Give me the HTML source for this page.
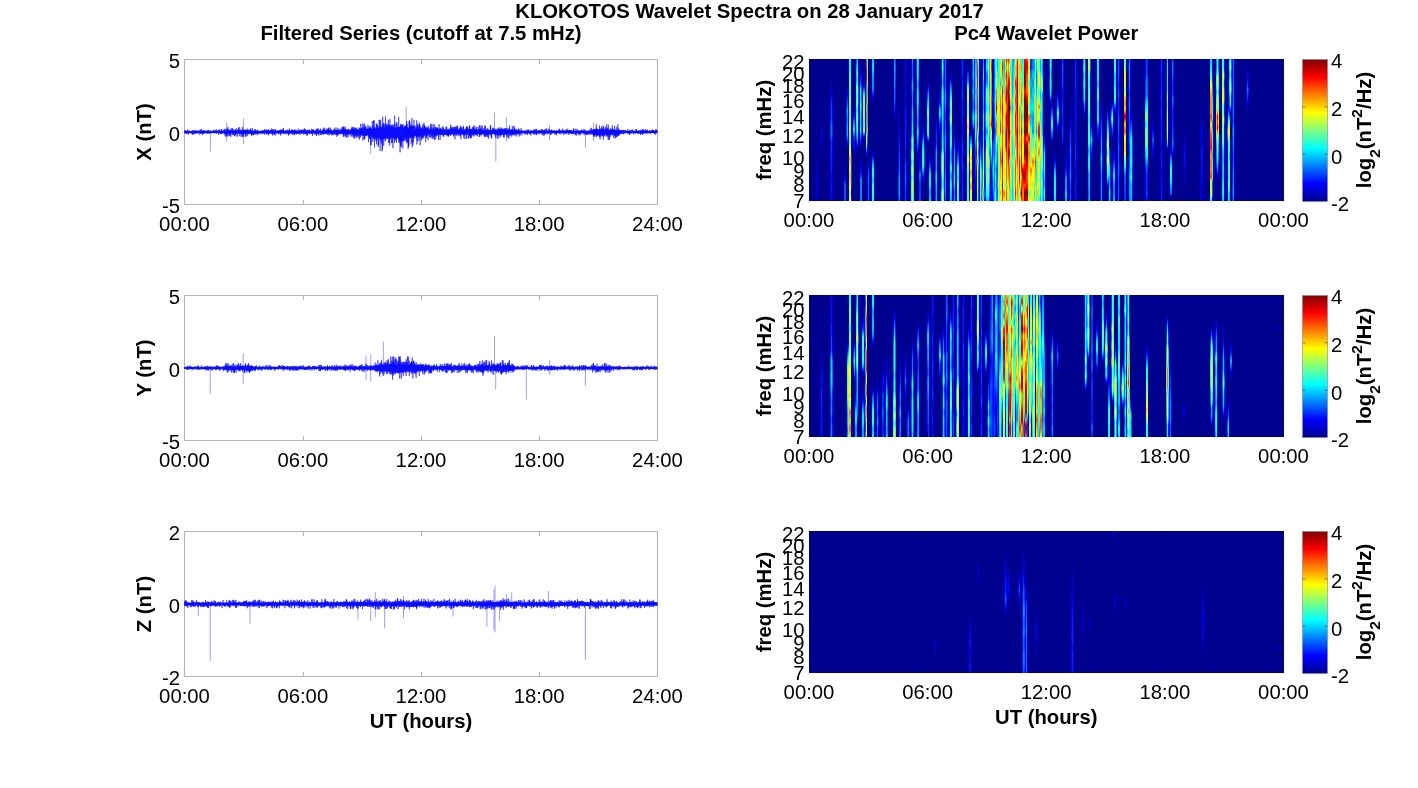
<!DOCTYPE html><html><head><meta charset="utf-8"><style>html,body{margin:0;padding:0;background:#fff;width:1418px;height:788px;overflow:hidden}svg{display:block}text{font-family:"Liberation Sans", Arial, Helvetica, sans-serif;font-size:20.3px;fill:#000;opacity:0.999}.b{font-weight:bold}.l{mix-blend-mode:lighten}</style></head><body>
<svg width="1418" height="788" viewBox="0 0 1418 788">
<defs><filter id="jet" x="0" y="0" width="1" height="1" color-interpolation-filters="sRGB"><feComponentTransfer><feFuncR type="table" tableValues="0 0 0 0 0.5 1 1 1 0.5"/><feFuncG type="table" tableValues="0 0 0.5 1 1 1 0.5 0 0"/><feFuncB type="table" tableValues="0.5625 1 1 1 0.5 0 0 0 0"/><feFuncA type="linear" slope="0" intercept="1"/></feComponentTransfer></filter><linearGradient id="cbg" x1="0" y1="1" x2="0" y2="0"><stop offset="0" stop-color="#000090"/><stop offset="0.125" stop-color="#0000ff"/><stop offset="0.375" stop-color="#00ffff"/><stop offset="0.625" stop-color="#ffff00"/><stop offset="0.875" stop-color="#ff0000"/><stop offset="1" stop-color="#800000"/></linearGradient></defs>
<text class="b" x="515.3" y="18.2" textLength="468.5" lengthAdjust="spacingAndGlyphs">KLOKOTOS Wavelet Spectra on 28 January 2017</text>
<text class="b" x="421.0" y="39.6" text-anchor="middle">Filtered Series (cutoff at 7.5 mHz)</text>
<text class="b" x="1046.25" y="39.5" text-anchor="middle">Pc4 Wavelet Power</text>
<rect x="184.5" y="59.5" width="473.0" height="145.0" fill="none" stroke="#b4b4b4" stroke-width="1"/>
<path d="M303.5 59.5v4.5M303.5 204.5v-4.5" stroke="#b4b4b4" stroke-width="1"/>
<path d="M421.5 59.5v4.5M421.5 204.5v-4.5" stroke="#b4b4b4" stroke-width="1"/>
<path d="M539.5 59.5v4.5M539.5 204.5v-4.5" stroke="#b4b4b4" stroke-width="1"/>
<text x="184.5" y="230.6" text-anchor="middle">00:00</text>
<text x="302.8" y="230.6" text-anchor="middle">06:00</text>
<text x="421.0" y="230.6" text-anchor="middle">12:00</text>
<text x="539.2" y="230.6" text-anchor="middle">18:00</text>
<text x="657.5" y="230.6" text-anchor="middle">24:00</text>
<text x="180.0" y="213.1" text-anchor="end">-5</text>
<path d="M184.5 132.5h4.5M657.5 132.5h-4.5" stroke="#b4b4b4" stroke-width="1"/>
<text x="180.0" y="140.6" text-anchor="end">0</text>
<text x="180.0" y="68.1" text-anchor="end">5</text>
<text class="b" transform="translate(150.7 132.0) rotate(-90)" text-anchor="middle">X (nT)</text>
<rect x="184.5" y="295.5" width="473.0" height="145.0" fill="none" stroke="#b4b4b4" stroke-width="1"/>
<path d="M303.5 295.5v4.5M303.5 440.5v-4.5" stroke="#b4b4b4" stroke-width="1"/>
<path d="M421.5 295.5v4.5M421.5 440.5v-4.5" stroke="#b4b4b4" stroke-width="1"/>
<path d="M539.5 295.5v4.5M539.5 440.5v-4.5" stroke="#b4b4b4" stroke-width="1"/>
<text x="184.5" y="466.6" text-anchor="middle">00:00</text>
<text x="302.8" y="466.6" text-anchor="middle">06:00</text>
<text x="421.0" y="466.6" text-anchor="middle">12:00</text>
<text x="539.2" y="466.6" text-anchor="middle">18:00</text>
<text x="657.5" y="466.6" text-anchor="middle">24:00</text>
<text x="180.0" y="449.1" text-anchor="end">-5</text>
<path d="M184.5 368.5h4.5M657.5 368.5h-4.5" stroke="#b4b4b4" stroke-width="1"/>
<text x="180.0" y="376.6" text-anchor="end">0</text>
<text x="180.0" y="304.1" text-anchor="end">5</text>
<text class="b" transform="translate(150.7 368.0) rotate(-90)" text-anchor="middle">Y (nT)</text>
<rect x="184.5" y="531.5" width="473.0" height="145.0" fill="none" stroke="#b4b4b4" stroke-width="1"/>
<path d="M303.5 531.5v4.5M303.5 676.5v-4.5" stroke="#b4b4b4" stroke-width="1"/>
<path d="M421.5 531.5v4.5M421.5 676.5v-4.5" stroke="#b4b4b4" stroke-width="1"/>
<path d="M539.5 531.5v4.5M539.5 676.5v-4.5" stroke="#b4b4b4" stroke-width="1"/>
<text x="184.5" y="702.6" text-anchor="middle">00:00</text>
<text x="302.8" y="702.6" text-anchor="middle">06:00</text>
<text x="421.0" y="702.6" text-anchor="middle">12:00</text>
<text x="539.2" y="702.6" text-anchor="middle">18:00</text>
<text x="657.5" y="702.6" text-anchor="middle">24:00</text>
<text x="180.0" y="685.1" text-anchor="end">-2</text>
<path d="M184.5 604.5h4.5M657.5 604.5h-4.5" stroke="#b4b4b4" stroke-width="1"/>
<text x="180.0" y="612.6" text-anchor="end">0</text>
<text x="180.0" y="540.1" text-anchor="end">2</text>
<text class="b" transform="translate(150.7 604.0) rotate(-90)" text-anchor="middle">Z (nT)</text>
<text class="b" x="421.0" y="727.8" text-anchor="middle">UT (hours)</text>
<text class="b" x="1046.25" y="723.6" text-anchor="middle">UT (hours)</text>
<g filter="url(#jet)"><rect x="809.0" y="59.0" width="474.5" height="142.0" fill="#000"/>
<g style="isolation:isolate"><defs><linearGradient id="g1" x2="0" y2="1"><stop offset="0.000" stop-color="#000000"/><stop offset="0.163" stop-color="#060606"/><stop offset="0.327" stop-color="#101010"/><stop offset="0.490" stop-color="#151515"/><stop offset="0.660" stop-color="#171717"/><stop offset="0.830" stop-color="#131313"/><stop offset="1.000" stop-color="#151515"/></linearGradient><linearGradient id="g2" x2="0" y2="1"><stop offset="0.000" stop-color="#000000"/><stop offset="0.148" stop-color="#090909"/><stop offset="0.296" stop-color="#111111"/><stop offset="0.444" stop-color="#1a1a1a"/><stop offset="0.630" stop-color="#131313"/><stop offset="0.815" stop-color="#0a0a0a"/><stop offset="1.000" stop-color="#000000"/></linearGradient><linearGradient id="g3" x2="0" y2="1"><stop offset="0.000" stop-color="#000000"/><stop offset="0.066" stop-color="#0c0c0c"/><stop offset="0.132" stop-color="#161616"/><stop offset="0.198" stop-color="#2a2a2a"/><stop offset="0.268" stop-color="#363636"/><stop offset="0.337" stop-color="#333333"/><stop offset="0.407" stop-color="#404040"/><stop offset="0.476" stop-color="#3f3f3f"/><stop offset="0.542" stop-color="#2c2c2c"/><stop offset="0.608" stop-color="#303030"/><stop offset="0.675" stop-color="#2a2a2a"/><stop offset="0.740" stop-color="#2b2b2b"/><stop offset="0.805" stop-color="#202020"/><stop offset="0.870" stop-color="#282828"/><stop offset="0.935" stop-color="#242424"/><stop offset="1.000" stop-color="#1b1b1b"/></linearGradient><linearGradient id="g4" x2="0" y2="1"><stop offset="0.000" stop-color="#000000"/><stop offset="0.203" stop-color="#0e0e0e"/><stop offset="0.407" stop-color="#1c1c1c"/><stop offset="0.610" stop-color="#353535"/><stop offset="0.805" stop-color="#353535"/><stop offset="1.000" stop-color="#353535"/></linearGradient><linearGradient id="g5" x2="0" y2="1"><stop offset="0.000" stop-color="#000000"/><stop offset="0.124" stop-color="#1f1f1f"/><stop offset="0.249" stop-color="#323232"/><stop offset="0.373" stop-color="#4f4f4f"/><stop offset="0.498" stop-color="#454545"/><stop offset="0.622" stop-color="#4c4c4c"/><stop offset="0.746" stop-color="#4f4f4f"/><stop offset="0.873" stop-color="#1f1f1f"/><stop offset="1.000" stop-color="#000000"/></linearGradient><linearGradient id="g6" x2="0" y2="1"><stop offset="0.000" stop-color="#6e6e6e"/><stop offset="0.058" stop-color="#646464"/><stop offset="0.115" stop-color="#737373"/><stop offset="0.173" stop-color="#7b7b7b"/><stop offset="0.231" stop-color="#707070"/><stop offset="0.289" stop-color="#838383"/><stop offset="0.347" stop-color="#777777"/><stop offset="0.406" stop-color="#797979"/><stop offset="0.465" stop-color="#8b8b8b"/><stop offset="0.523" stop-color="#848484"/><stop offset="0.582" stop-color="#757575"/><stop offset="0.641" stop-color="#989898"/><stop offset="0.702" stop-color="#b3b3b3"/><stop offset="0.764" stop-color="#a3a3a3"/><stop offset="0.826" stop-color="#acacac"/><stop offset="0.887" stop-color="#a5a5a5"/><stop offset="0.944" stop-color="#8b8b8b"/><stop offset="1.000" stop-color="#9e9e9e"/></linearGradient><linearGradient id="g7" x2="0" y2="1"><stop offset="0.000" stop-color="#000000"/><stop offset="0.147" stop-color="#252525"/><stop offset="0.293" stop-color="#474747"/><stop offset="0.440" stop-color="#5c5c5c"/><stop offset="0.580" stop-color="#393939"/><stop offset="0.720" stop-color="#2b2b2b"/><stop offset="0.860" stop-color="#191919"/><stop offset="1.000" stop-color="#000000"/></linearGradient><linearGradient id="g8" x2="0" y2="1"><stop offset="0.000" stop-color="#4f4f4f"/><stop offset="0.075" stop-color="#626262"/><stop offset="0.150" stop-color="#777777"/><stop offset="0.225" stop-color="#6b6b6b"/><stop offset="0.300" stop-color="#8a8a8a"/><stop offset="0.375" stop-color="#838383"/><stop offset="0.453" stop-color="#8c8c8c"/><stop offset="0.531" stop-color="#767676"/><stop offset="0.609" stop-color="#848484"/><stop offset="0.688" stop-color="#7e7e7e"/><stop offset="0.766" stop-color="#6e6e6e"/><stop offset="0.844" stop-color="#494949"/><stop offset="0.922" stop-color="#202020"/><stop offset="1.000" stop-color="#000000"/></linearGradient><linearGradient id="g9" x2="0" y2="1"><stop offset="0.000" stop-color="#000000"/><stop offset="0.089" stop-color="#242424"/><stop offset="0.179" stop-color="#383838"/><stop offset="0.268" stop-color="#696969"/><stop offset="0.366" stop-color="#5c5c5c"/><stop offset="0.463" stop-color="#747474"/><stop offset="0.561" stop-color="#626262"/><stop offset="0.659" stop-color="#565656"/><stop offset="0.756" stop-color="#646464"/><stop offset="0.837" stop-color="#444444"/><stop offset="0.919" stop-color="#242424"/><stop offset="1.000" stop-color="#000000"/></linearGradient><linearGradient id="g10" x2="0" y2="1"><stop offset="0.000" stop-color="#000000"/><stop offset="0.181" stop-color="#181818"/><stop offset="0.362" stop-color="#292929"/><stop offset="0.543" stop-color="#424242"/><stop offset="0.696" stop-color="#404040"/><stop offset="0.848" stop-color="#424242"/><stop offset="1.000" stop-color="#424242"/></linearGradient><linearGradient id="g11" x2="0" y2="1"><stop offset="0.000" stop-color="#000000"/><stop offset="0.108" stop-color="#313131"/><stop offset="0.215" stop-color="#585858"/><stop offset="0.323" stop-color="#838383"/><stop offset="0.444" stop-color="#7d7d7d"/><stop offset="0.565" stop-color="#838383"/><stop offset="0.685" stop-color="#686868"/><stop offset="0.806" stop-color="#838383"/><stop offset="0.903" stop-color="#343434"/><stop offset="1.000" stop-color="#000000"/></linearGradient><linearGradient id="g12" x2="0" y2="1"><stop offset="0.000" stop-color="#c8c8c8"/><stop offset="0.083" stop-color="#dcdcdc"/><stop offset="0.166" stop-color="#f7f7f7"/><stop offset="0.248" stop-color="#d6d6d6"/><stop offset="0.331" stop-color="#c6c6c6"/><stop offset="0.414" stop-color="#d2d2d2"/><stop offset="0.488" stop-color="#aeaeae"/><stop offset="0.562" stop-color="#c4c4c4"/><stop offset="0.636" stop-color="#bdbdbd"/><stop offset="0.717" stop-color="#cfcfcf"/><stop offset="0.798" stop-color="#989898"/><stop offset="0.859" stop-color="#818181"/><stop offset="0.919" stop-color="#4f4f4f"/><stop offset="1.000" stop-color="#000000"/></linearGradient><linearGradient id="g13" x2="0" y2="1"><stop offset="0.000" stop-color="#000000"/><stop offset="0.181" stop-color="#161616"/><stop offset="0.362" stop-color="#333333"/><stop offset="0.543" stop-color="#424242"/><stop offset="0.696" stop-color="#383838"/><stop offset="0.848" stop-color="#3d3d3d"/><stop offset="1.000" stop-color="#3a3a3a"/></linearGradient><linearGradient id="g14" x2="0" y2="1"><stop offset="0.000" stop-color="#4f4f4f"/><stop offset="0.168" stop-color="#5b5b5b"/><stop offset="0.337" stop-color="#4b4b4b"/><stop offset="0.505" stop-color="#444444"/><stop offset="0.674" stop-color="#424242"/><stop offset="0.837" stop-color="#1d1d1d"/><stop offset="1.000" stop-color="#000000"/></linearGradient><linearGradient id="g15" x2="0" y2="1"><stop offset="0.000" stop-color="#000000"/><stop offset="0.164" stop-color="#242424"/><stop offset="0.327" stop-color="#545454"/><stop offset="0.491" stop-color="#696969"/><stop offset="0.618" stop-color="#505050"/><stop offset="0.745" stop-color="#6f6f6f"/><stop offset="0.873" stop-color="#6d6d6d"/><stop offset="1.000" stop-color="#5c5c5c"/></linearGradient><linearGradient id="g16" x2="0" y2="1"><stop offset="0.000" stop-color="#424242"/><stop offset="0.124" stop-color="#4b4b4b"/><stop offset="0.248" stop-color="#454545"/><stop offset="0.373" stop-color="#454545"/><stop offset="0.497" stop-color="#3c3c3c"/><stop offset="0.621" stop-color="#3a3a3a"/><stop offset="0.747" stop-color="#282828"/><stop offset="0.874" stop-color="#131313"/><stop offset="1.000" stop-color="#000000"/></linearGradient><linearGradient id="g17" x2="0" y2="1"><stop offset="0.000" stop-color="#000000"/><stop offset="0.083" stop-color="#060606"/><stop offset="0.165" stop-color="#121212"/><stop offset="0.248" stop-color="#181818"/><stop offset="0.330" stop-color="#1b1b1b"/><stop offset="0.413" stop-color="#272727"/><stop offset="0.495" stop-color="#2f2f2f"/><stop offset="0.569" stop-color="#353535"/><stop offset="0.644" stop-color="#393939"/><stop offset="0.718" stop-color="#3e3e3e"/><stop offset="0.792" stop-color="#4a4a4a"/><stop offset="0.861" stop-color="#484848"/><stop offset="0.931" stop-color="#484848"/><stop offset="1.000" stop-color="#424242"/></linearGradient><linearGradient id="g18" x2="0" y2="1"><stop offset="0.000" stop-color="#202020"/><stop offset="0.058" stop-color="#222222"/><stop offset="0.117" stop-color="#202020"/><stop offset="0.175" stop-color="#1a1a1a"/><stop offset="0.233" stop-color="#1e1e1e"/><stop offset="0.291" stop-color="#1d1d1d"/><stop offset="0.350" stop-color="#242424"/><stop offset="0.408" stop-color="#292929"/><stop offset="0.466" stop-color="#292929"/><stop offset="0.524" stop-color="#292929"/><stop offset="0.583" stop-color="#2a2a2a"/><stop offset="0.641" stop-color="#262626"/><stop offset="0.702" stop-color="#262626"/><stop offset="0.764" stop-color="#383838"/><stop offset="0.826" stop-color="#3a3a3a"/><stop offset="0.887" stop-color="#3b3b3b"/><stop offset="0.944" stop-color="#2d2d2d"/><stop offset="1.000" stop-color="#353535"/></linearGradient><linearGradient id="g19" x2="0" y2="1"><stop offset="0.000" stop-color="#4a4a4a"/><stop offset="0.061" stop-color="#3b3b3b"/><stop offset="0.123" stop-color="#3c3c3c"/><stop offset="0.184" stop-color="#575757"/><stop offset="0.245" stop-color="#474747"/><stop offset="0.307" stop-color="#434343"/><stop offset="0.368" stop-color="#575757"/><stop offset="0.430" stop-color="#545454"/><stop offset="0.477" stop-color="#5f5f5f"/><stop offset="0.523" stop-color="#616161"/><stop offset="0.570" stop-color="#898989"/><stop offset="0.623" stop-color="#797979"/><stop offset="0.676" stop-color="#959595"/><stop offset="0.729" stop-color="#828282"/><stop offset="0.782" stop-color="#9e9e9e"/><stop offset="0.836" stop-color="#8b8b8b"/><stop offset="0.891" stop-color="#a5a5a5"/><stop offset="0.945" stop-color="#919191"/><stop offset="1.000" stop-color="#909090"/></linearGradient><linearGradient id="g20" x2="0" y2="1"><stop offset="0.000" stop-color="#696969"/><stop offset="0.080" stop-color="#606060"/><stop offset="0.159" stop-color="#666666"/><stop offset="0.239" stop-color="#515151"/><stop offset="0.318" stop-color="#606060"/><stop offset="0.398" stop-color="#646464"/><stop offset="0.476" stop-color="#5c5c5c"/><stop offset="0.553" stop-color="#4f4f4f"/><stop offset="0.631" stop-color="#484848"/><stop offset="0.709" stop-color="#626262"/><stop offset="0.786" stop-color="#4f4f4f"/><stop offset="0.858" stop-color="#353535"/><stop offset="0.929" stop-color="#171717"/><stop offset="1.000" stop-color="#000000"/></linearGradient><linearGradient id="g21" x2="0" y2="1"><stop offset="0.000" stop-color="#000000"/><stop offset="0.134" stop-color="#111111"/><stop offset="0.268" stop-color="#252525"/><stop offset="0.402" stop-color="#272727"/><stop offset="0.536" stop-color="#424242"/><stop offset="0.690" stop-color="#323232"/><stop offset="0.845" stop-color="#333333"/><stop offset="1.000" stop-color="#3a3a3a"/></linearGradient><linearGradient id="g22" x2="0" y2="1"><stop offset="0.000" stop-color="#000000"/><stop offset="0.115" stop-color="#1b1b1b"/><stop offset="0.231" stop-color="#2a2a2a"/><stop offset="0.346" stop-color="#525252"/><stop offset="0.462" stop-color="#646464"/><stop offset="0.577" stop-color="#717171"/><stop offset="0.692" stop-color="#6e6e6e"/><stop offset="0.795" stop-color="#4b4b4b"/><stop offset="0.897" stop-color="#202020"/><stop offset="1.000" stop-color="#000000"/></linearGradient><linearGradient id="g23" x2="0" y2="1"><stop offset="0.000" stop-color="#000000"/><stop offset="0.131" stop-color="#282828"/><stop offset="0.261" stop-color="#4a4a4a"/><stop offset="0.392" stop-color="#636363"/><stop offset="0.522" stop-color="#838383"/><stop offset="0.632" stop-color="#6d6d6d"/><stop offset="0.741" stop-color="#7d7d7d"/><stop offset="0.851" stop-color="#6e6e6e"/><stop offset="0.925" stop-color="#353535"/><stop offset="1.000" stop-color="#000000"/></linearGradient><linearGradient id="g24" x2="0" y2="1"><stop offset="0.000" stop-color="#000000"/><stop offset="0.163" stop-color="#202020"/><stop offset="0.327" stop-color="#383838"/><stop offset="0.490" stop-color="#5c5c5c"/><stop offset="0.660" stop-color="#5e5e5e"/><stop offset="0.830" stop-color="#464646"/><stop offset="1.000" stop-color="#545454"/></linearGradient><linearGradient id="g25" x2="0" y2="1"><stop offset="0.000" stop-color="#000000"/><stop offset="0.092" stop-color="#0c0c0c"/><stop offset="0.183" stop-color="#202020"/><stop offset="0.275" stop-color="#2e2e2e"/><stop offset="0.366" stop-color="#303030"/><stop offset="0.458" stop-color="#4c4c4c"/><stop offset="0.549" stop-color="#4f4f4f"/><stop offset="0.640" stop-color="#484848"/><stop offset="0.730" stop-color="#5e5e5e"/><stop offset="0.820" stop-color="#575757"/><stop offset="0.910" stop-color="#4c4c4c"/><stop offset="1.000" stop-color="#4f4f4f"/></linearGradient><linearGradient id="g26" x2="0" y2="1"><stop offset="0.000" stop-color="#000000"/><stop offset="0.130" stop-color="#141414"/><stop offset="0.260" stop-color="#242424"/><stop offset="0.389" stop-color="#505050"/><stop offset="0.519" stop-color="#5c5c5c"/><stop offset="0.679" stop-color="#313131"/><stop offset="0.840" stop-color="#232323"/><stop offset="1.000" stop-color="#000000"/></linearGradient><linearGradient id="g27" x2="0" y2="1"><stop offset="0.000" stop-color="#5c5c5c"/><stop offset="0.057" stop-color="#707070"/><stop offset="0.114" stop-color="#606060"/><stop offset="0.171" stop-color="#515151"/><stop offset="0.228" stop-color="#6e6e6e"/><stop offset="0.285" stop-color="#747474"/><stop offset="0.342" stop-color="#696969"/><stop offset="0.399" stop-color="#626262"/><stop offset="0.456" stop-color="#5d5d5d"/><stop offset="0.513" stop-color="#5c5c5c"/><stop offset="0.570" stop-color="#646464"/><stop offset="0.629" stop-color="#646464"/><stop offset="0.688" stop-color="#8c8c8c"/><stop offset="0.746" stop-color="#909090"/><stop offset="0.797" stop-color="#8c8c8c"/><stop offset="0.848" stop-color="#7d7d7d"/><stop offset="0.899" stop-color="#777777"/><stop offset="0.949" stop-color="#9b9b9b"/><stop offset="1.000" stop-color="#909090"/></linearGradient><linearGradient id="g28" x2="0" y2="1"><stop offset="0.000" stop-color="#3f3f3f"/><stop offset="0.062" stop-color="#393939"/><stop offset="0.125" stop-color="#3f3f3f"/><stop offset="0.188" stop-color="#393939"/><stop offset="0.250" stop-color="#484848"/><stop offset="0.312" stop-color="#494949"/><stop offset="0.375" stop-color="#303030"/><stop offset="0.438" stop-color="#353535"/><stop offset="0.500" stop-color="#383838"/><stop offset="0.562" stop-color="#4a4a4a"/><stop offset="0.625" stop-color="#444444"/><stop offset="0.688" stop-color="#383838"/><stop offset="0.750" stop-color="#343434"/><stop offset="0.812" stop-color="#404040"/><stop offset="0.875" stop-color="#444444"/><stop offset="0.938" stop-color="#464646"/><stop offset="1.000" stop-color="#3b3b3b"/></linearGradient><linearGradient id="g29" x2="0" y2="1"><stop offset="0.000" stop-color="#000000"/><stop offset="0.065" stop-color="#1d1d1d"/><stop offset="0.130" stop-color="#484848"/><stop offset="0.195" stop-color="#646464"/><stop offset="0.260" stop-color="#7b7b7b"/><stop offset="0.319" stop-color="#767676"/><stop offset="0.378" stop-color="#8b8b8b"/><stop offset="0.437" stop-color="#616161"/><stop offset="0.496" stop-color="#696969"/><stop offset="0.559" stop-color="#717171"/><stop offset="0.622" stop-color="#525252"/><stop offset="0.685" stop-color="#545454"/><stop offset="0.748" stop-color="#717171"/><stop offset="0.811" stop-color="#525252"/><stop offset="0.874" stop-color="#666666"/><stop offset="0.937" stop-color="#5d5d5d"/><stop offset="1.000" stop-color="#575757"/></linearGradient><linearGradient id="g30" x2="0" y2="1"><stop offset="0.000" stop-color="#000000"/><stop offset="0.087" stop-color="#0f0f0f"/><stop offset="0.174" stop-color="#191919"/><stop offset="0.262" stop-color="#252525"/><stop offset="0.349" stop-color="#303030"/><stop offset="0.436" stop-color="#4c4c4c"/><stop offset="0.523" stop-color="#4f4f4f"/><stop offset="0.619" stop-color="#525252"/><stop offset="0.714" stop-color="#5f5f5f"/><stop offset="0.809" stop-color="#5c5c5c"/><stop offset="0.905" stop-color="#424242"/><stop offset="1.000" stop-color="#4f4f4f"/></linearGradient><linearGradient id="g31" x2="0" y2="1"><stop offset="0.000" stop-color="#000000"/><stop offset="0.133" stop-color="#1c1c1c"/><stop offset="0.265" stop-color="#2e2e2e"/><stop offset="0.398" stop-color="#424242"/><stop offset="0.530" stop-color="#6e6e6e"/><stop offset="0.648" stop-color="#575757"/><stop offset="0.765" stop-color="#7a7a7a"/><stop offset="0.883" stop-color="#737373"/><stop offset="1.000" stop-color="#646464"/></linearGradient><linearGradient id="g32" x2="0" y2="1"><stop offset="0.000" stop-color="#2a2a2a"/><stop offset="0.062" stop-color="#303030"/><stop offset="0.125" stop-color="#272727"/><stop offset="0.188" stop-color="#2c2c2c"/><stop offset="0.250" stop-color="#2f2f2f"/><stop offset="0.312" stop-color="#282828"/><stop offset="0.375" stop-color="#2b2b2b"/><stop offset="0.438" stop-color="#252525"/><stop offset="0.500" stop-color="#222222"/><stop offset="0.562" stop-color="#262626"/><stop offset="0.625" stop-color="#313131"/><stop offset="0.688" stop-color="#2b2b2b"/><stop offset="0.750" stop-color="#323232"/><stop offset="0.812" stop-color="#292929"/><stop offset="0.875" stop-color="#262626"/><stop offset="0.938" stop-color="#2f2f2f"/><stop offset="1.000" stop-color="#2a2a2a"/></linearGradient><linearGradient id="g33" x2="0" y2="1"><stop offset="0.000" stop-color="#000000"/><stop offset="0.061" stop-color="#323232"/><stop offset="0.123" stop-color="#454545"/><stop offset="0.184" stop-color="#838383"/><stop offset="0.239" stop-color="#949494"/><stop offset="0.294" stop-color="#777777"/><stop offset="0.349" stop-color="#7d7d7d"/><stop offset="0.404" stop-color="#9e9e9e"/><stop offset="0.460" stop-color="#acacac"/><stop offset="0.515" stop-color="#898989"/><stop offset="0.575" stop-color="#6b6b6b"/><stop offset="0.636" stop-color="#757575"/><stop offset="0.697" stop-color="#9e9e9e"/><stop offset="0.757" stop-color="#7b7b7b"/><stop offset="0.818" stop-color="#686868"/><stop offset="0.879" stop-color="#696969"/><stop offset="0.939" stop-color="#6b6b6b"/><stop offset="1.000" stop-color="#767676"/></linearGradient><linearGradient id="g34" x2="0" y2="1"><stop offset="0.000" stop-color="#000000"/><stop offset="0.094" stop-color="#353535"/><stop offset="0.188" stop-color="#4f4f4f"/><stop offset="0.282" stop-color="#909090"/><stop offset="0.387" stop-color="#aeaeae"/><stop offset="0.493" stop-color="#8f8f8f"/><stop offset="0.599" stop-color="#bababa"/><stop offset="0.704" stop-color="#9e9e9e"/><stop offset="0.803" stop-color="#bababa"/><stop offset="0.901" stop-color="#8f8f8f"/><stop offset="1.000" stop-color="#9e9e9e"/></linearGradient><linearGradient id="g35" x2="0" y2="1"><stop offset="0.000" stop-color="#5c5c5c"/><stop offset="0.109" stop-color="#505050"/><stop offset="0.217" stop-color="#585858"/><stop offset="0.326" stop-color="#484848"/><stop offset="0.434" stop-color="#5b5b5b"/><stop offset="0.543" stop-color="#434343"/><stop offset="0.651" stop-color="#404040"/><stop offset="0.760" stop-color="#626262"/><stop offset="0.868" stop-color="#4f4f4f"/><stop offset="0.934" stop-color="#242424"/><stop offset="1.000" stop-color="#000000"/></linearGradient><linearGradient id="g36" x2="0" y2="1"><stop offset="0.000" stop-color="#494949"/><stop offset="0.056" stop-color="#535353"/><stop offset="0.113" stop-color="#555555"/><stop offset="0.171" stop-color="#565656"/><stop offset="0.230" stop-color="#545454"/><stop offset="0.289" stop-color="#5e5e5e"/><stop offset="0.347" stop-color="#4e4e4e"/><stop offset="0.406" stop-color="#767676"/><stop offset="0.465" stop-color="#666666"/><stop offset="0.512" stop-color="#6c6c6c"/><stop offset="0.559" stop-color="#5d5d5d"/><stop offset="0.606" stop-color="#414141"/><stop offset="0.664" stop-color="#313131"/><stop offset="0.723" stop-color="#2f2f2f"/><stop offset="0.782" stop-color="#303030"/><stop offset="0.836" stop-color="#262626"/><stop offset="0.891" stop-color="#1d1d1d"/><stop offset="0.945" stop-color="#0c0c0c"/><stop offset="1.000" stop-color="#000000"/></linearGradient><linearGradient id="g37" x2="0" y2="1"><stop offset="0.000" stop-color="#b1b1b1"/><stop offset="0.056" stop-color="#d5d5d5"/><stop offset="0.113" stop-color="#d9d9d9"/><stop offset="0.171" stop-color="#e9e9e9"/><stop offset="0.230" stop-color="#c2c2c2"/><stop offset="0.289" stop-color="#dadada"/><stop offset="0.347" stop-color="#e2e2e2"/><stop offset="0.406" stop-color="#d0d0d0"/><stop offset="0.465" stop-color="#e7e7e7"/><stop offset="0.512" stop-color="#b9b9b9"/><stop offset="0.559" stop-color="#989898"/><stop offset="0.606" stop-color="#a4a4a4"/><stop offset="0.664" stop-color="#919191"/><stop offset="0.723" stop-color="#c0c0c0"/><stop offset="0.782" stop-color="#9c9c9c"/><stop offset="0.836" stop-color="#929292"/><stop offset="0.891" stop-color="#989898"/><stop offset="0.945" stop-color="#909090"/><stop offset="1.000" stop-color="#818181"/></linearGradient><linearGradient id="g38" x2="0" y2="1"><stop offset="0.000" stop-color="#0d0d0d"/><stop offset="0.056" stop-color="#121212"/><stop offset="0.113" stop-color="#101010"/><stop offset="0.171" stop-color="#0a0a0a"/><stop offset="0.230" stop-color="#050505"/><stop offset="0.289" stop-color="#000000"/><stop offset="0.347" stop-color="#000000"/><stop offset="0.406" stop-color="#000000"/><stop offset="0.465" stop-color="#000000"/><stop offset="0.512" stop-color="#121212"/><stop offset="0.559" stop-color="#252525"/><stop offset="0.606" stop-color="#303030"/><stop offset="0.664" stop-color="#444444"/><stop offset="0.723" stop-color="#5d5d5d"/><stop offset="0.782" stop-color="#7f7f7f"/><stop offset="0.836" stop-color="#7d7d7d"/><stop offset="0.891" stop-color="#7a7a7a"/><stop offset="0.945" stop-color="#767676"/><stop offset="1.000" stop-color="#6d6d6d"/></linearGradient><linearGradient id="g39" x2="0" y2="1"><stop offset="0.000" stop-color="#434343"/><stop offset="0.056" stop-color="#4d4d4d"/><stop offset="0.113" stop-color="#6b6b6b"/><stop offset="0.171" stop-color="#4e4e4e"/><stop offset="0.230" stop-color="#505050"/><stop offset="0.289" stop-color="#515151"/><stop offset="0.347" stop-color="#484848"/><stop offset="0.406" stop-color="#646464"/><stop offset="0.465" stop-color="#6a6a6a"/><stop offset="0.512" stop-color="#595959"/><stop offset="0.559" stop-color="#5b5b5b"/><stop offset="0.606" stop-color="#747474"/><stop offset="0.664" stop-color="#858585"/><stop offset="0.723" stop-color="#7b7b7b"/><stop offset="0.782" stop-color="#919191"/><stop offset="0.836" stop-color="#ababab"/><stop offset="0.891" stop-color="#9e9e9e"/><stop offset="0.945" stop-color="#c0c0c0"/><stop offset="1.000" stop-color="#adadad"/></linearGradient><linearGradient id="g40" x2="0" y2="1"><stop offset="0.000" stop-color="#181818"/><stop offset="0.056" stop-color="#151515"/><stop offset="0.113" stop-color="#1b1b1b"/><stop offset="0.171" stop-color="#272727"/><stop offset="0.230" stop-color="#393939"/><stop offset="0.289" stop-color="#3e3e3e"/><stop offset="0.347" stop-color="#313131"/><stop offset="0.406" stop-color="#474747"/><stop offset="0.465" stop-color="#3a3a3a"/><stop offset="0.512" stop-color="#2a2a2a"/><stop offset="0.559" stop-color="#2e2e2e"/><stop offset="0.606" stop-color="#212121"/><stop offset="0.664" stop-color="#343434"/><stop offset="0.723" stop-color="#3b3b3b"/><stop offset="0.782" stop-color="#3d3d3d"/><stop offset="0.836" stop-color="#333333"/><stop offset="0.891" stop-color="#2a2a2a"/><stop offset="0.945" stop-color="#2d2d2d"/><stop offset="1.000" stop-color="#272727"/></linearGradient><linearGradient id="g41" x2="0" y2="1"><stop offset="0.000" stop-color="#6e6e6e"/><stop offset="0.056" stop-color="#787878"/><stop offset="0.113" stop-color="#5d5d5d"/><stop offset="0.171" stop-color="#636363"/><stop offset="0.230" stop-color="#939393"/><stop offset="0.289" stop-color="#8d8d8d"/><stop offset="0.347" stop-color="#737373"/><stop offset="0.406" stop-color="#9d9d9d"/><stop offset="0.465" stop-color="#808080"/><stop offset="0.512" stop-color="#6b6b6b"/><stop offset="0.559" stop-color="#838383"/><stop offset="0.606" stop-color="#959595"/><stop offset="0.664" stop-color="#b1b1b1"/><stop offset="0.723" stop-color="#ababab"/><stop offset="0.782" stop-color="#989898"/><stop offset="0.836" stop-color="#a6a6a6"/><stop offset="0.891" stop-color="#959595"/><stop offset="0.945" stop-color="#848484"/><stop offset="1.000" stop-color="#6c6c6c"/></linearGradient><linearGradient id="g42" x2="0" y2="1"><stop offset="0.000" stop-color="#838383"/><stop offset="0.056" stop-color="#8f8f8f"/><stop offset="0.113" stop-color="#848484"/><stop offset="0.171" stop-color="#757575"/><stop offset="0.230" stop-color="#888888"/><stop offset="0.289" stop-color="#909090"/><stop offset="0.347" stop-color="#797979"/><stop offset="0.406" stop-color="#9b9b9b"/><stop offset="0.465" stop-color="#8c8c8c"/><stop offset="0.512" stop-color="#959595"/><stop offset="0.559" stop-color="#7b7b7b"/><stop offset="0.606" stop-color="#898989"/><stop offset="0.664" stop-color="#6e6e6e"/><stop offset="0.723" stop-color="#a5a5a5"/><stop offset="0.782" stop-color="#898989"/><stop offset="0.836" stop-color="#8f8f8f"/><stop offset="0.891" stop-color="#757575"/><stop offset="0.945" stop-color="#696969"/><stop offset="1.000" stop-color="#5c5c5c"/></linearGradient><linearGradient id="g43" x2="0" y2="1"><stop offset="0.000" stop-color="#c0c0c0"/><stop offset="0.056" stop-color="#dddddd"/><stop offset="0.113" stop-color="#bebebe"/><stop offset="0.171" stop-color="#bfbfbf"/><stop offset="0.230" stop-color="#bfbfbf"/><stop offset="0.289" stop-color="#cdcdcd"/><stop offset="0.347" stop-color="#c7c7c7"/><stop offset="0.406" stop-color="#c7c7c7"/><stop offset="0.465" stop-color="#e8e8e8"/><stop offset="0.512" stop-color="#9d9d9d"/><stop offset="0.559" stop-color="#b1b1b1"/><stop offset="0.606" stop-color="#858585"/><stop offset="0.664" stop-color="#636363"/><stop offset="0.723" stop-color="#4b4b4b"/><stop offset="0.782" stop-color="#2b2b2b"/><stop offset="0.836" stop-color="#232323"/><stop offset="0.891" stop-color="#2a2a2a"/><stop offset="0.945" stop-color="#262626"/><stop offset="1.000" stop-color="#2e2e2e"/></linearGradient><linearGradient id="g44" x2="0" y2="1"><stop offset="0.000" stop-color="#212121"/><stop offset="0.056" stop-color="#0e0e0e"/><stop offset="0.113" stop-color="#010101"/><stop offset="0.171" stop-color="#101010"/><stop offset="0.230" stop-color="#272727"/><stop offset="0.289" stop-color="#333333"/><stop offset="0.347" stop-color="#212121"/><stop offset="0.406" stop-color="#111111"/><stop offset="0.465" stop-color="#010101"/><stop offset="0.512" stop-color="#1a1a1a"/><stop offset="0.559" stop-color="#2b2b2b"/><stop offset="0.606" stop-color="#484848"/><stop offset="0.664" stop-color="#424242"/><stop offset="0.723" stop-color="#636363"/><stop offset="0.782" stop-color="#6e6e6e"/><stop offset="0.836" stop-color="#616161"/><stop offset="0.891" stop-color="#595959"/><stop offset="0.945" stop-color="#454545"/><stop offset="1.000" stop-color="#393939"/></linearGradient><linearGradient id="g45" x2="0" y2="1"><stop offset="0.000" stop-color="#686868"/><stop offset="0.056" stop-color="#696969"/><stop offset="0.113" stop-color="#5a5a5a"/><stop offset="0.171" stop-color="#6a6a6a"/><stop offset="0.230" stop-color="#5b5b5b"/><stop offset="0.289" stop-color="#6d6d6d"/><stop offset="0.347" stop-color="#636363"/><stop offset="0.406" stop-color="#585858"/><stop offset="0.465" stop-color="#4f4f4f"/><stop offset="0.512" stop-color="#464646"/><stop offset="0.559" stop-color="#4d4d4d"/><stop offset="0.606" stop-color="#515151"/><stop offset="0.664" stop-color="#565656"/><stop offset="0.723" stop-color="#656565"/><stop offset="0.782" stop-color="#585858"/><stop offset="0.836" stop-color="#717171"/><stop offset="0.891" stop-color="#5d5d5d"/><stop offset="0.945" stop-color="#767676"/><stop offset="1.000" stop-color="#767676"/></linearGradient><linearGradient id="g46" x2="0" y2="1"><stop offset="0.000" stop-color="#888888"/><stop offset="0.056" stop-color="#7e7e7e"/><stop offset="0.113" stop-color="#b2b2b2"/><stop offset="0.171" stop-color="#979797"/><stop offset="0.230" stop-color="#c2c2c2"/><stop offset="0.289" stop-color="#c9c9c9"/><stop offset="0.347" stop-color="#ebebeb"/><stop offset="0.406" stop-color="#ababab"/><stop offset="0.465" stop-color="#cacaca"/><stop offset="0.512" stop-color="#c3c3c3"/><stop offset="0.559" stop-color="#adadad"/><stop offset="0.606" stop-color="#797979"/><stop offset="0.664" stop-color="#5f5f5f"/><stop offset="0.723" stop-color="#5f5f5f"/><stop offset="0.782" stop-color="#474747"/><stop offset="0.836" stop-color="#525252"/><stop offset="0.891" stop-color="#444444"/><stop offset="0.945" stop-color="#4e4e4e"/><stop offset="1.000" stop-color="#484848"/></linearGradient><linearGradient id="g47" x2="0" y2="1"><stop offset="0.000" stop-color="#737373"/><stop offset="0.056" stop-color="#707070"/><stop offset="0.113" stop-color="#585858"/><stop offset="0.171" stop-color="#6b6b6b"/><stop offset="0.230" stop-color="#878787"/><stop offset="0.289" stop-color="#838383"/><stop offset="0.347" stop-color="#9b9b9b"/><stop offset="0.406" stop-color="#a0a0a0"/><stop offset="0.465" stop-color="#868686"/><stop offset="0.512" stop-color="#929292"/><stop offset="0.559" stop-color="#808080"/><stop offset="0.606" stop-color="#9d9d9d"/><stop offset="0.664" stop-color="#858585"/><stop offset="0.723" stop-color="#7c7c7c"/><stop offset="0.782" stop-color="#858585"/><stop offset="0.836" stop-color="#929292"/><stop offset="0.891" stop-color="#a6a6a6"/><stop offset="0.945" stop-color="#7e7e7e"/><stop offset="1.000" stop-color="#a5a5a5"/></linearGradient><linearGradient id="g48" x2="0" y2="1"><stop offset="0.000" stop-color="#8b8b8b"/><stop offset="0.056" stop-color="#a5a5a5"/><stop offset="0.113" stop-color="#a6a6a6"/><stop offset="0.171" stop-color="#c0c0c0"/><stop offset="0.230" stop-color="#adadad"/><stop offset="0.289" stop-color="#c3c3c3"/><stop offset="0.347" stop-color="#cacaca"/><stop offset="0.406" stop-color="#afafaf"/><stop offset="0.465" stop-color="#d3d3d3"/><stop offset="0.512" stop-color="#d7d7d7"/><stop offset="0.559" stop-color="#909090"/><stop offset="0.606" stop-color="#a5a5a5"/><stop offset="0.664" stop-color="#cecece"/><stop offset="0.723" stop-color="#c7c7c7"/><stop offset="0.782" stop-color="#b4b4b4"/><stop offset="0.836" stop-color="#b5b5b5"/><stop offset="0.891" stop-color="#919191"/><stop offset="0.945" stop-color="#b5b5b5"/><stop offset="1.000" stop-color="#909090"/></linearGradient><linearGradient id="g49" x2="0" y2="1"><stop offset="0.000" stop-color="#b4b4b4"/><stop offset="0.056" stop-color="#e2e2e2"/><stop offset="0.113" stop-color="#c4c4c4"/><stop offset="0.171" stop-color="#a8a8a8"/><stop offset="0.230" stop-color="#e3e3e3"/><stop offset="0.289" stop-color="#cecece"/><stop offset="0.347" stop-color="#ebebeb"/><stop offset="0.406" stop-color="#d9d9d9"/><stop offset="0.465" stop-color="#c9c9c9"/><stop offset="0.512" stop-color="#dadada"/><stop offset="0.559" stop-color="#c2c2c2"/><stop offset="0.606" stop-color="#c6c6c6"/><stop offset="0.664" stop-color="#f4f4f4"/><stop offset="0.723" stop-color="#ffffff"/><stop offset="0.782" stop-color="#dcdcdc"/><stop offset="0.836" stop-color="#d0d0d0"/><stop offset="0.891" stop-color="#f7f7f7"/><stop offset="0.945" stop-color="#d2d2d2"/><stop offset="1.000" stop-color="#d7d7d7"/></linearGradient><linearGradient id="g50" x2="0" y2="1"><stop offset="0.000" stop-color="#747474"/><stop offset="0.056" stop-color="#656565"/><stop offset="0.113" stop-color="#797979"/><stop offset="0.171" stop-color="#838383"/><stop offset="0.230" stop-color="#888888"/><stop offset="0.289" stop-color="#b7b7b7"/><stop offset="0.347" stop-color="#cfcfcf"/><stop offset="0.406" stop-color="#c9c9c9"/><stop offset="0.465" stop-color="#9f9f9f"/><stop offset="0.512" stop-color="#8a8a8a"/><stop offset="0.559" stop-color="#b4b4b4"/><stop offset="0.606" stop-color="#b3b3b3"/><stop offset="0.664" stop-color="#b1b1b1"/><stop offset="0.723" stop-color="#9f9f9f"/><stop offset="0.782" stop-color="#c4c4c4"/><stop offset="0.836" stop-color="#b2b2b2"/><stop offset="0.891" stop-color="#aeaeae"/><stop offset="0.945" stop-color="#d8d8d8"/><stop offset="1.000" stop-color="#c2c2c2"/></linearGradient><linearGradient id="g51" x2="0" y2="1"><stop offset="0.000" stop-color="#e5e5e5"/><stop offset="0.056" stop-color="#b2b2b2"/><stop offset="0.113" stop-color="#e3e3e3"/><stop offset="0.171" stop-color="#c9c9c9"/><stop offset="0.230" stop-color="#e9e9e9"/><stop offset="0.289" stop-color="#f5f5f5"/><stop offset="0.347" stop-color="#bdbdbd"/><stop offset="0.406" stop-color="#f6f6f6"/><stop offset="0.465" stop-color="#e2e2e2"/><stop offset="0.512" stop-color="#f7f7f7"/><stop offset="0.559" stop-color="#ffffff"/><stop offset="0.606" stop-color="#ffffff"/><stop offset="0.664" stop-color="#cecece"/><stop offset="0.723" stop-color="#c5c5c5"/><stop offset="0.782" stop-color="#c7c7c7"/><stop offset="0.836" stop-color="#cbcbcb"/><stop offset="0.891" stop-color="#b4b4b4"/><stop offset="0.945" stop-color="#d0d0d0"/><stop offset="1.000" stop-color="#c9c9c9"/></linearGradient><linearGradient id="g52" x2="0" y2="1"><stop offset="0.000" stop-color="#dbdbdb"/><stop offset="0.056" stop-color="#bababa"/><stop offset="0.113" stop-color="#c6c6c6"/><stop offset="0.171" stop-color="#e8e8e8"/><stop offset="0.230" stop-color="#ffffff"/><stop offset="0.289" stop-color="#f9f9f9"/><stop offset="0.347" stop-color="#ffffff"/><stop offset="0.406" stop-color="#ffffff"/><stop offset="0.465" stop-color="#ffffff"/><stop offset="0.512" stop-color="#f6f6f6"/><stop offset="0.559" stop-color="#e3e3e3"/><stop offset="0.606" stop-color="#d6d6d6"/><stop offset="0.664" stop-color="#f0f0f0"/><stop offset="0.723" stop-color="#e0e0e0"/><stop offset="0.782" stop-color="#c2c2c2"/><stop offset="0.836" stop-color="#bababa"/><stop offset="0.891" stop-color="#9e9e9e"/><stop offset="0.945" stop-color="#8b8b8b"/><stop offset="1.000" stop-color="#8c8c8c"/></linearGradient><linearGradient id="g53" x2="0" y2="1"><stop offset="0.000" stop-color="#bababa"/><stop offset="0.056" stop-color="#9a9a9a"/><stop offset="0.113" stop-color="#bbbbbb"/><stop offset="0.171" stop-color="#e9e9e9"/><stop offset="0.230" stop-color="#bababa"/><stop offset="0.289" stop-color="#f1f1f1"/><stop offset="0.347" stop-color="#ffffff"/><stop offset="0.406" stop-color="#e3e3e3"/><stop offset="0.465" stop-color="#d4d4d4"/><stop offset="0.512" stop-color="#fafafa"/><stop offset="0.559" stop-color="#e2e2e2"/><stop offset="0.606" stop-color="#c6c6c6"/><stop offset="0.664" stop-color="#f2f2f2"/><stop offset="0.723" stop-color="#aaaaaa"/><stop offset="0.782" stop-color="#cdcdcd"/><stop offset="0.836" stop-color="#c6c6c6"/><stop offset="0.891" stop-color="#c6c6c6"/><stop offset="0.945" stop-color="#aaaaaa"/><stop offset="1.000" stop-color="#b3b3b3"/></linearGradient><linearGradient id="g54" x2="0" y2="1"><stop offset="0.000" stop-color="#7d7d7d"/><stop offset="0.056" stop-color="#747474"/><stop offset="0.113" stop-color="#6a6a6a"/><stop offset="0.171" stop-color="#676767"/><stop offset="0.230" stop-color="#737373"/><stop offset="0.289" stop-color="#767676"/><stop offset="0.347" stop-color="#5f5f5f"/><stop offset="0.406" stop-color="#7b7b7b"/><stop offset="0.465" stop-color="#828282"/><stop offset="0.512" stop-color="#7d7d7d"/><stop offset="0.559" stop-color="#737373"/><stop offset="0.606" stop-color="#7c7c7c"/><stop offset="0.664" stop-color="#757575"/><stop offset="0.723" stop-color="#898989"/><stop offset="0.782" stop-color="#787878"/><stop offset="0.836" stop-color="#808080"/><stop offset="0.891" stop-color="#747474"/><stop offset="0.945" stop-color="#7a7a7a"/><stop offset="1.000" stop-color="#717171"/></linearGradient><linearGradient id="g55" x2="0" y2="1"><stop offset="0.000" stop-color="#474747"/><stop offset="0.056" stop-color="#4c4c4c"/><stop offset="0.113" stop-color="#5a5a5a"/><stop offset="0.171" stop-color="#5a5a5a"/><stop offset="0.230" stop-color="#5c5c5c"/><stop offset="0.289" stop-color="#838383"/><stop offset="0.347" stop-color="#757575"/><stop offset="0.406" stop-color="#878787"/><stop offset="0.465" stop-color="#818181"/><stop offset="0.512" stop-color="#939393"/><stop offset="0.559" stop-color="#8c8c8c"/><stop offset="0.606" stop-color="#767676"/><stop offset="0.664" stop-color="#777777"/><stop offset="0.723" stop-color="#909090"/><stop offset="0.782" stop-color="#767676"/><stop offset="0.836" stop-color="#6f6f6f"/><stop offset="0.891" stop-color="#7c7c7c"/><stop offset="0.945" stop-color="#636363"/><stop offset="1.000" stop-color="#626262"/></linearGradient><linearGradient id="g56" x2="0" y2="1"><stop offset="0.000" stop-color="#929292"/><stop offset="0.056" stop-color="#afafaf"/><stop offset="0.113" stop-color="#a9a9a9"/><stop offset="0.171" stop-color="#dfdfdf"/><stop offset="0.230" stop-color="#b5b5b5"/><stop offset="0.289" stop-color="#d4d4d4"/><stop offset="0.347" stop-color="#b6b6b6"/><stop offset="0.406" stop-color="#e2e2e2"/><stop offset="0.465" stop-color="#d8d8d8"/><stop offset="0.512" stop-color="#d2d2d2"/><stop offset="0.559" stop-color="#bababa"/><stop offset="0.606" stop-color="#bebebe"/><stop offset="0.664" stop-color="#9a9a9a"/><stop offset="0.723" stop-color="#c3c3c3"/><stop offset="0.782" stop-color="#d4d4d4"/><stop offset="0.836" stop-color="#c8c8c8"/><stop offset="0.891" stop-color="#c1c1c1"/><stop offset="0.945" stop-color="#e4e4e4"/><stop offset="1.000" stop-color="#c0c0c0"/></linearGradient><linearGradient id="g57" x2="0" y2="1"><stop offset="0.000" stop-color="#d3d3d3"/><stop offset="0.056" stop-color="#e3e3e3"/><stop offset="0.113" stop-color="#e2e2e2"/><stop offset="0.171" stop-color="#ffffff"/><stop offset="0.230" stop-color="#ffffff"/><stop offset="0.289" stop-color="#fafafa"/><stop offset="0.347" stop-color="#ffffff"/><stop offset="0.406" stop-color="#ebebeb"/><stop offset="0.465" stop-color="#e5e5e5"/><stop offset="0.512" stop-color="#fdfdfd"/><stop offset="0.559" stop-color="#f2f2f2"/><stop offset="0.606" stop-color="#e3e3e3"/><stop offset="0.664" stop-color="#e3e3e3"/><stop offset="0.723" stop-color="#d3d3d3"/><stop offset="0.782" stop-color="#b9b9b9"/><stop offset="0.836" stop-color="#b0b0b0"/><stop offset="0.891" stop-color="#bfbfbf"/><stop offset="0.945" stop-color="#bdbdbd"/><stop offset="1.000" stop-color="#b1b1b1"/></linearGradient><linearGradient id="g58" x2="0" y2="1"><stop offset="0.000" stop-color="#999999"/><stop offset="0.056" stop-color="#bababa"/><stop offset="0.113" stop-color="#a0a0a0"/><stop offset="0.171" stop-color="#b1b1b1"/><stop offset="0.230" stop-color="#b2b2b2"/><stop offset="0.289" stop-color="#989898"/><stop offset="0.347" stop-color="#b7b7b7"/><stop offset="0.406" stop-color="#c7c7c7"/><stop offset="0.465" stop-color="#bababa"/><stop offset="0.512" stop-color="#c6c6c6"/><stop offset="0.559" stop-color="#b3b3b3"/><stop offset="0.606" stop-color="#c2c2c2"/><stop offset="0.664" stop-color="#b4b4b4"/><stop offset="0.723" stop-color="#e3e3e3"/><stop offset="0.782" stop-color="#d6d6d6"/><stop offset="0.836" stop-color="#ebebeb"/><stop offset="0.891" stop-color="#c1c1c1"/><stop offset="0.945" stop-color="#959595"/><stop offset="1.000" stop-color="#a3a3a3"/></linearGradient><linearGradient id="g59" x2="0" y2="1"><stop offset="0.000" stop-color="#aaaaaa"/><stop offset="0.056" stop-color="#c2c2c2"/><stop offset="0.113" stop-color="#a8a8a8"/><stop offset="0.171" stop-color="#b4b4b4"/><stop offset="0.230" stop-color="#bfbfbf"/><stop offset="0.289" stop-color="#cecece"/><stop offset="0.347" stop-color="#a2a2a2"/><stop offset="0.406" stop-color="#c8c8c8"/><stop offset="0.465" stop-color="#c3c3c3"/><stop offset="0.512" stop-color="#e2e2e2"/><stop offset="0.559" stop-color="#cecece"/><stop offset="0.606" stop-color="#dfdfdf"/><stop offset="0.664" stop-color="#d1d1d1"/><stop offset="0.723" stop-color="#eeeeee"/><stop offset="0.782" stop-color="#dfdfdf"/><stop offset="0.836" stop-color="#adadad"/><stop offset="0.891" stop-color="#d9d9d9"/><stop offset="0.945" stop-color="#ffffff"/><stop offset="1.000" stop-color="#d1d1d1"/></linearGradient><linearGradient id="g60" x2="0" y2="1"><stop offset="0.000" stop-color="#737373"/><stop offset="0.056" stop-color="#8a8a8a"/><stop offset="0.113" stop-color="#8c8c8c"/><stop offset="0.171" stop-color="#8c8c8c"/><stop offset="0.230" stop-color="#a4a4a4"/><stop offset="0.289" stop-color="#9d9d9d"/><stop offset="0.347" stop-color="#a6a6a6"/><stop offset="0.406" stop-color="#8c8c8c"/><stop offset="0.465" stop-color="#a2a2a2"/><stop offset="0.512" stop-color="#949494"/><stop offset="0.559" stop-color="#d0d0d0"/><stop offset="0.606" stop-color="#bababa"/><stop offset="0.664" stop-color="#bcbcbc"/><stop offset="0.723" stop-color="#bdbdbd"/><stop offset="0.782" stop-color="#ffffff"/><stop offset="0.836" stop-color="#ffffff"/><stop offset="0.891" stop-color="#fafafa"/><stop offset="0.945" stop-color="#e5e5e5"/><stop offset="1.000" stop-color="#efefef"/></linearGradient><linearGradient id="g61" x2="0" y2="1"><stop offset="0.000" stop-color="#dadada"/><stop offset="0.056" stop-color="#ebebeb"/><stop offset="0.113" stop-color="#fafafa"/><stop offset="0.171" stop-color="#ffffff"/><stop offset="0.230" stop-color="#d8d8d8"/><stop offset="0.289" stop-color="#ffffff"/><stop offset="0.347" stop-color="#ffffff"/><stop offset="0.406" stop-color="#ffffff"/><stop offset="0.465" stop-color="#f5f5f5"/><stop offset="0.512" stop-color="#ffffff"/><stop offset="0.559" stop-color="#dedede"/><stop offset="0.606" stop-color="#f8f8f8"/><stop offset="0.664" stop-color="#ffffff"/><stop offset="0.723" stop-color="#d1d1d1"/><stop offset="0.782" stop-color="#e8e8e8"/><stop offset="0.836" stop-color="#f1f1f1"/><stop offset="0.891" stop-color="#cbcbcb"/><stop offset="0.945" stop-color="#ffffff"/><stop offset="1.000" stop-color="#f2f2f2"/></linearGradient><linearGradient id="g62" x2="0" y2="1"><stop offset="0.000" stop-color="#d5d5d5"/><stop offset="0.056" stop-color="#f2f2f2"/><stop offset="0.113" stop-color="#cccccc"/><stop offset="0.171" stop-color="#c6c6c6"/><stop offset="0.230" stop-color="#c4c4c4"/><stop offset="0.289" stop-color="#e9e9e9"/><stop offset="0.347" stop-color="#ffffff"/><stop offset="0.406" stop-color="#ffffff"/><stop offset="0.465" stop-color="#ebebeb"/><stop offset="0.512" stop-color="#ffffff"/><stop offset="0.559" stop-color="#bebebe"/><stop offset="0.606" stop-color="#f2f2f2"/><stop offset="0.664" stop-color="#ffffff"/><stop offset="0.723" stop-color="#efefef"/><stop offset="0.782" stop-color="#dbdbdb"/><stop offset="0.836" stop-color="#cbcbcb"/><stop offset="0.891" stop-color="#d9d9d9"/><stop offset="0.945" stop-color="#fbfbfb"/><stop offset="1.000" stop-color="#e3e3e3"/></linearGradient><linearGradient id="g63" x2="0" y2="1"><stop offset="0.000" stop-color="#9c9c9c"/><stop offset="0.056" stop-color="#b9b9b9"/><stop offset="0.113" stop-color="#adadad"/><stop offset="0.171" stop-color="#969696"/><stop offset="0.230" stop-color="#b8b8b8"/><stop offset="0.289" stop-color="#aeaeae"/><stop offset="0.347" stop-color="#989898"/><stop offset="0.406" stop-color="#dbdbdb"/><stop offset="0.465" stop-color="#b9b9b9"/><stop offset="0.512" stop-color="#b7b7b7"/><stop offset="0.559" stop-color="#e1e1e1"/><stop offset="0.606" stop-color="#c1c1c1"/><stop offset="0.664" stop-color="#d2d2d2"/><stop offset="0.723" stop-color="#c5c5c5"/><stop offset="0.782" stop-color="#bababa"/><stop offset="0.836" stop-color="#a3a3a3"/><stop offset="0.891" stop-color="#b5b5b5"/><stop offset="0.945" stop-color="#949494"/><stop offset="1.000" stop-color="#acacac"/></linearGradient><linearGradient id="g64" x2="0" y2="1"><stop offset="0.000" stop-color="#4c4c4c"/><stop offset="0.056" stop-color="#464646"/><stop offset="0.113" stop-color="#5b5b5b"/><stop offset="0.171" stop-color="#6c6c6c"/><stop offset="0.230" stop-color="#646464"/><stop offset="0.289" stop-color="#737373"/><stop offset="0.347" stop-color="#848484"/><stop offset="0.406" stop-color="#6c6c6c"/><stop offset="0.465" stop-color="#7e7e7e"/><stop offset="0.512" stop-color="#939393"/><stop offset="0.559" stop-color="#9b9b9b"/><stop offset="0.606" stop-color="#959595"/><stop offset="0.664" stop-color="#9e9e9e"/><stop offset="0.723" stop-color="#a2a2a2"/><stop offset="0.782" stop-color="#dcdcdc"/><stop offset="0.836" stop-color="#cccccc"/><stop offset="0.891" stop-color="#cfcfcf"/><stop offset="0.945" stop-color="#a6a6a6"/><stop offset="1.000" stop-color="#c4c4c4"/></linearGradient><linearGradient id="g65" x2="0" y2="1"><stop offset="0.000" stop-color="#585858"/><stop offset="0.056" stop-color="#595959"/><stop offset="0.113" stop-color="#777777"/><stop offset="0.171" stop-color="#5f5f5f"/><stop offset="0.230" stop-color="#7b7b7b"/><stop offset="0.289" stop-color="#757575"/><stop offset="0.347" stop-color="#858585"/><stop offset="0.406" stop-color="#616161"/><stop offset="0.465" stop-color="#6c6c6c"/><stop offset="0.512" stop-color="#616161"/><stop offset="0.559" stop-color="#939393"/><stop offset="0.606" stop-color="#959595"/><stop offset="0.664" stop-color="#bbbbbb"/><stop offset="0.723" stop-color="#d9d9d9"/><stop offset="0.782" stop-color="#c3c3c3"/><stop offset="0.836" stop-color="#c6c6c6"/><stop offset="0.891" stop-color="#a9a9a9"/><stop offset="0.945" stop-color="#c9c9c9"/><stop offset="1.000" stop-color="#a8a8a8"/></linearGradient><linearGradient id="g66" x2="0" y2="1"><stop offset="0.000" stop-color="#888888"/><stop offset="0.056" stop-color="#737373"/><stop offset="0.113" stop-color="#8c8c8c"/><stop offset="0.171" stop-color="#a5a5a5"/><stop offset="0.230" stop-color="#878787"/><stop offset="0.289" stop-color="#b1b1b1"/><stop offset="0.347" stop-color="#a8a8a8"/><stop offset="0.406" stop-color="#adadad"/><stop offset="0.465" stop-color="#acacac"/><stop offset="0.512" stop-color="#a8a8a8"/><stop offset="0.559" stop-color="#9c9c9c"/><stop offset="0.606" stop-color="#bbbbbb"/><stop offset="0.664" stop-color="#a5a5a5"/><stop offset="0.723" stop-color="#d7d7d7"/><stop offset="0.782" stop-color="#bdbdbd"/><stop offset="0.836" stop-color="#b0b0b0"/><stop offset="0.891" stop-color="#b0b0b0"/><stop offset="0.945" stop-color="#8d8d8d"/><stop offset="1.000" stop-color="#989898"/></linearGradient><linearGradient id="g67" x2="0" y2="1"><stop offset="0.000" stop-color="#909090"/><stop offset="0.056" stop-color="#898989"/><stop offset="0.113" stop-color="#6b6b6b"/><stop offset="0.171" stop-color="#6d6d6d"/><stop offset="0.230" stop-color="#868686"/><stop offset="0.289" stop-color="#8b8b8b"/><stop offset="0.347" stop-color="#a2a2a2"/><stop offset="0.406" stop-color="#a4a4a4"/><stop offset="0.465" stop-color="#858585"/><stop offset="0.512" stop-color="#6e6e6e"/><stop offset="0.559" stop-color="#a0a0a0"/><stop offset="0.606" stop-color="#929292"/><stop offset="0.664" stop-color="#a6a6a6"/><stop offset="0.723" stop-color="#818181"/><stop offset="0.782" stop-color="#898989"/><stop offset="0.836" stop-color="#878787"/><stop offset="0.891" stop-color="#9a9a9a"/><stop offset="0.945" stop-color="#b6b6b6"/><stop offset="1.000" stop-color="#9f9f9f"/></linearGradient><linearGradient id="g68" x2="0" y2="1"><stop offset="0.000" stop-color="#838383"/><stop offset="0.058" stop-color="#808080"/><stop offset="0.115" stop-color="#9f9f9f"/><stop offset="0.173" stop-color="#9b9b9b"/><stop offset="0.231" stop-color="#787878"/><stop offset="0.289" stop-color="#909090"/><stop offset="0.336" stop-color="#c0c0c0"/><stop offset="0.384" stop-color="#8e8e8e"/><stop offset="0.431" stop-color="#a7a7a7"/><stop offset="0.479" stop-color="#d7d7d7"/><stop offset="0.538" stop-color="#dedede"/><stop offset="0.596" stop-color="#9f9f9f"/><stop offset="0.655" stop-color="#bdbdbd"/><stop offset="0.697" stop-color="#a9a9a9"/><stop offset="0.739" stop-color="#8d8d8d"/><stop offset="0.782" stop-color="#9e9e9e"/><stop offset="0.836" stop-color="#8e8e8e"/><stop offset="0.891" stop-color="#979797"/><stop offset="0.945" stop-color="#8b8b8b"/><stop offset="1.000" stop-color="#696969"/></linearGradient><linearGradient id="g69" x2="0" y2="1"><stop offset="0.000" stop-color="#767676"/><stop offset="0.049" stop-color="#626262"/><stop offset="0.099" stop-color="#666666"/><stop offset="0.148" stop-color="#838383"/><stop offset="0.201" stop-color="#919191"/><stop offset="0.254" stop-color="#616161"/><stop offset="0.306" stop-color="#686868"/><stop offset="0.359" stop-color="#6e6e6e"/><stop offset="0.414" stop-color="#616161"/><stop offset="0.469" stop-color="#666666"/><stop offset="0.524" stop-color="#686868"/><stop offset="0.579" stop-color="#929292"/><stop offset="0.634" stop-color="#909090"/><stop offset="0.695" stop-color="#969696"/><stop offset="0.756" stop-color="#898989"/><stop offset="0.817" stop-color="#767676"/><stop offset="0.878" stop-color="#888888"/><stop offset="0.939" stop-color="#7f7f7f"/><stop offset="1.000" stop-color="#767676"/></linearGradient><linearGradient id="g70" x2="0" y2="1"><stop offset="0.000" stop-color="#000000"/><stop offset="0.106" stop-color="#181818"/><stop offset="0.211" stop-color="#353535"/><stop offset="0.317" stop-color="#5a5a5a"/><stop offset="0.423" stop-color="#646464"/><stop offset="0.538" stop-color="#696969"/><stop offset="0.654" stop-color="#575757"/><stop offset="0.769" stop-color="#4e4e4e"/><stop offset="0.885" stop-color="#727272"/><stop offset="1.000" stop-color="#5f5f5f"/></linearGradient><linearGradient id="g71" x2="0" y2="1"><stop offset="0.000" stop-color="#696969"/><stop offset="0.157" stop-color="#6b6b6b"/><stop offset="0.313" stop-color="#5d5d5d"/><stop offset="0.470" stop-color="#666666"/><stop offset="0.626" stop-color="#616161"/><stop offset="0.783" stop-color="#5c5c5c"/><stop offset="0.891" stop-color="#2e2e2e"/><stop offset="1.000" stop-color="#000000"/></linearGradient><linearGradient id="g72" x2="0" y2="1"><stop offset="0.000" stop-color="#000000"/><stop offset="0.144" stop-color="#171717"/><stop offset="0.287" stop-color="#353535"/><stop offset="0.431" stop-color="#515151"/><stop offset="0.574" stop-color="#717171"/><stop offset="0.716" stop-color="#414141"/><stop offset="0.858" stop-color="#2c2c2c"/><stop offset="1.000" stop-color="#000000"/></linearGradient><linearGradient id="g73" x2="0" y2="1"><stop offset="0.000" stop-color="#000000"/><stop offset="0.137" stop-color="#161616"/><stop offset="0.275" stop-color="#313131"/><stop offset="0.412" stop-color="#4b4b4b"/><stop offset="0.549" stop-color="#5c5c5c"/><stop offset="0.699" stop-color="#646464"/><stop offset="0.850" stop-color="#616161"/><stop offset="1.000" stop-color="#575757"/></linearGradient><linearGradient id="g74" x2="0" y2="1"><stop offset="0.000" stop-color="#000000"/><stop offset="0.177" stop-color="#272727"/><stop offset="0.355" stop-color="#3e3e3e"/><stop offset="0.532" stop-color="#696969"/><stop offset="0.688" stop-color="#555555"/><stop offset="0.844" stop-color="#1e1e1e"/><stop offset="1.000" stop-color="#000000"/></linearGradient><linearGradient id="g75" x2="0" y2="1"><stop offset="0.000" stop-color="#2f2f2f"/><stop offset="0.089" stop-color="#373737"/><stop offset="0.178" stop-color="#353535"/><stop offset="0.267" stop-color="#353535"/><stop offset="0.356" stop-color="#242424"/><stop offset="0.445" stop-color="#252525"/><stop offset="0.534" stop-color="#323232"/><stop offset="0.623" stop-color="#2b2b2b"/><stop offset="0.712" stop-color="#292929"/><stop offset="0.801" stop-color="#343434"/><stop offset="0.890" stop-color="#2a2a2a"/><stop offset="0.945" stop-color="#111111"/><stop offset="1.000" stop-color="#000000"/></linearGradient><linearGradient id="g76" x2="0" y2="1"><stop offset="0.000" stop-color="#000000"/><stop offset="0.156" stop-color="#141414"/><stop offset="0.312" stop-color="#262626"/><stop offset="0.469" stop-color="#313131"/><stop offset="0.625" stop-color="#4f4f4f"/><stop offset="0.750" stop-color="#4b4b4b"/><stop offset="0.875" stop-color="#565656"/><stop offset="1.000" stop-color="#4f4f4f"/></linearGradient><linearGradient id="g77" x2="0" y2="1"><stop offset="0.000" stop-color="#000000"/><stop offset="0.074" stop-color="#0b0b0b"/><stop offset="0.148" stop-color="#0f0f0f"/><stop offset="0.222" stop-color="#1c1c1c"/><stop offset="0.296" stop-color="#1f1f1f"/><stop offset="0.371" stop-color="#353535"/><stop offset="0.445" stop-color="#2e2e2e"/><stop offset="0.519" stop-color="#424242"/><stop offset="0.599" stop-color="#333333"/><stop offset="0.679" stop-color="#3c3c3c"/><stop offset="0.759" stop-color="#444444"/><stop offset="0.840" stop-color="#373737"/><stop offset="0.920" stop-color="#313131"/><stop offset="1.000" stop-color="#3a3a3a"/></linearGradient><linearGradient id="g78" x2="0" y2="1"><stop offset="0.000" stop-color="#262626"/><stop offset="0.062" stop-color="#2b2b2b"/><stop offset="0.125" stop-color="#2b2b2b"/><stop offset="0.188" stop-color="#2c2c2c"/><stop offset="0.250" stop-color="#232323"/><stop offset="0.312" stop-color="#252525"/><stop offset="0.375" stop-color="#222222"/><stop offset="0.438" stop-color="#272727"/><stop offset="0.500" stop-color="#232323"/><stop offset="0.562" stop-color="#232323"/><stop offset="0.625" stop-color="#2b2b2b"/><stop offset="0.688" stop-color="#2d2d2d"/><stop offset="0.750" stop-color="#272727"/><stop offset="0.812" stop-color="#1f1f1f"/><stop offset="0.875" stop-color="#282828"/><stop offset="0.938" stop-color="#252525"/><stop offset="1.000" stop-color="#262626"/></linearGradient><linearGradient id="g79" x2="0" y2="1"><stop offset="0.000" stop-color="#646464"/><stop offset="0.139" stop-color="#787878"/><stop offset="0.278" stop-color="#6b6b6b"/><stop offset="0.417" stop-color="#6f6f6f"/><stop offset="0.556" stop-color="#686868"/><stop offset="0.695" stop-color="#5f5f5f"/><stop offset="0.797" stop-color="#404040"/><stop offset="0.898" stop-color="#252525"/><stop offset="1.000" stop-color="#000000"/></linearGradient><linearGradient id="g80" x2="0" y2="1"><stop offset="0.000" stop-color="#838383"/><stop offset="0.058" stop-color="#959595"/><stop offset="0.115" stop-color="#757575"/><stop offset="0.173" stop-color="#6d6d6d"/><stop offset="0.231" stop-color="#787878"/><stop offset="0.289" stop-color="#7e7e7e"/><stop offset="0.349" stop-color="#7d7d7d"/><stop offset="0.408" stop-color="#646464"/><stop offset="0.468" stop-color="#707070"/><stop offset="0.528" stop-color="#767676"/><stop offset="0.585" stop-color="#747474"/><stop offset="0.641" stop-color="#555555"/><stop offset="0.697" stop-color="#646464"/><stop offset="0.757" stop-color="#666666"/><stop offset="0.817" stop-color="#4f4f4f"/><stop offset="0.878" stop-color="#545454"/><stop offset="0.939" stop-color="#484848"/><stop offset="1.000" stop-color="#4f4f4f"/></linearGradient><linearGradient id="g81" x2="0" y2="1"><stop offset="0.000" stop-color="#000000"/><stop offset="0.156" stop-color="#1c1c1c"/><stop offset="0.312" stop-color="#393939"/><stop offset="0.468" stop-color="#5c5c5c"/><stop offset="0.645" stop-color="#393939"/><stop offset="0.823" stop-color="#222222"/><stop offset="1.000" stop-color="#000000"/></linearGradient><linearGradient id="g82" x2="0" y2="1"><stop offset="0.000" stop-color="#5c5c5c"/><stop offset="0.101" stop-color="#5c5c5c"/><stop offset="0.203" stop-color="#5d5d5d"/><stop offset="0.304" stop-color="#4e4e4e"/><stop offset="0.405" stop-color="#6d6d6d"/><stop offset="0.507" stop-color="#555555"/><stop offset="0.608" stop-color="#555555"/><stop offset="0.709" stop-color="#5c5c5c"/><stop offset="0.806" stop-color="#323232"/><stop offset="0.903" stop-color="#252525"/><stop offset="1.000" stop-color="#000000"/></linearGradient><linearGradient id="g83" x2="0" y2="1"><stop offset="0.000" stop-color="#000000"/><stop offset="0.074" stop-color="#0b0b0b"/><stop offset="0.148" stop-color="#1b1b1b"/><stop offset="0.222" stop-color="#282828"/><stop offset="0.296" stop-color="#363636"/><stop offset="0.371" stop-color="#404040"/><stop offset="0.445" stop-color="#505050"/><stop offset="0.519" stop-color="#4f4f4f"/><stop offset="0.599" stop-color="#5c5c5c"/><stop offset="0.679" stop-color="#575757"/><stop offset="0.759" stop-color="#404040"/><stop offset="0.840" stop-color="#4c4c4c"/><stop offset="0.920" stop-color="#4d4d4d"/><stop offset="1.000" stop-color="#4a4a4a"/></linearGradient><linearGradient id="g84" x2="0" y2="1"><stop offset="0.000" stop-color="#000000"/><stop offset="0.096" stop-color="#242424"/><stop offset="0.193" stop-color="#424242"/><stop offset="0.289" stop-color="#606060"/><stop offset="0.386" stop-color="#828282"/><stop offset="0.482" stop-color="#939393"/><stop offset="0.565" stop-color="#838383"/><stop offset="0.647" stop-color="#9e9e9e"/><stop offset="0.729" stop-color="#858585"/><stop offset="0.812" stop-color="#767676"/><stop offset="0.906" stop-color="#393939"/><stop offset="1.000" stop-color="#000000"/></linearGradient><linearGradient id="g85" x2="0" y2="1"><stop offset="0.000" stop-color="#000000"/><stop offset="0.133" stop-color="#171717"/><stop offset="0.265" stop-color="#383838"/><stop offset="0.398" stop-color="#464646"/><stop offset="0.530" stop-color="#5c5c5c"/><stop offset="0.648" stop-color="#4e4e4e"/><stop offset="0.765" stop-color="#4e4e4e"/><stop offset="0.883" stop-color="#646464"/><stop offset="1.000" stop-color="#5c5c5c"/></linearGradient><linearGradient id="g86" x2="0" y2="1"><stop offset="0.000" stop-color="#000000"/><stop offset="0.167" stop-color="#282828"/><stop offset="0.333" stop-color="#5d5d5d"/><stop offset="0.500" stop-color="#767676"/><stop offset="0.667" stop-color="#444444"/><stop offset="0.833" stop-color="#262626"/><stop offset="1.000" stop-color="#000000"/></linearGradient><linearGradient id="g87" x2="0" y2="1"><stop offset="0.000" stop-color="#696969"/><stop offset="0.139" stop-color="#747474"/><stop offset="0.278" stop-color="#545454"/><stop offset="0.417" stop-color="#575757"/><stop offset="0.556" stop-color="#6b6b6b"/><stop offset="0.695" stop-color="#696969"/><stop offset="0.797" stop-color="#3f3f3f"/><stop offset="0.898" stop-color="#1d1d1d"/><stop offset="1.000" stop-color="#000000"/></linearGradient><linearGradient id="g88" x2="0" y2="1"><stop offset="0.000" stop-color="#000000"/><stop offset="0.134" stop-color="#151515"/><stop offset="0.268" stop-color="#313131"/><stop offset="0.402" stop-color="#464646"/><stop offset="0.536" stop-color="#5c5c5c"/><stop offset="0.690" stop-color="#494949"/><stop offset="0.845" stop-color="#464646"/><stop offset="1.000" stop-color="#545454"/></linearGradient><linearGradient id="g89" x2="0" y2="1"><stop offset="0.000" stop-color="#353535"/><stop offset="0.062" stop-color="#3d3d3d"/><stop offset="0.125" stop-color="#383838"/><stop offset="0.188" stop-color="#2d2d2d"/><stop offset="0.250" stop-color="#3d3d3d"/><stop offset="0.312" stop-color="#292929"/><stop offset="0.375" stop-color="#313131"/><stop offset="0.438" stop-color="#3d3d3d"/><stop offset="0.500" stop-color="#393939"/><stop offset="0.562" stop-color="#303030"/><stop offset="0.625" stop-color="#3e3e3e"/><stop offset="0.688" stop-color="#373737"/><stop offset="0.750" stop-color="#3d3d3d"/><stop offset="0.812" stop-color="#3e3e3e"/><stop offset="0.875" stop-color="#333333"/><stop offset="0.938" stop-color="#393939"/><stop offset="1.000" stop-color="#353535"/></linearGradient><linearGradient id="g90" x2="0" y2="1"><stop offset="0.000" stop-color="#909090"/><stop offset="0.055" stop-color="#989898"/><stop offset="0.109" stop-color="#b8b8b8"/><stop offset="0.164" stop-color="#b3b3b3"/><stop offset="0.218" stop-color="#a3a3a3"/><stop offset="0.265" stop-color="#bdbdbd"/><stop offset="0.312" stop-color="#cdcdcd"/><stop offset="0.359" stop-color="#bdbdbd"/><stop offset="0.408" stop-color="#f4f4f4"/><stop offset="0.458" stop-color="#bdbdbd"/><stop offset="0.507" stop-color="#dfdfdf"/><stop offset="0.546" stop-color="#b1b1b1"/><stop offset="0.585" stop-color="#b8b8b8"/><stop offset="0.627" stop-color="#bdbdbd"/><stop offset="0.669" stop-color="#b0b0b0"/><stop offset="0.711" stop-color="#909090"/><stop offset="0.764" stop-color="#707070"/><stop offset="0.817" stop-color="#4f4f4f"/><stop offset="0.878" stop-color="#4a4a4a"/><stop offset="0.939" stop-color="#434343"/><stop offset="1.000" stop-color="#424242"/></linearGradient><linearGradient id="g91" x2="0" y2="1"><stop offset="0.000" stop-color="#3f3f3f"/><stop offset="0.062" stop-color="#494949"/><stop offset="0.125" stop-color="#474747"/><stop offset="0.188" stop-color="#414141"/><stop offset="0.250" stop-color="#313131"/><stop offset="0.312" stop-color="#474747"/><stop offset="0.375" stop-color="#3c3c3c"/><stop offset="0.438" stop-color="#353535"/><stop offset="0.500" stop-color="#383838"/><stop offset="0.562" stop-color="#424242"/><stop offset="0.625" stop-color="#2f2f2f"/><stop offset="0.688" stop-color="#323232"/><stop offset="0.750" stop-color="#373737"/><stop offset="0.812" stop-color="#464646"/><stop offset="0.875" stop-color="#424242"/><stop offset="0.938" stop-color="#474747"/><stop offset="1.000" stop-color="#3b3b3b"/></linearGradient><linearGradient id="g92" x2="0" y2="1"><stop offset="0.000" stop-color="#000000"/><stop offset="0.082" stop-color="#191919"/><stop offset="0.165" stop-color="#333333"/><stop offset="0.247" stop-color="#4d4d4d"/><stop offset="0.330" stop-color="#646464"/><stop offset="0.412" stop-color="#636363"/><stop offset="0.495" stop-color="#626262"/><stop offset="0.577" stop-color="#6b6b6b"/><stop offset="0.659" stop-color="#5c5c5c"/><stop offset="0.745" stop-color="#6a6a6a"/><stop offset="0.830" stop-color="#525252"/><stop offset="0.915" stop-color="#575757"/><stop offset="1.000" stop-color="#4f4f4f"/></linearGradient><linearGradient id="g93" x2="0" y2="1"><stop offset="0.000" stop-color="#353535"/><stop offset="0.051" stop-color="#323232"/><stop offset="0.101" stop-color="#353535"/><stop offset="0.152" stop-color="#3d3d3d"/><stop offset="0.203" stop-color="#414141"/><stop offset="0.254" stop-color="#424242"/><stop offset="0.306" stop-color="#575757"/><stop offset="0.359" stop-color="#696969"/><stop offset="0.408" stop-color="#878787"/><stop offset="0.458" stop-color="#646464"/><stop offset="0.507" stop-color="#7b7b7b"/><stop offset="0.552" stop-color="#7b7b7b"/><stop offset="0.596" stop-color="#838383"/><stop offset="0.641" stop-color="#646464"/><stop offset="0.688" stop-color="#5d5d5d"/><stop offset="0.735" stop-color="#464646"/><stop offset="0.782" stop-color="#353535"/><stop offset="0.836" stop-color="#2e2e2e"/><stop offset="0.891" stop-color="#2c2c2c"/><stop offset="0.945" stop-color="#333333"/><stop offset="1.000" stop-color="#272727"/></linearGradient><linearGradient id="g94" x2="0" y2="1"><stop offset="0.000" stop-color="#000000"/><stop offset="0.167" stop-color="#151515"/><stop offset="0.333" stop-color="#262626"/><stop offset="0.500" stop-color="#353535"/><stop offset="0.667" stop-color="#292929"/><stop offset="0.833" stop-color="#151515"/><stop offset="1.000" stop-color="#000000"/></linearGradient><linearGradient id="g95" x2="0" y2="1"><stop offset="0.000" stop-color="#2a2a2a"/><stop offset="0.062" stop-color="#303030"/><stop offset="0.125" stop-color="#282828"/><stop offset="0.188" stop-color="#292929"/><stop offset="0.250" stop-color="#2f2f2f"/><stop offset="0.312" stop-color="#282828"/><stop offset="0.375" stop-color="#2f2f2f"/><stop offset="0.438" stop-color="#2a2a2a"/><stop offset="0.500" stop-color="#272727"/><stop offset="0.562" stop-color="#292929"/><stop offset="0.625" stop-color="#232323"/><stop offset="0.688" stop-color="#272727"/><stop offset="0.750" stop-color="#282828"/><stop offset="0.812" stop-color="#212121"/><stop offset="0.875" stop-color="#242424"/><stop offset="0.938" stop-color="#262626"/><stop offset="1.000" stop-color="#2a2a2a"/></linearGradient><linearGradient id="g96" x2="0" y2="1"><stop offset="0.000" stop-color="#4f4f4f"/><stop offset="0.086" stop-color="#646464"/><stop offset="0.172" stop-color="#626262"/><stop offset="0.258" stop-color="#5d5d5d"/><stop offset="0.344" stop-color="#6e6e6e"/><stop offset="0.417" stop-color="#959595"/><stop offset="0.489" stop-color="#787878"/><stop offset="0.562" stop-color="#939393"/><stop offset="0.634" stop-color="#9e9e9e"/><stop offset="0.713" stop-color="#a5a5a5"/><stop offset="0.792" stop-color="#989898"/><stop offset="0.871" stop-color="#838383"/><stop offset="0.935" stop-color="#404040"/><stop offset="1.000" stop-color="#000000"/></linearGradient><linearGradient id="g97" x2="0" y2="1"><stop offset="0.000" stop-color="#000000"/><stop offset="0.167" stop-color="#292929"/><stop offset="0.333" stop-color="#494949"/><stop offset="0.500" stop-color="#6e6e6e"/><stop offset="0.667" stop-color="#646464"/><stop offset="0.833" stop-color="#484848"/><stop offset="1.000" stop-color="#353535"/></linearGradient><linearGradient id="g98" x2="0" y2="1"><stop offset="0.000" stop-color="#353535"/><stop offset="0.086" stop-color="#3f3f3f"/><stop offset="0.172" stop-color="#3a3a3a"/><stop offset="0.259" stop-color="#2b2b2b"/><stop offset="0.345" stop-color="#2c2c2c"/><stop offset="0.431" stop-color="#3f3f3f"/><stop offset="0.517" stop-color="#2e2e2e"/><stop offset="0.603" stop-color="#2a2a2a"/><stop offset="0.689" stop-color="#2f2f2f"/><stop offset="0.776" stop-color="#343434"/><stop offset="0.862" stop-color="#3f3f3f"/><stop offset="0.948" stop-color="#353535"/><stop offset="1.000" stop-color="#000000"/></linearGradient><linearGradient id="g99" x2="0" y2="1"><stop offset="0.000" stop-color="#000000"/><stop offset="0.135" stop-color="#090909"/><stop offset="0.269" stop-color="#161616"/><stop offset="0.404" stop-color="#222222"/><stop offset="0.538" stop-color="#272727"/><stop offset="0.654" stop-color="#181818"/><stop offset="0.769" stop-color="#151515"/><stop offset="0.885" stop-color="#0c0c0c"/><stop offset="1.000" stop-color="#000000"/></linearGradient><linearGradient id="g100" x2="0" y2="1"><stop offset="0.000" stop-color="#000000"/><stop offset="0.074" stop-color="#060606"/><stop offset="0.148" stop-color="#0b0b0b"/><stop offset="0.222" stop-color="#101010"/><stop offset="0.296" stop-color="#1b1b1b"/><stop offset="0.371" stop-color="#222222"/><stop offset="0.445" stop-color="#1c1c1c"/><stop offset="0.519" stop-color="#272727"/><stop offset="0.599" stop-color="#272727"/><stop offset="0.679" stop-color="#232323"/><stop offset="0.759" stop-color="#262626"/><stop offset="0.840" stop-color="#1c1c1c"/><stop offset="0.920" stop-color="#1d1d1d"/><stop offset="1.000" stop-color="#202020"/></linearGradient><linearGradient id="g101" x2="0" y2="1"><stop offset="0.000" stop-color="#5c5c5c"/><stop offset="0.060" stop-color="#616161"/><stop offset="0.120" stop-color="#797979"/><stop offset="0.180" stop-color="#9c9c9c"/><stop offset="0.239" stop-color="#b1b1b1"/><stop offset="0.299" stop-color="#bebebe"/><stop offset="0.359" stop-color="#b8b8b8"/><stop offset="0.412" stop-color="#cdcdcd"/><stop offset="0.465" stop-color="#a1a1a1"/><stop offset="0.518" stop-color="#c2c2c2"/><stop offset="0.570" stop-color="#d2d2d2"/><stop offset="0.623" stop-color="#dcdcdc"/><stop offset="0.676" stop-color="#b6b6b6"/><stop offset="0.729" stop-color="#c3c3c3"/><stop offset="0.782" stop-color="#bdbdbd"/><stop offset="0.829" stop-color="#d0d0d0"/><stop offset="0.876" stop-color="#898989"/><stop offset="0.923" stop-color="#989898"/><stop offset="0.961" stop-color="#8d8d8d"/><stop offset="1.000" stop-color="#5c5c5c"/></linearGradient><linearGradient id="g102" x2="0" y2="1"><stop offset="0.000" stop-color="#767676"/><stop offset="0.055" stop-color="#676767"/><stop offset="0.110" stop-color="#7d7d7d"/><stop offset="0.165" stop-color="#a2a2a2"/><stop offset="0.220" stop-color="#909090"/><stop offset="0.268" stop-color="#818181"/><stop offset="0.317" stop-color="#9b9b9b"/><stop offset="0.366" stop-color="#9e9e9e"/><stop offset="0.415" stop-color="#a9a9a9"/><stop offset="0.463" stop-color="#e1e1e1"/><stop offset="0.512" stop-color="#d2d2d2"/><stop offset="0.565" stop-color="#e3e3e3"/><stop offset="0.618" stop-color="#a3a3a3"/><stop offset="0.686" stop-color="#818181"/><stop offset="0.753" stop-color="#787878"/><stop offset="0.821" stop-color="#646464"/><stop offset="0.881" stop-color="#4e4e4e"/><stop offset="0.940" stop-color="#222222"/><stop offset="1.000" stop-color="#000000"/></linearGradient><linearGradient id="g103" x2="0" y2="1"><stop offset="0.000" stop-color="#767676"/><stop offset="0.058" stop-color="#6e6e6e"/><stop offset="0.115" stop-color="#959595"/><stop offset="0.173" stop-color="#848484"/><stop offset="0.231" stop-color="#959595"/><stop offset="0.289" stop-color="#9e9e9e"/><stop offset="0.335" stop-color="#717171"/><stop offset="0.380" stop-color="#838383"/><stop offset="0.432" stop-color="#969696"/><stop offset="0.485" stop-color="#7c7c7c"/><stop offset="0.537" stop-color="#808080"/><stop offset="0.589" stop-color="#787878"/><stop offset="0.641" stop-color="#5c5c5c"/><stop offset="0.701" stop-color="#525252"/><stop offset="0.761" stop-color="#5c5c5c"/><stop offset="0.820" stop-color="#575757"/><stop offset="0.880" stop-color="#636363"/><stop offset="0.940" stop-color="#656565"/><stop offset="1.000" stop-color="#575757"/></linearGradient><linearGradient id="g104" x2="0" y2="1"><stop offset="0.000" stop-color="#000000"/><stop offset="0.077" stop-color="#242424"/><stop offset="0.153" stop-color="#494949"/><stop offset="0.230" stop-color="#858585"/><stop offset="0.307" stop-color="#a3a3a3"/><stop offset="0.370" stop-color="#8e8e8e"/><stop offset="0.432" stop-color="#6f6f6f"/><stop offset="0.495" stop-color="#767676"/><stop offset="0.564" stop-color="#656565"/><stop offset="0.634" stop-color="#757575"/><stop offset="0.703" stop-color="#757575"/><stop offset="0.772" stop-color="#6e6e6e"/><stop offset="0.848" stop-color="#7d7d7d"/><stop offset="0.924" stop-color="#636363"/><stop offset="1.000" stop-color="#5c5c5c"/></linearGradient><linearGradient id="g105" x2="0" y2="1"><stop offset="0.000" stop-color="#838383"/><stop offset="0.138" stop-color="#8d8d8d"/><stop offset="0.277" stop-color="#757575"/><stop offset="0.415" stop-color="#888888"/><stop offset="0.554" stop-color="#909090"/><stop offset="0.679" stop-color="#717171"/><stop offset="0.804" stop-color="#696969"/><stop offset="0.902" stop-color="#393939"/><stop offset="1.000" stop-color="#000000"/></linearGradient><linearGradient id="g106" x2="0" y2="1"><stop offset="0.000" stop-color="#3f3f3f"/><stop offset="0.062" stop-color="#393939"/><stop offset="0.125" stop-color="#373737"/><stop offset="0.188" stop-color="#3b3b3b"/><stop offset="0.250" stop-color="#3e3e3e"/><stop offset="0.312" stop-color="#3b3b3b"/><stop offset="0.375" stop-color="#424242"/><stop offset="0.438" stop-color="#363636"/><stop offset="0.500" stop-color="#4a4a4a"/><stop offset="0.562" stop-color="#444444"/><stop offset="0.625" stop-color="#404040"/><stop offset="0.688" stop-color="#333333"/><stop offset="0.750" stop-color="#3a3a3a"/><stop offset="0.812" stop-color="#444444"/><stop offset="0.875" stop-color="#434343"/><stop offset="0.938" stop-color="#484848"/><stop offset="1.000" stop-color="#3f3f3f"/></linearGradient><linearGradient id="g107" x2="0" y2="1"><stop offset="0.000" stop-color="#000000"/><stop offset="0.167" stop-color="#1a1a1a"/><stop offset="0.333" stop-color="#282828"/><stop offset="0.500" stop-color="#424242"/><stop offset="0.667" stop-color="#2c2c2c"/><stop offset="0.833" stop-color="#141414"/><stop offset="1.000" stop-color="#000000"/></linearGradient></defs><polygon class="l" points="816.6,150.0 816.3,158.3 816.1,166.7 816.1,175.0 816.0,183.7 816.1,192.3 816.1,201.0 817.9,201.0 817.9,192.3 818.0,183.7 817.9,175.0 817.9,166.7 817.7,158.3 817.4,150.0" fill="url(#g1)"/><polygon class="l" points="821.2,115.0 820.9,121.7 820.8,128.3 820.6,135.0 820.7,143.3 820.9,151.7 821.2,160.0 822.0,160.0 822.3,151.7 822.5,143.3 822.6,135.0 822.4,128.3 822.3,121.7 822.0,115.0" fill="url(#g2)"/><polygon class="l" points="831.0,75.0 830.7,83.3 830.6,91.7 830.4,100.0 830.4,108.8 830.4,117.5 830.3,126.2 830.3,135.0 830.4,143.3 830.4,151.7 830.4,160.0 830.4,168.2 830.5,176.4 830.5,184.6 830.5,192.8 830.6,201.0 832.4,201.0 832.5,192.8 832.5,184.6 832.5,176.4 832.6,168.2 832.6,160.0 832.6,151.7 832.6,143.3 832.7,135.0 832.7,126.2 832.6,117.5 832.6,108.8 832.6,100.0 832.4,91.7 832.3,83.3 832.0,75.0" fill="url(#g3)"/><polygon class="l" points="844.6,160.0 844.3,168.3 844.2,176.7 844.0,185.0 844.0,193.0 844.0,201.0 846.0,201.0 846.0,193.0 846.0,185.0 845.8,176.7 845.7,168.3 845.4,160.0" fill="url(#g4)"/><polygon class="l" points="847.0,85.0 846.7,93.3 846.6,101.7 846.4,110.0 846.5,118.3 846.4,126.7 846.4,135.0 846.7,143.5 847.0,152.0 847.8,152.0 848.1,143.5 848.4,135.0 848.4,126.7 848.3,118.3 848.4,110.0 848.2,101.7 848.1,93.3 847.8,85.0" fill="url(#g5)"/><polygon class="l" points="849.1,59.0 849.1,67.2 849.0,75.4 849.0,83.6 849.0,91.8 849.0,100.0 849.0,108.3 849.0,116.7 849.0,125.0 849.0,133.3 849.0,141.7 849.0,150.0 848.9,158.8 848.9,167.5 848.9,176.2 848.9,185.0 849.0,193.0 848.9,201.0 851.3,201.0 851.2,193.0 851.3,185.0 851.3,176.2 851.3,167.5 851.3,158.8 851.2,150.0 851.2,141.7 851.2,133.3 851.2,125.0 851.2,116.7 851.2,108.3 851.2,100.0 851.2,91.8 851.2,83.6 851.2,75.4 851.1,67.2 851.1,59.0" fill="url(#g6)"/><polygon class="l" points="853.6,108.0 853.2,115.3 853.1,122.7 853.0,130.0 853.2,137.0 853.2,144.0 853.3,151.0 853.6,158.0 854.4,158.0 854.7,151.0 854.8,144.0 854.8,137.0 855.0,130.0 854.9,122.7 854.8,115.3 854.4,108.0" fill="url(#g7)"/><polygon class="l" points="856.4,59.0 856.3,66.2 856.3,73.4 856.3,80.6 856.2,87.8 856.2,95.0 856.2,102.5 856.3,110.0 856.2,117.5 856.3,125.0 856.3,132.5 856.4,140.0 856.6,147.5 856.9,155.0 857.7,155.0 858.0,147.5 858.2,140.0 858.3,132.5 858.3,125.0 858.4,117.5 858.3,110.0 858.4,102.5 858.4,95.0 858.4,87.8 858.3,80.6 858.3,73.4 858.3,66.2 858.2,59.0" fill="url(#g8)"/><polygon class="l" points="860.3,68.0 860.0,75.3 859.9,82.7 859.8,90.0 859.8,98.0 859.7,106.0 859.8,114.0 859.8,122.0 859.8,130.0 859.9,136.7 860.0,143.3 860.3,150.0 861.1,150.0 861.4,143.3 861.5,136.7 861.6,130.0 861.6,122.0 861.6,114.0 861.7,106.0 861.6,98.0 861.6,90.0 861.5,82.7 861.4,75.3 861.1,68.0" fill="url(#g9)"/><polygon class="l" points="860.6,155.0 860.3,163.3 860.2,171.7 860.0,180.0 860.0,187.0 860.0,194.0 860.0,201.0 862.0,201.0 862.0,194.0 862.0,187.0 862.0,180.0 861.8,171.7 861.7,163.3 861.4,155.0" fill="url(#g10)"/><polygon class="l" points="863.6,80.0 863.2,86.7 863.0,93.3 862.9,100.0 862.9,107.5 862.9,115.0 863.0,122.5 862.9,130.0 863.2,136.0 863.6,142.0 864.4,142.0 864.8,136.0 865.1,130.0 865.0,122.5 865.1,115.0 865.1,107.5 865.1,100.0 865.0,93.3 864.8,86.7 864.4,80.0" fill="url(#g11)"/><polygon class="l" points="865.9,59.0 865.9,67.2 865.9,75.4 865.9,83.6 866.0,91.8 865.9,100.0 866.0,107.3 866.0,114.7 866.0,122.0 865.9,130.0 866.0,138.0 866.0,144.0 866.1,150.0 866.4,158.0 867.0,158.0 867.3,150.0 867.4,144.0 867.4,138.0 867.5,130.0 867.4,122.0 867.4,114.7 867.4,107.3 867.5,100.0 867.4,91.8 867.5,83.6 867.5,75.4 867.5,67.2 867.5,59.0" fill="url(#g12)"/><polygon class="l" points="868.1,155.0 867.8,163.3 867.6,171.7 867.5,180.0 867.6,187.0 867.6,194.0 867.6,201.0 869.4,201.0 869.4,194.0 869.4,187.0 869.5,180.0 869.4,171.7 869.2,163.3 868.9,155.0" fill="url(#g13)"/><polygon class="l" points="872.0,59.0 871.9,66.8 872.0,74.5 872.0,82.2 872.0,90.0 872.2,97.5 872.6,105.0 873.4,105.0 873.8,97.5 874.0,90.0 874.0,82.2 874.0,74.5 874.1,66.8 874.0,59.0" fill="url(#g14)"/><polygon class="l" points="872.5,148.0 872.1,156.7 871.9,165.3 871.8,174.0 871.9,180.8 871.8,187.5 871.8,194.2 871.9,201.0 874.1,201.0 874.2,194.2 874.2,187.5 874.1,180.8 874.2,174.0 874.1,165.3 873.9,156.7 873.5,148.0" fill="url(#g15)"/><polygon class="l" points="893.9,59.0 893.8,67.2 893.9,75.4 893.9,83.6 893.9,91.8 893.9,100.0 894.0,108.3 894.1,116.7 894.4,125.0 895.2,125.0 895.5,116.7 895.6,108.3 895.7,100.0 895.7,91.8 895.7,83.6 895.7,75.4 895.8,67.2 895.7,59.0" fill="url(#g16)"/><polygon class="l" points="898.9,100.0 898.7,108.3 898.6,116.7 898.6,125.0 898.6,133.3 898.5,141.7 898.5,150.0 898.4,157.5 898.4,165.0 898.4,172.5 898.3,180.0 898.3,187.0 898.3,194.0 898.4,201.0 900.2,201.0 900.3,194.0 900.3,187.0 900.3,180.0 900.2,172.5 900.2,165.0 900.2,157.5 900.1,150.0 900.1,141.7 900.0,133.3 900.0,125.0 900.0,116.7 899.9,108.3 899.7,100.0" fill="url(#g17)"/><polygon class="l" points="904.8,59.0 904.8,67.3 904.8,75.5 904.8,83.8 904.8,92.1 904.8,100.4 904.8,108.6 904.7,116.9 904.7,125.2 904.7,133.5 904.7,141.7 904.8,150.0 904.8,158.8 904.7,167.5 904.6,176.2 904.6,185.0 904.7,193.0 904.7,201.0 906.5,201.0 906.5,193.0 906.6,185.0 906.6,176.2 906.5,167.5 906.4,158.8 906.4,150.0 906.5,141.7 906.5,133.5 906.5,125.2 906.5,116.9 906.4,108.6 906.4,100.4 906.4,92.1 906.4,83.8 906.4,75.5 906.4,67.3 906.4,59.0" fill="url(#g18)"/><polygon class="l" points="911.5,59.0 911.6,67.7 911.6,76.4 911.5,85.1 911.5,93.9 911.6,102.6 911.5,111.3 911.5,120.0 911.5,126.7 911.5,133.3 911.4,140.0 911.4,147.5 911.3,155.0 911.4,162.5 911.3,170.0 911.4,177.8 911.3,185.5 911.3,193.2 911.3,201.0 913.7,201.0 913.7,193.2 913.7,185.5 913.6,177.8 913.7,170.0 913.6,162.5 913.7,155.0 913.6,147.5 913.6,140.0 913.5,133.3 913.5,126.7 913.5,120.0 913.5,111.3 913.4,102.6 913.5,93.9 913.5,85.1 913.4,76.4 913.4,67.7 913.5,59.0" fill="url(#g19)"/><polygon class="l" points="916.6,59.0 916.6,67.2 916.6,75.4 916.7,83.6 916.6,91.8 916.6,100.0 916.7,108.0 916.7,116.0 916.7,124.0 916.6,132.0 916.7,140.0 916.8,147.3 917.0,154.7 917.3,162.0 918.1,162.0 918.4,154.7 918.6,147.3 918.7,140.0 918.8,132.0 918.7,124.0 918.7,116.0 918.7,108.0 918.8,100.0 918.8,91.8 918.7,83.6 918.8,75.4 918.8,67.2 918.8,59.0" fill="url(#g20)"/><polygon class="l" points="919.6,145.0 919.3,152.5 919.2,160.0 919.2,167.5 919.0,175.0 919.1,183.7 919.1,192.3 919.1,201.0 920.9,201.0 920.9,192.3 920.9,183.7 921.0,175.0 920.8,167.5 920.8,160.0 920.7,152.5 920.4,145.0" fill="url(#g21)"/><polygon class="l" points="922.8,120.0 922.5,127.5 922.4,135.0 922.2,142.5 922.1,150.0 922.1,157.5 922.1,165.0 922.2,171.7 922.4,178.3 922.8,185.0 923.8,185.0 924.2,178.3 924.4,171.7 924.5,165.0 924.5,157.5 924.5,150.0 924.4,142.5 924.2,135.0 924.1,127.5 923.8,120.0" fill="url(#g22)"/><polygon class="l" points="927.8,78.0 927.4,86.8 927.3,95.5 927.2,104.2 927.1,113.0 927.2,120.3 927.1,127.7 927.2,135.0 927.4,140.0 927.8,145.0 928.6,145.0 929.0,140.0 929.2,135.0 929.3,127.7 929.2,120.3 929.3,113.0 929.2,104.2 929.1,95.5 929.0,86.8 928.6,78.0" fill="url(#g23)"/><polygon class="l" points="929.6,150.0 929.2,158.3 929.1,166.7 928.9,175.0 928.9,183.7 929.0,192.3 929.0,201.0 931.0,201.0 931.0,192.3 931.1,183.7 931.1,175.0 930.9,166.7 930.8,158.3 930.4,150.0" fill="url(#g24)"/><polygon class="l" points="935.9,110.0 935.7,118.3 935.6,126.7 935.5,135.0 935.5,143.3 935.4,151.7 935.4,160.0 935.4,168.2 935.3,176.4 935.4,184.6 935.4,192.8 935.4,201.0 937.2,201.0 937.2,192.8 937.2,184.6 937.3,176.4 937.2,168.2 937.2,160.0 937.2,151.7 937.1,143.3 937.1,135.0 937.0,126.7 936.9,118.3 936.7,110.0" fill="url(#g25)"/><polygon class="l" points="939.5,88.0 939.2,94.8 939.2,101.5 939.0,108.2 938.9,115.0 939.1,123.3 939.2,131.7 939.5,140.0 940.3,140.0 940.6,131.7 940.7,123.3 940.9,115.0 940.8,108.2 940.6,101.5 940.6,94.8 940.3,88.0" fill="url(#g26)"/><polygon class="l" points="941.6,59.0 941.5,67.1 941.6,75.2 941.6,83.3 941.5,91.4 941.5,99.5 941.5,107.6 941.5,115.7 941.6,123.8 941.6,131.9 941.5,140.0 941.5,148.3 941.4,156.7 941.4,165.0 941.4,172.2 941.5,179.4 941.5,186.6 941.4,193.8 941.4,201.0 943.8,201.0 943.8,193.8 943.7,186.6 943.7,179.4 943.8,172.2 943.8,165.0 943.8,156.7 943.7,148.3 943.7,140.0 943.6,131.9 943.6,123.8 943.7,115.7 943.7,107.6 943.7,99.5 943.7,91.4 943.6,83.3 943.6,75.2 943.7,67.1 943.6,59.0" fill="url(#g27)"/><polygon class="l" points="944.5,59.0 944.5,67.9 944.5,76.8 944.5,85.6 944.4,94.5 944.4,103.4 944.5,112.2 944.5,121.1 944.5,130.0 944.4,138.9 944.5,147.8 944.5,156.6 944.5,165.5 944.5,174.4 944.5,183.2 944.5,192.1 944.5,201.0 946.3,201.0 946.3,192.1 946.3,183.2 946.3,174.4 946.3,165.5 946.3,156.6 946.3,147.8 946.4,138.9 946.3,130.0 946.3,121.1 946.3,112.2 946.4,103.4 946.4,94.5 946.3,85.6 946.3,76.8 946.3,67.9 946.3,59.0" fill="url(#g28)"/><polygon class="l" points="950.3,70.0 950.0,78.5 949.8,87.0 949.7,95.5 949.6,104.0 949.7,111.8 949.6,119.5 949.7,127.2 949.7,135.0 949.7,143.2 949.8,151.5 949.8,159.8 949.7,168.0 949.8,176.2 949.7,184.5 949.7,192.8 949.8,201.0 951.8,201.0 951.9,192.8 951.9,184.5 951.8,176.2 951.9,168.0 951.8,159.8 951.8,151.5 951.9,143.2 951.9,135.0 951.9,127.2 952.0,119.5 951.9,111.8 952.0,104.0 951.9,95.5 951.8,87.0 951.6,78.5 951.3,70.0" fill="url(#g29)"/><polygon class="l" points="954.0,115.0 953.8,122.5 953.7,130.0 953.7,137.5 953.6,145.0 953.5,152.5 953.5,160.0 953.5,168.2 953.4,176.4 953.4,184.6 953.5,192.8 953.5,201.0 955.3,201.0 955.3,192.8 955.4,184.6 955.4,176.4 955.3,168.2 955.3,160.0 955.3,152.5 955.2,145.0 955.1,137.5 955.1,130.0 955.0,122.5 954.8,115.0" fill="url(#g30)"/><polygon class="l" points="957.5,135.0 957.2,143.8 957.1,152.5 957.0,161.2 956.8,170.0 956.9,177.8 956.8,185.5 956.8,193.2 956.9,201.0 959.1,201.0 959.2,193.2 959.2,185.5 959.1,177.8 959.2,170.0 959.0,161.2 958.9,152.5 958.8,143.8 958.5,135.0" fill="url(#g31)"/><polygon class="l" points="961.6,59.0 961.6,67.9 961.6,76.8 961.6,85.6 961.6,94.5 961.6,103.4 961.6,112.2 961.6,121.1 961.6,130.0 961.6,138.9 961.5,147.8 961.6,156.6 961.5,165.5 961.6,174.4 961.6,183.2 961.6,192.1 961.6,201.0 963.4,201.0 963.4,192.1 963.4,183.2 963.4,174.4 963.5,165.5 963.4,156.6 963.5,147.8 963.4,138.9 963.4,130.0 963.4,121.1 963.4,112.2 963.4,103.4 963.4,94.5 963.4,85.6 963.4,76.8 963.4,67.9 963.4,59.0" fill="url(#g32)"/><polygon class="l" points="967.5,65.0 967.1,73.3 967.1,81.7 966.9,90.0 966.9,97.5 966.9,105.0 966.9,112.5 966.8,120.0 966.8,127.5 966.9,135.0 967.0,143.2 966.9,151.5 966.8,159.8 966.9,168.0 967.0,176.2 967.0,184.5 967.0,192.8 966.9,201.0 969.1,201.0 969.0,192.8 969.0,184.5 969.0,176.2 969.1,168.0 969.2,159.8 969.1,151.5 969.0,143.2 969.1,135.0 969.2,127.5 969.2,120.0 969.1,112.5 969.1,105.0 969.1,97.5 969.1,90.0 968.9,81.7 968.9,73.3 968.5,65.0" fill="url(#g33)"/><polygon class="l" points="970.5,130.0 970.1,136.7 970.0,143.3 969.9,150.0 969.8,157.5 969.9,165.0 969.8,172.5 969.9,180.0 969.8,187.0 969.9,194.0 969.9,201.0 972.1,201.0 972.1,194.0 972.2,187.0 972.1,180.0 972.2,172.5 972.1,165.0 972.2,157.5 972.1,150.0 972.0,143.3 971.9,136.7 971.5,130.0" fill="url(#g34)"/><polygon class="l" points="972.4,59.0 972.4,67.2 972.4,75.5 972.4,83.8 972.4,92.0 972.4,100.2 972.4,108.5 972.3,116.8 972.4,125.0 972.6,130.0 972.9,135.0 973.7,135.0 974.0,130.0 974.2,125.0 974.3,116.8 974.2,108.5 974.2,100.2 974.2,92.0 974.2,83.8 974.2,75.5 974.2,67.2 974.2,59.0" fill="url(#g35)"/><polygon class="l" points="974.8,59.0 974.7,67.0 974.7,75.0 974.7,83.3 974.7,91.7 974.7,100.0 974.7,108.3 974.6,116.7 974.7,125.0 974.7,131.7 974.7,138.3 974.8,145.0 974.8,153.3 974.8,161.7 974.8,170.0 974.9,177.8 974.9,185.5 975.0,193.2 975.2,201.0 975.8,201.0 976.0,193.2 976.1,185.5 976.1,177.8 976.2,170.0 976.2,161.7 976.2,153.3 976.2,145.0 976.3,138.3 976.3,131.7 976.3,125.0 976.4,116.7 976.3,108.3 976.3,100.0 976.3,91.7 976.3,83.3 976.3,75.0 976.3,67.0 976.2,59.0" fill="url(#g36)"/><polygon class="l" points="976.7,59.0 976.7,67.0 976.7,75.0 976.6,83.3 976.7,91.7 976.7,100.0 976.7,108.3 976.7,116.7 976.7,125.0 976.7,131.7 976.8,138.3 976.7,145.0 976.8,153.3 976.7,161.7 976.8,170.0 976.8,177.8 976.8,185.5 976.8,193.2 976.8,201.0 978.4,201.0 978.4,193.2 978.4,185.5 978.4,177.8 978.4,170.0 978.5,161.7 978.4,153.3 978.5,145.0 978.4,138.3 978.5,131.7 978.5,125.0 978.5,116.7 978.5,108.3 978.5,100.0 978.5,91.7 978.6,83.3 978.5,75.0 978.5,67.0 978.5,59.0" fill="url(#g37)"/><polygon class="l" points="980.3,59.0 980.3,67.0 980.3,75.0 980.3,83.3 980.4,91.7 980.5,100.0 980.5,108.3 980.5,116.7 980.5,125.0 980.3,131.7 980.2,138.3 980.1,145.0 980.1,153.3 980.0,161.7 979.9,170.0 979.9,177.8 980.0,185.5 980.0,193.2 980.0,201.0 981.6,201.0 981.6,193.2 981.6,185.5 981.7,177.8 981.7,170.0 981.6,161.7 981.5,153.3 981.5,145.0 981.4,138.3 981.3,131.7 981.1,125.0 981.1,116.7 981.1,108.3 981.1,100.0 981.2,91.7 981.3,83.3 981.3,75.0 981.3,67.0 981.3,59.0" fill="url(#g38)"/><polygon class="l" points="982.8,59.0 982.7,67.0 982.7,75.0 982.7,83.3 982.7,91.7 982.7,100.0 982.7,108.3 982.7,116.7 982.7,125.0 982.7,131.7 982.7,138.3 982.7,145.0 982.6,153.3 982.6,161.7 982.6,170.0 982.6,177.8 982.6,185.5 982.5,193.2 982.6,201.0 984.2,201.0 984.3,193.2 984.2,185.5 984.2,177.8 984.2,170.0 984.2,161.7 984.2,153.3 984.1,145.0 984.1,138.3 984.1,131.7 984.1,125.0 984.1,116.7 984.1,108.3 984.1,100.0 984.1,91.7 984.1,83.3 984.1,75.0 984.1,67.0 984.0,59.0" fill="url(#g39)"/><polygon class="l" points="984.9,59.0 984.9,67.0 984.9,75.0 984.9,83.3 984.8,91.7 984.8,100.0 984.8,108.3 984.7,116.7 984.8,125.0 984.8,131.7 984.8,138.3 984.9,145.0 984.8,153.3 984.8,161.7 984.8,170.0 984.8,177.8 984.8,185.5 984.8,193.2 984.9,201.0 986.1,201.0 986.2,193.2 986.2,185.5 986.2,177.8 986.2,170.0 986.2,161.7 986.2,153.3 986.1,145.0 986.2,138.3 986.2,131.7 986.2,125.0 986.3,116.7 986.2,108.3 986.2,100.0 986.2,91.7 986.1,83.3 986.1,75.0 986.1,67.0 986.1,59.0" fill="url(#g40)"/><polygon class="l" points="986.3,59.0 986.2,67.0 986.3,75.0 986.3,83.3 986.2,91.7 986.2,100.0 986.2,108.3 986.2,116.7 986.2,125.0 986.3,131.7 986.2,138.3 986.2,145.0 986.1,153.3 986.2,161.7 986.2,170.0 986.2,177.8 986.2,185.5 986.2,193.2 986.3,201.0 987.7,201.0 987.8,193.2 987.8,185.5 987.8,177.8 987.8,170.0 987.8,161.7 987.9,153.3 987.8,145.0 987.8,138.3 987.7,131.7 987.8,125.0 987.8,116.7 987.8,108.3 987.8,100.0 987.8,91.7 987.7,83.3 987.7,75.0 987.8,67.0 987.7,59.0" fill="url(#g41)"/><polygon class="l" points="988.0,59.0 988.0,67.0 988.0,75.0 988.0,83.3 988.0,91.7 988.0,100.0 988.0,108.3 988.0,116.7 988.0,125.0 988.0,131.7 988.0,138.3 988.0,145.0 988.0,153.3 987.9,161.7 988.0,170.0 988.0,177.8 988.0,185.5 988.0,193.2 988.1,201.0 989.5,201.0 989.6,193.2 989.6,185.5 989.6,177.8 989.6,170.0 989.7,161.7 989.6,153.3 989.6,145.0 989.6,138.3 989.6,131.7 989.6,125.0 989.6,116.7 989.6,108.3 989.6,100.0 989.6,91.7 989.6,83.3 989.6,75.0 989.6,67.0 989.6,59.0" fill="url(#g42)"/><polygon class="l" points="990.3,59.0 990.3,67.0 990.3,75.0 990.3,83.3 990.3,91.7 990.3,100.0 990.3,108.3 990.3,116.7 990.2,125.0 990.4,131.7 990.3,138.3 990.4,145.0 990.4,153.3 990.5,161.7 990.6,170.0 990.6,177.8 990.6,185.5 990.6,193.2 990.6,201.0 991.8,201.0 991.8,193.2 991.8,185.5 991.8,177.8 991.8,170.0 991.9,161.7 992.0,153.3 992.0,145.0 992.1,138.3 992.0,131.7 992.2,125.0 992.1,116.7 992.1,108.3 992.1,100.0 992.1,91.7 992.1,83.3 992.1,75.0 992.1,67.0 992.1,59.0" fill="url(#g43)"/><polygon class="l" points="992.6,59.0 992.7,67.0 992.9,75.0 992.7,83.3 992.6,91.7 992.6,100.0 992.6,108.3 992.7,116.7 992.8,125.0 992.7,131.7 992.6,138.3 992.5,145.0 992.5,153.3 992.5,161.7 992.4,170.0 992.5,177.8 992.5,185.5 992.5,193.2 992.6,201.0 993.8,201.0 993.9,193.2 993.9,185.5 993.9,177.8 994.0,170.0 993.9,161.7 993.9,153.3 993.9,145.0 993.8,138.3 993.7,131.7 993.6,125.0 993.7,116.7 993.8,108.3 993.8,100.0 993.8,91.7 993.7,83.3 993.5,75.0 993.7,67.0 993.8,59.0" fill="url(#g44)"/><polygon class="l" points="994.4,59.0 994.4,67.0 994.4,75.0 994.4,83.3 994.4,91.7 994.4,100.0 994.4,108.3 994.4,116.7 994.4,125.0 994.5,131.7 994.4,138.3 994.4,145.0 994.4,153.3 994.4,161.7 994.4,170.0 994.4,177.8 994.4,185.5 994.3,193.2 994.3,201.0 996.1,201.0 996.1,193.2 996.0,185.5 996.0,177.8 996.0,170.0 996.0,161.7 996.0,153.3 996.0,145.0 996.0,138.3 995.9,131.7 996.0,125.0 996.0,116.7 996.0,108.3 996.0,100.0 996.0,91.7 996.0,83.3 996.0,75.0 996.0,67.0 996.0,59.0" fill="url(#g45)"/><polygon class="l" points="996.1,59.0 996.1,67.0 996.0,75.0 996.0,83.3 996.0,91.7 996.0,100.0 995.9,108.3 996.0,116.7 996.0,125.0 996.0,131.7 996.0,138.3 996.1,145.0 996.1,153.3 996.1,161.7 996.2,170.0 996.2,177.8 996.2,185.5 996.2,193.2 996.2,201.0 997.4,201.0 997.4,193.2 997.4,185.5 997.4,177.8 997.4,170.0 997.5,161.7 997.5,153.3 997.5,145.0 997.6,138.3 997.6,131.7 997.6,125.0 997.6,116.7 997.7,108.3 997.6,100.0 997.6,91.7 997.6,83.3 997.6,75.0 997.5,67.0 997.5,59.0" fill="url(#g46)"/><polygon class="l" points="997.8,59.0 997.8,67.0 997.9,75.0 997.8,83.3 997.8,91.7 997.8,100.0 997.8,108.3 997.8,116.7 997.8,125.0 997.8,131.7 997.8,138.3 997.8,145.0 997.8,153.3 997.8,161.7 997.8,170.0 997.8,177.8 997.7,185.5 997.8,193.2 997.7,201.0 999.5,201.0 999.4,193.2 999.5,185.5 999.4,177.8 999.4,170.0 999.4,161.7 999.4,153.3 999.4,145.0 999.4,138.3 999.4,131.7 999.4,125.0 999.4,116.7 999.4,108.3 999.4,100.0 999.4,91.7 999.4,83.3 999.3,75.0 999.4,67.0 999.4,59.0" fill="url(#g47)"/><polygon class="l" points="999.4,59.0 999.4,67.0 999.4,75.0 999.4,83.3 999.4,91.7 999.4,100.0 999.4,108.3 999.4,116.7 999.4,125.0 999.3,131.7 999.4,138.3 999.4,145.0 999.4,153.3 999.4,161.7 999.4,170.0 999.4,177.8 999.4,185.5 999.4,193.2 999.4,201.0 1001.0,201.0 1001.0,193.2 1001.0,185.5 1001.0,177.8 1001.0,170.0 1001.0,161.7 1001.0,153.3 1001.0,145.0 1001.0,138.3 1001.1,131.7 1001.0,125.0 1001.0,116.7 1001.0,108.3 1001.0,100.0 1001.0,91.7 1001.0,83.3 1001.0,75.0 1001.0,67.0 1001.0,59.0" fill="url(#g48)"/><polygon class="l" points="1001.3,59.0 1001.3,67.0 1001.3,75.0 1001.4,83.3 1001.3,91.7 1001.3,100.0 1001.3,108.3 1001.3,116.7 1001.3,125.0 1001.3,131.7 1001.3,138.3 1001.3,145.0 1001.3,153.3 1001.2,161.7 1001.3,170.0 1001.3,177.8 1001.3,185.5 1001.3,193.2 1001.3,201.0 1003.1,201.0 1003.1,193.2 1003.1,185.5 1003.1,177.8 1003.1,170.0 1003.2,161.7 1003.1,153.3 1003.1,145.0 1003.1,138.3 1003.1,131.7 1003.1,125.0 1003.1,116.7 1003.1,108.3 1003.1,100.0 1003.1,91.7 1003.0,83.3 1003.1,75.0 1003.1,67.0 1003.1,59.0" fill="url(#g49)"/><polygon class="l" points="1003.3,59.0 1003.3,67.0 1003.3,75.0 1003.3,83.3 1003.3,91.7 1003.2,100.0 1003.2,108.3 1003.2,116.7 1003.2,125.0 1003.2,131.7 1003.2,138.3 1003.2,145.0 1003.2,153.3 1003.2,161.7 1003.2,170.0 1003.2,177.8 1003.2,185.5 1003.1,193.2 1003.2,201.0 1004.8,201.0 1004.9,193.2 1004.8,185.5 1004.8,177.8 1004.8,170.0 1004.8,161.7 1004.8,153.3 1004.8,145.0 1004.8,138.3 1004.8,131.7 1004.8,125.0 1004.8,116.7 1004.8,108.3 1004.8,100.0 1004.7,91.7 1004.7,83.3 1004.7,75.0 1004.7,67.0 1004.7,59.0" fill="url(#g50)"/><polygon class="l" points="1005.2,59.0 1005.3,67.0 1005.2,75.0 1005.2,83.3 1005.2,91.7 1005.2,100.0 1005.3,108.3 1005.2,116.7 1005.2,125.0 1005.2,131.7 1005.2,138.3 1005.2,145.0 1005.2,153.3 1005.2,161.7 1005.2,170.0 1005.2,177.8 1005.3,185.5 1005.2,193.2 1005.2,201.0 1007.4,201.0 1007.4,193.2 1007.3,185.5 1007.4,177.8 1007.4,170.0 1007.4,161.7 1007.4,153.3 1007.4,145.0 1007.4,138.3 1007.4,131.7 1007.4,125.0 1007.4,116.7 1007.3,108.3 1007.4,100.0 1007.4,91.7 1007.4,83.3 1007.4,75.0 1007.3,67.0 1007.4,59.0" fill="url(#g51)"/><polygon class="l" points="1007.3,59.0 1007.3,67.0 1007.3,75.0 1007.3,83.3 1007.2,91.7 1007.3,100.0 1007.2,108.3 1007.2,116.7 1007.2,125.0 1007.3,131.7 1007.3,138.3 1007.3,145.0 1007.3,153.3 1007.3,161.7 1007.3,170.0 1007.3,177.8 1007.4,185.5 1007.4,193.2 1007.4,201.0 1009.0,201.0 1009.0,193.2 1009.0,185.5 1009.1,177.8 1009.1,170.0 1009.1,161.7 1009.1,153.3 1009.1,145.0 1009.1,138.3 1009.1,131.7 1009.2,125.0 1009.2,116.7 1009.2,108.3 1009.1,100.0 1009.2,91.7 1009.1,83.3 1009.1,75.0 1009.1,67.0 1009.1,59.0" fill="url(#g52)"/><polygon class="l" points="1008.9,59.0 1009.0,67.0 1008.9,75.0 1008.9,83.3 1008.9,91.7 1008.9,100.0 1008.8,108.3 1008.9,116.7 1008.9,125.0 1008.9,131.7 1008.9,138.3 1008.9,145.0 1008.9,153.3 1009.0,161.7 1008.9,170.0 1008.9,177.8 1008.9,185.5 1009.0,193.2 1008.9,201.0 1010.7,201.0 1010.6,193.2 1010.7,185.5 1010.7,177.8 1010.7,170.0 1010.6,161.7 1010.7,153.3 1010.7,145.0 1010.7,138.3 1010.7,131.7 1010.7,125.0 1010.7,116.7 1010.8,108.3 1010.7,100.0 1010.7,91.7 1010.7,83.3 1010.7,75.0 1010.6,67.0 1010.7,59.0" fill="url(#g53)"/><polygon class="l" points="1011.0,59.0 1011.0,67.0 1011.0,75.0 1011.0,83.3 1011.0,91.7 1011.0,100.0 1011.0,108.3 1011.0,116.7 1011.0,125.0 1011.0,131.7 1011.0,138.3 1011.0,145.0 1011.0,153.3 1010.9,161.7 1011.0,170.0 1011.0,177.8 1011.0,185.5 1011.0,193.2 1011.0,201.0 1012.6,201.0 1012.6,193.2 1012.6,185.5 1012.6,177.8 1012.6,170.0 1012.7,161.7 1012.6,153.3 1012.6,145.0 1012.6,138.3 1012.6,131.7 1012.6,125.0 1012.6,116.7 1012.6,108.3 1012.6,100.0 1012.6,91.7 1012.6,83.3 1012.6,75.0 1012.6,67.0 1012.6,59.0" fill="url(#g54)"/><polygon class="l" points="1012.8,59.0 1012.8,67.0 1012.8,75.0 1012.8,83.3 1012.8,91.7 1012.7,100.0 1012.7,108.3 1012.7,116.7 1012.7,125.0 1012.6,131.7 1012.7,138.3 1012.7,145.0 1012.7,153.3 1012.7,161.7 1012.7,170.0 1012.7,177.8 1012.7,185.5 1012.7,193.2 1012.7,201.0 1014.3,201.0 1014.3,193.2 1014.3,185.5 1014.3,177.8 1014.3,170.0 1014.3,161.7 1014.3,153.3 1014.3,145.0 1014.3,138.3 1014.4,131.7 1014.3,125.0 1014.3,116.7 1014.3,108.3 1014.3,100.0 1014.2,91.7 1014.2,83.3 1014.2,75.0 1014.2,67.0 1014.2,59.0" fill="url(#g55)"/><polygon class="l" points="1014.5,59.0 1014.4,67.0 1014.4,75.0 1014.4,83.3 1014.4,91.7 1014.4,100.0 1014.4,108.3 1014.4,116.7 1014.4,125.0 1014.4,131.7 1014.4,138.3 1014.4,145.0 1014.5,153.3 1014.4,161.7 1014.4,170.0 1014.4,177.8 1014.4,185.5 1014.3,193.2 1014.4,201.0 1016.2,201.0 1016.2,193.2 1016.2,185.5 1016.2,177.8 1016.2,170.0 1016.2,161.7 1016.1,153.3 1016.2,145.0 1016.2,138.3 1016.2,131.7 1016.2,125.0 1016.2,116.7 1016.2,108.3 1016.2,100.0 1016.2,91.7 1016.2,83.3 1016.2,75.0 1016.2,67.0 1016.1,59.0" fill="url(#g56)"/><polygon class="l" points="1016.2,59.0 1016.2,67.0 1016.2,75.0 1016.2,83.3 1016.2,91.7 1016.2,100.0 1016.2,108.3 1016.2,116.7 1016.2,125.0 1016.2,131.7 1016.2,138.3 1016.2,145.0 1016.2,153.3 1016.2,161.7 1016.2,170.0 1016.3,177.8 1016.2,185.5 1016.2,193.2 1016.3,201.0 1018.1,201.0 1018.2,193.2 1018.2,185.5 1018.1,177.8 1018.2,170.0 1018.2,161.7 1018.2,153.3 1018.2,145.0 1018.2,138.3 1018.2,131.7 1018.2,125.0 1018.2,116.7 1018.2,108.3 1018.2,100.0 1018.2,91.7 1018.2,83.3 1018.2,75.0 1018.2,67.0 1018.2,59.0" fill="url(#g57)"/><polygon class="l" points="1018.4,59.0 1018.4,67.0 1018.4,75.0 1018.4,83.3 1018.4,91.7 1018.4,100.0 1018.4,108.3 1018.4,116.7 1018.4,125.0 1018.4,131.7 1018.4,138.3 1018.4,145.0 1018.4,153.3 1018.4,161.7 1018.4,170.0 1018.3,177.8 1018.4,185.5 1018.4,193.2 1018.4,201.0 1020.0,201.0 1020.0,193.2 1020.0,185.5 1020.1,177.8 1020.0,170.0 1020.0,161.7 1020.0,153.3 1020.0,145.0 1020.0,138.3 1020.0,131.7 1020.0,125.0 1020.0,116.7 1020.0,108.3 1020.0,100.0 1020.0,91.7 1020.0,83.3 1020.0,75.0 1020.0,67.0 1020.0,59.0" fill="url(#g58)"/><polygon class="l" points="1020.4,59.0 1020.3,67.0 1020.4,75.0 1020.3,83.3 1020.3,91.7 1020.3,100.0 1020.4,108.3 1020.3,116.7 1020.3,125.0 1020.3,131.7 1020.3,138.3 1020.3,145.0 1020.3,153.3 1020.3,161.7 1020.3,170.0 1020.3,177.8 1020.3,185.5 1020.2,193.2 1020.3,201.0 1022.1,201.0 1022.2,193.2 1022.1,185.5 1022.1,177.8 1022.1,170.0 1022.1,161.7 1022.1,153.3 1022.1,145.0 1022.1,138.3 1022.1,131.7 1022.1,125.0 1022.1,116.7 1022.0,108.3 1022.1,100.0 1022.1,91.7 1022.1,83.3 1022.0,75.0 1022.1,67.0 1022.0,59.0" fill="url(#g59)"/><polygon class="l" points="1022.3,59.0 1022.3,67.0 1022.3,75.0 1022.3,83.3 1022.2,91.7 1022.3,100.0 1022.2,108.3 1022.3,116.7 1022.2,125.0 1022.3,131.7 1022.2,138.3 1022.2,145.0 1022.2,153.3 1022.2,161.7 1022.1,170.0 1022.1,177.8 1022.2,185.5 1022.2,193.2 1022.2,201.0 1023.8,201.0 1023.8,193.2 1023.8,185.5 1023.9,177.8 1023.9,170.0 1023.8,161.7 1023.8,153.3 1023.8,145.0 1023.8,138.3 1023.7,131.7 1023.8,125.0 1023.7,116.7 1023.8,108.3 1023.7,100.0 1023.8,91.7 1023.7,83.3 1023.7,75.0 1023.7,67.0 1023.7,59.0" fill="url(#g60)"/><polygon class="l" points="1023.9,59.0 1023.9,67.0 1023.9,75.0 1023.9,83.3 1023.9,91.7 1023.9,100.0 1023.9,108.3 1023.9,116.7 1023.9,125.0 1023.9,131.7 1023.9,138.3 1023.9,145.0 1023.9,153.3 1023.9,161.7 1023.9,170.0 1023.9,177.8 1023.9,185.5 1023.9,193.2 1023.9,201.0 1026.1,201.0 1026.1,193.2 1026.1,185.5 1026.1,177.8 1026.1,170.0 1026.1,161.7 1026.1,153.3 1026.1,145.0 1026.1,138.3 1026.1,131.7 1026.1,125.0 1026.1,116.7 1026.1,108.3 1026.1,100.0 1026.1,91.7 1026.1,83.3 1026.1,75.0 1026.1,67.0 1026.1,59.0" fill="url(#g61)"/><polygon class="l" points="1026.0,59.0 1026.0,67.0 1026.0,75.0 1026.0,83.3 1026.0,91.7 1026.0,100.0 1026.0,108.3 1026.0,116.7 1026.0,125.0 1026.0,131.7 1026.0,138.3 1026.0,145.0 1026.0,153.3 1026.0,161.7 1026.0,170.0 1026.0,177.8 1026.0,185.5 1026.0,193.2 1026.0,201.0 1028.0,201.0 1028.0,193.2 1028.0,185.5 1028.0,177.8 1028.0,170.0 1028.0,161.7 1028.0,153.3 1028.0,145.0 1028.0,138.3 1028.0,131.7 1028.0,125.0 1028.0,116.7 1028.0,108.3 1028.0,100.0 1028.0,91.7 1028.0,83.3 1028.0,75.0 1028.0,67.0 1028.0,59.0" fill="url(#g62)"/><polygon class="l" points="1028.1,59.0 1028.1,67.0 1028.1,75.0 1028.2,83.3 1028.1,91.7 1028.1,100.0 1028.2,108.3 1028.1,116.7 1028.1,125.0 1028.1,131.7 1028.0,138.3 1028.1,145.0 1028.1,153.3 1028.1,161.7 1028.1,170.0 1028.1,177.8 1028.1,185.5 1028.2,193.2 1028.1,201.0 1029.9,201.0 1029.8,193.2 1029.9,185.5 1029.9,177.8 1029.9,170.0 1029.9,161.7 1029.9,153.3 1029.9,145.0 1030.0,138.3 1029.9,131.7 1029.9,125.0 1029.9,116.7 1029.8,108.3 1029.9,100.0 1029.9,91.7 1029.8,83.3 1029.9,75.0 1029.9,67.0 1029.9,59.0" fill="url(#g63)"/><polygon class="l" points="1030.4,59.0 1030.4,67.0 1030.3,75.0 1030.3,83.3 1030.3,91.7 1030.3,100.0 1030.3,108.3 1030.3,116.7 1030.3,125.0 1030.2,131.7 1030.2,138.3 1030.2,145.0 1030.2,153.3 1030.2,161.7 1030.1,170.0 1030.2,177.8 1030.2,185.5 1030.2,193.2 1030.2,201.0 1031.8,201.0 1031.8,193.2 1031.8,185.5 1031.8,177.8 1031.9,170.0 1031.8,161.7 1031.8,153.3 1031.8,145.0 1031.8,138.3 1031.8,131.7 1031.7,125.0 1031.7,116.7 1031.7,108.3 1031.7,100.0 1031.7,91.7 1031.7,83.3 1031.7,75.0 1031.6,67.0 1031.6,59.0" fill="url(#g64)"/><polygon class="l" points="1032.3,59.0 1032.3,67.0 1032.3,75.0 1032.3,83.3 1032.3,91.7 1032.3,100.0 1032.3,108.3 1032.3,116.7 1032.3,125.0 1032.3,131.7 1032.2,138.3 1032.2,145.0 1032.2,153.3 1032.1,161.7 1032.2,170.0 1032.2,177.8 1032.2,185.5 1032.2,193.2 1032.2,201.0 1033.8,201.0 1033.8,193.2 1033.8,185.5 1033.8,177.8 1033.8,170.0 1033.9,161.7 1033.8,153.3 1033.8,145.0 1033.8,138.3 1033.7,131.7 1033.7,125.0 1033.7,116.7 1033.7,108.3 1033.7,100.0 1033.7,91.7 1033.7,83.3 1033.7,75.0 1033.7,67.0 1033.7,59.0" fill="url(#g65)"/><polygon class="l" points="1034.4,59.0 1034.4,67.0 1034.4,75.0 1034.3,83.3 1034.4,91.7 1034.3,100.0 1034.3,108.3 1034.3,116.7 1034.3,125.0 1034.3,131.7 1034.3,138.3 1034.3,145.0 1034.3,153.3 1034.2,161.7 1034.3,170.0 1034.3,177.8 1034.3,185.5 1034.4,193.2 1034.3,201.0 1036.1,201.0 1036.0,193.2 1036.1,185.5 1036.1,177.8 1036.1,170.0 1036.2,161.7 1036.1,153.3 1036.1,145.0 1036.1,138.3 1036.1,131.7 1036.1,125.0 1036.1,116.7 1036.1,108.3 1036.1,100.0 1036.0,91.7 1036.1,83.3 1036.0,75.0 1036.0,67.0 1036.0,59.0" fill="url(#g66)"/><polygon class="l" points="1036.4,59.0 1036.4,67.0 1036.5,75.0 1036.5,83.3 1036.4,91.7 1036.4,100.0 1036.4,108.3 1036.4,116.7 1036.4,125.0 1036.5,131.7 1036.4,138.3 1036.4,145.0 1036.4,153.3 1036.4,161.7 1036.4,170.0 1036.4,177.8 1036.4,185.5 1036.3,193.2 1036.4,201.0 1038.0,201.0 1038.1,193.2 1038.0,185.5 1038.0,177.8 1038.0,170.0 1038.0,161.7 1038.0,153.3 1038.0,145.0 1038.0,138.3 1037.9,131.7 1038.0,125.0 1038.0,116.7 1038.0,108.3 1038.0,100.0 1038.0,91.7 1037.9,83.3 1037.9,75.0 1038.0,67.0 1038.0,59.0" fill="url(#g67)"/><polygon class="l" points="1038.1,59.0 1038.1,67.2 1038.0,75.4 1038.0,83.6 1038.1,91.8 1038.0,100.0 1037.9,106.8 1038.0,113.5 1038.0,120.2 1037.9,127.0 1037.9,135.3 1038.0,143.7 1037.9,152.0 1038.0,158.0 1038.0,164.0 1038.0,170.0 1038.0,177.8 1038.0,185.5 1038.0,193.2 1038.1,201.0 1040.3,201.0 1040.4,193.2 1040.4,185.5 1040.4,177.8 1040.4,170.0 1040.4,164.0 1040.4,158.0 1040.5,152.0 1040.4,143.7 1040.5,135.3 1040.5,127.0 1040.4,120.2 1040.4,113.5 1040.5,106.8 1040.4,100.0 1040.3,91.8 1040.4,83.6 1040.4,75.4 1040.3,67.2 1040.3,59.0" fill="url(#g68)"/><polygon class="l" points="1040.5,59.0 1040.5,66.0 1040.5,73.0 1040.4,80.0 1040.4,87.5 1040.5,95.0 1040.5,102.5 1040.5,110.0 1040.5,117.8 1040.5,125.6 1040.5,133.4 1040.4,141.2 1040.4,149.0 1040.4,157.7 1040.4,166.3 1040.5,175.0 1040.4,183.7 1040.5,192.3 1040.5,201.0 1042.7,201.0 1042.7,192.3 1042.8,183.7 1042.7,175.0 1042.8,166.3 1042.8,157.7 1042.8,149.0 1042.8,141.2 1042.7,133.4 1042.7,125.6 1042.7,117.8 1042.7,110.0 1042.7,102.5 1042.7,95.0 1042.8,87.5 1042.8,80.0 1042.7,73.0 1042.7,66.0 1042.7,59.0" fill="url(#g69)"/><polygon class="l" points="1043.9,130.0 1043.7,137.5 1043.5,145.0 1043.4,152.5 1043.4,160.0 1043.4,168.2 1043.4,176.4 1043.4,184.6 1043.3,192.8 1043.4,201.0 1045.2,201.0 1045.3,192.8 1045.2,184.6 1045.2,176.4 1045.2,168.2 1045.2,160.0 1045.2,152.5 1045.1,145.0 1044.9,137.5 1044.7,130.0" fill="url(#g70)"/><polygon class="l" points="1049.5,59.0 1049.5,66.2 1049.6,73.4 1049.5,80.6 1049.5,87.8 1049.6,95.0 1049.7,100.0 1050.2,105.0 1051.0,105.0 1051.5,100.0 1051.6,95.0 1051.7,87.8 1051.7,80.6 1051.6,73.4 1051.7,66.2 1051.7,59.0" fill="url(#g71)"/><polygon class="l" points="1051.5,98.0 1051.1,104.8 1050.9,111.5 1050.8,118.2 1050.7,125.0 1050.9,131.7 1051.0,138.3 1051.5,145.0 1052.5,145.0 1053.0,138.3 1053.1,131.7 1053.3,125.0 1053.2,118.2 1053.1,111.5 1052.9,104.8 1052.5,98.0" fill="url(#g72)"/><polygon class="l" points="1054.6,150.0 1054.3,157.0 1054.1,164.0 1054.0,171.0 1053.9,178.0 1053.9,185.7 1053.9,193.3 1054.0,201.0 1056.0,201.0 1056.1,193.3 1056.1,185.7 1056.1,178.0 1056.0,171.0 1055.9,164.0 1055.7,157.0 1055.4,150.0" fill="url(#g73)"/><polygon class="l" points="1057.3,88.0 1056.9,96.3 1056.8,104.7 1056.6,113.0 1056.7,120.3 1056.9,127.7 1057.3,135.0 1058.3,135.0 1058.7,127.7 1058.9,120.3 1059.0,113.0 1058.8,104.7 1058.7,96.3 1058.3,88.0" fill="url(#g74)"/><polygon class="l" points="1061.8,59.0 1061.7,67.1 1061.8,75.2 1061.8,83.3 1061.8,91.4 1061.8,99.5 1061.8,107.6 1061.8,115.7 1061.8,123.8 1061.8,131.9 1061.8,140.0 1062.0,145.0 1062.3,150.0 1063.1,150.0 1063.4,145.0 1063.6,140.0 1063.6,131.9 1063.6,123.8 1063.6,115.7 1063.6,107.6 1063.6,99.5 1063.6,91.4 1063.6,83.3 1063.6,75.2 1063.7,67.1 1063.6,59.0" fill="url(#g75)"/><polygon class="l" points="1065.6,145.0 1065.3,153.8 1065.2,162.5 1065.2,171.2 1065.1,180.0 1065.1,187.0 1065.0,194.0 1065.1,201.0 1066.9,201.0 1067.0,194.0 1066.9,187.0 1066.9,180.0 1066.8,171.2 1066.8,162.5 1066.7,153.8 1066.4,145.0" fill="url(#g76)"/><polygon class="l" points="1070.0,95.0 1069.8,102.9 1069.7,110.7 1069.6,118.6 1069.6,126.4 1069.5,134.3 1069.5,142.1 1069.5,150.0 1069.5,158.5 1069.5,167.0 1069.4,175.5 1069.5,184.0 1069.5,192.5 1069.5,201.0 1071.3,201.0 1071.3,192.5 1071.3,184.0 1071.4,175.5 1071.3,167.0 1071.3,158.5 1071.3,150.0 1071.3,142.1 1071.3,134.3 1071.2,126.4 1071.2,118.6 1071.1,110.7 1071.0,102.9 1070.8,95.0" fill="url(#g77)"/><polygon class="l" points="1074.9,59.0 1074.9,67.9 1074.9,76.8 1074.9,85.6 1074.9,94.5 1074.9,103.4 1074.9,112.2 1074.9,121.1 1074.9,130.0 1074.9,138.9 1074.9,147.8 1074.8,156.6 1074.9,165.5 1074.9,174.4 1074.9,183.2 1074.9,192.1 1074.9,201.0 1076.7,201.0 1076.7,192.1 1076.7,183.2 1076.7,174.4 1076.7,165.5 1076.8,156.6 1076.7,147.8 1076.7,138.9 1076.7,130.0 1076.7,121.1 1076.7,112.2 1076.7,103.4 1076.7,94.5 1076.7,85.6 1076.7,76.8 1076.7,67.9 1076.7,59.0" fill="url(#g78)"/><polygon class="l" points="1083.4,59.0 1083.3,67.2 1083.4,75.4 1083.3,83.6 1083.4,91.8 1083.4,100.0 1083.5,106.0 1083.6,112.0 1084.0,118.0 1084.8,118.0 1085.2,112.0 1085.3,106.0 1085.4,100.0 1085.4,91.8 1085.5,83.6 1085.4,75.4 1085.5,67.2 1085.4,59.0" fill="url(#g79)"/><polygon class="l" points="1088.0,59.0 1088.0,67.2 1088.1,75.4 1088.1,83.6 1088.1,91.8 1088.1,100.0 1088.1,108.5 1088.1,117.0 1088.1,125.5 1088.1,134.0 1088.1,142.0 1088.2,150.0 1088.1,158.0 1088.1,166.5 1088.2,175.0 1088.2,183.7 1088.2,192.3 1088.2,201.0 1090.2,201.0 1090.2,192.3 1090.2,183.7 1090.2,175.0 1090.3,166.5 1090.3,158.0 1090.2,150.0 1090.3,142.0 1090.3,134.0 1090.3,125.5 1090.3,117.0 1090.3,108.5 1090.3,100.0 1090.3,91.8 1090.3,83.6 1090.3,75.4 1090.4,67.2 1090.4,59.0" fill="url(#g80)"/><polygon class="l" points="1091.2,118.0 1090.9,125.3 1090.8,132.7 1090.6,140.0 1090.8,148.3 1090.9,156.7 1091.2,165.0 1092.0,165.0 1092.3,156.7 1092.4,148.3 1092.6,140.0 1092.4,132.7 1092.3,125.3 1092.0,118.0" fill="url(#g81)"/><polygon class="l" points="1097.0,59.0 1097.0,67.7 1097.0,76.4 1097.0,85.1 1096.9,93.9 1097.0,102.6 1097.0,111.3 1097.0,120.0 1097.1,128.3 1097.2,136.7 1097.6,145.0 1098.4,145.0 1098.8,136.7 1098.9,128.3 1099.0,120.0 1099.0,111.3 1099.0,102.6 1099.1,93.9 1099.0,85.1 1099.0,76.4 1099.0,67.7 1099.0,59.0" fill="url(#g82)"/><polygon class="l" points="1101.1,95.0 1100.9,102.9 1100.8,110.7 1100.7,118.6 1100.7,126.4 1100.6,134.3 1100.6,142.1 1100.6,150.0 1100.5,158.5 1100.6,167.0 1100.6,175.5 1100.6,184.0 1100.6,192.5 1100.6,201.0 1102.4,201.0 1102.4,192.5 1102.4,184.0 1102.4,175.5 1102.4,167.0 1102.5,158.5 1102.4,150.0 1102.4,142.1 1102.4,134.3 1102.3,126.4 1102.3,118.6 1102.2,110.7 1102.1,102.9 1101.9,95.0" fill="url(#g83)"/><polygon class="l" points="1107.3,105.0 1107.0,113.2 1106.9,121.4 1106.8,129.6 1106.7,137.8 1106.6,146.0 1106.7,153.0 1106.6,160.0 1106.7,167.0 1106.7,174.0 1106.9,182.0 1107.3,190.0 1108.3,190.0 1108.7,182.0 1108.9,174.0 1108.9,167.0 1109.0,160.0 1108.9,153.0 1109.0,146.0 1108.9,137.8 1108.8,129.6 1108.7,121.4 1108.6,113.2 1108.3,105.0" fill="url(#g84)"/><polygon class="l" points="1109.2,135.0 1108.9,143.8 1108.8,152.5 1108.7,161.2 1108.7,170.0 1108.7,177.8 1108.7,185.5 1108.6,193.2 1108.7,201.0 1110.5,201.0 1110.6,193.2 1110.5,185.5 1110.5,177.8 1110.5,170.0 1110.5,161.2 1110.4,152.5 1110.3,143.8 1110.0,135.0" fill="url(#g85)"/><polygon class="l" points="1111.9,98.0 1111.5,105.3 1111.3,112.7 1111.2,120.0 1111.4,127.3 1111.5,134.7 1111.9,142.0 1112.7,142.0 1113.1,134.7 1113.2,127.3 1113.4,120.0 1113.3,112.7 1113.1,105.3 1112.7,98.0" fill="url(#g86)"/><polygon class="l" points="1114.0,59.0 1113.9,67.2 1114.0,75.4 1114.0,83.6 1113.9,91.8 1114.0,100.0 1114.1,106.0 1114.2,112.0 1114.6,118.0 1115.4,118.0 1115.8,112.0 1115.9,106.0 1116.0,100.0 1116.1,91.8 1116.0,83.6 1116.0,75.4 1116.1,67.2 1116.0,59.0" fill="url(#g87)"/><polygon class="l" points="1113.6,145.0 1113.3,152.5 1113.2,160.0 1113.1,167.5 1113.0,175.0 1113.1,183.7 1113.1,192.3 1113.1,201.0 1114.9,201.0 1114.9,192.3 1114.9,183.7 1115.0,175.0 1114.9,167.5 1114.8,160.0 1114.7,152.5 1114.4,145.0" fill="url(#g88)"/><polygon class="l" points="1117.7,59.0 1117.6,67.9 1117.7,76.8 1117.7,85.6 1117.6,94.5 1117.7,103.4 1117.7,112.2 1117.6,121.1 1117.7,130.0 1117.7,138.9 1117.6,147.8 1117.7,156.6 1117.6,165.5 1117.6,174.4 1117.7,183.2 1117.7,192.1 1117.7,201.0 1119.5,201.0 1119.5,192.1 1119.5,183.2 1119.6,174.4 1119.6,165.5 1119.5,156.6 1119.6,147.8 1119.5,138.9 1119.5,130.0 1119.6,121.1 1119.5,112.2 1119.5,103.4 1119.6,94.5 1119.5,85.6 1119.5,76.8 1119.6,67.9 1119.5,59.0" fill="url(#g89)"/><polygon class="l" points="1124.2,59.0 1124.2,66.8 1124.1,74.5 1124.1,82.2 1124.2,90.0 1124.1,96.7 1124.1,103.3 1124.1,110.0 1124.0,117.0 1124.1,124.0 1124.1,131.0 1124.1,136.5 1124.1,142.0 1124.1,148.0 1124.1,154.0 1124.2,160.0 1124.2,167.5 1124.3,175.0 1124.3,183.7 1124.3,192.3 1124.3,201.0 1125.7,201.0 1125.7,192.3 1125.7,183.7 1125.7,175.0 1125.8,167.5 1125.8,160.0 1125.9,154.0 1125.9,148.0 1125.9,142.0 1125.9,136.5 1125.9,131.0 1125.9,124.0 1126.0,117.0 1125.9,110.0 1125.9,103.3 1125.9,96.7 1125.8,90.0 1125.9,82.2 1125.9,74.5 1125.8,66.8 1125.8,59.0" fill="url(#g90)"/><polygon class="l" points="1128.6,59.0 1128.5,67.9 1128.6,76.8 1128.6,85.6 1128.6,94.5 1128.5,103.4 1128.6,112.2 1128.6,121.1 1128.6,130.0 1128.6,138.9 1128.7,147.8 1128.6,156.6 1128.6,165.5 1128.6,174.4 1128.6,183.2 1128.5,192.1 1128.6,201.0 1130.4,201.0 1130.5,192.1 1130.4,183.2 1130.4,174.4 1130.4,165.5 1130.4,156.6 1130.3,147.8 1130.4,138.9 1130.4,130.0 1130.4,121.1 1130.4,112.2 1130.5,103.4 1130.4,94.5 1130.4,85.6 1130.4,76.8 1130.5,67.9 1130.4,59.0" fill="url(#g91)"/><polygon class="l" points="1130.8,110.0 1130.5,117.5 1130.3,125.0 1130.2,132.5 1130.1,140.0 1130.1,147.5 1130.1,155.0 1130.1,162.5 1130.2,170.0 1130.1,177.8 1130.2,185.5 1130.2,193.2 1130.2,201.0 1132.4,201.0 1132.4,193.2 1132.4,185.5 1132.5,177.8 1132.4,170.0 1132.5,162.5 1132.5,155.0 1132.5,147.5 1132.5,140.0 1132.4,132.5 1132.3,125.0 1132.1,117.5 1131.8,110.0" fill="url(#g92)"/><polygon class="l" points="1145.4,59.0 1145.4,66.2 1145.4,73.4 1145.3,80.6 1145.3,87.8 1145.3,95.0 1145.2,102.5 1145.1,110.0 1145.0,117.0 1145.2,124.0 1145.1,131.0 1145.1,137.3 1145.1,143.7 1145.2,150.0 1145.2,156.7 1145.3,163.3 1145.4,170.0 1145.4,177.8 1145.4,185.5 1145.4,193.2 1145.5,201.0 1147.7,201.0 1147.8,193.2 1147.8,185.5 1147.8,177.8 1147.8,170.0 1147.9,163.3 1148.0,156.7 1148.0,150.0 1148.1,143.7 1148.1,137.3 1148.1,131.0 1148.0,124.0 1148.2,117.0 1148.1,110.0 1148.0,102.5 1147.9,95.0 1147.9,87.8 1147.9,80.6 1147.8,73.4 1147.8,66.2 1147.8,59.0" fill="url(#g93)"/><polygon class="l" points="1152.6,115.0 1152.3,123.3 1152.1,131.7 1152.0,140.0 1152.1,148.3 1152.3,156.7 1152.6,165.0 1153.4,165.0 1153.7,156.7 1153.9,148.3 1154.0,140.0 1153.9,131.7 1153.7,123.3 1153.4,115.0" fill="url(#g94)"/><polygon class="l" points="1160.6,59.0 1160.5,67.9 1160.6,76.8 1160.6,85.6 1160.5,94.5 1160.6,103.4 1160.6,112.2 1160.6,121.1 1160.6,130.0 1160.6,138.9 1160.6,147.8 1160.6,156.6 1160.6,165.5 1160.6,174.4 1160.6,183.2 1160.6,192.1 1160.6,201.0 1162.4,201.0 1162.4,192.1 1162.4,183.2 1162.4,174.4 1162.4,165.5 1162.4,156.6 1162.4,147.8 1162.4,138.9 1162.4,130.0 1162.4,121.1 1162.4,112.2 1162.4,103.4 1162.5,94.5 1162.4,85.6 1162.4,76.8 1162.5,67.9 1162.4,59.0" fill="url(#g95)"/><polygon class="l" points="1166.8,59.0 1166.7,67.0 1166.8,75.0 1166.8,83.0 1166.7,91.0 1166.7,97.8 1166.7,104.5 1166.7,111.2 1166.7,118.0 1166.7,125.3 1166.7,132.7 1166.7,140.0 1166.8,146.0 1167.1,152.0 1167.7,152.0 1168.0,146.0 1168.1,140.0 1168.1,132.7 1168.2,125.3 1168.1,118.0 1168.1,111.2 1168.1,104.5 1168.1,97.8 1168.1,91.0 1168.0,83.0 1168.0,75.0 1168.1,67.0 1168.0,59.0" fill="url(#g96)"/><polygon class="l" points="1170.5,145.0 1170.1,153.3 1169.9,161.7 1169.8,170.0 1169.8,178.3 1169.9,186.7 1170.0,195.0 1172.0,195.0 1172.1,186.7 1172.2,178.3 1172.2,170.0 1172.1,161.7 1171.9,153.3 1171.5,145.0" fill="url(#g97)"/><polygon class="l" points="1171.9,59.0 1171.8,67.3 1171.9,75.5 1171.9,83.8 1171.9,92.1 1171.8,100.4 1171.9,108.6 1171.9,116.9 1171.9,125.2 1171.9,133.5 1171.8,141.7 1171.9,150.0 1172.4,155.0 1173.2,155.0 1173.7,150.0 1173.8,141.7 1173.7,133.5 1173.7,125.2 1173.7,116.9 1173.7,108.6 1173.8,100.4 1173.7,92.1 1173.7,83.8 1173.7,75.5 1173.8,67.3 1173.7,59.0" fill="url(#g98)"/><polygon class="l" points="1184.1,125.0 1183.8,133.8 1183.7,142.5 1183.6,151.2 1183.5,160.0 1183.7,167.5 1183.7,175.0 1183.8,182.5 1184.1,190.0 1184.9,190.0 1185.2,182.5 1185.3,175.0 1185.3,167.5 1185.5,160.0 1185.4,151.2 1185.3,142.5 1185.2,133.8 1184.9,125.0" fill="url(#g99)"/><polygon class="l" points="1201.3,95.0 1201.1,102.9 1201.0,110.7 1201.0,118.6 1200.8,126.4 1200.8,134.3 1200.8,142.1 1200.7,150.0 1200.7,158.5 1200.8,167.0 1200.7,175.5 1200.8,184.0 1200.8,192.5 1200.8,201.0 1202.6,201.0 1202.6,192.5 1202.6,184.0 1202.7,175.5 1202.6,167.0 1202.7,158.5 1202.7,150.0 1202.6,142.1 1202.6,134.3 1202.6,126.4 1202.4,118.6 1202.4,110.7 1202.3,102.9 1202.1,95.0" fill="url(#g100)"/><polygon class="l" points="1210.2,59.0 1210.1,67.5 1210.1,76.0 1210.0,84.5 1210.0,93.0 1209.9,101.5 1209.9,110.0 1209.9,117.5 1210.0,125.0 1209.9,132.5 1209.9,140.0 1209.9,147.5 1210.0,155.0 1209.9,162.5 1209.9,170.0 1209.9,176.7 1210.0,183.3 1210.0,190.0 1210.0,195.5 1210.2,201.0 1212.2,201.0 1212.4,195.5 1212.4,190.0 1212.4,183.3 1212.5,176.7 1212.5,170.0 1212.5,162.5 1212.4,155.0 1212.5,147.5 1212.5,140.0 1212.5,132.5 1212.4,125.0 1212.5,117.5 1212.5,110.0 1212.5,101.5 1212.4,93.0 1212.4,84.5 1212.3,76.0 1212.3,67.5 1212.2,59.0" fill="url(#g101)"/><polygon class="l" points="1216.4,59.0 1216.4,65.8 1216.4,72.5 1216.3,79.2 1216.3,86.0 1216.4,92.0 1216.3,98.0 1216.3,104.0 1216.3,110.0 1216.2,116.0 1216.2,122.0 1216.2,128.5 1216.3,135.0 1216.4,143.3 1216.4,151.7 1216.4,160.0 1216.5,167.3 1216.7,174.7 1217.0,182.0 1218.0,182.0 1218.3,174.7 1218.5,167.3 1218.6,160.0 1218.6,151.7 1218.6,143.3 1218.7,135.0 1218.8,128.5 1218.8,122.0 1218.8,116.0 1218.7,110.0 1218.7,104.0 1218.7,98.0 1218.6,92.0 1218.7,86.0 1218.7,79.2 1218.6,72.5 1218.6,65.8 1218.6,59.0" fill="url(#g102)"/><polygon class="l" points="1222.1,59.0 1222.1,67.2 1222.0,75.4 1222.1,83.6 1222.0,91.8 1222.0,100.0 1222.1,106.5 1222.1,113.0 1222.0,120.4 1222.1,127.8 1222.1,135.2 1222.1,142.6 1222.2,150.0 1222.2,158.5 1222.2,167.0 1222.2,175.5 1222.2,184.0 1222.1,192.5 1222.2,201.0 1224.2,201.0 1224.3,192.5 1224.2,184.0 1224.2,175.5 1224.2,167.0 1224.2,158.5 1224.2,150.0 1224.3,142.6 1224.3,135.2 1224.3,127.8 1224.4,120.4 1224.3,113.0 1224.3,106.5 1224.4,100.0 1224.4,91.8 1224.3,83.6 1224.4,75.4 1224.3,67.2 1224.3,59.0" fill="url(#g103)"/><polygon class="l" points="1228.3,100.0 1228.0,107.8 1227.8,115.5 1227.7,123.2 1227.6,131.0 1227.6,137.3 1227.7,143.7 1227.7,150.0 1227.8,157.0 1227.7,164.0 1227.7,171.0 1227.7,178.0 1227.7,185.7 1227.8,193.3 1227.8,201.0 1229.8,201.0 1229.8,193.3 1229.9,185.7 1229.9,178.0 1229.9,171.0 1229.9,164.0 1229.8,157.0 1229.9,150.0 1229.9,143.7 1230.0,137.3 1230.0,131.0 1229.9,123.2 1229.8,115.5 1229.6,107.8 1229.3,100.0" fill="url(#g104)"/><polygon class="l" points="1229.4,59.0 1229.3,66.8 1229.4,74.5 1229.3,82.2 1229.3,90.0 1229.4,97.0 1229.4,104.0 1229.6,109.5 1230.0,115.0 1230.8,115.0 1231.2,109.5 1231.4,104.0 1231.4,97.0 1231.5,90.0 1231.5,82.2 1231.4,74.5 1231.5,66.8 1231.4,59.0" fill="url(#g105)"/><polygon class="l" points="1232.4,59.0 1232.4,67.9 1232.4,76.8 1232.4,85.6 1232.4,94.5 1232.4,103.4 1232.4,112.2 1232.4,121.1 1232.3,130.0 1232.4,138.9 1232.4,147.8 1232.4,156.6 1232.4,165.5 1232.4,174.4 1232.4,183.2 1232.3,192.1 1232.4,201.0 1234.2,201.0 1234.3,192.1 1234.2,183.2 1234.2,174.4 1234.2,165.5 1234.2,156.6 1234.2,147.8 1234.2,138.9 1234.3,130.0 1234.2,121.1 1234.2,112.2 1234.2,103.4 1234.2,94.5 1234.2,85.6 1234.2,76.8 1234.2,67.9 1234.2,59.0" fill="url(#g106)"/><polygon class="l" points="1247.3,65.0 1247.0,73.3 1246.9,81.7 1246.7,90.0 1246.8,98.3 1247.0,106.7 1247.3,115.0 1248.1,115.0 1248.4,106.7 1248.6,98.3 1248.7,90.0 1248.5,81.7 1248.4,73.3 1248.1,65.0" fill="url(#g107)"/></g>
</g>
<path d="M809.0 199.5h4.5M1283.5 199.5h-4.5M809.0 183.3h4.5M1283.5 183.3h-4.5M809.0 169.0h4.5M1283.5 169.0h-4.5M809.0 156.2h4.5M1283.5 156.2h-4.5M809.0 134.0h4.5M1283.5 134.0h-4.5M809.0 115.3h4.5M1283.5 115.3h-4.5M809.0 99.0h4.5M1283.5 99.0h-4.5M809.0 84.7h4.5M1283.5 84.7h-4.5M809.0 71.9h4.5M1283.5 71.9h-4.5M809.0 60.3h4.5M1283.5 60.3h-4.5M927.6 59.0v4.5M927.6 201.0v-4.5M1046.2 59.0v4.5M1046.2 201.0v-4.5M1164.9 59.0v4.5M1164.9 201.0v-4.5" stroke="#000" stroke-opacity="0.55" stroke-width="1"/>
<text x="804.5" y="208.2" text-anchor="end">7</text>
<text x="804.5" y="192.0" text-anchor="end">8</text>
<text x="804.5" y="177.7" text-anchor="end">9</text>
<text x="804.5" y="164.9" text-anchor="end">10</text>
<text x="804.5" y="142.7" text-anchor="end">12</text>
<text x="804.5" y="124.0" text-anchor="end">14</text>
<text x="804.5" y="107.7" text-anchor="end">16</text>
<text x="804.5" y="93.4" text-anchor="end">18</text>
<text x="804.5" y="80.6" text-anchor="end">20</text>
<text x="804.5" y="69.0" text-anchor="end">22</text>
<text x="809.0" y="226.8" text-anchor="middle">00:00</text>
<text x="927.6" y="226.8" text-anchor="middle">06:00</text>
<text x="1046.2" y="226.8" text-anchor="middle">12:00</text>
<text x="1164.9" y="226.8" text-anchor="middle">18:00</text>
<text x="1283.5" y="226.8" text-anchor="middle">00:00</text>
<text class="b" transform="translate(770.9 130.0) rotate(-90)" text-anchor="middle">freq (mHz)</text>
<rect x="1302.5" y="59.5" width="25.0" height="142.0" fill="url(#cbg)" stroke="#888" stroke-width="0.6"/>
<text x="1331.0" y="211.1">-2</text>
<path d="M1302.5 154.2h3M1327.5 154.2h-3" stroke="#000" stroke-opacity="0.4"/>
<text x="1331.0" y="163.8">0</text>
<path d="M1302.5 106.8h3M1327.5 106.8h-3" stroke="#000" stroke-opacity="0.4"/>
<text x="1331.0" y="116.4">2</text>
<text x="1331.0" y="68.0">4</text>
<text class="b" transform="translate(1371 130.0) rotate(-90)" text-anchor="middle">log<tspan dy="8.5" font-size="15.5">2</tspan><tspan dy="-8.5">(nT</tspan><tspan dy="-9" font-size="15.5">2</tspan><tspan dy="9">/Hz)</tspan></text>
<g filter="url(#jet)"><rect x="809.0" y="295.0" width="474.5" height="142.0" fill="#000"/>
<g style="isolation:isolate"><defs><linearGradient id="g108" x2="0" y2="1"><stop offset="0.000" stop-color="#000000"/><stop offset="0.082" stop-color="#0c0c0c"/><stop offset="0.165" stop-color="#181818"/><stop offset="0.247" stop-color="#181818"/><stop offset="0.330" stop-color="#272727"/><stop offset="0.425" stop-color="#202020"/><stop offset="0.521" stop-color="#2d2d2d"/><stop offset="0.617" stop-color="#2b2b2b"/><stop offset="0.713" stop-color="#2a2a2a"/><stop offset="0.808" stop-color="#242424"/><stop offset="0.904" stop-color="#292929"/><stop offset="1.000" stop-color="#272727"/></linearGradient><linearGradient id="g109" x2="0" y2="1"><stop offset="0.000" stop-color="#202020"/><stop offset="0.054" stop-color="#242424"/><stop offset="0.109" stop-color="#272727"/><stop offset="0.163" stop-color="#222222"/><stop offset="0.217" stop-color="#2a2a2a"/><stop offset="0.272" stop-color="#2c2c2c"/><stop offset="0.326" stop-color="#363636"/><stop offset="0.380" stop-color="#353535"/><stop offset="0.428" stop-color="#4c4c4c"/><stop offset="0.475" stop-color="#575757"/><stop offset="0.523" stop-color="#545454"/><stop offset="0.570" stop-color="#5c5c5c"/><stop offset="0.632" stop-color="#555555"/><stop offset="0.694" stop-color="#4a4a4a"/><stop offset="0.755" stop-color="#3e3e3e"/><stop offset="0.817" stop-color="#4a4a4a"/><stop offset="0.878" stop-color="#383838"/><stop offset="0.939" stop-color="#434343"/><stop offset="1.000" stop-color="#424242"/></linearGradient><linearGradient id="g110" x2="0" y2="1"><stop offset="0.000" stop-color="#000000"/><stop offset="0.083" stop-color="#242424"/><stop offset="0.165" stop-color="#4b4b4b"/><stop offset="0.248" stop-color="#767676"/><stop offset="0.330" stop-color="#959595"/><stop offset="0.413" stop-color="#898989"/><stop offset="0.495" stop-color="#909090"/><stop offset="0.569" stop-color="#8e8e8e"/><stop offset="0.644" stop-color="#838383"/><stop offset="0.715" stop-color="#6f6f6f"/><stop offset="0.786" stop-color="#606060"/><stop offset="0.857" stop-color="#6b6b6b"/><stop offset="0.929" stop-color="#5d5d5d"/><stop offset="1.000" stop-color="#696969"/></linearGradient><linearGradient id="g111" x2="0" y2="1"><stop offset="0.000" stop-color="#696969"/><stop offset="0.060" stop-color="#6c6c6c"/><stop offset="0.120" stop-color="#858585"/><stop offset="0.180" stop-color="#787878"/><stop offset="0.239" stop-color="#626262"/><stop offset="0.299" stop-color="#888888"/><stop offset="0.359" stop-color="#767676"/><stop offset="0.415" stop-color="#8c8c8c"/><stop offset="0.472" stop-color="#8e8e8e"/><stop offset="0.528" stop-color="#9e9e9e"/><stop offset="0.585" stop-color="#9b9b9b"/><stop offset="0.641" stop-color="#909090"/><stop offset="0.702" stop-color="#aaaaaa"/><stop offset="0.764" stop-color="#939393"/><stop offset="0.826" stop-color="#c7c7c7"/><stop offset="0.887" stop-color="#ababab"/><stop offset="0.944" stop-color="#c9c9c9"/><stop offset="1.000" stop-color="#a3a3a3"/></linearGradient><linearGradient id="g112" x2="0" y2="1"><stop offset="0.000" stop-color="#000000"/><stop offset="0.167" stop-color="#1e1e1e"/><stop offset="0.333" stop-color="#4e4e4e"/><stop offset="0.500" stop-color="#696969"/><stop offset="0.667" stop-color="#4d4d4d"/><stop offset="0.833" stop-color="#222222"/><stop offset="1.000" stop-color="#000000"/></linearGradient><linearGradient id="g113" x2="0" y2="1"><stop offset="0.000" stop-color="#5c5c5c"/><stop offset="0.055" stop-color="#686868"/><stop offset="0.110" stop-color="#707070"/><stop offset="0.165" stop-color="#939393"/><stop offset="0.220" stop-color="#868686"/><stop offset="0.275" stop-color="#909090"/><stop offset="0.333" stop-color="#a6a6a6"/><stop offset="0.392" stop-color="#878787"/><stop offset="0.450" stop-color="#909090"/><stop offset="0.499" stop-color="#949494"/><stop offset="0.547" stop-color="#818181"/><stop offset="0.595" stop-color="#5c5c5c"/><stop offset="0.661" stop-color="#535353"/><stop offset="0.727" stop-color="#4e4e4e"/><stop offset="0.792" stop-color="#515151"/><stop offset="0.858" stop-color="#424242"/><stop offset="0.924" stop-color="#353535"/><stop offset="0.962" stop-color="#1a1a1a"/><stop offset="1.000" stop-color="#000000"/></linearGradient><linearGradient id="g114" x2="0" y2="1"><stop offset="0.000" stop-color="#000000"/><stop offset="0.163" stop-color="#1b1b1b"/><stop offset="0.327" stop-color="#393939"/><stop offset="0.490" stop-color="#5c5c5c"/><stop offset="0.660" stop-color="#616161"/><stop offset="0.830" stop-color="#4a4a4a"/><stop offset="1.000" stop-color="#545454"/></linearGradient><linearGradient id="g115" x2="0" y2="1"><stop offset="0.000" stop-color="#000000"/><stop offset="0.125" stop-color="#232323"/><stop offset="0.250" stop-color="#353535"/><stop offset="0.375" stop-color="#696969"/><stop offset="0.500" stop-color="#767676"/><stop offset="0.613" stop-color="#606060"/><stop offset="0.726" stop-color="#6e6e6e"/><stop offset="0.839" stop-color="#4f4f4f"/><stop offset="0.919" stop-color="#2b2b2b"/><stop offset="1.000" stop-color="#000000"/></linearGradient><linearGradient id="g116" x2="0" y2="1"><stop offset="0.000" stop-color="#000000"/><stop offset="0.147" stop-color="#171717"/><stop offset="0.294" stop-color="#2e2e2e"/><stop offset="0.441" stop-color="#4a4a4a"/><stop offset="0.588" stop-color="#5c5c5c"/><stop offset="0.725" stop-color="#5d5d5d"/><stop offset="0.863" stop-color="#4f4f4f"/><stop offset="1.000" stop-color="#545454"/></linearGradient><linearGradient id="g117" x2="0" y2="1"><stop offset="0.000" stop-color="#adadad"/><stop offset="0.058" stop-color="#999999"/><stop offset="0.115" stop-color="#b2b2b2"/><stop offset="0.173" stop-color="#d6d6d6"/><stop offset="0.231" stop-color="#c0c0c0"/><stop offset="0.289" stop-color="#b8b8b8"/><stop offset="0.347" stop-color="#969696"/><stop offset="0.406" stop-color="#d4d4d4"/><stop offset="0.465" stop-color="#cdcdcd"/><stop offset="0.523" stop-color="#dddddd"/><stop offset="0.582" stop-color="#a3a3a3"/><stop offset="0.641" stop-color="#bdbdbd"/><stop offset="0.694" stop-color="#d0d0d0"/><stop offset="0.746" stop-color="#969696"/><stop offset="0.799" stop-color="#c6c6c6"/><stop offset="0.852" stop-color="#b8b8b8"/><stop offset="0.901" stop-color="#a4a4a4"/><stop offset="0.951" stop-color="#9f9f9f"/><stop offset="1.000" stop-color="#b3b3b3"/></linearGradient><linearGradient id="g118" x2="0" y2="1"><stop offset="0.000" stop-color="#5c5c5c"/><stop offset="0.146" stop-color="#656565"/><stop offset="0.293" stop-color="#434343"/><stop offset="0.439" stop-color="#4d4d4d"/><stop offset="0.586" stop-color="#525252"/><stop offset="0.732" stop-color="#424242"/><stop offset="0.866" stop-color="#1d1d1d"/><stop offset="1.000" stop-color="#000000"/></linearGradient><linearGradient id="g119" x2="0" y2="1"><stop offset="0.000" stop-color="#000000"/><stop offset="0.138" stop-color="#171717"/><stop offset="0.277" stop-color="#3d3d3d"/><stop offset="0.415" stop-color="#4c4c4c"/><stop offset="0.554" stop-color="#696969"/><stop offset="0.702" stop-color="#6e6e6e"/><stop offset="0.851" stop-color="#4c4c4c"/><stop offset="1.000" stop-color="#5c5c5c"/></linearGradient><linearGradient id="g120" x2="0" y2="1"><stop offset="0.000" stop-color="#000000"/><stop offset="0.133" stop-color="#0f0f0f"/><stop offset="0.265" stop-color="#1c1c1c"/><stop offset="0.398" stop-color="#353535"/><stop offset="0.530" stop-color="#424242"/><stop offset="0.648" stop-color="#363636"/><stop offset="0.765" stop-color="#4f4f4f"/><stop offset="0.883" stop-color="#343434"/><stop offset="1.000" stop-color="#424242"/></linearGradient><linearGradient id="g121" x2="0" y2="1"><stop offset="0.000" stop-color="#000000"/><stop offset="0.087" stop-color="#0a0a0a"/><stop offset="0.174" stop-color="#0e0e0e"/><stop offset="0.262" stop-color="#171717"/><stop offset="0.349" stop-color="#282828"/><stop offset="0.436" stop-color="#252525"/><stop offset="0.523" stop-color="#353535"/><stop offset="0.619" stop-color="#2d2d2d"/><stop offset="0.714" stop-color="#393939"/><stop offset="0.809" stop-color="#323232"/><stop offset="0.905" stop-color="#2a2a2a"/><stop offset="1.000" stop-color="#353535"/></linearGradient><linearGradient id="g122" x2="0" y2="1"><stop offset="0.000" stop-color="#000000"/><stop offset="0.091" stop-color="#111111"/><stop offset="0.183" stop-color="#181818"/><stop offset="0.274" stop-color="#222222"/><stop offset="0.365" stop-color="#353535"/><stop offset="0.457" stop-color="#4b4b4b"/><stop offset="0.548" stop-color="#5f5f5f"/><stop offset="0.640" stop-color="#646464"/><stop offset="0.730" stop-color="#515151"/><stop offset="0.820" stop-color="#595959"/><stop offset="0.910" stop-color="#4b4b4b"/><stop offset="1.000" stop-color="#5c5c5c"/></linearGradient><linearGradient id="g123" x2="0" y2="1"><stop offset="0.000" stop-color="#000000"/><stop offset="0.057" stop-color="#161616"/><stop offset="0.115" stop-color="#333333"/><stop offset="0.172" stop-color="#4c4c4c"/><stop offset="0.229" stop-color="#5c5c5c"/><stop offset="0.290" stop-color="#6e6e6e"/><stop offset="0.351" stop-color="#6a6a6a"/><stop offset="0.412" stop-color="#707070"/><stop offset="0.473" stop-color="#6b6b6b"/><stop offset="0.534" stop-color="#646464"/><stop offset="0.585" stop-color="#6d6d6d"/><stop offset="0.636" stop-color="#6a6a6a"/><stop offset="0.687" stop-color="#838383"/><stop offset="0.738" stop-color="#989898"/><stop offset="0.789" stop-color="#8c8c8c"/><stop offset="0.840" stop-color="#a3a3a3"/><stop offset="0.893" stop-color="#868686"/><stop offset="0.947" stop-color="#9f9f9f"/><stop offset="1.000" stop-color="#a3a3a3"/></linearGradient><linearGradient id="g124" x2="0" y2="1"><stop offset="0.000" stop-color="#000000"/><stop offset="0.092" stop-color="#0d0d0d"/><stop offset="0.183" stop-color="#121212"/><stop offset="0.275" stop-color="#222222"/><stop offset="0.366" stop-color="#2a2a2a"/><stop offset="0.458" stop-color="#373737"/><stop offset="0.549" stop-color="#424242"/><stop offset="0.640" stop-color="#373737"/><stop offset="0.730" stop-color="#4f4f4f"/><stop offset="0.820" stop-color="#3b3b3b"/><stop offset="0.910" stop-color="#454545"/><stop offset="1.000" stop-color="#424242"/></linearGradient><linearGradient id="g125" x2="0" y2="1"><stop offset="0.000" stop-color="#000000"/><stop offset="0.103" stop-color="#0d0d0d"/><stop offset="0.206" stop-color="#151515"/><stop offset="0.308" stop-color="#282828"/><stop offset="0.411" stop-color="#2c2c2c"/><stop offset="0.514" stop-color="#424242"/><stop offset="0.635" stop-color="#282828"/><stop offset="0.757" stop-color="#1a1a1a"/><stop offset="0.878" stop-color="#0e0e0e"/><stop offset="1.000" stop-color="#000000"/></linearGradient><linearGradient id="g126" x2="0" y2="1"><stop offset="0.000" stop-color="#000000"/><stop offset="0.185" stop-color="#121212"/><stop offset="0.370" stop-color="#2e2e2e"/><stop offset="0.556" stop-color="#424242"/><stop offset="0.778" stop-color="#424242"/><stop offset="1.000" stop-color="#424242"/></linearGradient><linearGradient id="g127" x2="0" y2="1"><stop offset="0.000" stop-color="#000000"/><stop offset="0.083" stop-color="#151515"/><stop offset="0.165" stop-color="#2a2a2a"/><stop offset="0.248" stop-color="#404040"/><stop offset="0.330" stop-color="#3e3e3e"/><stop offset="0.413" stop-color="#555555"/><stop offset="0.495" stop-color="#696969"/><stop offset="0.579" stop-color="#5a5a5a"/><stop offset="0.663" stop-color="#666666"/><stop offset="0.748" stop-color="#646464"/><stop offset="0.832" stop-color="#676767"/><stop offset="0.916" stop-color="#606060"/><stop offset="1.000" stop-color="#545454"/></linearGradient><linearGradient id="g128" x2="0" y2="1"><stop offset="0.000" stop-color="#000000"/><stop offset="0.062" stop-color="#131313"/><stop offset="0.124" stop-color="#292929"/><stop offset="0.186" stop-color="#404040"/><stop offset="0.248" stop-color="#545454"/><stop offset="0.317" stop-color="#3a3a3a"/><stop offset="0.386" stop-color="#323232"/><stop offset="0.455" stop-color="#353535"/><stop offset="0.527" stop-color="#3c3c3c"/><stop offset="0.599" stop-color="#3c3c3c"/><stop offset="0.671" stop-color="#5a5a5a"/><stop offset="0.744" stop-color="#5c5c5c"/><stop offset="0.808" stop-color="#4f4f4f"/><stop offset="0.872" stop-color="#464646"/><stop offset="0.936" stop-color="#474747"/><stop offset="1.000" stop-color="#4f4f4f"/></linearGradient><linearGradient id="g129" x2="0" y2="1"><stop offset="0.000" stop-color="#000000"/><stop offset="0.057" stop-color="#141414"/><stop offset="0.115" stop-color="#282828"/><stop offset="0.172" stop-color="#464646"/><stop offset="0.229" stop-color="#5c5c5c"/><stop offset="0.282" stop-color="#545454"/><stop offset="0.336" stop-color="#484848"/><stop offset="0.389" stop-color="#4d4d4d"/><stop offset="0.443" stop-color="#424242"/><stop offset="0.505" stop-color="#383838"/><stop offset="0.567" stop-color="#4a4a4a"/><stop offset="0.628" stop-color="#4a4a4a"/><stop offset="0.690" stop-color="#424242"/><stop offset="0.752" stop-color="#393939"/><stop offset="0.814" stop-color="#393939"/><stop offset="0.876" stop-color="#393939"/><stop offset="0.938" stop-color="#2b2b2b"/><stop offset="1.000" stop-color="#353535"/></linearGradient><linearGradient id="g130" x2="0" y2="1"><stop offset="0.000" stop-color="#262626"/><stop offset="0.062" stop-color="#242424"/><stop offset="0.125" stop-color="#262626"/><stop offset="0.188" stop-color="#212121"/><stop offset="0.250" stop-color="#1f1f1f"/><stop offset="0.312" stop-color="#2b2b2b"/><stop offset="0.375" stop-color="#242424"/><stop offset="0.438" stop-color="#262626"/><stop offset="0.500" stop-color="#2d2d2d"/><stop offset="0.562" stop-color="#282828"/><stop offset="0.625" stop-color="#222222"/><stop offset="0.688" stop-color="#2e2e2e"/><stop offset="0.750" stop-color="#242424"/><stop offset="0.812" stop-color="#1e1e1e"/><stop offset="0.875" stop-color="#292929"/><stop offset="0.938" stop-color="#1f1f1f"/><stop offset="1.000" stop-color="#262626"/></linearGradient><linearGradient id="g131" x2="0" y2="1"><stop offset="0.000" stop-color="#000000"/><stop offset="0.121" stop-color="#151515"/><stop offset="0.241" stop-color="#353535"/><stop offset="0.362" stop-color="#4a4a4a"/><stop offset="0.483" stop-color="#5c5c5c"/><stop offset="0.612" stop-color="#363636"/><stop offset="0.741" stop-color="#2d2d2d"/><stop offset="0.871" stop-color="#161616"/><stop offset="1.000" stop-color="#000000"/></linearGradient><linearGradient id="g132" x2="0" y2="1"><stop offset="0.000" stop-color="#000000"/><stop offset="0.064" stop-color="#151515"/><stop offset="0.128" stop-color="#252525"/><stop offset="0.191" stop-color="#414141"/><stop offset="0.255" stop-color="#444444"/><stop offset="0.319" stop-color="#696969"/><stop offset="0.384" stop-color="#5d5d5d"/><stop offset="0.450" stop-color="#5e5e5e"/><stop offset="0.516" stop-color="#747474"/><stop offset="0.581" stop-color="#4d4d4d"/><stop offset="0.647" stop-color="#5c5c5c"/><stop offset="0.717" stop-color="#666666"/><stop offset="0.788" stop-color="#4f4f4f"/><stop offset="0.859" stop-color="#5f5f5f"/><stop offset="0.929" stop-color="#585858"/><stop offset="1.000" stop-color="#5c5c5c"/></linearGradient><linearGradient id="g133" x2="0" y2="1"><stop offset="0.000" stop-color="#3b3b3b"/><stop offset="0.062" stop-color="#393939"/><stop offset="0.125" stop-color="#414141"/><stop offset="0.188" stop-color="#373737"/><stop offset="0.250" stop-color="#303030"/><stop offset="0.312" stop-color="#2f2f2f"/><stop offset="0.375" stop-color="#2e2e2e"/><stop offset="0.438" stop-color="#414141"/><stop offset="0.500" stop-color="#3b3b3b"/><stop offset="0.562" stop-color="#424242"/><stop offset="0.625" stop-color="#3c3c3c"/><stop offset="0.688" stop-color="#2b2b2b"/><stop offset="0.750" stop-color="#3a3a3a"/><stop offset="0.812" stop-color="#3c3c3c"/><stop offset="0.875" stop-color="#3b3b3b"/><stop offset="0.938" stop-color="#353535"/><stop offset="1.000" stop-color="#353535"/></linearGradient><linearGradient id="g134" x2="0" y2="1"><stop offset="0.000" stop-color="#000000"/><stop offset="0.057" stop-color="#191919"/><stop offset="0.115" stop-color="#343434"/><stop offset="0.172" stop-color="#595959"/><stop offset="0.229" stop-color="#696969"/><stop offset="0.288" stop-color="#585858"/><stop offset="0.347" stop-color="#5d5d5d"/><stop offset="0.406" stop-color="#555555"/><stop offset="0.466" stop-color="#4f4f4f"/><stop offset="0.521" stop-color="#6a6a6a"/><stop offset="0.576" stop-color="#707070"/><stop offset="0.632" stop-color="#818181"/><stop offset="0.687" stop-color="#767676"/><stop offset="0.750" stop-color="#868686"/><stop offset="0.812" stop-color="#696969"/><stop offset="0.875" stop-color="#646464"/><stop offset="0.937" stop-color="#6f6f6f"/><stop offset="1.000" stop-color="#6e6e6e"/></linearGradient><linearGradient id="g135" x2="0" y2="1"><stop offset="0.000" stop-color="#2a2a2a"/><stop offset="0.062" stop-color="#262626"/><stop offset="0.125" stop-color="#292929"/><stop offset="0.188" stop-color="#2d2d2d"/><stop offset="0.250" stop-color="#323232"/><stop offset="0.312" stop-color="#2c2c2c"/><stop offset="0.375" stop-color="#303030"/><stop offset="0.438" stop-color="#232323"/><stop offset="0.500" stop-color="#272727"/><stop offset="0.562" stop-color="#333333"/><stop offset="0.625" stop-color="#232323"/><stop offset="0.688" stop-color="#282828"/><stop offset="0.750" stop-color="#222222"/><stop offset="0.812" stop-color="#222222"/><stop offset="0.875" stop-color="#313131"/><stop offset="0.938" stop-color="#333333"/><stop offset="1.000" stop-color="#2a2a2a"/></linearGradient><linearGradient id="g136" x2="0" y2="1"><stop offset="0.000" stop-color="#4a4a4a"/><stop offset="0.056" stop-color="#515151"/><stop offset="0.113" stop-color="#414141"/><stop offset="0.169" stop-color="#494949"/><stop offset="0.225" stop-color="#484848"/><stop offset="0.282" stop-color="#5a5a5a"/><stop offset="0.338" stop-color="#5d5d5d"/><stop offset="0.394" stop-color="#555555"/><stop offset="0.451" stop-color="#5b5b5b"/><stop offset="0.507" stop-color="#5c5c5c"/><stop offset="0.562" stop-color="#575757"/><stop offset="0.617" stop-color="#787878"/><stop offset="0.672" stop-color="#9d9d9d"/><stop offset="0.727" stop-color="#a1a1a1"/><stop offset="0.782" stop-color="#9e9e9e"/><stop offset="0.836" stop-color="#7f7f7f"/><stop offset="0.891" stop-color="#989898"/><stop offset="0.945" stop-color="#a2a2a2"/><stop offset="1.000" stop-color="#909090"/></linearGradient><linearGradient id="g137" x2="0" y2="1"><stop offset="0.000" stop-color="#262626"/><stop offset="0.062" stop-color="#222222"/><stop offset="0.125" stop-color="#2c2c2c"/><stop offset="0.188" stop-color="#252525"/><stop offset="0.250" stop-color="#292929"/><stop offset="0.312" stop-color="#242424"/><stop offset="0.375" stop-color="#2e2e2e"/><stop offset="0.438" stop-color="#2b2b2b"/><stop offset="0.500" stop-color="#272727"/><stop offset="0.562" stop-color="#202020"/><stop offset="0.625" stop-color="#252525"/><stop offset="0.688" stop-color="#1e1e1e"/><stop offset="0.750" stop-color="#272727"/><stop offset="0.812" stop-color="#2c2c2c"/><stop offset="0.875" stop-color="#212121"/><stop offset="0.938" stop-color="#262626"/><stop offset="1.000" stop-color="#262626"/></linearGradient><linearGradient id="g138" x2="0" y2="1"><stop offset="0.000" stop-color="#000000"/><stop offset="0.066" stop-color="#121212"/><stop offset="0.132" stop-color="#232323"/><stop offset="0.198" stop-color="#3c3c3c"/><stop offset="0.264" stop-color="#585858"/><stop offset="0.331" stop-color="#5c5c5c"/><stop offset="0.390" stop-color="#646464"/><stop offset="0.450" stop-color="#5b5b5b"/><stop offset="0.510" stop-color="#6f6f6f"/><stop offset="0.570" stop-color="#5c5c5c"/><stop offset="0.642" stop-color="#595959"/><stop offset="0.713" stop-color="#707070"/><stop offset="0.785" stop-color="#696969"/><stop offset="0.857" stop-color="#707070"/><stop offset="0.928" stop-color="#757575"/><stop offset="1.000" stop-color="#696969"/></linearGradient><linearGradient id="g139" x2="0" y2="1"><stop offset="0.000" stop-color="#2a2a2a"/><stop offset="0.062" stop-color="#313131"/><stop offset="0.125" stop-color="#252525"/><stop offset="0.188" stop-color="#2c2c2c"/><stop offset="0.250" stop-color="#282828"/><stop offset="0.312" stop-color="#2d2d2d"/><stop offset="0.375" stop-color="#333333"/><stop offset="0.438" stop-color="#2d2d2d"/><stop offset="0.500" stop-color="#212121"/><stop offset="0.562" stop-color="#292929"/><stop offset="0.625" stop-color="#2e2e2e"/><stop offset="0.688" stop-color="#313131"/><stop offset="0.750" stop-color="#2d2d2d"/><stop offset="0.812" stop-color="#303030"/><stop offset="0.875" stop-color="#212121"/><stop offset="0.938" stop-color="#323232"/><stop offset="1.000" stop-color="#2a2a2a"/></linearGradient><linearGradient id="g140" x2="0" y2="1"><stop offset="0.000" stop-color="#767676"/><stop offset="0.086" stop-color="#878787"/><stop offset="0.173" stop-color="#858585"/><stop offset="0.259" stop-color="#838383"/><stop offset="0.358" stop-color="#9b9b9b"/><stop offset="0.457" stop-color="#9a9a9a"/><stop offset="0.556" stop-color="#838383"/><stop offset="0.639" stop-color="#616161"/><stop offset="0.722" stop-color="#787878"/><stop offset="0.806" stop-color="#676767"/><stop offset="0.889" stop-color="#4f4f4f"/><stop offset="0.944" stop-color="#222222"/><stop offset="1.000" stop-color="#000000"/></linearGradient><linearGradient id="g141" x2="0" y2="1"><stop offset="0.000" stop-color="#2e2e2e"/><stop offset="0.062" stop-color="#333333"/><stop offset="0.125" stop-color="#303030"/><stop offset="0.188" stop-color="#282828"/><stop offset="0.250" stop-color="#343434"/><stop offset="0.312" stop-color="#272727"/><stop offset="0.375" stop-color="#313131"/><stop offset="0.438" stop-color="#2d2d2d"/><stop offset="0.500" stop-color="#292929"/><stop offset="0.562" stop-color="#303030"/><stop offset="0.625" stop-color="#2e2e2e"/><stop offset="0.688" stop-color="#282828"/><stop offset="0.750" stop-color="#383838"/><stop offset="0.812" stop-color="#262626"/><stop offset="0.875" stop-color="#242424"/><stop offset="0.938" stop-color="#2e2e2e"/><stop offset="1.000" stop-color="#2e2e2e"/></linearGradient><linearGradient id="g142" x2="0" y2="1"><stop offset="0.000" stop-color="#000000"/><stop offset="0.127" stop-color="#1e1e1e"/><stop offset="0.255" stop-color="#383838"/><stop offset="0.382" stop-color="#585858"/><stop offset="0.509" stop-color="#696969"/><stop offset="0.632" stop-color="#4e4e4e"/><stop offset="0.755" stop-color="#393939"/><stop offset="0.877" stop-color="#181818"/><stop offset="1.000" stop-color="#000000"/></linearGradient><linearGradient id="g143" x2="0" y2="1"><stop offset="0.000" stop-color="#000000"/><stop offset="0.133" stop-color="#161616"/><stop offset="0.265" stop-color="#323232"/><stop offset="0.398" stop-color="#3b3b3b"/><stop offset="0.530" stop-color="#646464"/><stop offset="0.648" stop-color="#515151"/><stop offset="0.765" stop-color="#6f6f6f"/><stop offset="0.883" stop-color="#555555"/><stop offset="1.000" stop-color="#646464"/></linearGradient><linearGradient id="g144" x2="0" y2="1"><stop offset="0.000" stop-color="#434343"/><stop offset="0.054" stop-color="#4a4a4a"/><stop offset="0.109" stop-color="#4a4a4a"/><stop offset="0.163" stop-color="#3f3f3f"/><stop offset="0.217" stop-color="#464646"/><stop offset="0.272" stop-color="#484848"/><stop offset="0.326" stop-color="#4a4a4a"/><stop offset="0.380" stop-color="#3f3f3f"/><stop offset="0.428" stop-color="#303030"/><stop offset="0.475" stop-color="#2b2b2b"/><stop offset="0.523" stop-color="#2a2a2a"/><stop offset="0.570" stop-color="#262626"/><stop offset="0.632" stop-color="#242424"/><stop offset="0.693" stop-color="#212121"/><stop offset="0.755" stop-color="#1c1c1c"/><stop offset="0.816" stop-color="#232323"/><stop offset="0.877" stop-color="#282828"/><stop offset="0.939" stop-color="#1f1f1f"/><stop offset="1.000" stop-color="#202020"/></linearGradient><linearGradient id="g145" x2="0" y2="1"><stop offset="0.000" stop-color="#2a2a2a"/><stop offset="0.062" stop-color="#2b2b2b"/><stop offset="0.125" stop-color="#282828"/><stop offset="0.188" stop-color="#292929"/><stop offset="0.250" stop-color="#313131"/><stop offset="0.312" stop-color="#262626"/><stop offset="0.375" stop-color="#2d2d2d"/><stop offset="0.438" stop-color="#2a2a2a"/><stop offset="0.500" stop-color="#2b2b2b"/><stop offset="0.562" stop-color="#323232"/><stop offset="0.625" stop-color="#222222"/><stop offset="0.688" stop-color="#303030"/><stop offset="0.750" stop-color="#262626"/><stop offset="0.812" stop-color="#2d2d2d"/><stop offset="0.875" stop-color="#2f2f2f"/><stop offset="0.938" stop-color="#2d2d2d"/><stop offset="1.000" stop-color="#2a2a2a"/></linearGradient><linearGradient id="g146" x2="0" y2="1"><stop offset="0.000" stop-color="#3b3b3b"/><stop offset="0.062" stop-color="#383838"/><stop offset="0.125" stop-color="#444444"/><stop offset="0.188" stop-color="#303030"/><stop offset="0.250" stop-color="#3e3e3e"/><stop offset="0.312" stop-color="#383838"/><stop offset="0.375" stop-color="#3c3c3c"/><stop offset="0.438" stop-color="#444444"/><stop offset="0.500" stop-color="#434343"/><stop offset="0.562" stop-color="#3e3e3e"/><stop offset="0.625" stop-color="#363636"/><stop offset="0.688" stop-color="#343434"/><stop offset="0.750" stop-color="#3a3a3a"/><stop offset="0.812" stop-color="#343434"/><stop offset="0.875" stop-color="#353535"/><stop offset="0.938" stop-color="#474747"/><stop offset="1.000" stop-color="#3b3b3b"/></linearGradient><linearGradient id="g147" x2="0" y2="1"><stop offset="0.000" stop-color="#000000"/><stop offset="0.068" stop-color="#131313"/><stop offset="0.135" stop-color="#343434"/><stop offset="0.203" stop-color="#414141"/><stop offset="0.270" stop-color="#5c5c5c"/><stop offset="0.348" stop-color="#4e4e4e"/><stop offset="0.426" stop-color="#444444"/><stop offset="0.505" stop-color="#424242"/><stop offset="0.575" stop-color="#353535"/><stop offset="0.646" stop-color="#3e3e3e"/><stop offset="0.717" stop-color="#353535"/><stop offset="0.788" stop-color="#3c3c3c"/><stop offset="0.858" stop-color="#373737"/><stop offset="0.929" stop-color="#454545"/><stop offset="1.000" stop-color="#3a3a3a"/></linearGradient><linearGradient id="g148" x2="0" y2="1"><stop offset="0.000" stop-color="#000000"/><stop offset="0.175" stop-color="#1a1a1a"/><stop offset="0.351" stop-color="#2b2b2b"/><stop offset="0.526" stop-color="#424242"/><stop offset="0.684" stop-color="#2e2e2e"/><stop offset="0.842" stop-color="#1a1a1a"/><stop offset="1.000" stop-color="#000000"/></linearGradient><linearGradient id="g149" x2="0" y2="1"><stop offset="0.000" stop-color="#646464"/><stop offset="0.082" stop-color="#5e5e5e"/><stop offset="0.164" stop-color="#555555"/><stop offset="0.245" stop-color="#5d5d5d"/><stop offset="0.327" stop-color="#5d5d5d"/><stop offset="0.409" stop-color="#767676"/><stop offset="0.491" stop-color="#696969"/><stop offset="0.573" stop-color="#6a6a6a"/><stop offset="0.655" stop-color="#818181"/><stop offset="0.736" stop-color="#676767"/><stop offset="0.818" stop-color="#767676"/><stop offset="0.879" stop-color="#595959"/><stop offset="0.939" stop-color="#2a2a2a"/><stop offset="1.000" stop-color="#000000"/></linearGradient><linearGradient id="g150" x2="0" y2="1"><stop offset="0.000" stop-color="#909090"/><stop offset="0.106" stop-color="#8a8a8a"/><stop offset="0.212" stop-color="#a5a5a5"/><stop offset="0.318" stop-color="#909090"/><stop offset="0.443" stop-color="#808080"/><stop offset="0.568" stop-color="#999999"/><stop offset="0.693" stop-color="#949494"/><stop offset="0.818" stop-color="#767676"/><stop offset="0.909" stop-color="#3b3b3b"/><stop offset="1.000" stop-color="#000000"/></linearGradient><linearGradient id="g151" x2="0" y2="1"><stop offset="0.000" stop-color="#2e2e2e"/><stop offset="0.062" stop-color="#323232"/><stop offset="0.125" stop-color="#373737"/><stop offset="0.188" stop-color="#333333"/><stop offset="0.250" stop-color="#333333"/><stop offset="0.312" stop-color="#363636"/><stop offset="0.375" stop-color="#373737"/><stop offset="0.438" stop-color="#333333"/><stop offset="0.500" stop-color="#383838"/><stop offset="0.562" stop-color="#2a2a2a"/><stop offset="0.625" stop-color="#313131"/><stop offset="0.688" stop-color="#323232"/><stop offset="0.750" stop-color="#2c2c2c"/><stop offset="0.812" stop-color="#2c2c2c"/><stop offset="0.875" stop-color="#282828"/><stop offset="0.938" stop-color="#383838"/><stop offset="1.000" stop-color="#2e2e2e"/></linearGradient><linearGradient id="g152" x2="0" y2="1"><stop offset="0.000" stop-color="#000000"/><stop offset="0.133" stop-color="#171717"/><stop offset="0.266" stop-color="#313131"/><stop offset="0.399" stop-color="#585858"/><stop offset="0.532" stop-color="#646464"/><stop offset="0.649" stop-color="#414141"/><stop offset="0.766" stop-color="#3c3c3c"/><stop offset="0.883" stop-color="#151515"/><stop offset="1.000" stop-color="#000000"/></linearGradient><linearGradient id="g153" x2="0" y2="1"><stop offset="0.000" stop-color="#646464"/><stop offset="0.109" stop-color="#505050"/><stop offset="0.217" stop-color="#606060"/><stop offset="0.326" stop-color="#626262"/><stop offset="0.435" stop-color="#7d7d7d"/><stop offset="0.543" stop-color="#7d7d7d"/><stop offset="0.652" stop-color="#797979"/><stop offset="0.761" stop-color="#6e6e6e"/><stop offset="0.880" stop-color="#363636"/><stop offset="1.000" stop-color="#000000"/></linearGradient><linearGradient id="g154" x2="0" y2="1"><stop offset="0.000" stop-color="#000000"/><stop offset="0.108" stop-color="#1f1f1f"/><stop offset="0.215" stop-color="#363636"/><stop offset="0.323" stop-color="#696969"/><stop offset="0.430" stop-color="#747474"/><stop offset="0.537" stop-color="#989898"/><stop offset="0.622" stop-color="#7f7f7f"/><stop offset="0.706" stop-color="#898989"/><stop offset="0.791" stop-color="#636363"/><stop offset="0.875" stop-color="#696969"/><stop offset="0.938" stop-color="#303030"/><stop offset="1.000" stop-color="#000000"/></linearGradient><linearGradient id="g155" x2="0" y2="1"><stop offset="0.000" stop-color="#000000"/><stop offset="0.112" stop-color="#161616"/><stop offset="0.224" stop-color="#1e1e1e"/><stop offset="0.336" stop-color="#2e2e2e"/><stop offset="0.447" stop-color="#404040"/><stop offset="0.559" stop-color="#525252"/><stop offset="0.671" stop-color="#6e6e6e"/><stop offset="0.781" stop-color="#676767"/><stop offset="0.890" stop-color="#5c5c5c"/><stop offset="1.000" stop-color="#646464"/></linearGradient><linearGradient id="g156" x2="0" y2="1"><stop offset="0.000" stop-color="#767676"/><stop offset="0.077" stop-color="#747474"/><stop offset="0.153" stop-color="#757575"/><stop offset="0.230" stop-color="#7a7a7a"/><stop offset="0.306" stop-color="#979797"/><stop offset="0.383" stop-color="#8c8c8c"/><stop offset="0.459" stop-color="#9e9e9e"/><stop offset="0.532" stop-color="#929292"/><stop offset="0.604" stop-color="#aaaaaa"/><stop offset="0.676" stop-color="#797979"/><stop offset="0.748" stop-color="#7c7c7c"/><stop offset="0.820" stop-color="#909090"/><stop offset="0.880" stop-color="#6f6f6f"/><stop offset="0.940" stop-color="#2f2f2f"/><stop offset="1.000" stop-color="#000000"/></linearGradient><linearGradient id="g157" x2="0" y2="1"><stop offset="0.000" stop-color="#000000"/><stop offset="0.076" stop-color="#1d1d1d"/><stop offset="0.152" stop-color="#2b2b2b"/><stop offset="0.228" stop-color="#4d4d4d"/><stop offset="0.304" stop-color="#757575"/><stop offset="0.380" stop-color="#767676"/><stop offset="0.456" stop-color="#989898"/><stop offset="0.534" stop-color="#a5a5a5"/><stop offset="0.612" stop-color="#969696"/><stop offset="0.689" stop-color="#838383"/><stop offset="0.767" stop-color="#a2a2a2"/><stop offset="0.845" stop-color="#7a7a7a"/><stop offset="0.922" stop-color="#7a7a7a"/><stop offset="1.000" stop-color="#767676"/></linearGradient><linearGradient id="g158" x2="0" y2="1"><stop offset="0.000" stop-color="#646464"/><stop offset="0.062" stop-color="#696969"/><stop offset="0.125" stop-color="#5b5b5b"/><stop offset="0.188" stop-color="#717171"/><stop offset="0.250" stop-color="#666666"/><stop offset="0.312" stop-color="#656565"/><stop offset="0.375" stop-color="#626262"/><stop offset="0.438" stop-color="#757575"/><stop offset="0.500" stop-color="#747474"/><stop offset="0.562" stop-color="#6e6e6e"/><stop offset="0.625" stop-color="#5d5d5d"/><stop offset="0.688" stop-color="#5b5b5b"/><stop offset="0.750" stop-color="#5f5f5f"/><stop offset="0.812" stop-color="#4b4b4b"/><stop offset="0.875" stop-color="#4d4d4d"/><stop offset="0.938" stop-color="#717171"/><stop offset="1.000" stop-color="#5c5c5c"/></linearGradient><linearGradient id="g159" x2="0" y2="1"><stop offset="0.000" stop-color="#000000"/><stop offset="0.143" stop-color="#202020"/><stop offset="0.286" stop-color="#5b5b5b"/><stop offset="0.429" stop-color="#7b7b7b"/><stop offset="0.571" stop-color="#989898"/><stop offset="0.714" stop-color="#787878"/><stop offset="0.857" stop-color="#292929"/><stop offset="1.000" stop-color="#000000"/></linearGradient><linearGradient id="g160" x2="0" y2="1"><stop offset="0.000" stop-color="#767676"/><stop offset="0.055" stop-color="#6b6b6b"/><stop offset="0.111" stop-color="#828282"/><stop offset="0.166" stop-color="#595959"/><stop offset="0.222" stop-color="#5c5c5c"/><stop offset="0.277" stop-color="#676767"/><stop offset="0.333" stop-color="#5d5d5d"/><stop offset="0.388" stop-color="#5a5a5a"/><stop offset="0.444" stop-color="#696969"/><stop offset="0.493" stop-color="#6d6d6d"/><stop offset="0.542" stop-color="#515151"/><stop offset="0.592" stop-color="#737373"/><stop offset="0.641" stop-color="#5c5c5c"/><stop offset="0.701" stop-color="#626262"/><stop offset="0.761" stop-color="#4a4a4a"/><stop offset="0.820" stop-color="#6c6c6c"/><stop offset="0.880" stop-color="#515151"/><stop offset="0.940" stop-color="#5b5b5b"/><stop offset="1.000" stop-color="#5c5c5c"/></linearGradient><linearGradient id="g161" x2="0" y2="1"><stop offset="0.000" stop-color="#767676"/><stop offset="0.054" stop-color="#7d7d7d"/><stop offset="0.109" stop-color="#6a6a6a"/><stop offset="0.163" stop-color="#828282"/><stop offset="0.217" stop-color="#6b6b6b"/><stop offset="0.272" stop-color="#777777"/><stop offset="0.326" stop-color="#a7a7a7"/><stop offset="0.380" stop-color="#909090"/><stop offset="0.428" stop-color="#b2b2b2"/><stop offset="0.475" stop-color="#a8a8a8"/><stop offset="0.523" stop-color="#c0c0c0"/><stop offset="0.570" stop-color="#bdbdbd"/><stop offset="0.621" stop-color="#dbdbdb"/><stop offset="0.672" stop-color="#9d9d9d"/><stop offset="0.723" stop-color="#b9b9b9"/><stop offset="0.773" stop-color="#9b9b9b"/><stop offset="0.824" stop-color="#b8b8b8"/><stop offset="0.873" stop-color="#8e8e8e"/><stop offset="0.923" stop-color="#9e9e9e"/><stop offset="0.961" stop-color="#7d7d7d"/><stop offset="1.000" stop-color="#909090"/></linearGradient><linearGradient id="g162" x2="0" y2="1"><stop offset="0.000" stop-color="#000000"/><stop offset="0.181" stop-color="#202020"/><stop offset="0.362" stop-color="#3b3b3b"/><stop offset="0.543" stop-color="#6e6e6e"/><stop offset="0.696" stop-color="#5f5f5f"/><stop offset="0.848" stop-color="#656565"/><stop offset="1.000" stop-color="#696969"/></linearGradient><linearGradient id="g163" x2="0" y2="1"><stop offset="0.000" stop-color="#000000"/><stop offset="0.091" stop-color="#1c1c1c"/><stop offset="0.182" stop-color="#3d3d3d"/><stop offset="0.273" stop-color="#5d5d5d"/><stop offset="0.365" stop-color="#696969"/><stop offset="0.451" stop-color="#828282"/><stop offset="0.538" stop-color="#848484"/><stop offset="0.625" stop-color="#909090"/><stop offset="0.714" stop-color="#ababab"/><stop offset="0.802" stop-color="#909090"/><stop offset="0.868" stop-color="#707070"/><stop offset="0.934" stop-color="#626262"/><stop offset="1.000" stop-color="#696969"/></linearGradient><linearGradient id="g164" x2="0" y2="1"><stop offset="0.000" stop-color="#000000"/><stop offset="0.069" stop-color="#393939"/><stop offset="0.138" stop-color="#646464"/><stop offset="0.187" stop-color="#7e7e7e"/><stop offset="0.236" stop-color="#797979"/><stop offset="0.285" stop-color="#9e9e9e"/><stop offset="0.344" stop-color="#a2a2a2"/><stop offset="0.404" stop-color="#a7a7a7"/><stop offset="0.463" stop-color="#c5c5c5"/><stop offset="0.520" stop-color="#bfbfbf"/><stop offset="0.577" stop-color="#c5c5c5"/><stop offset="0.634" stop-color="#b2b2b2"/><stop offset="0.691" stop-color="#a3a3a3"/><stop offset="0.748" stop-color="#9e9e9e"/><stop offset="0.802" stop-color="#9e9e9e"/><stop offset="0.856" stop-color="#8b8b8b"/><stop offset="0.911" stop-color="#696969"/><stop offset="0.955" stop-color="#696969"/><stop offset="1.000" stop-color="#646464"/></linearGradient><linearGradient id="g165" x2="0" y2="1"><stop offset="0.000" stop-color="#000000"/><stop offset="0.087" stop-color="#0b0b0b"/><stop offset="0.174" stop-color="#141414"/><stop offset="0.262" stop-color="#252525"/><stop offset="0.349" stop-color="#353535"/><stop offset="0.436" stop-color="#303030"/><stop offset="0.523" stop-color="#424242"/><stop offset="0.619" stop-color="#484848"/><stop offset="0.714" stop-color="#474747"/><stop offset="0.809" stop-color="#464646"/><stop offset="0.905" stop-color="#343434"/><stop offset="1.000" stop-color="#424242"/></linearGradient><linearGradient id="g166" x2="0" y2="1"><stop offset="0.000" stop-color="#000000"/><stop offset="0.238" stop-color="#101010"/><stop offset="0.476" stop-color="#202020"/><stop offset="0.738" stop-color="#0e0e0e"/><stop offset="1.000" stop-color="#000000"/></linearGradient><linearGradient id="g167" x2="0" y2="1"><stop offset="0.000" stop-color="#000000"/><stop offset="0.071" stop-color="#222222"/><stop offset="0.141" stop-color="#525252"/><stop offset="0.212" stop-color="#767676"/><stop offset="0.284" stop-color="#878787"/><stop offset="0.356" stop-color="#8f8f8f"/><stop offset="0.428" stop-color="#9f9f9f"/><stop offset="0.500" stop-color="#989898"/><stop offset="0.580" stop-color="#9a9a9a"/><stop offset="0.660" stop-color="#808080"/><stop offset="0.740" stop-color="#767676"/><stop offset="0.812" stop-color="#4f4f4f"/><stop offset="0.885" stop-color="#4f4f4f"/><stop offset="0.942" stop-color="#2c2c2c"/><stop offset="1.000" stop-color="#000000"/></linearGradient><linearGradient id="g168" x2="0" y2="1"><stop offset="0.000" stop-color="#000000"/><stop offset="0.069" stop-color="#1b1b1b"/><stop offset="0.139" stop-color="#363636"/><stop offset="0.208" stop-color="#4a4a4a"/><stop offset="0.278" stop-color="#4b4b4b"/><stop offset="0.347" stop-color="#767676"/><stop offset="0.410" stop-color="#626262"/><stop offset="0.473" stop-color="#595959"/><stop offset="0.536" stop-color="#6d6d6d"/><stop offset="0.598" stop-color="#636363"/><stop offset="0.661" stop-color="#5c5c5c"/><stop offset="0.729" stop-color="#4f4f4f"/><stop offset="0.797" stop-color="#6e6e6e"/><stop offset="0.864" stop-color="#6f6f6f"/><stop offset="0.932" stop-color="#6c6c6c"/><stop offset="1.000" stop-color="#5c5c5c"/></linearGradient><linearGradient id="g169" x2="0" y2="1"><stop offset="0.000" stop-color="#000000"/><stop offset="0.078" stop-color="#0f0f0f"/><stop offset="0.156" stop-color="#1b1b1b"/><stop offset="0.233" stop-color="#272727"/><stop offset="0.311" stop-color="#454545"/><stop offset="0.389" stop-color="#525252"/><stop offset="0.467" stop-color="#515151"/><stop offset="0.545" stop-color="#696969"/><stop offset="0.619" stop-color="#757575"/><stop offset="0.693" stop-color="#616161"/><stop offset="0.767" stop-color="#565656"/><stop offset="0.842" stop-color="#545454"/><stop offset="0.921" stop-color="#282828"/><stop offset="1.000" stop-color="#000000"/></linearGradient><linearGradient id="g170" x2="0" y2="1"><stop offset="0.000" stop-color="#000000"/><stop offset="0.178" stop-color="#1d1d1d"/><stop offset="0.357" stop-color="#333333"/><stop offset="0.535" stop-color="#4f4f4f"/><stop offset="0.690" stop-color="#383838"/><stop offset="0.845" stop-color="#161616"/><stop offset="1.000" stop-color="#000000"/></linearGradient><linearGradient id="g171" x2="0" y2="1"><stop offset="0.000" stop-color="#000000"/><stop offset="0.203" stop-color="#1d1d1d"/><stop offset="0.407" stop-color="#2f2f2f"/><stop offset="0.610" stop-color="#4f4f4f"/><stop offset="0.805" stop-color="#5d5d5d"/><stop offset="1.000" stop-color="#4f4f4f"/></linearGradient><linearGradient id="g172" x2="0" y2="1"><stop offset="0.000" stop-color="#252525"/><stop offset="0.053" stop-color="#212121"/><stop offset="0.107" stop-color="#232323"/><stop offset="0.160" stop-color="#272727"/><stop offset="0.211" stop-color="#2d2d2d"/><stop offset="0.262" stop-color="#303030"/><stop offset="0.313" stop-color="#383838"/><stop offset="0.364" stop-color="#323232"/><stop offset="0.415" stop-color="#323232"/><stop offset="0.466" stop-color="#242424"/><stop offset="0.523" stop-color="#212121"/><stop offset="0.580" stop-color="#2b2b2b"/><stop offset="0.637" stop-color="#2c2c2c"/><stop offset="0.695" stop-color="#2a2a2a"/><stop offset="0.758" stop-color="#252525"/><stop offset="0.822" stop-color="#181818"/><stop offset="0.885" stop-color="#101010"/><stop offset="0.943" stop-color="#080808"/><stop offset="1.000" stop-color="#000000"/></linearGradient><linearGradient id="g173" x2="0" y2="1"><stop offset="0.000" stop-color="#444444"/><stop offset="0.053" stop-color="#4a4a4a"/><stop offset="0.107" stop-color="#5a5a5a"/><stop offset="0.160" stop-color="#676767"/><stop offset="0.211" stop-color="#565656"/><stop offset="0.262" stop-color="#4d4d4d"/><stop offset="0.313" stop-color="#535353"/><stop offset="0.364" stop-color="#585858"/><stop offset="0.415" stop-color="#515151"/><stop offset="0.466" stop-color="#646464"/><stop offset="0.523" stop-color="#595959"/><stop offset="0.580" stop-color="#545454"/><stop offset="0.637" stop-color="#434343"/><stop offset="0.695" stop-color="#404040"/><stop offset="0.758" stop-color="#2b2b2b"/><stop offset="0.822" stop-color="#272727"/><stop offset="0.885" stop-color="#181818"/><stop offset="0.943" stop-color="#0e0e0e"/><stop offset="1.000" stop-color="#000000"/></linearGradient><linearGradient id="g174" x2="0" y2="1"><stop offset="0.000" stop-color="#282828"/><stop offset="0.053" stop-color="#2a2a2a"/><stop offset="0.107" stop-color="#393939"/><stop offset="0.160" stop-color="#3d3d3d"/><stop offset="0.211" stop-color="#393939"/><stop offset="0.262" stop-color="#353535"/><stop offset="0.313" stop-color="#262626"/><stop offset="0.364" stop-color="#2a2a2a"/><stop offset="0.415" stop-color="#252525"/><stop offset="0.466" stop-color="#292929"/><stop offset="0.523" stop-color="#252525"/><stop offset="0.580" stop-color="#313131"/><stop offset="0.637" stop-color="#282828"/><stop offset="0.695" stop-color="#2d2d2d"/><stop offset="0.758" stop-color="#212121"/><stop offset="0.822" stop-color="#2d2d2d"/><stop offset="0.885" stop-color="#232323"/><stop offset="0.943" stop-color="#0f0f0f"/><stop offset="1.000" stop-color="#000000"/></linearGradient><linearGradient id="g175" x2="0" y2="1"><stop offset="0.000" stop-color="#656565"/><stop offset="0.053" stop-color="#606060"/><stop offset="0.107" stop-color="#636363"/><stop offset="0.160" stop-color="#6f6f6f"/><stop offset="0.211" stop-color="#6b6b6b"/><stop offset="0.262" stop-color="#8c8c8c"/><stop offset="0.313" stop-color="#888888"/><stop offset="0.364" stop-color="#727272"/><stop offset="0.415" stop-color="#6b6b6b"/><stop offset="0.466" stop-color="#616161"/><stop offset="0.523" stop-color="#606060"/><stop offset="0.580" stop-color="#757575"/><stop offset="0.637" stop-color="#535353"/><stop offset="0.695" stop-color="#6c6c6c"/><stop offset="0.758" stop-color="#575757"/><stop offset="0.822" stop-color="#333333"/><stop offset="0.885" stop-color="#252525"/><stop offset="0.943" stop-color="#101010"/><stop offset="1.000" stop-color="#000000"/></linearGradient><linearGradient id="g176" x2="0" y2="1"><stop offset="0.000" stop-color="#adadad"/><stop offset="0.053" stop-color="#c0c0c0"/><stop offset="0.107" stop-color="#b7b7b7"/><stop offset="0.160" stop-color="#cdcdcd"/><stop offset="0.211" stop-color="#a8a8a8"/><stop offset="0.262" stop-color="#dadada"/><stop offset="0.313" stop-color="#d5d5d5"/><stop offset="0.364" stop-color="#ffffff"/><stop offset="0.415" stop-color="#f1f1f1"/><stop offset="0.466" stop-color="#eaeaea"/><stop offset="0.523" stop-color="#d8d8d8"/><stop offset="0.580" stop-color="#e1e1e1"/><stop offset="0.637" stop-color="#d6d6d6"/><stop offset="0.695" stop-color="#a3a3a3"/><stop offset="0.758" stop-color="#767676"/><stop offset="0.822" stop-color="#696969"/><stop offset="0.885" stop-color="#5c5c5c"/><stop offset="0.943" stop-color="#373737"/><stop offset="1.000" stop-color="#000000"/></linearGradient><linearGradient id="g177" x2="0" y2="1"><stop offset="0.000" stop-color="#ababab"/><stop offset="0.053" stop-color="#d2d2d2"/><stop offset="0.107" stop-color="#9f9f9f"/><stop offset="0.160" stop-color="#bdbdbd"/><stop offset="0.211" stop-color="#d1d1d1"/><stop offset="0.262" stop-color="#e2e2e2"/><stop offset="0.313" stop-color="#c4c4c4"/><stop offset="0.364" stop-color="#c5c5c5"/><stop offset="0.415" stop-color="#c7c7c7"/><stop offset="0.466" stop-color="#b0b0b0"/><stop offset="0.523" stop-color="#a8a8a8"/><stop offset="0.580" stop-color="#8a8a8a"/><stop offset="0.637" stop-color="#808080"/><stop offset="0.695" stop-color="#898989"/><stop offset="0.758" stop-color="#5b5b5b"/><stop offset="0.822" stop-color="#606060"/><stop offset="0.885" stop-color="#414141"/><stop offset="0.943" stop-color="#1b1b1b"/><stop offset="1.000" stop-color="#000000"/></linearGradient><linearGradient id="g178" x2="0" y2="1"><stop offset="0.000" stop-color="#757575"/><stop offset="0.053" stop-color="#7e7e7e"/><stop offset="0.107" stop-color="#757575"/><stop offset="0.160" stop-color="#7e7e7e"/><stop offset="0.211" stop-color="#797979"/><stop offset="0.262" stop-color="#949494"/><stop offset="0.313" stop-color="#797979"/><stop offset="0.364" stop-color="#777777"/><stop offset="0.415" stop-color="#7f7f7f"/><stop offset="0.466" stop-color="#848484"/><stop offset="0.523" stop-color="#767676"/><stop offset="0.580" stop-color="#666666"/><stop offset="0.637" stop-color="#606060"/><stop offset="0.695" stop-color="#656565"/><stop offset="0.758" stop-color="#535353"/><stop offset="0.822" stop-color="#474747"/><stop offset="0.885" stop-color="#2b2b2b"/><stop offset="0.943" stop-color="#121212"/><stop offset="1.000" stop-color="#000000"/></linearGradient><linearGradient id="g179" x2="0" y2="1"><stop offset="0.000" stop-color="#b6b6b6"/><stop offset="0.053" stop-color="#e4e4e4"/><stop offset="0.107" stop-color="#d7d7d7"/><stop offset="0.160" stop-color="#d0d0d0"/><stop offset="0.211" stop-color="#a2a2a2"/><stop offset="0.262" stop-color="#d5d5d5"/><stop offset="0.313" stop-color="#bdbdbd"/><stop offset="0.364" stop-color="#b9b9b9"/><stop offset="0.415" stop-color="#c7c7c7"/><stop offset="0.466" stop-color="#cbcbcb"/><stop offset="0.523" stop-color="#9e9e9e"/><stop offset="0.580" stop-color="#b7b7b7"/><stop offset="0.637" stop-color="#adadad"/><stop offset="0.695" stop-color="#a1a1a1"/><stop offset="0.758" stop-color="#9c9c9c"/><stop offset="0.822" stop-color="#797979"/><stop offset="0.885" stop-color="#606060"/><stop offset="0.943" stop-color="#343434"/><stop offset="1.000" stop-color="#000000"/></linearGradient><linearGradient id="g180" x2="0" y2="1"><stop offset="0.000" stop-color="#6c6c6c"/><stop offset="0.053" stop-color="#777777"/><stop offset="0.107" stop-color="#5e5e5e"/><stop offset="0.160" stop-color="#6b6b6b"/><stop offset="0.211" stop-color="#5c5c5c"/><stop offset="0.262" stop-color="#7d7d7d"/><stop offset="0.313" stop-color="#888888"/><stop offset="0.364" stop-color="#676767"/><stop offset="0.415" stop-color="#5e5e5e"/><stop offset="0.466" stop-color="#646464"/><stop offset="0.523" stop-color="#595959"/><stop offset="0.580" stop-color="#606060"/><stop offset="0.637" stop-color="#606060"/><stop offset="0.695" stop-color="#595959"/><stop offset="0.758" stop-color="#535353"/><stop offset="0.822" stop-color="#515151"/><stop offset="0.885" stop-color="#393939"/><stop offset="0.943" stop-color="#181818"/><stop offset="1.000" stop-color="#000000"/></linearGradient><linearGradient id="g181" x2="0" y2="1"><stop offset="0.000" stop-color="#858585"/><stop offset="0.053" stop-color="#969696"/><stop offset="0.107" stop-color="#828282"/><stop offset="0.160" stop-color="#adadad"/><stop offset="0.211" stop-color="#b3b3b3"/><stop offset="0.262" stop-color="#9c9c9c"/><stop offset="0.313" stop-color="#9a9a9a"/><stop offset="0.364" stop-color="#898989"/><stop offset="0.415" stop-color="#9d9d9d"/><stop offset="0.466" stop-color="#b4b4b4"/><stop offset="0.523" stop-color="#b9b9b9"/><stop offset="0.580" stop-color="#a3a3a3"/><stop offset="0.637" stop-color="#bcbcbc"/><stop offset="0.695" stop-color="#969696"/><stop offset="0.758" stop-color="#747474"/><stop offset="0.822" stop-color="#5b5b5b"/><stop offset="0.885" stop-color="#484848"/><stop offset="0.943" stop-color="#2b2b2b"/><stop offset="1.000" stop-color="#000000"/></linearGradient><linearGradient id="g182" x2="0" y2="1"><stop offset="0.000" stop-color="#676767"/><stop offset="0.053" stop-color="#696969"/><stop offset="0.107" stop-color="#515151"/><stop offset="0.160" stop-color="#5f5f5f"/><stop offset="0.211" stop-color="#707070"/><stop offset="0.262" stop-color="#636363"/><stop offset="0.313" stop-color="#6f6f6f"/><stop offset="0.364" stop-color="#838383"/><stop offset="0.415" stop-color="#727272"/><stop offset="0.466" stop-color="#6a6a6a"/><stop offset="0.523" stop-color="#737373"/><stop offset="0.580" stop-color="#717171"/><stop offset="0.637" stop-color="#5b5b5b"/><stop offset="0.695" stop-color="#555555"/><stop offset="0.758" stop-color="#545454"/><stop offset="0.822" stop-color="#2b2b2b"/><stop offset="0.885" stop-color="#272727"/><stop offset="0.943" stop-color="#121212"/><stop offset="1.000" stop-color="#000000"/></linearGradient><linearGradient id="g183" x2="0" y2="1"><stop offset="0.000" stop-color="#b8b8b8"/><stop offset="0.053" stop-color="#e0e0e0"/><stop offset="0.107" stop-color="#a2a2a2"/><stop offset="0.160" stop-color="#dadada"/><stop offset="0.211" stop-color="#e4e4e4"/><stop offset="0.262" stop-color="#fafafa"/><stop offset="0.313" stop-color="#c7c7c7"/><stop offset="0.364" stop-color="#dcdcdc"/><stop offset="0.415" stop-color="#ececec"/><stop offset="0.466" stop-color="#cfcfcf"/><stop offset="0.523" stop-color="#9b9b9b"/><stop offset="0.580" stop-color="#b1b1b1"/><stop offset="0.637" stop-color="#a5a5a5"/><stop offset="0.695" stop-color="#8d8d8d"/><stop offset="0.758" stop-color="#787878"/><stop offset="0.822" stop-color="#666666"/><stop offset="0.885" stop-color="#585858"/><stop offset="0.943" stop-color="#323232"/><stop offset="1.000" stop-color="#000000"/></linearGradient><linearGradient id="g184" x2="0" y2="1"><stop offset="0.000" stop-color="#9a9a9a"/><stop offset="0.053" stop-color="#8e8e8e"/><stop offset="0.107" stop-color="#909090"/><stop offset="0.160" stop-color="#c2c2c2"/><stop offset="0.211" stop-color="#c8c8c8"/><stop offset="0.262" stop-color="#e4e4e4"/><stop offset="0.313" stop-color="#bbbbbb"/><stop offset="0.364" stop-color="#cdcdcd"/><stop offset="0.415" stop-color="#b9b9b9"/><stop offset="0.466" stop-color="#a4a4a4"/><stop offset="0.523" stop-color="#8f8f8f"/><stop offset="0.580" stop-color="#b0b0b0"/><stop offset="0.637" stop-color="#717171"/><stop offset="0.695" stop-color="#868686"/><stop offset="0.758" stop-color="#666666"/><stop offset="0.822" stop-color="#6c6c6c"/><stop offset="0.885" stop-color="#4c4c4c"/><stop offset="0.943" stop-color="#2d2d2d"/><stop offset="1.000" stop-color="#000000"/></linearGradient><linearGradient id="g185" x2="0" y2="1"><stop offset="0.000" stop-color="#a7a7a7"/><stop offset="0.053" stop-color="#b1b1b1"/><stop offset="0.107" stop-color="#eeeeee"/><stop offset="0.160" stop-color="#dbdbdb"/><stop offset="0.211" stop-color="#b2b2b2"/><stop offset="0.262" stop-color="#dcdcdc"/><stop offset="0.313" stop-color="#cfcfcf"/><stop offset="0.364" stop-color="#a7a7a7"/><stop offset="0.415" stop-color="#b5b5b5"/><stop offset="0.466" stop-color="#cdcdcd"/><stop offset="0.523" stop-color="#a7a7a7"/><stop offset="0.580" stop-color="#8e8e8e"/><stop offset="0.637" stop-color="#a3a3a3"/><stop offset="0.695" stop-color="#9e9e9e"/><stop offset="0.758" stop-color="#8a8a8a"/><stop offset="0.822" stop-color="#6c6c6c"/><stop offset="0.885" stop-color="#646464"/><stop offset="0.943" stop-color="#353535"/><stop offset="1.000" stop-color="#000000"/></linearGradient><linearGradient id="g186" x2="0" y2="1"><stop offset="0.000" stop-color="#747474"/><stop offset="0.053" stop-color="#656565"/><stop offset="0.107" stop-color="#888888"/><stop offset="0.160" stop-color="#909090"/><stop offset="0.211" stop-color="#949494"/><stop offset="0.262" stop-color="#8e8e8e"/><stop offset="0.313" stop-color="#969696"/><stop offset="0.364" stop-color="#bababa"/><stop offset="0.415" stop-color="#898989"/><stop offset="0.466" stop-color="#ababab"/><stop offset="0.523" stop-color="#969696"/><stop offset="0.580" stop-color="#888888"/><stop offset="0.637" stop-color="#747474"/><stop offset="0.695" stop-color="#6a6a6a"/><stop offset="0.758" stop-color="#6e6e6e"/><stop offset="0.822" stop-color="#4e4e4e"/><stop offset="0.885" stop-color="#3c3c3c"/><stop offset="0.943" stop-color="#1e1e1e"/><stop offset="1.000" stop-color="#000000"/></linearGradient><linearGradient id="g187" x2="0" y2="1"><stop offset="0.000" stop-color="#646464"/><stop offset="0.053" stop-color="#6c6c6c"/><stop offset="0.107" stop-color="#767676"/><stop offset="0.160" stop-color="#848484"/><stop offset="0.211" stop-color="#9d9d9d"/><stop offset="0.262" stop-color="#939393"/><stop offset="0.313" stop-color="#818181"/><stop offset="0.364" stop-color="#8a8a8a"/><stop offset="0.415" stop-color="#6f6f6f"/><stop offset="0.466" stop-color="#838383"/><stop offset="0.523" stop-color="#7c7c7c"/><stop offset="0.580" stop-color="#595959"/><stop offset="0.637" stop-color="#595959"/><stop offset="0.695" stop-color="#535353"/><stop offset="0.758" stop-color="#373737"/><stop offset="0.822" stop-color="#3d3d3d"/><stop offset="0.885" stop-color="#2b2b2b"/><stop offset="0.943" stop-color="#1a1a1a"/><stop offset="1.000" stop-color="#000000"/></linearGradient><linearGradient id="g188" x2="0" y2="1"><stop offset="0.000" stop-color="#7e7e7e"/><stop offset="0.053" stop-color="#959595"/><stop offset="0.107" stop-color="#a1a1a1"/><stop offset="0.160" stop-color="#ababab"/><stop offset="0.211" stop-color="#999999"/><stop offset="0.262" stop-color="#a9a9a9"/><stop offset="0.313" stop-color="#aeaeae"/><stop offset="0.364" stop-color="#a0a0a0"/><stop offset="0.415" stop-color="#929292"/><stop offset="0.466" stop-color="#8c8c8c"/><stop offset="0.523" stop-color="#777777"/><stop offset="0.580" stop-color="#6e6e6e"/><stop offset="0.637" stop-color="#838383"/><stop offset="0.695" stop-color="#6e6e6e"/><stop offset="0.758" stop-color="#6c6c6c"/><stop offset="0.822" stop-color="#515151"/><stop offset="0.885" stop-color="#333333"/><stop offset="0.943" stop-color="#1b1b1b"/><stop offset="1.000" stop-color="#000000"/></linearGradient><linearGradient id="g189" x2="0" y2="1"><stop offset="0.000" stop-color="#575757"/><stop offset="0.053" stop-color="#4c4c4c"/><stop offset="0.107" stop-color="#606060"/><stop offset="0.160" stop-color="#737373"/><stop offset="0.211" stop-color="#868686"/><stop offset="0.262" stop-color="#8e8e8e"/><stop offset="0.313" stop-color="#777777"/><stop offset="0.364" stop-color="#757575"/><stop offset="0.415" stop-color="#727272"/><stop offset="0.466" stop-color="#6a6a6a"/><stop offset="0.523" stop-color="#696969"/><stop offset="0.580" stop-color="#4f4f4f"/><stop offset="0.637" stop-color="#585858"/><stop offset="0.695" stop-color="#484848"/><stop offset="0.758" stop-color="#3a3a3a"/><stop offset="0.822" stop-color="#3c3c3c"/><stop offset="0.885" stop-color="#2b2b2b"/><stop offset="0.943" stop-color="#151515"/><stop offset="1.000" stop-color="#000000"/></linearGradient><linearGradient id="g190" x2="0" y2="1"><stop offset="0.000" stop-color="#3b3b3b"/><stop offset="0.053" stop-color="#474747"/><stop offset="0.107" stop-color="#4a4a4a"/><stop offset="0.160" stop-color="#4f4f4f"/><stop offset="0.211" stop-color="#565656"/><stop offset="0.262" stop-color="#585858"/><stop offset="0.313" stop-color="#5f5f5f"/><stop offset="0.364" stop-color="#6e6e6e"/><stop offset="0.415" stop-color="#626262"/><stop offset="0.466" stop-color="#545454"/><stop offset="0.523" stop-color="#4c4c4c"/><stop offset="0.580" stop-color="#494949"/><stop offset="0.637" stop-color="#4f4f4f"/><stop offset="0.695" stop-color="#3e3e3e"/><stop offset="0.758" stop-color="#3b3b3b"/><stop offset="0.822" stop-color="#2f2f2f"/><stop offset="0.885" stop-color="#232323"/><stop offset="0.943" stop-color="#151515"/><stop offset="1.000" stop-color="#000000"/></linearGradient><linearGradient id="g191" x2="0" y2="1"><stop offset="0.000" stop-color="#000000"/><stop offset="0.062" stop-color="#050505"/><stop offset="0.124" stop-color="#0e0e0e"/><stop offset="0.186" stop-color="#141414"/><stop offset="0.248" stop-color="#1a1a1a"/><stop offset="0.317" stop-color="#171717"/><stop offset="0.386" stop-color="#1a1a1a"/><stop offset="0.455" stop-color="#131313"/><stop offset="0.517" stop-color="#2c2c2c"/><stop offset="0.579" stop-color="#353535"/><stop offset="0.647" stop-color="#323232"/><stop offset="0.716" stop-color="#353535"/><stop offset="0.785" stop-color="#313131"/><stop offset="0.857" stop-color="#373737"/><stop offset="0.928" stop-color="#353535"/><stop offset="1.000" stop-color="#313131"/></linearGradient><linearGradient id="g192" x2="0" y2="1"><stop offset="0.000" stop-color="#000000"/><stop offset="0.062" stop-color="#080808"/><stop offset="0.124" stop-color="#141414"/><stop offset="0.186" stop-color="#191919"/><stop offset="0.248" stop-color="#232323"/><stop offset="0.317" stop-color="#1f1f1f"/><stop offset="0.386" stop-color="#292929"/><stop offset="0.455" stop-color="#272727"/><stop offset="0.517" stop-color="#2e2e2e"/><stop offset="0.579" stop-color="#2f2f2f"/><stop offset="0.647" stop-color="#2a2a2a"/><stop offset="0.716" stop-color="#282828"/><stop offset="0.785" stop-color="#252525"/><stop offset="0.857" stop-color="#323232"/><stop offset="0.928" stop-color="#343434"/><stop offset="1.000" stop-color="#323232"/></linearGradient><linearGradient id="g193" x2="0" y2="1"><stop offset="0.000" stop-color="#000000"/><stop offset="0.062" stop-color="#0b0b0b"/><stop offset="0.124" stop-color="#1b1b1b"/><stop offset="0.186" stop-color="#242424"/><stop offset="0.248" stop-color="#2e2e2e"/><stop offset="0.317" stop-color="#3a3a3a"/><stop offset="0.386" stop-color="#515151"/><stop offset="0.455" stop-color="#5b5b5b"/><stop offset="0.517" stop-color="#757575"/><stop offset="0.579" stop-color="#747474"/><stop offset="0.647" stop-color="#888888"/><stop offset="0.716" stop-color="#7c7c7c"/><stop offset="0.785" stop-color="#737373"/><stop offset="0.857" stop-color="#797979"/><stop offset="0.928" stop-color="#6a6a6a"/><stop offset="1.000" stop-color="#6d6d6d"/></linearGradient><linearGradient id="g194" x2="0" y2="1"><stop offset="0.000" stop-color="#000000"/><stop offset="0.062" stop-color="#0c0c0c"/><stop offset="0.124" stop-color="#1f1f1f"/><stop offset="0.186" stop-color="#272727"/><stop offset="0.248" stop-color="#3f3f3f"/><stop offset="0.317" stop-color="#616161"/><stop offset="0.386" stop-color="#5d5d5d"/><stop offset="0.455" stop-color="#757575"/><stop offset="0.517" stop-color="#8b8b8b"/><stop offset="0.579" stop-color="#949494"/><stop offset="0.647" stop-color="#a3a3a3"/><stop offset="0.716" stop-color="#7e7e7e"/><stop offset="0.785" stop-color="#929292"/><stop offset="0.857" stop-color="#a6a6a6"/><stop offset="0.928" stop-color="#848484"/><stop offset="1.000" stop-color="#8d8d8d"/></linearGradient><linearGradient id="g195" x2="0" y2="1"><stop offset="0.000" stop-color="#000000"/><stop offset="0.062" stop-color="#090909"/><stop offset="0.124" stop-color="#171717"/><stop offset="0.186" stop-color="#202020"/><stop offset="0.248" stop-color="#2c2c2c"/><stop offset="0.317" stop-color="#545454"/><stop offset="0.386" stop-color="#606060"/><stop offset="0.455" stop-color="#7d7d7d"/><stop offset="0.517" stop-color="#6a6a6a"/><stop offset="0.579" stop-color="#858585"/><stop offset="0.647" stop-color="#646464"/><stop offset="0.716" stop-color="#606060"/><stop offset="0.785" stop-color="#727272"/><stop offset="0.857" stop-color="#6f6f6f"/><stop offset="0.928" stop-color="#767676"/><stop offset="1.000" stop-color="#696969"/></linearGradient><linearGradient id="g196" x2="0" y2="1"><stop offset="0.000" stop-color="#000000"/><stop offset="0.062" stop-color="#151515"/><stop offset="0.124" stop-color="#303030"/><stop offset="0.186" stop-color="#4d4d4d"/><stop offset="0.248" stop-color="#686868"/><stop offset="0.317" stop-color="#999999"/><stop offset="0.386" stop-color="#bcbcbc"/><stop offset="0.455" stop-color="#b6b6b6"/><stop offset="0.517" stop-color="#e1e1e1"/><stop offset="0.579" stop-color="#cdcdcd"/><stop offset="0.647" stop-color="#e4e4e4"/><stop offset="0.716" stop-color="#e9e9e9"/><stop offset="0.785" stop-color="#ebebeb"/><stop offset="0.857" stop-color="#cacaca"/><stop offset="0.928" stop-color="#ececec"/><stop offset="1.000" stop-color="#dbdbdb"/></linearGradient><linearGradient id="g197" x2="0" y2="1"><stop offset="0.000" stop-color="#000000"/><stop offset="0.062" stop-color="#0f0f0f"/><stop offset="0.124" stop-color="#202020"/><stop offset="0.186" stop-color="#3c3c3c"/><stop offset="0.248" stop-color="#454545"/><stop offset="0.317" stop-color="#595959"/><stop offset="0.386" stop-color="#717171"/><stop offset="0.455" stop-color="#787878"/><stop offset="0.517" stop-color="#787878"/><stop offset="0.579" stop-color="#7c7c7c"/><stop offset="0.647" stop-color="#717171"/><stop offset="0.716" stop-color="#7d7d7d"/><stop offset="0.785" stop-color="#7d7d7d"/><stop offset="0.857" stop-color="#808080"/><stop offset="0.928" stop-color="#6c6c6c"/><stop offset="1.000" stop-color="#797979"/></linearGradient><linearGradient id="g198" x2="0" y2="1"><stop offset="0.000" stop-color="#000000"/><stop offset="0.062" stop-color="#0a0a0a"/><stop offset="0.124" stop-color="#151515"/><stop offset="0.186" stop-color="#161616"/><stop offset="0.248" stop-color="#232323"/><stop offset="0.317" stop-color="#2f2f2f"/><stop offset="0.386" stop-color="#515151"/><stop offset="0.455" stop-color="#5a5a5a"/><stop offset="0.517" stop-color="#5a5a5a"/><stop offset="0.579" stop-color="#4b4b4b"/><stop offset="0.647" stop-color="#404040"/><stop offset="0.716" stop-color="#4a4a4a"/><stop offset="0.785" stop-color="#454545"/><stop offset="0.857" stop-color="#464646"/><stop offset="0.928" stop-color="#686868"/><stop offset="1.000" stop-color="#636363"/></linearGradient><linearGradient id="g199" x2="0" y2="1"><stop offset="0.000" stop-color="#000000"/><stop offset="0.062" stop-color="#1a1a1a"/><stop offset="0.124" stop-color="#333333"/><stop offset="0.186" stop-color="#404040"/><stop offset="0.248" stop-color="#656565"/><stop offset="0.317" stop-color="#727272"/><stop offset="0.386" stop-color="#878787"/><stop offset="0.455" stop-color="#9b9b9b"/><stop offset="0.517" stop-color="#a7a7a7"/><stop offset="0.579" stop-color="#c9c9c9"/><stop offset="0.647" stop-color="#a7a7a7"/><stop offset="0.716" stop-color="#a2a2a2"/><stop offset="0.785" stop-color="#b4b4b4"/><stop offset="0.857" stop-color="#c4c4c4"/><stop offset="0.928" stop-color="#d6d6d6"/><stop offset="1.000" stop-color="#b5b5b5"/></linearGradient><linearGradient id="g200" x2="0" y2="1"><stop offset="0.000" stop-color="#000000"/><stop offset="0.062" stop-color="#272727"/><stop offset="0.124" stop-color="#484848"/><stop offset="0.186" stop-color="#747474"/><stop offset="0.248" stop-color="#898989"/><stop offset="0.317" stop-color="#888888"/><stop offset="0.386" stop-color="#a4a4a4"/><stop offset="0.455" stop-color="#d6d6d6"/><stop offset="0.517" stop-color="#f8f8f8"/><stop offset="0.579" stop-color="#f2f2f2"/><stop offset="0.647" stop-color="#b8b8b8"/><stop offset="0.716" stop-color="#bcbcbc"/><stop offset="0.785" stop-color="#e0e0e0"/><stop offset="0.857" stop-color="#f4f4f4"/><stop offset="0.928" stop-color="#b7b7b7"/><stop offset="1.000" stop-color="#cdcdcd"/></linearGradient><linearGradient id="g201" x2="0" y2="1"><stop offset="0.000" stop-color="#000000"/><stop offset="0.062" stop-color="#151515"/><stop offset="0.124" stop-color="#2f2f2f"/><stop offset="0.186" stop-color="#555555"/><stop offset="0.248" stop-color="#636363"/><stop offset="0.317" stop-color="#696969"/><stop offset="0.386" stop-color="#c5c5c5"/><stop offset="0.455" stop-color="#cbcbcb"/><stop offset="0.517" stop-color="#c5c5c5"/><stop offset="0.579" stop-color="#e3e3e3"/><stop offset="0.647" stop-color="#eeeeee"/><stop offset="0.716" stop-color="#e7e7e7"/><stop offset="0.785" stop-color="#eeeeee"/><stop offset="0.857" stop-color="#bbbbbb"/><stop offset="0.928" stop-color="#fcfcfc"/><stop offset="1.000" stop-color="#c4c4c4"/></linearGradient><linearGradient id="g202" x2="0" y2="1"><stop offset="0.000" stop-color="#000000"/><stop offset="0.062" stop-color="#0b0b0b"/><stop offset="0.124" stop-color="#1e1e1e"/><stop offset="0.186" stop-color="#2e2e2e"/><stop offset="0.248" stop-color="#353535"/><stop offset="0.317" stop-color="#4a4a4a"/><stop offset="0.386" stop-color="#777777"/><stop offset="0.455" stop-color="#7a7a7a"/><stop offset="0.517" stop-color="#6e6e6e"/><stop offset="0.579" stop-color="#959595"/><stop offset="0.647" stop-color="#7c7c7c"/><stop offset="0.716" stop-color="#909090"/><stop offset="0.785" stop-color="#909090"/><stop offset="0.857" stop-color="#717171"/><stop offset="0.928" stop-color="#989898"/><stop offset="1.000" stop-color="#818181"/></linearGradient><linearGradient id="g203" x2="0" y2="1"><stop offset="0.000" stop-color="#000000"/><stop offset="0.062" stop-color="#171717"/><stop offset="0.124" stop-color="#333333"/><stop offset="0.186" stop-color="#3e3e3e"/><stop offset="0.248" stop-color="#5b5b5b"/><stop offset="0.317" stop-color="#555555"/><stop offset="0.386" stop-color="#929292"/><stop offset="0.455" stop-color="#8e8e8e"/><stop offset="0.517" stop-color="#7c7c7c"/><stop offset="0.579" stop-color="#8f8f8f"/><stop offset="0.647" stop-color="#8e8e8e"/><stop offset="0.716" stop-color="#7f7f7f"/><stop offset="0.785" stop-color="#9c9c9c"/><stop offset="0.857" stop-color="#9a9a9a"/><stop offset="0.928" stop-color="#8b8b8b"/><stop offset="1.000" stop-color="#858585"/></linearGradient><linearGradient id="g204" x2="0" y2="1"><stop offset="0.000" stop-color="#000000"/><stop offset="0.062" stop-color="#101010"/><stop offset="0.124" stop-color="#1e1e1e"/><stop offset="0.186" stop-color="#343434"/><stop offset="0.248" stop-color="#4b4b4b"/><stop offset="0.317" stop-color="#6d6d6d"/><stop offset="0.386" stop-color="#656565"/><stop offset="0.455" stop-color="#8d8d8d"/><stop offset="0.517" stop-color="#8d8d8d"/><stop offset="0.579" stop-color="#b4b4b4"/><stop offset="0.647" stop-color="#bdbdbd"/><stop offset="0.716" stop-color="#bebebe"/><stop offset="0.785" stop-color="#b3b3b3"/><stop offset="0.857" stop-color="#cbcbcb"/><stop offset="0.928" stop-color="#bebebe"/><stop offset="1.000" stop-color="#b2b2b2"/></linearGradient><linearGradient id="g205" x2="0" y2="1"><stop offset="0.000" stop-color="#000000"/><stop offset="0.062" stop-color="#1c1c1c"/><stop offset="0.124" stop-color="#292929"/><stop offset="0.186" stop-color="#565656"/><stop offset="0.248" stop-color="#616161"/><stop offset="0.317" stop-color="#555555"/><stop offset="0.386" stop-color="#636363"/><stop offset="0.455" stop-color="#828282"/><stop offset="0.517" stop-color="#7d7d7d"/><stop offset="0.579" stop-color="#adadad"/><stop offset="0.647" stop-color="#c3c3c3"/><stop offset="0.716" stop-color="#afafaf"/><stop offset="0.785" stop-color="#afafaf"/><stop offset="0.857" stop-color="#c9c9c9"/><stop offset="0.928" stop-color="#c7c7c7"/><stop offset="1.000" stop-color="#9f9f9f"/></linearGradient><linearGradient id="g206" x2="0" y2="1"><stop offset="0.000" stop-color="#000000"/><stop offset="0.062" stop-color="#0e0e0e"/><stop offset="0.124" stop-color="#181818"/><stop offset="0.186" stop-color="#202020"/><stop offset="0.248" stop-color="#2e2e2e"/><stop offset="0.317" stop-color="#434343"/><stop offset="0.386" stop-color="#484848"/><stop offset="0.455" stop-color="#4b4b4b"/><stop offset="0.517" stop-color="#484848"/><stop offset="0.579" stop-color="#5b5b5b"/><stop offset="0.647" stop-color="#5d5d5d"/><stop offset="0.716" stop-color="#474747"/><stop offset="0.785" stop-color="#5a5a5a"/><stop offset="0.857" stop-color="#444444"/><stop offset="0.928" stop-color="#585858"/><stop offset="1.000" stop-color="#505050"/></linearGradient></defs><polygon class="l" points="821.2,346.0 820.9,353.5 820.8,361.0 820.8,368.5 820.7,376.0 820.7,384.7 820.6,393.4 820.7,402.1 820.7,410.9 820.7,419.6 820.7,428.3 820.7,437.0 822.5,437.0 822.5,428.3 822.5,419.6 822.5,410.9 822.5,402.1 822.6,393.4 822.5,384.7 822.5,376.0 822.4,368.5 822.4,361.0 822.3,353.5 822.0,346.0" fill="url(#g108)"/><polygon class="l" points="830.6,295.0 830.6,302.7 830.6,310.4 830.6,318.1 830.5,325.9 830.5,333.6 830.5,341.3 830.5,349.0 830.4,355.8 830.3,362.5 830.3,369.2 830.3,376.0 830.3,384.8 830.4,393.5 830.4,402.2 830.4,411.0 830.5,419.7 830.4,428.3 830.4,437.0 832.6,437.0 832.6,428.3 832.5,419.7 832.6,411.0 832.6,402.2 832.6,393.5 832.7,384.8 832.7,376.0 832.7,369.2 832.7,362.5 832.6,355.8 832.5,349.0 832.5,341.3 832.5,333.6 832.5,325.9 832.4,318.1 832.4,310.4 832.4,302.7 832.4,295.0" fill="url(#g109)"/><polygon class="l" points="847.9,336.0 847.5,344.3 847.4,352.7 847.3,361.0 847.2,369.3 847.2,377.7 847.2,386.0 847.2,393.5 847.3,401.0 847.3,408.2 847.3,415.4 847.3,422.6 847.4,429.8 847.3,437.0 849.3,437.0 849.2,429.8 849.3,422.6 849.3,415.4 849.3,408.2 849.3,401.0 849.4,393.5 849.4,386.0 849.4,377.7 849.4,369.3 849.3,361.0 849.2,352.7 849.1,344.3 848.7,336.0" fill="url(#g110)"/><polygon class="l" points="849.0,295.0 849.0,303.5 848.9,312.0 849.0,320.5 849.0,329.0 848.9,337.5 849.0,346.0 848.9,354.0 848.9,362.0 848.9,370.0 848.9,378.0 848.9,386.0 848.9,394.8 848.9,403.5 848.8,412.2 848.9,421.0 848.8,429.0 848.9,437.0 851.1,437.0 851.2,429.0 851.1,421.0 851.2,412.2 851.1,403.5 851.1,394.8 851.1,386.0 851.1,378.0 851.1,370.0 851.1,362.0 851.1,354.0 851.0,346.0 851.1,337.5 851.0,329.0 851.0,320.5 851.1,312.0 851.0,303.5 851.0,295.0" fill="url(#g111)"/><polygon class="l" points="854.0,336.0 853.7,344.3 853.5,352.7 853.4,361.0 853.5,369.3 853.7,377.7 854.0,386.0 854.8,386.0 855.1,377.7 855.3,369.3 855.4,361.0 855.3,352.7 855.1,344.3 854.8,336.0" fill="url(#g112)"/><polygon class="l" points="856.4,295.0 856.4,302.2 856.3,309.4 856.3,316.6 856.3,323.8 856.3,331.0 856.2,338.7 856.3,346.3 856.3,354.0 856.3,360.3 856.3,366.7 856.4,373.0 856.4,381.6 856.4,390.2 856.4,398.8 856.5,407.4 856.5,416.0 856.6,421.0 856.9,426.0 857.7,426.0 858.0,421.0 858.1,416.0 858.1,407.4 858.2,398.8 858.2,390.2 858.2,381.6 858.2,373.0 858.3,366.7 858.3,360.3 858.3,354.0 858.3,346.3 858.4,338.7 858.3,331.0 858.3,323.8 858.3,316.6 858.3,309.4 858.2,302.2 858.2,295.0" fill="url(#g113)"/><polygon class="l" points="855.6,386.0 855.3,394.3 855.2,402.7 855.1,411.0 855.0,419.7 855.1,428.3 855.1,437.0 856.9,437.0 856.9,428.3 857.0,419.7 856.9,411.0 856.8,402.7 856.7,394.3 856.4,386.0" fill="url(#g114)"/><polygon class="l" points="862.6,314.0 862.2,321.8 862.1,329.5 862.0,337.2 861.9,345.0 862.0,352.0 861.9,359.0 862.0,366.0 862.2,371.0 862.6,376.0 863.4,376.0 863.8,371.0 864.0,366.0 864.1,359.0 864.0,352.0 864.1,345.0 864.0,337.2 863.9,329.5 863.8,321.8 863.4,314.0" fill="url(#g115)"/><polygon class="l" points="862.6,386.0 862.3,393.5 862.2,401.0 862.1,408.5 862.0,416.0 862.0,423.0 862.1,430.0 862.1,437.0 863.9,437.0 863.9,430.0 864.0,423.0 864.0,416.0 863.9,408.5 863.8,401.0 863.7,393.5 863.4,386.0" fill="url(#g116)"/><polygon class="l" points="865.6,295.0 865.7,303.2 865.6,311.4 865.6,319.6 865.6,327.8 865.6,336.0 865.7,344.3 865.6,352.7 865.6,361.0 865.6,369.3 865.7,377.7 865.6,386.0 865.6,393.5 865.7,401.0 865.6,408.5 865.6,416.0 865.7,423.0 865.7,430.0 865.6,437.0 867.0,437.0 866.9,430.0 866.9,423.0 867.0,416.0 867.0,408.5 866.9,401.0 867.0,393.5 867.0,386.0 866.9,377.7 867.0,369.3 867.0,361.0 867.0,352.7 866.9,344.3 867.0,336.0 867.0,327.8 867.0,319.6 867.0,311.4 866.9,303.2 867.0,295.0" fill="url(#g117)"/><polygon class="l" points="871.9,295.0 871.9,303.2 872.0,311.4 872.0,319.6 872.0,327.8 872.0,336.0 872.2,343.5 872.6,351.0 873.4,351.0 873.8,343.5 874.0,336.0 874.0,327.8 874.0,319.6 874.0,311.4 874.1,303.2 874.1,295.0" fill="url(#g118)"/><polygon class="l" points="872.6,381.0 872.3,388.8 872.1,396.5 872.0,404.2 871.9,412.0 871.9,420.3 872.0,428.7 872.0,437.0 874.0,437.0 874.0,428.7 874.1,420.3 874.1,412.0 874.0,404.2 873.9,396.5 873.7,388.8 873.4,381.0" fill="url(#g119)"/><polygon class="l" points="877.2,371.0 877.0,379.8 876.9,388.5 876.7,397.2 876.7,406.0 876.7,413.8 876.6,421.5 876.7,429.2 876.7,437.0 878.5,437.0 878.5,429.2 878.6,421.5 878.5,413.8 878.5,406.0 878.5,397.2 878.3,388.5 878.2,379.8 878.0,371.0" fill="url(#g120)"/><polygon class="l" points="882.6,351.0 882.4,358.5 882.3,366.0 882.2,373.5 882.1,381.0 882.2,388.5 882.1,396.0 882.1,404.2 882.0,412.4 882.1,420.6 882.1,428.8 882.1,437.0 883.9,437.0 883.9,428.8 883.9,420.6 884.0,412.4 883.9,404.2 883.9,396.0 883.8,388.5 883.9,381.0 883.8,373.5 883.7,366.0 883.6,358.5 883.4,351.0" fill="url(#g121)"/><polygon class="l" points="886.3,351.0 886.0,358.9 885.9,366.7 885.9,374.6 885.8,382.4 885.7,390.3 885.6,398.1 885.6,406.0 885.7,413.8 885.7,421.5 885.7,429.2 885.6,437.0 887.8,437.0 887.7,429.2 887.7,421.5 887.7,413.8 887.8,406.0 887.8,398.1 887.7,390.3 887.6,382.4 887.5,374.6 887.5,366.7 887.4,358.9 887.1,351.0" fill="url(#g122)"/><polygon class="l" points="894.0,306.0 893.8,313.5 893.6,321.0 893.5,328.5 893.5,336.0 893.4,344.0 893.4,352.0 893.4,360.0 893.4,368.0 893.5,376.0 893.4,382.7 893.4,389.3 893.4,396.0 893.3,402.7 893.4,409.3 893.3,416.0 893.4,423.0 893.3,430.0 893.3,437.0 895.7,437.0 895.7,430.0 895.6,423.0 895.7,416.0 895.6,409.3 895.7,402.7 895.6,396.0 895.6,389.3 895.6,382.7 895.5,376.0 895.6,368.0 895.6,360.0 895.6,352.0 895.6,344.0 895.5,336.0 895.5,328.5 895.4,321.0 895.2,313.5 895.0,306.0" fill="url(#g123)"/><polygon class="l" points="899.8,346.0 899.6,354.3 899.5,362.7 899.4,371.0 899.4,379.3 899.3,387.7 899.3,396.0 899.3,404.2 899.2,412.4 899.3,420.6 899.3,428.8 899.3,437.0 901.1,437.0 901.1,428.8 901.1,420.6 901.2,412.4 901.1,404.2 901.1,396.0 901.1,387.7 901.0,379.3 901.0,371.0 900.9,362.7 900.8,354.3 900.6,346.0" fill="url(#g124)"/><polygon class="l" points="905.2,344.0 905.0,351.4 904.9,358.8 904.8,366.2 904.7,373.6 904.6,381.0 904.8,389.8 904.9,398.5 905.0,407.2 905.2,416.0 906.0,416.0 906.2,407.2 906.3,398.5 906.4,389.8 906.6,381.0 906.5,373.6 906.4,366.2 906.3,358.8 906.2,351.4 906.0,344.0" fill="url(#g125)"/><polygon class="l" points="907.9,401.0 907.6,407.7 907.4,414.3 907.3,421.0 907.3,429.0 907.3,437.0 909.3,437.0 909.3,429.0 909.3,421.0 909.2,414.3 909.0,407.7 908.7,401.0" fill="url(#g126)"/><polygon class="l" points="912.1,334.0 911.8,342.5 911.7,351.0 911.6,359.5 911.6,368.0 911.5,376.5 911.4,385.0 911.5,393.7 911.4,402.3 911.4,411.0 911.4,419.7 911.4,428.3 911.5,437.0 913.5,437.0 913.6,428.3 913.6,419.7 913.6,411.0 913.6,402.3 913.5,393.7 913.6,385.0 913.5,376.5 913.4,368.0 913.4,359.5 913.3,351.0 913.2,342.5 912.9,334.0" fill="url(#g127)"/><polygon class="l" points="917.8,316.0 917.5,323.5 917.3,331.0 917.2,338.5 917.1,346.0 917.3,354.3 917.3,362.7 917.3,371.0 917.2,379.8 917.2,388.5 917.1,397.2 917.1,406.0 917.2,413.8 917.2,421.5 917.2,429.2 917.2,437.0 919.2,437.0 919.2,429.2 919.2,421.5 919.2,413.8 919.3,406.0 919.3,397.2 919.2,388.5 919.2,379.8 919.1,371.0 919.1,362.7 919.1,354.3 919.3,346.0 919.2,338.5 919.1,331.0 918.9,323.5 918.6,316.0" fill="url(#g128)"/><polygon class="l" points="927.8,306.0 927.5,313.5 927.3,321.0 927.2,328.5 927.1,336.0 927.1,343.0 927.2,350.0 927.2,357.0 927.2,364.0 927.3,372.1 927.2,380.2 927.2,388.3 927.2,396.4 927.3,404.6 927.3,412.7 927.3,420.8 927.3,428.9 927.3,437.0 929.1,437.0 929.1,428.9 929.1,420.8 929.1,412.7 929.1,404.6 929.2,396.4 929.2,388.3 929.2,380.2 929.1,372.1 929.2,364.0 929.2,357.0 929.2,350.0 929.3,343.0 929.3,336.0 929.2,328.5 929.1,321.0 928.9,313.5 928.6,306.0" fill="url(#g129)"/><polygon class="l" points="931.8,295.0 931.8,303.9 931.8,312.8 931.8,321.6 931.8,330.5 931.8,339.4 931.8,348.2 931.8,357.1 931.7,366.0 931.8,374.9 931.8,383.8 931.7,392.6 931.8,401.5 931.9,410.4 931.8,419.2 931.8,428.1 931.8,437.0 933.6,437.0 933.6,428.1 933.6,419.2 933.5,410.4 933.6,401.5 933.7,392.6 933.6,383.8 933.6,374.9 933.7,366.0 933.6,357.1 933.6,348.2 933.6,339.4 933.6,330.5 933.6,321.6 933.6,312.8 933.6,303.9 933.6,295.0" fill="url(#g130)"/><polygon class="l" points="939.5,328.0 939.2,335.0 939.0,342.0 938.9,349.0 938.8,356.0 939.0,363.5 939.0,371.0 939.2,378.5 939.5,386.0 940.3,386.0 940.6,378.5 940.8,371.0 940.8,363.5 941.0,356.0 940.9,349.0 940.8,342.0 940.6,335.0 940.3,328.0" fill="url(#g131)"/><polygon class="l" points="943.2,321.0 942.9,328.4 942.8,335.8 942.7,343.2 942.7,350.6 942.6,358.0 942.6,365.6 942.6,373.2 942.5,380.8 942.6,388.4 942.6,396.0 942.6,404.2 942.6,412.4 942.6,420.6 942.6,428.8 942.6,437.0 944.6,437.0 944.6,428.8 944.6,420.6 944.6,412.4 944.6,404.2 944.6,396.0 944.6,388.4 944.7,380.8 944.6,373.2 944.6,365.6 944.6,358.0 944.5,350.6 944.5,343.2 944.4,335.8 944.3,328.4 944.0,321.0" fill="url(#g132)"/><polygon class="l" points="945.9,295.0 945.9,303.9 945.8,312.8 945.9,321.6 945.9,330.5 945.9,339.4 945.9,348.2 945.8,357.1 945.9,366.0 945.8,374.9 945.9,383.8 946.0,392.6 945.9,401.5 945.9,410.4 945.9,419.2 945.9,428.1 945.9,437.0 947.7,437.0 947.7,428.1 947.7,419.2 947.7,410.4 947.7,401.5 947.6,392.6 947.7,383.8 947.8,374.9 947.7,366.0 947.8,357.1 947.7,348.2 947.7,339.4 947.7,330.5 947.7,321.6 947.8,312.8 947.7,303.9 947.7,295.0" fill="url(#g133)"/><polygon class="l" points="950.4,306.0 950.1,313.5 950.0,321.0 949.8,328.5 949.8,336.0 949.8,343.8 949.8,351.5 949.9,359.2 949.9,367.0 949.8,374.2 949.8,381.5 949.7,388.8 949.8,396.0 949.7,404.2 949.8,412.4 949.8,420.6 949.8,428.8 949.8,437.0 951.8,437.0 951.8,428.8 951.8,420.6 951.8,412.4 951.9,404.2 951.8,396.0 951.9,388.8 951.8,381.5 951.8,374.2 951.7,367.0 951.7,359.2 951.8,351.5 951.8,343.8 951.8,336.0 951.8,328.5 951.6,321.0 951.5,313.5 951.2,306.0" fill="url(#g134)"/><polygon class="l" points="952.6,295.0 952.6,303.9 952.6,312.8 952.6,321.6 952.5,330.5 952.6,339.4 952.6,348.2 952.6,357.1 952.6,366.0 952.5,374.9 952.6,383.8 952.6,392.6 952.6,401.5 952.6,410.4 952.6,419.2 952.5,428.1 952.6,437.0 954.4,437.0 954.5,428.1 954.4,419.2 954.4,410.4 954.4,401.5 954.4,392.6 954.4,383.8 954.5,374.9 954.4,366.0 954.4,357.1 954.4,348.2 954.4,339.4 954.5,330.5 954.4,321.6 954.4,312.8 954.4,303.9 954.4,295.0" fill="url(#g135)"/><polygon class="l" points="956.7,295.0 956.7,303.0 956.8,311.0 956.7,319.0 956.7,327.0 956.7,335.0 956.7,343.0 956.7,351.0 956.7,359.0 956.7,367.0 956.7,374.8 956.6,382.6 956.5,390.4 956.5,398.2 956.5,406.0 956.6,413.8 956.5,421.5 956.5,429.2 956.5,437.0 958.9,437.0 958.9,429.2 958.9,421.5 958.8,413.8 958.9,406.0 958.9,398.2 958.9,390.4 958.8,382.6 958.7,374.8 958.7,367.0 958.7,359.0 958.7,351.0 958.7,343.0 958.7,335.0 958.7,327.0 958.7,319.0 958.6,311.0 958.7,303.0 958.7,295.0" fill="url(#g136)"/><polygon class="l" points="962.5,295.0 962.5,303.9 962.5,312.8 962.5,321.6 962.5,330.5 962.5,339.4 962.4,348.2 962.5,357.1 962.5,366.0 962.5,374.9 962.5,383.8 962.6,392.6 962.5,401.5 962.5,410.4 962.5,419.2 962.5,428.1 962.5,437.0 964.3,437.0 964.3,428.1 964.3,419.2 964.3,410.4 964.3,401.5 964.2,392.6 964.3,383.8 964.3,374.9 964.3,366.0 964.3,357.1 964.4,348.2 964.3,339.4 964.3,330.5 964.3,321.6 964.3,312.8 964.3,303.9 964.3,295.0" fill="url(#g137)"/><polygon class="l" points="968.4,316.0 968.1,324.0 968.0,332.0 967.9,340.0 967.8,348.0 967.8,356.0 967.8,363.2 967.8,370.5 967.7,377.8 967.8,385.0 967.8,393.7 967.7,402.3 967.8,411.0 967.7,419.7 967.7,428.3 967.8,437.0 969.8,437.0 969.9,428.3 969.9,419.7 969.8,411.0 969.9,402.3 969.8,393.7 969.8,385.0 969.9,377.8 969.8,370.5 969.8,363.2 969.8,356.0 969.8,348.0 969.7,340.0 969.6,332.0 969.5,324.0 969.2,316.0" fill="url(#g138)"/><polygon class="l" points="970.6,295.0 970.6,303.9 970.6,312.8 970.6,321.6 970.6,330.5 970.6,339.4 970.5,348.2 970.6,357.1 970.7,366.0 970.6,374.9 970.6,383.8 970.5,392.6 970.6,401.5 970.6,410.4 970.7,419.2 970.5,428.1 970.6,437.0 972.4,437.0 972.5,428.1 972.3,419.2 972.4,410.4 972.4,401.5 972.5,392.6 972.4,383.8 972.4,374.9 972.3,366.0 972.4,357.1 972.5,348.2 972.4,339.4 972.4,330.5 972.4,321.6 972.4,312.8 972.4,303.9 972.4,295.0" fill="url(#g139)"/><polygon class="l" points="976.8,295.0 976.8,302.0 976.8,309.0 976.8,316.0 976.7,324.0 976.7,332.0 976.8,340.0 976.9,346.8 976.8,353.5 976.8,360.2 976.9,367.0 977.1,371.5 977.4,376.0 978.2,376.0 978.5,371.5 978.7,367.0 978.8,360.2 978.8,353.5 978.7,346.8 978.8,340.0 978.9,332.0 978.9,324.0 978.8,316.0 978.8,309.0 978.8,302.0 978.8,295.0" fill="url(#g140)"/><polygon class="l" points="980.5,295.0 980.5,303.9 980.5,312.8 980.5,321.6 980.5,330.5 980.5,339.4 980.5,348.2 980.5,357.1 980.5,366.0 980.5,374.9 980.5,383.8 980.5,392.6 980.4,401.5 980.5,410.4 980.6,419.2 980.5,428.1 980.5,437.0 982.3,437.0 982.3,428.1 982.2,419.2 982.3,410.4 982.4,401.5 982.3,392.6 982.3,383.8 982.3,374.9 982.3,366.0 982.3,357.1 982.3,348.2 982.3,339.4 982.3,330.5 982.3,321.6 982.3,312.8 982.3,303.9 982.3,295.0" fill="url(#g141)"/><polygon class="l" points="985.6,326.0 985.2,333.0 985.1,340.0 985.0,347.0 984.9,354.0 985.0,360.8 985.1,367.5 985.3,374.2 985.6,381.0 986.4,381.0 986.7,374.2 986.9,367.5 987.0,360.8 987.1,354.0 987.0,347.0 986.9,340.0 986.8,333.0 986.4,326.0" fill="url(#g142)"/><polygon class="l" points="988.2,371.0 987.9,379.8 987.7,388.5 987.7,397.2 987.6,406.0 987.6,413.8 987.5,421.5 987.6,429.2 987.6,437.0 989.6,437.0 989.6,429.2 989.7,421.5 989.6,413.8 989.6,406.0 989.5,397.2 989.5,388.5 989.3,379.8 989.0,371.0" fill="url(#g143)"/><polygon class="l" points="991.5,295.0 991.5,302.7 991.5,310.4 991.5,318.1 991.5,325.9 991.5,333.6 991.5,341.3 991.5,349.0 991.6,355.8 991.6,362.5 991.6,369.2 991.6,376.0 991.6,384.7 991.6,393.4 991.7,402.1 991.6,410.9 991.6,419.6 991.6,428.3 991.6,437.0 993.0,437.0 993.0,428.3 993.0,419.6 993.0,410.9 992.9,402.1 993.0,393.4 993.0,384.7 993.0,376.0 993.0,369.2 993.0,362.5 993.0,355.8 993.1,349.0 993.1,341.3 993.1,333.6 993.1,325.9 993.1,318.1 993.1,310.4 993.1,302.7 993.1,295.0" fill="url(#g144)"/><polygon class="l" points="996.9,295.0 996.9,303.9 996.9,312.8 996.9,321.6 996.9,330.5 996.9,339.4 996.9,348.2 996.9,357.1 996.9,366.0 996.9,374.9 996.9,383.8 996.9,392.6 996.9,401.5 996.9,410.4 996.9,419.2 996.9,428.1 996.9,437.0 998.5,437.0 998.5,428.1 998.5,419.2 998.5,410.4 998.5,401.5 998.5,392.6 998.5,383.8 998.5,374.9 998.5,366.0 998.5,357.1 998.5,348.2 998.5,339.4 998.5,330.5 998.5,321.6 998.5,312.8 998.5,303.9 998.5,295.0" fill="url(#g145)"/><polygon class="l" points="1042.1,295.0 1042.1,303.9 1042.1,312.8 1042.1,321.6 1042.1,330.5 1042.1,339.4 1042.1,348.2 1042.1,357.1 1042.1,366.0 1042.1,374.9 1042.1,383.8 1042.1,392.6 1042.1,401.5 1042.1,410.4 1042.1,419.2 1042.0,428.1 1042.1,437.0 1043.9,437.0 1044.0,428.1 1043.9,419.2 1043.9,410.4 1043.9,401.5 1043.9,392.6 1043.9,383.8 1043.9,374.9 1043.9,366.0 1043.9,357.1 1043.9,348.2 1043.9,339.4 1043.9,330.5 1043.9,321.6 1043.9,312.8 1043.9,303.9 1043.9,295.0" fill="url(#g146)"/><polygon class="l" points="1051.9,326.0 1051.6,333.5 1051.4,341.0 1051.3,348.5 1051.2,356.0 1051.3,364.7 1051.3,373.3 1051.3,382.0 1051.4,389.9 1051.3,397.7 1051.4,405.6 1051.3,413.4 1051.4,421.3 1051.3,429.1 1051.4,437.0 1053.2,437.0 1053.3,429.1 1053.2,421.3 1053.3,413.4 1053.2,405.6 1053.3,397.7 1053.2,389.9 1053.3,382.0 1053.3,373.3 1053.3,364.7 1053.4,356.0 1053.3,348.5 1053.2,341.0 1053.0,333.5 1052.7,326.0" fill="url(#g147)"/><polygon class="l" points="1057.3,336.0 1057.0,342.7 1056.9,349.3 1056.7,356.0 1056.8,362.0 1057.0,368.0 1057.3,374.0 1058.1,374.0 1058.4,368.0 1058.6,362.0 1058.7,356.0 1058.5,349.3 1058.4,342.7 1058.1,336.0" fill="url(#g148)"/><polygon class="l" points="1084.7,295.0 1084.7,303.1 1084.7,311.2 1084.7,319.3 1084.7,327.4 1084.7,335.5 1084.7,343.6 1084.7,351.7 1084.6,359.8 1084.7,367.9 1084.6,376.0 1084.7,382.0 1084.9,388.0 1085.3,394.0 1086.1,394.0 1086.5,388.0 1086.7,382.0 1086.8,376.0 1086.7,367.9 1086.8,359.8 1086.7,351.7 1086.7,343.6 1086.7,335.5 1086.7,327.4 1086.7,319.3 1086.7,311.2 1086.7,303.1 1086.7,295.0" fill="url(#g149)"/><polygon class="l" points="1087.4,295.0 1087.4,302.0 1087.3,309.0 1087.4,316.0 1087.4,324.2 1087.3,332.5 1087.4,340.8 1087.4,349.0 1087.6,355.0 1088.0,361.0 1088.8,361.0 1089.2,355.0 1089.4,349.0 1089.4,340.8 1089.5,332.5 1089.4,324.2 1089.4,316.0 1089.5,309.0 1089.4,302.0 1089.4,295.0" fill="url(#g150)"/><polygon class="l" points="1091.1,295.0 1091.1,303.9 1091.0,312.8 1091.1,321.6 1091.1,330.5 1091.1,339.4 1091.0,348.2 1091.1,357.1 1091.0,366.0 1091.1,374.9 1091.1,383.8 1091.1,392.6 1091.1,401.5 1091.1,410.4 1091.1,419.2 1091.0,428.1 1091.1,437.0 1092.9,437.0 1093.0,428.1 1092.9,419.2 1092.9,410.4 1092.9,401.5 1092.9,392.6 1092.9,383.8 1092.9,374.9 1093.0,366.0 1092.9,357.1 1093.0,348.2 1092.9,339.4 1092.9,330.5 1092.9,321.6 1093.0,312.8 1092.9,303.9 1092.9,295.0" fill="url(#g151)"/><polygon class="l" points="1096.6,316.0 1096.3,324.2 1096.1,332.5 1096.0,340.8 1095.9,349.0 1096.0,356.2 1096.1,363.5 1096.3,370.8 1096.6,378.0 1097.4,378.0 1097.7,370.8 1097.9,363.5 1098.0,356.2 1098.1,349.0 1098.0,340.8 1097.9,332.5 1097.7,324.2 1097.4,316.0" fill="url(#g152)"/><polygon class="l" points="1101.8,295.0 1101.8,302.7 1101.8,310.4 1101.8,318.1 1101.7,325.9 1101.7,333.6 1101.7,341.3 1101.8,349.0 1101.9,357.5 1102.4,366.0 1103.2,366.0 1103.7,357.5 1103.8,349.0 1103.9,341.3 1103.9,333.6 1103.9,325.9 1103.8,318.1 1103.8,310.4 1103.8,302.7 1103.8,295.0" fill="url(#g153)"/><polygon class="l" points="1105.9,306.0 1105.6,314.6 1105.5,323.2 1105.3,331.8 1105.3,340.4 1105.2,349.0 1105.3,355.8 1105.2,362.5 1105.3,369.2 1105.3,376.0 1105.5,381.0 1105.9,386.0 1106.9,386.0 1107.3,381.0 1107.5,376.0 1107.5,369.2 1107.6,362.5 1107.5,355.8 1107.6,349.0 1107.5,340.4 1107.5,331.8 1107.3,323.2 1107.2,314.6 1106.9,306.0" fill="url(#g154)"/><polygon class="l" points="1108.6,361.0 1108.3,369.5 1108.2,378.0 1108.1,386.5 1108.1,395.0 1108.0,403.5 1107.9,412.0 1107.9,420.3 1108.0,428.7 1108.0,437.0 1110.0,437.0 1110.0,428.7 1110.1,420.3 1110.1,412.0 1110.0,403.5 1109.9,395.0 1109.9,386.5 1109.8,378.0 1109.7,369.5 1109.4,361.0" fill="url(#g155)"/><polygon class="l" points="1111.6,295.0 1111.6,303.5 1111.6,312.0 1111.6,320.5 1111.5,329.0 1111.6,337.5 1111.5,346.0 1111.6,354.0 1111.5,362.0 1111.6,370.0 1111.6,378.0 1111.6,386.0 1111.6,392.7 1111.8,399.3 1112.2,406.0 1113.2,406.0 1113.6,399.3 1113.8,392.7 1113.8,386.0 1113.8,378.0 1113.8,370.0 1113.9,362.0 1113.8,354.0 1113.9,346.0 1113.8,337.5 1113.9,329.0 1113.8,320.5 1113.8,312.0 1113.8,303.5 1113.8,295.0" fill="url(#g156)"/><polygon class="l" points="1115.0,334.0 1114.7,341.8 1114.7,349.7 1114.5,357.5 1114.4,365.3 1114.4,373.2 1114.3,381.0 1114.3,389.0 1114.3,397.0 1114.4,405.0 1114.3,413.0 1114.4,421.0 1114.4,429.0 1114.4,437.0 1116.6,437.0 1116.6,429.0 1116.6,421.0 1116.7,413.0 1116.6,405.0 1116.7,397.0 1116.7,389.0 1116.7,381.0 1116.6,373.2 1116.6,365.3 1116.5,357.5 1116.3,349.7 1116.3,341.8 1116.0,334.0" fill="url(#g157)"/><polygon class="l" points="1118.1,295.0 1118.1,303.9 1118.1,312.8 1118.0,321.6 1118.1,330.5 1118.1,339.4 1118.1,348.2 1118.0,357.1 1118.0,366.0 1118.1,374.9 1118.1,383.8 1118.1,392.6 1118.1,401.5 1118.2,410.4 1118.1,419.2 1118.1,428.1 1118.1,437.0 1119.9,437.0 1119.9,428.1 1119.9,419.2 1119.8,410.4 1119.9,401.5 1119.9,392.6 1119.9,383.8 1119.9,374.9 1120.0,366.0 1120.0,357.1 1119.9,348.2 1119.9,339.4 1119.9,330.5 1120.0,321.6 1119.9,312.8 1119.9,303.9 1119.9,295.0" fill="url(#g158)"/><polygon class="l" points="1122.2,356.0 1121.9,364.0 1121.7,372.0 1121.6,380.0 1121.5,388.0 1121.6,396.0 1121.8,404.0 1122.2,412.0 1123.2,412.0 1123.6,404.0 1123.8,396.0 1123.9,388.0 1123.8,380.0 1123.7,372.0 1123.5,364.0 1123.2,356.0" fill="url(#g159)"/><polygon class="l" points="1124.4,295.0 1124.4,302.9 1124.3,310.8 1124.4,318.6 1124.4,326.5 1124.4,334.4 1124.4,342.2 1124.4,350.1 1124.4,358.0 1124.4,365.0 1124.5,372.0 1124.4,379.0 1124.4,386.0 1124.4,394.5 1124.5,403.0 1124.4,411.5 1124.5,420.0 1124.4,428.5 1124.4,437.0 1126.4,437.0 1126.4,428.5 1126.3,420.0 1126.4,411.5 1126.3,403.0 1126.4,394.5 1126.4,386.0 1126.4,379.0 1126.3,372.0 1126.4,365.0 1126.4,358.0 1126.4,350.1 1126.4,342.2 1126.4,334.4 1126.4,326.5 1126.4,318.6 1126.5,310.8 1126.4,302.9 1126.4,295.0" fill="url(#g160)"/><polygon class="l" points="1127.4,295.0 1127.4,302.7 1127.4,310.4 1127.4,318.1 1127.4,325.9 1127.4,333.6 1127.3,341.3 1127.3,349.0 1127.3,355.8 1127.3,362.5 1127.2,369.2 1127.3,376.0 1127.2,383.2 1127.3,390.4 1127.3,397.6 1127.3,404.8 1127.3,412.0 1127.3,419.0 1127.3,426.0 1127.4,431.5 1127.3,437.0 1129.5,437.0 1129.4,431.5 1129.5,426.0 1129.5,419.0 1129.5,412.0 1129.5,404.8 1129.5,397.6 1129.5,390.4 1129.6,383.2 1129.5,376.0 1129.6,369.2 1129.5,362.5 1129.5,355.8 1129.5,349.0 1129.5,341.3 1129.4,333.6 1129.4,325.9 1129.4,318.1 1129.4,310.4 1129.4,302.7 1129.4,295.0" fill="url(#g161)"/><polygon class="l" points="1130.1,391.0 1129.7,399.3 1129.6,407.7 1129.4,416.0 1129.5,423.0 1129.4,430.0 1129.4,437.0 1131.6,437.0 1131.6,430.0 1131.5,423.0 1131.6,416.0 1131.4,407.7 1131.3,399.3 1130.9,391.0" fill="url(#g162)"/><polygon class="l" points="1146.5,341.0 1146.2,349.8 1146.1,358.5 1146.0,367.2 1146.0,376.0 1145.9,384.3 1145.9,392.7 1145.9,401.0 1145.8,409.5 1145.9,418.0 1145.9,424.3 1146.0,430.7 1146.0,437.0 1148.0,437.0 1148.0,430.7 1148.1,424.3 1148.1,418.0 1148.2,409.5 1148.1,401.0 1148.1,392.7 1148.1,384.3 1148.0,376.0 1148.0,367.2 1147.9,358.5 1147.8,349.8 1147.5,341.0" fill="url(#g163)"/><polygon class="l" points="1167.1,314.0 1166.7,322.5 1166.6,331.0 1166.6,337.0 1166.6,343.0 1166.5,349.0 1166.5,356.3 1166.5,363.7 1166.4,371.0 1166.4,378.0 1166.4,385.0 1166.5,392.0 1166.5,399.0 1166.5,406.0 1166.5,412.7 1166.5,419.3 1166.6,426.0 1166.6,431.5 1166.6,437.0 1168.4,437.0 1168.4,431.5 1168.4,426.0 1168.5,419.3 1168.5,412.7 1168.5,406.0 1168.5,399.0 1168.5,392.0 1168.6,385.0 1168.6,378.0 1168.6,371.0 1168.5,363.7 1168.5,356.3 1168.5,349.0 1168.4,343.0 1168.4,337.0 1168.4,331.0 1168.3,322.5 1167.9,314.0" fill="url(#g164)"/><polygon class="l" points="1170.1,351.0 1169.9,358.5 1169.8,366.0 1169.7,373.5 1169.6,381.0 1169.6,388.5 1169.6,396.0 1169.5,404.2 1169.5,412.4 1169.5,420.6 1169.6,428.8 1169.6,437.0 1171.4,437.0 1171.4,428.8 1171.5,420.6 1171.5,412.4 1171.5,404.2 1171.4,396.0 1171.4,388.5 1171.4,381.0 1171.3,373.5 1171.2,366.0 1171.1,358.5 1170.9,351.0" fill="url(#g165)"/><polygon class="l" points="1183.6,401.0 1183.2,406.0 1183.0,411.0 1183.2,416.5 1183.6,422.0 1184.4,422.0 1184.8,416.5 1185.0,411.0 1184.8,406.0 1184.4,401.0" fill="url(#g166)"/><polygon class="l" points="1211.1,324.0 1210.8,331.3 1210.6,338.7 1210.5,346.0 1210.5,353.5 1210.4,361.0 1210.4,368.5 1210.4,376.0 1210.4,384.3 1210.5,392.7 1210.5,401.0 1210.6,408.5 1210.6,416.0 1210.7,422.0 1211.1,428.0 1212.1,428.0 1212.5,422.0 1212.6,416.0 1212.6,408.5 1212.7,401.0 1212.7,392.7 1212.8,384.3 1212.8,376.0 1212.8,368.5 1212.8,361.0 1212.7,353.5 1212.7,346.0 1212.6,338.7 1212.4,331.3 1212.1,324.0" fill="url(#g167)"/><polygon class="l" points="1215.9,316.0 1215.6,324.4 1215.4,332.8 1215.4,341.2 1215.4,349.6 1215.2,358.0 1215.3,365.6 1215.3,373.2 1215.2,380.8 1215.3,388.4 1215.3,396.0 1215.3,404.2 1215.2,412.4 1215.2,420.6 1215.2,428.8 1215.3,437.0 1217.3,437.0 1217.4,428.8 1217.4,420.6 1217.4,412.4 1217.3,404.2 1217.3,396.0 1217.3,388.4 1217.4,380.8 1217.3,373.2 1217.3,365.6 1217.4,358.0 1217.2,349.6 1217.2,341.2 1217.2,332.8 1217.0,324.4 1216.7,316.0" fill="url(#g168)"/><polygon class="l" points="1223.1,321.0 1222.8,328.9 1222.8,336.7 1222.7,344.6 1222.6,352.4 1222.5,360.3 1222.5,368.1 1222.5,376.0 1222.4,383.5 1222.5,391.0 1222.5,398.5 1222.5,406.0 1222.7,414.0 1223.1,422.0 1223.9,422.0 1224.3,414.0 1224.5,406.0 1224.5,398.5 1224.5,391.0 1224.6,383.5 1224.5,376.0 1224.5,368.1 1224.5,360.3 1224.4,352.4 1224.3,344.6 1224.2,336.7 1224.2,328.9 1223.9,321.0" fill="url(#g169)"/><polygon class="l" points="1230.6,338.0 1230.3,345.7 1230.2,353.3 1230.0,361.0 1230.1,367.7 1230.3,374.3 1230.6,381.0 1231.4,381.0 1231.7,374.3 1231.9,367.7 1232.0,361.0 1231.8,353.3 1231.7,345.7 1231.4,338.0" fill="url(#g170)"/><polygon class="l" points="1227.9,396.0 1227.6,404.3 1227.5,412.7 1227.4,421.0 1227.3,429.0 1227.4,437.0 1229.2,437.0 1229.3,429.0 1229.2,421.0 1229.1,412.7 1229.0,404.3 1228.7,396.0" fill="url(#g171)"/><polygon class="l" points="989.9,295.0 989.9,302.0 989.9,309.0 989.9,316.0 989.8,322.7 989.8,329.3 989.8,336.0 989.8,342.7 989.8,349.3 989.9,356.0 989.9,363.5 989.8,371.0 989.8,378.5 989.9,386.0 989.9,394.3 990.0,402.7 990.1,411.0 990.2,418.5 990.5,426.0 991.5,426.0 991.8,418.5 991.9,411.0 992.0,402.7 992.1,394.3 992.1,386.0 992.2,378.5 992.2,371.0 992.1,363.5 992.1,356.0 992.2,349.3 992.2,342.7 992.2,336.0 992.2,329.3 992.2,322.7 992.1,316.0 992.1,309.0 992.1,302.0 992.1,295.0" fill="url(#g172)"/><polygon class="l" points="995.2,295.0 995.2,302.0 995.1,309.0 995.0,316.0 995.1,322.7 995.1,329.3 995.1,336.0 995.1,342.7 995.1,349.3 995.1,356.0 995.1,363.5 995.1,371.0 995.2,378.5 995.2,386.0 995.3,394.3 995.3,402.7 995.4,411.0 995.5,418.5 995.8,426.0 996.8,426.0 997.1,418.5 997.2,411.0 997.3,402.7 997.3,394.3 997.4,386.0 997.4,378.5 997.5,371.0 997.5,363.5 997.5,356.0 997.5,349.3 997.5,342.7 997.5,336.0 997.5,329.3 997.5,322.7 997.5,316.0 997.5,309.0 997.4,302.0 997.4,295.0" fill="url(#g173)"/><polygon class="l" points="998.9,295.0 998.9,302.0 998.8,309.0 998.8,316.0 998.8,322.7 998.8,329.3 998.9,336.0 998.9,342.7 998.9,349.3 998.9,356.0 998.9,363.5 998.8,371.0 998.9,378.5 998.9,386.0 999.0,394.3 998.9,402.7 998.9,411.0 999.1,418.5 999.5,426.0 1000.5,426.0 1000.9,418.5 1001.1,411.0 1001.1,402.7 1001.0,394.3 1001.1,386.0 1001.1,378.5 1001.2,371.0 1001.1,363.5 1001.1,356.0 1001.1,349.3 1001.1,342.7 1001.1,336.0 1001.2,329.3 1001.2,322.7 1001.2,316.0 1001.2,309.0 1001.1,302.0 1001.1,295.0" fill="url(#g174)"/><polygon class="l" points="1000.9,295.0 1000.9,302.0 1000.9,309.0 1000.8,316.0 1000.8,322.7 1000.8,329.3 1000.8,336.0 1000.8,342.7 1000.8,349.3 1000.9,356.0 1000.9,363.5 1000.8,371.0 1000.9,378.5 1000.8,386.0 1000.9,394.3 1001.0,402.7 1001.1,411.0 1001.2,418.5 1001.5,426.0 1002.5,426.0 1002.8,418.5 1002.9,411.0 1003.0,402.7 1003.1,394.3 1003.2,386.0 1003.1,378.5 1003.2,371.0 1003.1,363.5 1003.1,356.0 1003.2,349.3 1003.2,342.7 1003.2,336.0 1003.2,329.3 1003.2,322.7 1003.2,316.0 1003.1,309.0 1003.1,302.0 1003.1,295.0" fill="url(#g175)"/><polygon class="l" points="1003.1,295.0 1003.0,302.0 1003.1,309.0 1003.0,316.0 1003.1,322.7 1003.0,329.3 1003.0,336.0 1003.0,342.7 1003.0,349.3 1003.0,356.0 1003.0,363.5 1003.0,371.0 1003.0,378.5 1003.1,386.0 1003.2,394.3 1003.2,402.7 1003.3,411.0 1003.4,418.5 1003.7,426.0 1004.7,426.0 1005.0,418.5 1005.1,411.0 1005.2,402.7 1005.2,394.3 1005.3,386.0 1005.4,378.5 1005.4,371.0 1005.4,363.5 1005.4,356.0 1005.4,349.3 1005.5,342.7 1005.4,336.0 1005.4,329.3 1005.3,322.7 1005.4,316.0 1005.3,309.0 1005.4,302.0 1005.3,295.0" fill="url(#g176)"/><polygon class="l" points="1005.8,295.0 1005.8,302.0 1005.9,309.0 1005.8,316.0 1005.8,322.7 1005.8,329.3 1005.8,336.0 1005.8,342.7 1005.8,349.3 1005.8,356.0 1005.9,363.5 1005.9,371.0 1005.9,378.5 1005.9,386.0 1006.0,394.3 1006.0,402.7 1006.1,411.0 1006.2,418.5 1006.5,426.0 1007.5,426.0 1007.8,418.5 1007.9,411.0 1008.0,402.7 1008.0,394.3 1008.1,386.0 1008.1,378.5 1008.1,371.0 1008.1,363.5 1008.2,356.0 1008.2,349.3 1008.2,342.7 1008.2,336.0 1008.2,329.3 1008.2,322.7 1008.2,316.0 1008.1,309.0 1008.2,302.0 1008.2,295.0" fill="url(#g177)"/><polygon class="l" points="1008.3,295.0 1008.3,302.0 1008.3,309.0 1008.3,316.0 1008.3,322.7 1008.2,329.3 1008.3,336.0 1008.3,342.7 1008.3,349.3 1008.3,356.0 1008.3,363.5 1008.4,371.0 1008.4,378.5 1008.4,386.0 1008.4,394.3 1008.5,402.7 1008.6,411.0 1008.7,418.5 1009.0,426.0 1010.0,426.0 1010.3,418.5 1010.4,411.0 1010.5,402.7 1010.6,394.3 1010.6,386.0 1010.6,378.5 1010.6,371.0 1010.7,363.5 1010.7,356.0 1010.7,349.3 1010.7,342.7 1010.7,336.0 1010.8,329.3 1010.7,322.7 1010.7,316.0 1010.7,309.0 1010.7,302.0 1010.7,295.0" fill="url(#g178)"/><polygon class="l" points="1010.4,295.0 1010.4,302.0 1010.4,309.0 1010.4,316.0 1010.5,322.7 1010.4,329.3 1010.4,336.0 1010.4,342.7 1010.4,349.3 1010.4,356.0 1010.5,363.5 1010.4,371.0 1010.4,378.5 1010.5,386.0 1010.5,394.3 1010.6,402.7 1010.6,411.0 1010.7,418.5 1011.1,426.0 1012.1,426.0 1012.5,418.5 1012.6,411.0 1012.6,402.7 1012.7,394.3 1012.7,386.0 1012.8,378.5 1012.8,371.0 1012.7,363.5 1012.8,356.0 1012.8,349.3 1012.8,342.7 1012.8,336.0 1012.8,329.3 1012.7,322.7 1012.8,316.0 1012.8,309.0 1012.9,302.0 1012.8,295.0" fill="url(#g179)"/><polygon class="l" points="1012.5,295.0 1012.5,302.0 1012.6,309.0 1012.5,316.0 1012.6,322.7 1012.5,329.3 1012.5,336.0 1012.5,342.7 1012.6,349.3 1012.6,356.0 1012.6,363.5 1012.6,371.0 1012.6,378.5 1012.6,386.0 1012.6,394.3 1012.6,402.7 1012.7,411.0 1012.9,418.5 1013.2,426.0 1014.2,426.0 1014.5,418.5 1014.7,411.0 1014.8,402.7 1014.8,394.3 1014.8,386.0 1014.8,378.5 1014.8,371.0 1014.8,363.5 1014.8,356.0 1014.8,349.3 1014.9,342.7 1015.0,336.0 1014.9,329.3 1014.8,322.7 1014.9,316.0 1014.8,309.0 1014.9,302.0 1014.9,295.0" fill="url(#g180)"/><polygon class="l" points="1015.5,295.0 1015.4,302.0 1015.5,309.0 1015.4,316.0 1015.4,322.7 1015.4,329.3 1015.4,336.0 1015.5,342.7 1015.4,349.3 1015.4,356.0 1015.4,363.5 1015.4,371.0 1015.4,378.5 1015.4,386.0 1015.5,394.3 1015.6,402.7 1015.6,411.0 1015.7,418.5 1016.1,426.0 1017.1,426.0 1017.5,418.5 1017.6,411.0 1017.6,402.7 1017.7,394.3 1017.8,386.0 1017.9,378.5 1017.8,371.0 1017.8,363.5 1017.8,356.0 1017.8,349.3 1017.7,342.7 1017.8,336.0 1017.8,329.3 1017.8,322.7 1017.8,316.0 1017.7,309.0 1017.8,302.0 1017.7,295.0" fill="url(#g181)"/><polygon class="l" points="1018.5,295.0 1018.5,302.0 1018.6,309.0 1018.6,316.0 1018.5,322.7 1018.5,329.3 1018.5,336.0 1018.5,342.7 1018.5,349.3 1018.5,356.0 1018.5,363.5 1018.5,371.0 1018.6,378.5 1018.6,386.0 1018.6,394.3 1018.8,402.7 1018.8,411.0 1018.9,418.5 1019.2,426.0 1020.2,426.0 1020.5,418.5 1020.6,411.0 1020.6,402.7 1020.8,394.3 1020.8,386.0 1020.8,378.5 1020.9,371.0 1020.9,363.5 1020.9,356.0 1020.9,349.3 1021.0,342.7 1020.9,336.0 1020.9,329.3 1020.9,322.7 1020.8,316.0 1020.8,309.0 1020.9,302.0 1020.9,295.0" fill="url(#g182)"/><polygon class="l" points="1021.1,295.0 1021.0,302.0 1021.1,309.0 1021.0,316.0 1021.0,322.7 1021.0,329.3 1021.0,336.0 1021.0,342.7 1021.0,349.3 1021.0,356.0 1021.1,363.5 1021.1,371.0 1021.1,378.5 1021.1,386.0 1021.2,394.3 1021.2,402.7 1021.3,411.0 1021.4,418.5 1021.7,426.0 1022.7,426.0 1023.0,418.5 1023.1,411.0 1023.2,402.7 1023.2,394.3 1023.3,386.0 1023.3,378.5 1023.3,371.0 1023.3,363.5 1023.4,356.0 1023.4,349.3 1023.4,342.7 1023.4,336.0 1023.5,329.3 1023.4,322.7 1023.4,316.0 1023.3,309.0 1023.4,302.0 1023.3,295.0" fill="url(#g183)"/><polygon class="l" points="1023.5,295.0 1023.5,302.0 1023.5,309.0 1023.4,316.0 1023.4,322.7 1023.3,329.3 1023.4,336.0 1023.4,342.7 1023.4,349.3 1023.5,356.0 1023.5,363.5 1023.4,371.0 1023.6,378.5 1023.5,386.0 1023.6,394.3 1023.6,402.7 1023.7,411.0 1023.8,418.5 1024.1,426.0 1025.1,426.0 1025.4,418.5 1025.5,411.0 1025.6,402.7 1025.6,394.3 1025.7,386.0 1025.6,378.5 1025.8,371.0 1025.7,363.5 1025.7,356.0 1025.8,349.3 1025.8,342.7 1025.8,336.0 1025.8,329.3 1025.8,322.7 1025.8,316.0 1025.7,309.0 1025.7,302.0 1025.7,295.0" fill="url(#g184)"/><polygon class="l" points="1026.3,295.0 1026.3,302.0 1026.2,309.0 1026.2,316.0 1026.3,322.7 1026.2,329.3 1026.2,336.0 1026.3,342.7 1026.2,349.3 1026.2,356.0 1026.3,363.5 1026.3,371.0 1026.3,378.5 1026.3,386.0 1026.3,394.3 1026.4,402.7 1026.4,411.0 1026.5,418.5 1026.9,426.0 1027.9,426.0 1028.3,418.5 1028.4,411.0 1028.4,402.7 1028.5,394.3 1028.5,386.0 1028.5,378.5 1028.5,371.0 1028.5,363.5 1028.6,356.0 1028.6,349.3 1028.5,342.7 1028.6,336.0 1028.6,329.3 1028.5,322.7 1028.6,316.0 1028.7,309.0 1028.5,302.0 1028.5,295.0" fill="url(#g185)"/><polygon class="l" points="1029.9,295.0 1029.9,302.0 1029.9,309.0 1029.8,316.0 1029.8,322.7 1029.8,329.3 1029.8,336.0 1029.8,342.7 1029.9,349.3 1029.8,356.0 1029.8,363.5 1029.9,371.0 1029.9,378.5 1029.9,386.0 1029.9,394.3 1030.0,402.7 1030.1,411.0 1030.2,418.5 1030.5,426.0 1031.5,426.0 1031.8,418.5 1031.9,411.0 1032.0,402.7 1032.1,394.3 1032.1,386.0 1032.1,378.5 1032.1,371.0 1032.2,363.5 1032.2,356.0 1032.1,349.3 1032.2,342.7 1032.2,336.0 1032.2,329.3 1032.2,322.7 1032.2,316.0 1032.1,309.0 1032.1,302.0 1032.1,295.0" fill="url(#g186)"/><polygon class="l" points="1032.9,295.0 1032.9,302.0 1032.8,309.0 1032.8,316.0 1032.8,322.7 1032.8,329.3 1032.8,336.0 1032.8,342.7 1032.9,349.3 1032.8,356.0 1032.8,363.5 1032.9,371.0 1032.9,378.5 1033.0,386.0 1033.1,394.3 1033.0,402.7 1033.1,411.0 1033.2,418.5 1033.5,426.0 1034.5,426.0 1034.8,418.5 1034.9,411.0 1035.0,402.7 1034.9,394.3 1035.0,386.0 1035.1,378.5 1035.1,371.0 1035.2,363.5 1035.2,356.0 1035.1,349.3 1035.2,342.7 1035.2,336.0 1035.2,329.3 1035.2,322.7 1035.2,316.0 1035.2,309.0 1035.1,302.0 1035.1,295.0" fill="url(#g187)"/><polygon class="l" points="1035.8,295.0 1035.7,302.0 1035.7,309.0 1035.7,316.0 1035.7,322.7 1035.7,329.3 1035.7,336.0 1035.7,342.7 1035.7,349.3 1035.7,356.0 1035.8,363.5 1035.8,371.0 1035.7,378.5 1035.8,386.0 1035.8,394.3 1035.9,402.7 1036.0,411.0 1036.1,418.5 1036.4,426.0 1037.4,426.0 1037.7,418.5 1037.8,411.0 1037.9,402.7 1038.0,394.3 1038.0,386.0 1038.1,378.5 1038.0,371.0 1038.0,363.5 1038.1,356.0 1038.1,349.3 1038.1,342.7 1038.2,336.0 1038.1,329.3 1038.1,322.7 1038.1,316.0 1038.1,309.0 1038.1,302.0 1038.0,295.0" fill="url(#g188)"/><polygon class="l" points="1038.5,295.0 1038.6,302.0 1038.5,309.0 1038.4,316.0 1038.4,322.7 1038.3,329.3 1038.4,336.0 1038.4,342.7 1038.4,349.3 1038.5,356.0 1038.5,363.5 1038.5,371.0 1038.5,378.5 1038.6,386.0 1038.6,394.3 1038.6,402.7 1038.7,411.0 1038.8,418.5 1039.1,426.0 1040.1,426.0 1040.4,418.5 1040.5,411.0 1040.6,402.7 1040.6,394.3 1040.6,386.0 1040.7,378.5 1040.7,371.0 1040.7,363.5 1040.7,356.0 1040.8,349.3 1040.8,342.7 1040.8,336.0 1040.8,329.3 1040.8,322.7 1040.8,316.0 1040.7,309.0 1040.6,302.0 1040.7,295.0" fill="url(#g189)"/><polygon class="l" points="1041.9,295.0 1041.9,302.0 1041.9,309.0 1041.9,316.0 1041.8,322.7 1041.8,329.3 1041.8,336.0 1041.8,342.7 1041.8,349.3 1041.8,356.0 1041.9,363.5 1041.9,371.0 1041.9,378.5 1041.9,386.0 1042.0,394.3 1042.0,402.7 1042.1,411.0 1042.2,418.5 1042.5,426.0 1043.5,426.0 1043.8,418.5 1043.9,411.0 1044.0,402.7 1044.0,394.3 1044.1,386.0 1044.1,378.5 1044.1,371.0 1044.1,363.5 1044.2,356.0 1044.2,349.3 1044.2,342.7 1044.2,336.0 1044.2,329.3 1044.2,322.7 1044.1,316.0 1044.1,309.0 1044.1,302.0 1044.1,295.0" fill="url(#g190)"/><polygon class="l" points="990.8,316.0 990.6,323.5 990.4,331.0 990.3,338.5 990.3,346.0 990.3,354.3 990.3,362.7 990.4,371.0 990.1,378.5 990.1,386.0 990.1,394.3 990.1,402.7 990.1,411.0 990.0,419.7 990.1,428.3 990.1,437.0 992.5,437.0 992.5,428.3 992.5,419.7 992.5,411.0 992.5,402.7 992.5,394.3 992.5,386.0 992.5,378.5 992.2,371.0 992.3,362.7 992.3,354.3 992.3,346.0 992.3,338.5 992.2,331.0 992.0,323.5 991.8,316.0" fill="url(#g191)"/><polygon class="l" points="994.0,316.0 993.7,323.5 993.5,331.0 993.5,338.5 993.4,346.0 993.4,354.3 993.3,362.7 993.3,371.0 993.3,378.5 993.3,386.0 993.3,394.3 993.3,402.7 993.4,411.0 993.3,419.7 993.2,428.3 993.3,437.0 995.7,437.0 995.8,428.3 995.7,419.7 995.6,411.0 995.7,402.7 995.7,394.3 995.7,386.0 995.7,378.5 995.7,371.0 995.7,362.7 995.6,354.3 995.6,346.0 995.5,338.5 995.5,331.0 995.3,323.5 995.0,316.0" fill="url(#g192)"/><polygon class="l" points="999.9,316.0 999.7,323.5 999.6,331.0 999.5,338.5 999.5,346.0 999.4,354.3 999.3,362.7 999.3,371.0 999.2,378.5 999.2,386.0 999.1,394.3 999.2,402.7 999.2,411.0 999.2,419.7 999.2,428.3 999.2,437.0 1001.6,437.0 1001.6,428.3 1001.6,419.7 1001.6,411.0 1001.6,402.7 1001.6,394.3 1001.6,386.0 1001.6,378.5 1001.5,371.0 1001.5,362.7 1001.4,354.3 1001.3,346.0 1001.3,338.5 1001.2,331.0 1001.1,323.5 1000.9,316.0" fill="url(#g193)"/><polygon class="l" points="1003.5,316.0 1003.3,323.5 1003.2,331.0 1003.1,338.5 1003.0,346.0 1002.9,354.3 1002.9,362.7 1002.9,371.0 1002.8,378.5 1002.8,386.0 1002.8,394.3 1002.8,402.7 1002.8,411.0 1002.8,419.7 1002.8,428.3 1002.8,437.0 1005.2,437.0 1005.2,428.3 1005.2,419.7 1005.2,411.0 1005.2,402.7 1005.2,394.3 1005.2,386.0 1005.2,378.5 1005.1,371.0 1005.1,362.7 1005.1,354.3 1005.0,346.0 1004.9,338.5 1004.8,331.0 1004.7,323.5 1004.5,316.0" fill="url(#g194)"/><polygon class="l" points="1006.6,316.0 1006.4,323.5 1006.3,331.0 1006.2,338.5 1006.2,346.0 1006.0,354.3 1006.0,362.7 1005.9,371.0 1005.9,378.5 1005.9,386.0 1006.0,394.3 1006.0,402.7 1005.9,411.0 1005.9,419.7 1005.9,428.3 1005.9,437.0 1008.3,437.0 1008.3,428.3 1008.3,419.7 1008.3,411.0 1008.2,402.7 1008.2,394.3 1008.4,386.0 1008.3,378.5 1008.3,371.0 1008.2,362.7 1008.2,354.3 1008.0,346.0 1008.0,338.5 1007.9,331.0 1007.8,323.5 1007.6,316.0" fill="url(#g195)"/><polygon class="l" points="1009.8,316.0 1009.6,323.5 1009.5,331.0 1009.4,338.5 1009.3,346.0 1009.2,354.3 1009.1,362.7 1009.1,371.0 1009.1,378.5 1009.1,386.0 1009.1,394.3 1009.1,402.7 1009.1,411.0 1009.1,419.7 1009.0,428.3 1009.1,437.0 1011.5,437.0 1011.5,428.3 1011.5,419.7 1011.5,411.0 1011.5,402.7 1011.5,394.3 1011.5,386.0 1011.5,378.5 1011.5,371.0 1011.5,362.7 1011.4,354.3 1011.3,346.0 1011.2,338.5 1011.1,331.0 1011.0,323.5 1010.8,316.0" fill="url(#g196)"/><polygon class="l" points="1013.3,316.0 1013.0,323.5 1012.9,331.0 1012.8,338.5 1012.7,346.0 1012.7,354.3 1012.6,362.7 1012.6,371.0 1012.6,378.5 1012.6,386.0 1012.6,394.3 1012.6,402.7 1012.6,411.0 1012.5,419.7 1012.6,428.3 1012.6,437.0 1015.0,437.0 1015.0,428.3 1015.0,419.7 1015.0,411.0 1015.0,402.7 1015.0,394.3 1015.0,386.0 1015.0,378.5 1015.0,371.0 1015.0,362.7 1014.9,354.3 1014.9,346.0 1014.8,338.5 1014.7,331.0 1014.6,323.5 1014.3,316.0" fill="url(#g197)"/><polygon class="l" points="1016.5,316.0 1016.3,323.5 1016.2,331.0 1016.2,338.5 1016.1,346.0 1016.0,354.3 1015.8,362.7 1015.8,371.0 1015.8,378.5 1015.9,386.0 1015.9,394.3 1015.9,402.7 1015.9,411.0 1015.9,419.7 1015.8,428.3 1015.8,437.0 1018.2,437.0 1018.2,428.3 1018.1,419.7 1018.1,411.0 1018.1,402.7 1018.1,394.3 1018.1,386.0 1018.2,378.5 1018.2,371.0 1018.2,362.7 1018.0,354.3 1017.9,346.0 1017.8,338.5 1017.8,331.0 1017.7,323.5 1017.5,316.0" fill="url(#g198)"/><polygon class="l" points="1019.2,316.0 1018.9,323.5 1018.8,331.0 1018.8,338.5 1018.7,346.0 1018.7,354.3 1018.6,362.7 1018.6,371.0 1018.5,378.5 1018.5,386.0 1018.5,394.3 1018.5,402.7 1018.5,411.0 1018.5,419.7 1018.5,428.3 1018.5,437.0 1020.9,437.0 1021.0,428.3 1020.9,419.7 1020.9,411.0 1020.9,402.7 1020.9,394.3 1020.9,386.0 1020.9,378.5 1020.8,371.0 1020.8,362.7 1020.7,354.3 1020.7,346.0 1020.6,338.5 1020.6,331.0 1020.5,323.5 1020.2,316.0" fill="url(#g199)"/><polygon class="l" points="1021.7,316.0 1021.4,323.5 1021.3,331.0 1021.2,338.5 1021.1,346.0 1021.1,354.3 1021.1,362.7 1021.0,371.0 1021.0,378.5 1021.0,386.0 1021.1,394.3 1021.0,402.7 1021.0,411.0 1021.0,419.7 1021.1,428.3 1021.0,437.0 1023.4,437.0 1023.3,428.3 1023.4,419.7 1023.4,411.0 1023.4,402.7 1023.3,394.3 1023.4,386.0 1023.5,378.5 1023.4,371.0 1023.3,362.7 1023.3,354.3 1023.3,346.0 1023.2,338.5 1023.1,331.0 1023.0,323.5 1022.7,316.0" fill="url(#g200)"/><polygon class="l" points="1025.5,316.0 1025.3,323.5 1025.2,331.0 1025.1,338.5 1025.0,346.0 1025.0,354.3 1024.8,362.7 1024.8,371.0 1024.8,378.5 1024.8,386.0 1024.8,394.3 1024.8,402.7 1024.8,411.0 1024.9,419.7 1024.8,428.3 1024.8,437.0 1027.2,437.0 1027.2,428.3 1027.1,419.7 1027.2,411.0 1027.2,402.7 1027.2,394.3 1027.2,386.0 1027.2,378.5 1027.2,371.0 1027.2,362.7 1027.0,354.3 1027.0,346.0 1026.9,338.5 1026.8,331.0 1026.7,323.5 1026.5,316.0" fill="url(#g201)"/><polygon class="l" points="1029.5,316.0 1029.3,323.5 1029.2,331.0 1029.1,338.5 1029.1,346.0 1029.0,354.3 1028.8,362.7 1028.8,371.0 1028.9,378.5 1028.8,386.0 1028.8,394.3 1028.8,402.7 1028.8,411.0 1028.9,419.7 1028.8,428.3 1028.8,437.0 1031.2,437.0 1031.2,428.3 1031.1,419.7 1031.2,411.0 1031.2,402.7 1031.2,394.3 1031.2,386.0 1031.1,378.5 1031.2,371.0 1031.2,362.7 1031.0,354.3 1030.9,346.0 1030.9,338.5 1030.8,331.0 1030.7,323.5 1030.5,316.0" fill="url(#g202)"/><polygon class="l" points="1033.1,316.0 1032.8,323.5 1032.7,331.0 1032.6,338.5 1032.5,346.0 1032.5,354.3 1032.4,362.7 1032.4,371.0 1032.4,378.5 1032.4,386.0 1032.4,394.3 1032.4,402.7 1032.3,411.0 1032.4,419.7 1032.4,428.3 1032.4,437.0 1034.8,437.0 1034.8,428.3 1034.8,419.7 1034.8,411.0 1034.8,402.7 1034.8,394.3 1034.8,386.0 1034.8,378.5 1034.8,371.0 1034.8,362.7 1034.7,354.3 1034.7,346.0 1034.6,338.5 1034.5,331.0 1034.4,323.5 1034.1,316.0" fill="url(#g203)"/><polygon class="l" points="1036.8,316.0 1036.6,323.5 1036.5,331.0 1036.4,338.5 1036.3,346.0 1036.3,354.3 1036.3,362.7 1036.2,371.0 1036.2,378.5 1036.1,386.0 1036.1,394.3 1036.1,402.7 1036.1,411.0 1036.0,419.7 1036.1,428.3 1036.1,437.0 1038.5,437.0 1038.5,428.3 1038.5,419.7 1038.5,411.0 1038.5,402.7 1038.5,394.3 1038.5,386.0 1038.4,378.5 1038.4,371.0 1038.3,362.7 1038.3,354.3 1038.3,346.0 1038.2,338.5 1038.1,331.0 1038.0,323.5 1037.8,316.0" fill="url(#g204)"/><polygon class="l" points="1040.3,316.0 1040.0,323.5 1040.0,331.0 1039.8,338.5 1039.8,346.0 1039.8,354.3 1039.8,362.7 1039.7,371.0 1039.7,378.5 1039.6,386.0 1039.6,394.3 1039.6,402.7 1039.6,411.0 1039.5,419.7 1039.6,428.3 1039.6,437.0 1042.0,437.0 1042.0,428.3 1042.0,419.7 1042.0,411.0 1042.0,402.7 1042.0,394.3 1042.0,386.0 1041.9,378.5 1041.9,371.0 1041.8,362.7 1041.8,354.3 1041.8,346.0 1041.8,338.5 1041.6,331.0 1041.6,323.5 1041.3,316.0" fill="url(#g205)"/><polygon class="l" points="1043.5,316.0 1043.2,323.5 1043.1,331.0 1043.1,338.5 1043.0,346.0 1042.9,354.3 1042.8,362.7 1042.8,371.0 1042.8,378.5 1042.8,386.0 1042.8,394.3 1042.8,402.7 1042.8,411.0 1042.9,419.7 1042.8,428.3 1042.8,437.0 1045.2,437.0 1045.2,428.3 1045.1,419.7 1045.2,411.0 1045.2,402.7 1045.2,394.3 1045.2,386.0 1045.2,378.5 1045.2,371.0 1045.2,362.7 1045.1,354.3 1045.0,346.0 1044.9,338.5 1044.9,331.0 1044.8,323.5 1044.5,316.0" fill="url(#g206)"/></g>
</g>
<path d="M809.0 435.5h4.5M1283.5 435.5h-4.5M809.0 419.3h4.5M1283.5 419.3h-4.5M809.0 405.0h4.5M1283.5 405.0h-4.5M809.0 392.2h4.5M1283.5 392.2h-4.5M809.0 370.0h4.5M1283.5 370.0h-4.5M809.0 351.3h4.5M1283.5 351.3h-4.5M809.0 335.0h4.5M1283.5 335.0h-4.5M809.0 320.7h4.5M1283.5 320.7h-4.5M809.0 307.9h4.5M1283.5 307.9h-4.5M809.0 296.3h4.5M1283.5 296.3h-4.5M927.6 295.0v4.5M927.6 437.0v-4.5M1046.2 295.0v4.5M1046.2 437.0v-4.5M1164.9 295.0v4.5M1164.9 437.0v-4.5" stroke="#000" stroke-opacity="0.55" stroke-width="1"/>
<text x="804.5" y="444.2" text-anchor="end">7</text>
<text x="804.5" y="428.0" text-anchor="end">8</text>
<text x="804.5" y="413.7" text-anchor="end">9</text>
<text x="804.5" y="400.9" text-anchor="end">10</text>
<text x="804.5" y="378.7" text-anchor="end">12</text>
<text x="804.5" y="360.0" text-anchor="end">14</text>
<text x="804.5" y="343.7" text-anchor="end">16</text>
<text x="804.5" y="329.4" text-anchor="end">18</text>
<text x="804.5" y="316.6" text-anchor="end">20</text>
<text x="804.5" y="305.0" text-anchor="end">22</text>
<text x="809.0" y="462.8" text-anchor="middle">00:00</text>
<text x="927.6" y="462.8" text-anchor="middle">06:00</text>
<text x="1046.2" y="462.8" text-anchor="middle">12:00</text>
<text x="1164.9" y="462.8" text-anchor="middle">18:00</text>
<text x="1283.5" y="462.8" text-anchor="middle">00:00</text>
<text class="b" transform="translate(770.9 366.0) rotate(-90)" text-anchor="middle">freq (mHz)</text>
<rect x="1302.5" y="295.5" width="25.0" height="142.0" fill="url(#cbg)" stroke="#888" stroke-width="0.6"/>
<text x="1331.0" y="447.1">-2</text>
<path d="M1302.5 390.2h3M1327.5 390.2h-3" stroke="#000" stroke-opacity="0.4"/>
<text x="1331.0" y="399.8">0</text>
<path d="M1302.5 342.8h3M1327.5 342.8h-3" stroke="#000" stroke-opacity="0.4"/>
<text x="1331.0" y="352.4">2</text>
<text x="1331.0" y="304.0">4</text>
<text class="b" transform="translate(1371 366.0) rotate(-90)" text-anchor="middle">log<tspan dy="8.5" font-size="15.5">2</tspan><tspan dy="-8.5">(nT</tspan><tspan dy="-9" font-size="15.5">2</tspan><tspan dy="9">/Hz)</tspan></text>
<g filter="url(#jet)"><rect x="809.0" y="531.0" width="474.5" height="142.0" fill="#000"/>
<g style="isolation:isolate"><defs><linearGradient id="g207" x2="0" y2="1"><stop offset="0.000" stop-color="#000000"/><stop offset="0.274" stop-color="#090909"/><stop offset="0.548" stop-color="#151515"/><stop offset="0.774" stop-color="#0b0b0b"/><stop offset="1.000" stop-color="#000000"/></linearGradient><linearGradient id="g208" x2="0" y2="1"><stop offset="0.000" stop-color="#000000"/><stop offset="0.133" stop-color="#090909"/><stop offset="0.265" stop-color="#151515"/><stop offset="0.398" stop-color="#1f1f1f"/><stop offset="0.530" stop-color="#272727"/><stop offset="0.648" stop-color="#1e1e1e"/><stop offset="0.765" stop-color="#1c1c1c"/><stop offset="0.883" stop-color="#262626"/><stop offset="1.000" stop-color="#202020"/></linearGradient><linearGradient id="g209" x2="0" y2="1"><stop offset="0.000" stop-color="#000000"/><stop offset="0.235" stop-color="#0c0c0c"/><stop offset="0.471" stop-color="#1a1a1a"/><stop offset="0.647" stop-color="#0f0f0f"/><stop offset="0.824" stop-color="#0b0b0b"/><stop offset="1.000" stop-color="#000000"/></linearGradient><linearGradient id="g210" x2="0" y2="1"><stop offset="0.000" stop-color="#000000"/><stop offset="0.122" stop-color="#0a0a0a"/><stop offset="0.244" stop-color="#161616"/><stop offset="0.366" stop-color="#1d1d1d"/><stop offset="0.488" stop-color="#292929"/><stop offset="0.610" stop-color="#292929"/><stop offset="0.732" stop-color="#3a3a3a"/><stop offset="0.822" stop-color="#292929"/><stop offset="0.911" stop-color="#161616"/><stop offset="1.000" stop-color="#000000"/></linearGradient><linearGradient id="g211" x2="0" y2="1"><stop offset="0.000" stop-color="#000000"/><stop offset="0.167" stop-color="#0d0d0d"/><stop offset="0.333" stop-color="#1d1d1d"/><stop offset="0.500" stop-color="#272727"/><stop offset="0.667" stop-color="#1c1c1c"/><stop offset="0.833" stop-color="#0b0b0b"/><stop offset="1.000" stop-color="#000000"/></linearGradient><linearGradient id="g212" x2="0" y2="1"><stop offset="0.000" stop-color="#000000"/><stop offset="0.174" stop-color="#131313"/><stop offset="0.347" stop-color="#242424"/><stop offset="0.521" stop-color="#353535"/><stop offset="0.681" stop-color="#202020"/><stop offset="0.840" stop-color="#0e0e0e"/><stop offset="1.000" stop-color="#000000"/></linearGradient><linearGradient id="g213" x2="0" y2="1"><stop offset="0.000" stop-color="#000000"/><stop offset="0.069" stop-color="#0c0c0c"/><stop offset="0.139" stop-color="#151515"/><stop offset="0.208" stop-color="#232323"/><stop offset="0.278" stop-color="#2a2a2a"/><stop offset="0.347" stop-color="#383838"/><stop offset="0.417" stop-color="#3c3c3c"/><stop offset="0.486" stop-color="#484848"/><stop offset="0.556" stop-color="#434343"/><stop offset="0.615" stop-color="#3e3e3e"/><stop offset="0.675" stop-color="#474747"/><stop offset="0.734" stop-color="#3b3b3b"/><stop offset="0.794" stop-color="#3b3b3b"/><stop offset="0.862" stop-color="#444444"/><stop offset="0.931" stop-color="#404040"/><stop offset="1.000" stop-color="#353535"/></linearGradient><linearGradient id="g214" x2="0" y2="1"><stop offset="0.000" stop-color="#000000"/><stop offset="0.083" stop-color="#090909"/><stop offset="0.165" stop-color="#121212"/><stop offset="0.248" stop-color="#1c1c1c"/><stop offset="0.330" stop-color="#333333"/><stop offset="0.413" stop-color="#333333"/><stop offset="0.495" stop-color="#3f3f3f"/><stop offset="0.579" stop-color="#424242"/><stop offset="0.663" stop-color="#383838"/><stop offset="0.748" stop-color="#3d3d3d"/><stop offset="0.832" stop-color="#393939"/><stop offset="0.916" stop-color="#373737"/><stop offset="1.000" stop-color="#3a3a3a"/></linearGradient><linearGradient id="g215" x2="0" y2="1"><stop offset="0.000" stop-color="#000000"/><stop offset="0.138" stop-color="#070707"/><stop offset="0.276" stop-color="#0e0e0e"/><stop offset="0.414" stop-color="#171717"/><stop offset="0.552" stop-color="#1a1a1a"/><stop offset="0.701" stop-color="#131313"/><stop offset="0.851" stop-color="#0a0a0a"/><stop offset="1.000" stop-color="#000000"/></linearGradient><linearGradient id="g216" x2="0" y2="1"><stop offset="0.000" stop-color="#000000"/><stop offset="0.070" stop-color="#050505"/><stop offset="0.141" stop-color="#0b0b0b"/><stop offset="0.211" stop-color="#0f0f0f"/><stop offset="0.281" stop-color="#101010"/><stop offset="0.351" stop-color="#1b1b1b"/><stop offset="0.422" stop-color="#222222"/><stop offset="0.492" stop-color="#272727"/><stop offset="0.562" stop-color="#262626"/><stop offset="0.632" stop-color="#2a2a2a"/><stop offset="0.706" stop-color="#2d2d2d"/><stop offset="0.779" stop-color="#232323"/><stop offset="0.853" stop-color="#2d2d2d"/><stop offset="0.926" stop-color="#282828"/><stop offset="1.000" stop-color="#262626"/></linearGradient><linearGradient id="g217" x2="0" y2="1"><stop offset="0.000" stop-color="#000000"/><stop offset="0.125" stop-color="#040404"/><stop offset="0.250" stop-color="#070707"/><stop offset="0.375" stop-color="#101010"/><stop offset="0.500" stop-color="#121212"/><stop offset="0.625" stop-color="#111111"/><stop offset="0.750" stop-color="#080808"/><stop offset="0.875" stop-color="#050505"/><stop offset="1.000" stop-color="#000000"/></linearGradient><linearGradient id="g218" x2="0" y2="1"><stop offset="0.000" stop-color="#000000"/><stop offset="0.237" stop-color="#0a0a0a"/><stop offset="0.474" stop-color="#151515"/><stop offset="0.737" stop-color="#090909"/><stop offset="1.000" stop-color="#000000"/></linearGradient><linearGradient id="g219" x2="0" y2="1"><stop offset="0.000" stop-color="#151515"/><stop offset="0.500" stop-color="#0a0a0a"/><stop offset="1.000" stop-color="#000000"/></linearGradient><linearGradient id="g220" x2="0" y2="1"><stop offset="0.000" stop-color="#000000"/><stop offset="0.242" stop-color="#0c0c0c"/><stop offset="0.485" stop-color="#151515"/><stop offset="0.742" stop-color="#0c0c0c"/><stop offset="1.000" stop-color="#000000"/></linearGradient><linearGradient id="g221" x2="0" y2="1"><stop offset="0.000" stop-color="#000000"/><stop offset="0.250" stop-color="#070707"/><stop offset="0.500" stop-color="#121212"/><stop offset="0.750" stop-color="#0a0a0a"/><stop offset="1.000" stop-color="#000000"/></linearGradient><linearGradient id="g222" x2="0" y2="1"><stop offset="0.000" stop-color="#000000"/><stop offset="0.085" stop-color="#040404"/><stop offset="0.170" stop-color="#0c0c0c"/><stop offset="0.256" stop-color="#0f0f0f"/><stop offset="0.341" stop-color="#191919"/><stop offset="0.426" stop-color="#202020"/><stop offset="0.511" stop-color="#202020"/><stop offset="0.609" stop-color="#191919"/><stop offset="0.707" stop-color="#171717"/><stop offset="0.805" stop-color="#0c0c0c"/><stop offset="0.902" stop-color="#050505"/><stop offset="1.000" stop-color="#000000"/></linearGradient></defs><polygon class="l" points="935.1,630.0 934.7,638.5 934.5,647.0 934.7,654.0 935.1,661.0 935.9,661.0 936.3,654.0 936.5,647.0 936.3,638.5 935.9,630.0" fill="url(#g207)"/><polygon class="l" points="969.6,607.0 969.3,615.8 969.2,624.5 969.1,633.2 969.0,642.0 969.1,649.8 969.1,657.5 969.0,665.2 969.1,673.0 970.9,673.0 971.0,665.2 970.9,657.5 970.9,649.8 971.0,642.0 970.9,633.2 970.8,624.5 970.7,615.8 970.4,607.0" fill="url(#g208)"/><polygon class="l" points="977.9,556.0 977.5,564.0 977.3,572.0 977.5,578.0 977.5,584.0 977.9,590.0 978.7,590.0 979.1,584.0 979.1,578.0 979.3,572.0 979.1,564.0 978.7,556.0" fill="url(#g209)"/><polygon class="l" points="1005.3,547.0 1005.0,555.7 1004.9,564.3 1004.8,573.0 1004.7,581.7 1004.7,590.3 1004.6,599.0 1004.7,605.3 1004.9,611.7 1005.3,618.0 1006.1,618.0 1006.5,611.7 1006.7,605.3 1006.8,599.0 1006.7,590.3 1006.7,581.7 1006.6,573.0 1006.5,564.3 1006.4,555.7 1006.1,547.0" fill="url(#g210)"/><polygon class="l" points="1008.0,565.0 1007.7,572.3 1007.5,579.7 1007.4,587.0 1007.5,594.3 1007.7,601.7 1008.0,609.0 1008.8,609.0 1009.1,601.7 1009.3,594.3 1009.4,587.0 1009.3,579.7 1009.1,572.3 1008.8,565.0" fill="url(#g211)"/><polygon class="l" points="1018.8,565.0 1018.5,573.3 1018.3,581.7 1018.2,590.0 1018.4,597.7 1018.5,605.3 1018.8,613.0 1019.6,613.0 1019.9,605.3 1020.0,597.7 1020.2,590.0 1020.1,581.7 1019.9,573.3 1019.6,565.0" fill="url(#g212)"/><polygon class="l" points="1023.2,547.0 1022.9,555.8 1022.8,564.5 1022.7,573.2 1022.7,582.0 1022.6,590.8 1022.6,599.5 1022.5,608.2 1022.5,617.0 1022.6,624.5 1022.5,632.0 1022.6,639.5 1022.6,647.0 1022.5,655.7 1022.5,664.3 1022.6,673.0 1024.8,673.0 1024.9,664.3 1024.9,655.7 1024.8,647.0 1024.8,639.5 1024.9,632.0 1024.8,624.5 1024.9,617.0 1024.9,608.2 1024.8,599.5 1024.8,590.8 1024.7,582.0 1024.7,573.2 1024.6,564.5 1024.5,555.8 1024.2,547.0" fill="url(#g213)"/><polygon class="l" points="1026.0,572.0 1025.8,580.3 1025.7,588.7 1025.6,597.0 1025.5,605.3 1025.5,613.7 1025.5,622.0 1025.4,630.5 1025.5,639.0 1025.5,647.5 1025.5,656.0 1025.5,664.5 1025.5,673.0 1027.3,673.0 1027.3,664.5 1027.3,656.0 1027.3,647.5 1027.3,639.0 1027.4,630.5 1027.3,622.0 1027.3,613.7 1027.3,605.3 1027.2,597.0 1027.1,588.7 1027.0,580.3 1026.8,572.0" fill="url(#g214)"/><polygon class="l" points="1035.9,600.0 1035.6,608.0 1035.5,616.0 1035.4,624.0 1035.3,632.0 1035.4,640.7 1035.6,649.3 1035.9,658.0 1036.7,658.0 1037.0,649.3 1037.2,640.7 1037.3,632.0 1037.2,624.0 1037.1,616.0 1037.0,608.0 1036.7,600.0" fill="url(#g215)"/><polygon class="l" points="1071.9,556.0 1071.6,564.2 1071.5,572.4 1071.5,580.7 1071.5,588.9 1071.4,597.1 1071.3,605.3 1071.3,613.6 1071.3,621.8 1071.2,630.0 1071.2,638.6 1071.3,647.2 1071.2,655.8 1071.3,664.4 1071.3,673.0 1073.3,673.0 1073.3,664.4 1073.4,655.8 1073.3,647.2 1073.4,638.6 1073.4,630.0 1073.3,621.8 1073.3,613.6 1073.3,605.3 1073.2,597.1 1073.1,588.9 1073.1,580.7 1073.1,572.4 1073.0,564.2 1072.7,556.0" fill="url(#g216)"/><polygon class="l" points="1082.6,592.0 1082.3,599.5 1082.2,607.0 1082.1,614.5 1082.0,622.0 1082.1,629.5 1082.2,637.0 1082.3,644.5 1082.6,652.0 1083.4,652.0 1083.7,644.5 1083.8,637.0 1083.9,629.5 1084.0,622.0 1083.9,614.5 1083.8,607.0 1083.7,599.5 1083.4,592.0" fill="url(#g217)"/><polygon class="l" points="1088.2,615.0 1087.8,619.5 1087.6,624.0 1087.8,629.0 1088.2,634.0 1089.0,634.0 1089.4,629.0 1089.6,624.0 1089.4,619.5 1089.0,615.0" fill="url(#g218)"/><polygon class="l" points="1112.5,531.0 1112.7,538.5 1113.1,546.0 1113.9,546.0 1114.3,538.5 1114.5,531.0" fill="url(#g219)"/><polygon class="l" points="1114.9,586.0 1114.5,594.0 1114.3,602.0 1114.5,610.5 1114.9,619.0 1115.7,619.0 1116.1,610.5 1116.3,602.0 1116.1,594.0 1115.7,586.0" fill="url(#g220)"/><polygon class="l" points="1124.6,590.0 1124.3,596.0 1124.0,602.0 1124.2,608.0 1124.6,614.0 1125.4,614.0 1125.8,608.0 1126.0,602.0 1125.7,596.0 1125.4,590.0" fill="url(#g221)"/><polygon class="l" points="1202.6,577.0 1202.4,584.5 1202.3,592.0 1202.2,599.5 1202.1,607.0 1202.0,614.5 1202.0,622.0 1202.1,630.6 1202.1,639.2 1202.3,647.8 1202.4,656.4 1202.6,665.0 1203.4,665.0 1203.6,656.4 1203.7,647.8 1203.9,639.2 1203.9,630.6 1204.0,622.0 1204.0,614.5 1203.9,607.0 1203.8,599.5 1203.7,592.0 1203.6,584.5 1203.4,577.0" fill="url(#g222)"/></g>
</g>
<path d="M809.0 671.5h4.5M1283.5 671.5h-4.5M809.0 655.3h4.5M1283.5 655.3h-4.5M809.0 641.0h4.5M1283.5 641.0h-4.5M809.0 628.2h4.5M1283.5 628.2h-4.5M809.0 606.0h4.5M1283.5 606.0h-4.5M809.0 587.3h4.5M1283.5 587.3h-4.5M809.0 571.0h4.5M1283.5 571.0h-4.5M809.0 556.7h4.5M1283.5 556.7h-4.5M809.0 543.9h4.5M1283.5 543.9h-4.5M809.0 532.3h4.5M1283.5 532.3h-4.5M927.6 531.0v4.5M927.6 673.0v-4.5M1046.2 531.0v4.5M1046.2 673.0v-4.5M1164.9 531.0v4.5M1164.9 673.0v-4.5" stroke="#000" stroke-opacity="0.55" stroke-width="1"/>
<text x="804.5" y="680.2" text-anchor="end">7</text>
<text x="804.5" y="664.0" text-anchor="end">8</text>
<text x="804.5" y="649.7" text-anchor="end">9</text>
<text x="804.5" y="636.9" text-anchor="end">10</text>
<text x="804.5" y="614.7" text-anchor="end">12</text>
<text x="804.5" y="596.0" text-anchor="end">14</text>
<text x="804.5" y="579.7" text-anchor="end">16</text>
<text x="804.5" y="565.4" text-anchor="end">18</text>
<text x="804.5" y="552.6" text-anchor="end">20</text>
<text x="804.5" y="541.0" text-anchor="end">22</text>
<text x="809.0" y="698.8" text-anchor="middle">00:00</text>
<text x="927.6" y="698.8" text-anchor="middle">06:00</text>
<text x="1046.2" y="698.8" text-anchor="middle">12:00</text>
<text x="1164.9" y="698.8" text-anchor="middle">18:00</text>
<text x="1283.5" y="698.8" text-anchor="middle">00:00</text>
<text class="b" transform="translate(770.9 602.0) rotate(-90)" text-anchor="middle">freq (mHz)</text>
<rect x="1302.5" y="531.5" width="25.0" height="142.0" fill="url(#cbg)" stroke="#888" stroke-width="0.6"/>
<text x="1331.0" y="683.1">-2</text>
<path d="M1302.5 626.2h3M1327.5 626.2h-3" stroke="#000" stroke-opacity="0.4"/>
<text x="1331.0" y="635.8">0</text>
<path d="M1302.5 578.8h3M1327.5 578.8h-3" stroke="#000" stroke-opacity="0.4"/>
<text x="1331.0" y="588.4">2</text>
<text x="1331.0" y="540.0">4</text>
<text class="b" transform="translate(1371 602.0) rotate(-90)" text-anchor="middle">log<tspan dy="8.5" font-size="15.5">2</tspan><tspan dy="-8.5">(nT</tspan><tspan dy="-9" font-size="15.5">2</tspan><tspan dy="9">/Hz)</tspan></text>
<path d="M184.50 132.8 184.70 130.0 184.90 133.7 185.10 131.1 185.30 133.1 185.50 130.9 185.70 133.4 185.90 130.3 186.10 132.7 186.30 131.3 186.50 133.9 186.70 131.0 186.90 133.7 187.10 131.3 187.30 133.1 187.50 130.5 187.70 132.8 187.90 129.3 188.10 134.3 188.30 131.3 188.50 132.7 188.70 130.8 188.90 134.6 189.10 131.0 189.30 132.8 189.50 131.0 189.70 132.7 189.90 131.2 190.10 133.1 190.30 130.9 190.50 132.8 190.70 131.2 190.90 132.8 191.10 130.9 191.30 132.9 191.50 131.3 191.70 133.9 191.90 130.8 192.10 133.4 192.30 131.2 192.50 134.8 192.70 130.0 192.90 132.7 193.10 131.1 193.30 133.5 193.50 130.5 193.70 134.6 193.90 131.0 194.10 133.9 194.30 130.6 194.50 132.9 194.70 130.7 194.90 134.1 195.10 130.0 195.30 133.1 195.50 130.7 195.70 132.7 195.90 131.2 196.10 133.8 196.30 131.0 196.50 132.8 196.70 130.8 196.90 133.5 197.10 130.6 197.30 133.0 197.50 130.9 197.70 133.1 197.90 130.3 198.10 133.2 198.30 131.0 198.50 133.1 198.70 131.3 198.90 132.7 199.10 130.5 199.30 134.8 199.50 130.7 199.70 133.0 199.90 131.2 200.10 133.1 200.30 129.2 200.50 133.7 200.70 130.8 200.90 134.0 201.10 131.2 201.30 133.2 201.50 129.2 201.70 133.3 201.90 130.9 202.10 132.9 202.30 130.8 202.50 134.8 202.70 131.3 202.90 133.7 203.10 130.1 203.30 134.2 203.50 130.4 203.70 133.8 203.90 130.8 204.10 133.2 204.30 131.0 204.50 132.7 204.70 129.9 204.90 133.2 205.10 131.2 205.30 133.1 205.50 130.9 205.70 133.0 205.90 131.1 206.10 133.2 206.30 130.7 206.50 133.3 206.70 130.9 206.90 132.7 207.10 131.2 207.30 132.8 207.50 130.7 207.70 134.0 207.90 130.2 208.10 133.8 208.30 130.2 208.50 132.9 208.70 130.1 208.90 133.4 209.10 131.3 209.30 132.7 209.50 131.3 209.70 133.6 209.90 131.1 210.10 132.7 210.30 130.7 210.50 132.9 210.70 131.3 210.90 132.8 211.10 130.8 211.30 132.8 211.50 131.1 211.70 133.5 211.90 130.9 212.10 132.9 212.30 130.9 212.50 132.7 212.70 131.0 212.90 133.0 213.10 131.2 213.30 132.7 213.50 129.7 213.70 133.1 213.90 131.2 214.10 133.3 214.30 130.2 214.50 132.7 214.70 131.3 214.90 132.8 215.10 130.5 215.30 132.8 215.50 130.5 215.70 133.4 215.90 130.8 216.10 132.8 216.30 129.2 216.50 133.8 216.70 130.8 216.90 132.8 217.10 130.6 217.30 133.0 217.50 130.7 217.70 132.9 217.90 130.7 218.10 132.7 218.30 131.1 218.50 134.8 218.70 129.9 218.90 132.9 219.10 130.0 219.30 132.9 219.50 129.4 219.70 133.6 219.90 131.0 220.10 132.9 220.30 131.3 220.50 134.1 220.70 131.3 220.90 133.8 221.10 129.2 221.30 133.2 221.50 131.2 221.70 134.1 221.90 129.2 222.10 133.5 222.30 130.8 222.50 133.1 222.70 130.9 222.90 133.0 223.10 130.2 223.30 133.3 223.50 131.0 223.70 133.0 223.90 130.0 224.10 133.3 224.30 130.3 224.50 133.4 224.70 128.8 224.90 135.6 225.10 130.9 225.30 133.3 225.50 130.4 225.70 136.8 225.90 128.9 226.10 133.7 226.30 130.5 226.50 134.6 226.70 128.5 226.90 136.6 227.10 130.3 227.30 135.9 227.50 129.4 227.70 134.0 227.90 127.0 228.10 133.5 228.30 129.2 228.50 133.3 228.70 130.6 228.90 136.2 229.10 130.5 229.30 135.0 229.50 129.7 229.70 135.5 229.90 130.3 230.10 133.7 230.30 130.4 230.50 135.7 230.70 129.7 230.90 136.9 231.10 128.1 231.30 133.4 231.50 129.8 231.70 133.3 231.90 130.8 232.10 133.3 232.30 128.3 232.50 135.1 232.70 128.6 232.90 133.7 233.10 129.6 233.30 135.1 233.50 130.2 233.70 134.2 233.90 130.5 234.10 133.3 234.30 130.4 234.50 136.0 234.70 129.8 234.90 136.4 235.10 130.1 235.30 133.6 235.50 128.9 235.70 135.4 235.90 130.8 236.10 134.6 236.30 130.7 236.50 133.3 236.70 128.1 236.90 133.2 237.10 130.5 237.30 136.9 237.50 130.1 237.70 133.3 237.90 130.6 238.10 133.5 238.30 129.1 238.50 133.3 238.70 127.8 238.90 133.8 239.10 127.0 239.30 136.2 239.50 130.4 239.70 133.5 239.90 130.0 240.10 133.3 240.30 129.5 240.50 133.2 240.70 130.8 240.90 136.9 241.10 130.4 241.30 134.3 241.50 130.1 241.70 133.6 241.90 130.7 242.10 136.3 242.30 127.0 242.50 136.9 242.70 130.7 242.90 133.5 243.10 129.6 243.30 136.9 243.50 129.8 243.70 134.6 243.90 129.5 244.10 133.5 244.30 129.8 244.50 133.6 244.70 130.5 244.90 133.3 245.10 130.4 245.30 136.9 245.50 130.1 245.70 134.5 245.90 129.5 246.10 136.7 246.30 130.2 246.50 133.6 246.70 130.3 246.90 133.6 247.10 128.5 247.30 136.0 247.50 130.4 247.70 133.7 247.90 129.8 248.10 134.3 248.30 129.7 248.50 133.5 248.70 130.8 248.90 133.5 249.10 130.7 249.30 134.2 249.50 130.7 249.70 133.3 249.90 129.6 250.10 133.6 250.30 128.9 250.50 133.9 250.70 128.5 250.90 133.3 251.10 130.1 251.30 134.8 251.50 130.9 251.70 136.2 251.90 130.8 252.10 134.5 252.30 128.0 252.50 134.6 252.70 130.7 252.90 133.0 253.10 130.5 253.30 135.1 253.50 130.9 253.70 134.8 253.90 131.1 254.10 134.8 254.30 131.2 254.50 133.1 254.70 129.3 254.90 134.2 255.10 129.2 255.30 134.3 255.50 130.1 255.70 133.8 255.90 131.1 256.10 133.3 256.30 131.1 256.50 133.8 256.70 130.3 256.90 133.0 257.10 131.2 257.30 135.3 257.50 129.8 257.70 133.5 257.90 130.6 258.10 134.4 258.30 130.7 258.50 133.2 258.70 130.9 258.90 133.0 259.10 131.2 259.30 133.7 259.50 130.8 259.70 133.5 259.90 131.2 260.10 133.2 260.30 131.1 260.50 132.9 260.70 131.0 260.90 134.3 261.10 130.8 261.30 133.2 261.50 130.4 261.70 133.0 261.90 131.2 262.10 133.4 262.30 130.6 262.50 133.7 262.70 130.7 262.90 133.8 263.10 130.1 263.30 133.0 263.50 130.6 263.70 133.4 263.90 131.0 264.10 133.2 264.30 130.5 264.50 134.8 264.70 129.1 264.90 133.1 265.10 130.3 265.30 132.8 265.50 131.1 265.70 133.4 265.90 129.4 266.10 132.9 266.30 130.0 266.50 134.6 266.70 130.9 266.90 133.8 267.10 129.6 267.30 133.2 267.50 130.2 267.70 133.9 267.90 130.4 268.10 134.5 268.30 129.2 268.50 135.4 268.70 130.5 268.90 133.0 269.10 130.9 269.30 133.0 269.50 130.5 269.70 134.0 269.90 131.2 270.10 133.8 270.30 130.1 270.50 133.2 270.70 130.6 270.90 133.0 271.10 130.1 271.30 132.8 271.50 128.6 271.70 134.2 271.90 130.3 272.10 133.1 272.30 129.1 272.50 135.4 272.70 131.1 272.90 134.1 273.10 129.6 273.30 133.7 273.50 130.1 273.70 133.3 273.90 128.9 274.10 135.4 274.30 130.8 274.50 134.2 274.70 130.7 274.90 133.0 275.10 130.8 275.30 132.9 275.50 129.1 275.70 135.4 275.90 131.1 276.10 133.6 276.30 130.7 276.50 132.9 276.70 130.9 276.90 133.1 277.10 130.0 277.30 132.8 277.50 131.0 277.70 133.3 277.90 131.2 278.10 133.7 278.30 130.4 278.50 134.4 278.70 131.0 278.90 133.1 279.10 130.5 279.30 133.1 279.50 130.4 279.70 133.1 279.90 130.2 280.10 134.2 280.30 129.7 280.50 135.5 280.70 130.5 280.90 133.4 281.10 129.5 281.30 134.1 281.50 130.4 281.70 133.2 281.90 130.9 282.10 132.9 282.30 129.7 282.50 132.9 282.70 130.0 282.90 133.5 283.10 128.5 283.30 134.1 283.50 128.5 283.70 133.0 283.90 130.6 284.10 133.6 284.30 130.8 284.50 133.4 284.70 130.8 284.90 133.5 285.10 131.2 285.30 133.3 285.50 130.6 285.70 133.1 285.90 130.7 286.10 134.2 286.30 130.2 286.50 133.4 286.70 130.2 286.90 133.2 287.10 131.0 287.30 132.8 287.50 130.9 287.70 133.6 287.90 129.3 288.10 134.4 288.30 130.5 288.50 135.5 288.70 130.6 288.90 134.4 289.10 130.7 289.30 134.0 289.50 128.5 289.70 133.2 289.90 131.0 290.10 133.7 290.30 130.5 290.50 133.2 290.70 131.2 290.90 133.3 291.10 130.7 291.30 133.3 291.50 129.4 291.70 133.6 291.90 130.0 292.10 134.9 292.30 129.9 292.50 133.4 292.70 129.9 292.90 133.8 293.10 130.2 293.30 133.7 293.50 130.7 293.70 133.7 293.90 130.3 294.10 135.3 294.30 129.8 294.50 134.5 294.70 129.8 294.90 134.4 295.10 130.3 295.30 133.2 295.50 130.9 295.70 134.0 295.90 129.3 296.10 133.5 296.30 131.0 296.50 134.5 296.70 130.6 296.90 133.4 297.10 131.1 297.30 133.5 297.50 129.9 297.70 133.3 297.90 130.8 298.10 133.8 298.30 131.1 298.50 133.5 298.70 128.5 298.90 133.9 299.10 130.7 299.30 133.9 299.50 130.3 299.70 133.1 299.90 130.9 300.10 134.8 300.30 130.9 300.50 132.9 300.70 129.5 300.90 133.5 301.10 130.7 301.30 133.5 301.50 129.9 301.70 133.0 301.90 130.2 302.10 134.0 302.30 129.6 302.50 133.2 302.70 130.3 302.90 133.1 303.10 130.4 303.30 133.0 303.50 129.7 303.70 134.8 303.90 130.7 304.10 133.1 304.30 128.3 304.50 134.0 304.70 129.4 304.90 132.9 305.10 128.9 305.30 133.8 305.50 130.7 305.70 133.4 305.90 129.7 306.10 134.4 306.30 130.9 306.50 133.8 306.70 130.9 306.90 135.8 307.10 130.5 307.30 135.3 307.50 129.8 307.70 133.8 307.90 130.8 308.10 133.6 308.30 130.9 308.50 133.1 308.70 129.8 308.90 133.4 309.10 129.7 309.30 133.2 309.50 129.8 309.70 134.2 309.90 130.7 310.10 133.0 310.30 130.6 310.50 133.6 310.70 131.0 310.90 133.1 311.10 131.0 311.30 133.9 311.50 128.8 311.70 133.2 311.90 131.0 312.10 134.2 312.30 129.3 312.50 136.0 312.70 130.1 312.90 133.4 313.10 129.2 313.30 133.1 313.50 129.8 313.70 133.1 313.90 130.5 314.10 133.7 314.30 130.5 314.50 133.2 314.70 130.8 314.90 134.8 315.10 130.4 315.30 133.9 315.50 130.8 315.70 134.3 315.90 130.6 316.10 133.9 316.30 128.5 316.50 136.1 316.70 131.0 316.90 134.7 317.10 129.0 317.30 133.4 317.50 130.5 317.70 133.9 317.90 128.3 318.10 133.5 318.30 128.7 318.50 134.5 318.70 130.8 318.90 135.6 319.10 131.0 319.30 133.2 319.50 129.8 319.70 133.1 319.90 130.5 320.10 133.2 320.30 130.3 320.50 135.0 320.70 128.4 320.90 133.1 321.10 130.9 321.30 135.0 321.50 130.9 321.70 133.4 321.90 130.8 322.10 133.1 322.30 130.9 322.50 134.2 322.70 129.5 322.90 134.3 323.10 128.9 323.30 134.2 323.50 130.4 323.70 134.2 323.90 127.6 324.10 134.2 324.30 130.6 324.50 133.1 324.70 127.9 324.90 134.1 325.10 130.5 325.30 134.1 325.50 130.0 325.70 133.9 325.90 130.9 326.10 133.6 326.30 130.3 326.50 133.3 326.70 128.5 326.90 133.7 327.10 129.7 327.30 134.5 327.50 129.4 327.70 134.5 327.90 129.3 328.10 133.4 328.30 127.5 328.50 133.3 328.70 128.0 328.90 135.3 329.10 128.7 329.30 133.1 329.50 130.8 329.70 135.0 329.90 130.2 330.10 133.6 330.30 127.4 330.50 133.1 330.70 130.0 330.90 133.8 331.10 130.7 331.30 133.7 331.50 129.4 331.70 135.6 331.90 130.9 332.10 134.0 332.30 130.8 332.50 135.0 332.70 130.8 332.90 133.2 333.10 130.3 333.30 134.7 333.50 130.4 333.70 133.3 333.90 129.0 334.10 135.1 334.30 128.5 334.50 133.6 334.70 130.2 334.90 133.5 335.10 129.9 335.30 133.6 335.50 130.4 335.70 135.0 335.90 127.2 336.10 134.2 336.30 130.7 336.50 134.4 336.70 130.1 336.90 136.8 337.10 129.3 337.30 135.4 337.50 129.4 337.70 134.1 337.90 128.0 338.10 135.4 338.30 130.4 338.50 133.4 338.70 130.3 338.90 134.1 339.10 130.7 339.30 133.7 339.50 129.8 339.70 133.2 339.90 128.7 340.10 134.5 340.30 130.3 340.50 133.6 340.70 130.3 340.90 133.7 341.10 129.0 341.30 134.1 341.50 129.8 341.70 133.4 341.90 127.5 342.10 133.8 342.30 130.2 342.50 133.3 342.70 126.7 342.90 134.1 343.10 127.4 343.30 136.8 343.50 126.6 343.70 135.6 343.90 127.1 344.10 136.8 344.30 128.5 344.50 133.5 344.70 129.7 344.90 134.5 345.10 126.4 345.30 135.5 345.50 128.9 345.70 135.3 345.90 130.0 346.10 137.5 346.30 129.2 346.50 134.1 346.70 129.7 346.90 137.8 347.10 129.5 347.30 133.7 347.50 130.4 347.70 135.1 347.90 129.4 348.10 137.0 348.30 130.3 348.50 134.2 348.70 128.6 348.90 133.5 349.10 130.4 349.30 134.7 349.50 130.1 349.70 133.6 349.90 130.1 350.10 135.0 350.30 129.4 350.50 133.6 350.70 130.4 350.90 136.5 351.10 128.9 351.30 133.8 351.50 127.3 351.70 133.5 351.90 129.7 352.10 136.6 352.30 128.5 352.50 134.1 352.70 126.8 352.90 135.0 353.10 127.1 353.30 137.3 353.50 129.5 353.70 135.5 353.90 129.1 354.10 138.5 354.30 127.7 354.50 135.8 354.70 127.5 354.90 138.7 355.10 129.9 355.30 134.0 355.50 128.0 355.70 136.2 355.90 129.1 356.10 134.8 356.30 129.4 356.50 137.5 356.70 127.5 356.90 135.3 357.10 130.2 357.30 137.2 357.50 129.2 357.70 134.1 357.90 129.6 358.10 136.0 358.30 130.2 358.50 134.0 358.70 129.5 358.90 138.0 359.10 127.5 359.30 139.7 359.50 128.6 359.70 135.5 359.90 128.5 360.10 135.4 360.30 128.5 360.50 137.4 360.70 123.9 360.90 135.0 361.10 128.0 361.30 134.7 361.50 129.3 361.70 135.5 361.90 128.1 362.10 135.7 362.30 123.5 362.50 134.4 362.70 127.8 362.90 140.6 363.10 127.0 363.30 135.9 363.50 128.9 363.70 135.2 363.90 123.7 364.10 139.2 364.30 127.4 364.50 139.4 364.70 123.9 364.90 138.5 365.10 128.7 365.30 135.6 365.50 126.1 365.70 135.3 365.90 126.5 366.10 135.8 366.30 128.8 366.50 135.7 366.70 129.4 366.90 135.3 367.10 128.4 367.30 134.3 367.50 129.2 367.70 135.1 367.90 124.8 368.10 136.6 368.30 128.7 368.50 142.2 368.70 128.8 368.90 136.4 369.10 125.9 369.30 137.7 369.50 127.9 369.70 138.7 369.90 127.5 370.10 138.9 370.30 127.9 370.50 144.8 370.70 126.4 370.90 135.4 371.10 129.2 371.30 145.3 371.50 128.8 371.70 135.3 371.90 128.7 372.10 137.6 372.30 121.0 372.50 137.2 372.70 125.7 372.90 142.0 373.10 129.0 373.30 139.0 373.50 120.4 373.70 138.5 373.90 126.9 374.10 137.2 374.30 120.2 374.50 147.4 374.70 128.8 374.90 138.9 375.10 127.3 375.30 140.3 375.50 128.6 375.70 137.1 375.90 127.9 376.10 138.6 376.30 123.7 376.50 144.3 376.70 123.6 376.90 140.9 377.10 128.5 377.30 138.3 377.50 124.9 377.70 137.7 377.90 126.2 378.10 146.9 378.30 128.2 378.50 145.1 378.70 128.2 378.90 138.6 379.10 119.8 379.30 137.5 379.50 125.8 379.70 139.1 379.90 120.1 380.10 151.1 380.30 127.1 380.50 139.8 380.70 119.8 380.90 140.4 381.10 127.5 381.30 143.5 381.50 126.8 381.70 139.8 381.90 128.4 382.10 151.4 382.30 124.3 382.50 149.4 382.70 116.7 382.90 138.1 383.10 125.4 383.30 139.5 383.50 122.8 383.70 145.8 383.90 127.3 384.10 138.2 384.30 123.5 384.50 139.3 384.70 127.8 384.90 137.7 385.10 125.1 385.30 141.3 385.50 116.5 385.70 140.5 385.90 124.6 386.10 137.5 386.30 126.2 386.50 138.4 386.70 123.6 386.90 138.3 387.10 127.3 387.30 139.1 387.50 125.7 387.70 138.8 387.90 124.5 388.10 137.8 388.30 119.7 388.50 142.8 388.70 125.2 388.90 137.1 389.10 126.7 389.30 142.8 389.50 124.0 389.70 145.4 389.90 119.2 390.10 138.8 390.30 125.4 390.50 138.9 390.70 127.6 390.90 137.6 391.10 127.0 391.30 137.3 391.50 125.0 391.70 143.2 391.90 124.8 392.10 142.9 392.30 127.1 392.50 138.0 392.70 124.7 392.90 148.2 393.10 125.9 393.30 136.9 393.50 128.1 393.70 138.8 393.90 124.2 394.10 137.4 394.30 127.1 394.50 143.0 394.70 115.6 394.90 139.2 395.10 124.3 395.30 140.8 395.50 128.0 395.70 139.1 395.90 127.5 396.10 138.5 396.30 122.0 396.50 143.0 396.70 128.0 396.90 137.3 397.10 122.8 397.30 137.5 397.50 126.6 397.70 138.5 397.90 128.0 398.10 137.0 398.30 127.6 398.50 139.5 398.70 117.0 398.90 142.2 399.10 127.0 399.30 142.8 399.50 126.9 399.70 140.6 399.90 126.6 400.10 152.3 400.30 126.4 400.50 145.3 400.70 124.0 400.90 146.4 401.10 124.4 401.30 147.4 401.50 126.1 401.70 142.7 401.90 124.3 402.10 140.7 402.30 124.9 402.50 140.7 402.70 126.2 402.90 148.5 403.10 124.2 403.30 140.9 403.50 128.0 403.70 140.4 403.90 127.5 404.10 138.0 404.30 126.0 404.50 140.8 404.70 127.1 404.90 138.3 405.10 125.3 405.30 140.0 405.50 126.2 405.70 137.3 405.90 126.4 406.10 142.1 406.30 125.2 406.50 140.7 406.70 121.0 406.90 143.2 407.10 123.8 407.30 136.8 407.50 126.9 407.70 142.4 407.90 127.7 408.10 148.9 408.30 127.8 408.50 147.0 408.70 127.5 408.90 145.6 409.10 121.2 409.30 138.5 409.50 120.2 409.70 137.3 409.90 121.5 410.10 138.7 410.30 126.4 410.50 136.9 410.70 125.3 410.90 137.7 411.10 124.7 411.30 143.5 411.50 125.4 411.70 136.2 411.90 118.2 412.10 147.3 412.30 125.2 412.50 138.2 412.70 126.0 412.90 145.3 413.10 126.8 413.30 142.4 413.50 125.9 413.70 138.2 413.90 120.0 414.10 138.0 414.30 126.0 414.50 136.0 414.70 127.0 414.90 135.9 415.10 125.2 415.30 135.7 415.50 129.0 415.70 136.1 415.90 128.7 416.10 138.3 416.30 127.9 416.50 136.8 416.70 120.3 416.90 144.5 417.10 126.2 417.30 141.4 417.50 124.4 417.70 136.4 417.90 124.7 418.10 136.3 418.30 127.1 418.50 136.9 418.70 128.9 418.90 140.5 419.10 122.6 419.30 136.5 419.50 123.7 419.70 136.6 419.90 126.6 420.10 145.3 420.30 125.6 420.50 135.3 420.70 128.1 420.90 136.6 421.10 128.7 421.30 140.6 421.50 128.2 421.70 138.9 421.90 127.1 422.10 137.3 422.30 129.6 422.50 138.4 422.70 124.3 422.90 135.5 423.10 127.3 423.30 136.9 423.50 128.8 423.70 138.5 423.90 122.8 424.10 134.8 424.30 124.6 424.50 136.1 424.70 125.8 424.90 135.2 425.10 126.4 425.30 134.6 425.50 128.6 425.70 141.8 425.90 127.0 426.10 138.1 426.30 128.2 426.50 135.8 426.70 128.1 426.90 137.8 427.10 126.8 427.30 134.7 427.50 128.5 427.70 136.0 427.90 127.9 428.10 140.1 428.30 125.8 428.50 134.4 428.70 128.9 428.90 134.3 429.10 129.9 429.30 134.2 429.50 129.6 429.70 137.1 429.90 127.7 430.10 137.3 430.30 129.3 430.50 134.3 430.70 123.8 430.90 137.6 431.10 123.9 431.30 134.0 431.50 129.0 431.70 136.0 431.90 127.3 432.10 139.0 432.30 128.5 432.50 135.0 432.70 130.1 432.90 137.3 433.10 123.9 433.30 138.8 433.50 127.8 433.70 134.8 433.90 129.5 434.10 137.0 434.30 124.4 434.50 140.1 434.70 129.7 434.90 135.7 435.10 128.6 435.30 135.1 435.50 126.8 435.70 139.5 435.90 127.5 436.10 136.4 436.30 127.7 436.50 136.1 436.70 128.5 436.90 134.5 437.10 127.0 437.30 134.1 437.50 128.0 437.70 134.9 437.90 128.4 438.10 136.0 438.30 128.8 438.50 140.0 438.70 129.6 438.90 133.9 439.10 124.1 439.30 134.6 439.50 129.5 439.70 135.0 439.90 128.3 440.10 139.9 440.30 127.7 440.50 134.6 440.70 128.6 440.90 135.1 441.10 128.7 441.30 134.9 441.50 129.8 441.70 134.9 441.90 129.2 442.10 134.3 442.30 126.8 442.50 134.7 442.70 129.8 442.90 135.5 443.10 126.5 443.30 136.9 443.50 128.2 443.70 136.4 443.90 129.4 444.10 134.1 444.30 129.6 444.50 134.7 444.70 129.5 444.90 135.1 445.10 129.9 445.30 134.1 445.50 129.6 445.70 134.3 445.90 127.0 446.10 135.3 446.30 129.7 446.50 134.9 446.70 126.2 446.90 135.5 447.10 128.6 447.30 134.8 447.50 129.8 447.70 135.7 447.90 130.0 448.10 136.8 448.30 130.1 448.50 136.5 448.70 129.3 448.90 136.0 449.10 128.5 449.30 134.1 449.50 128.7 449.70 133.9 449.90 129.7 450.10 134.7 450.30 129.6 450.50 135.9 450.70 124.5 450.90 134.6 451.10 126.7 451.30 134.3 451.50 127.9 451.70 134.6 451.90 128.8 452.10 133.9 452.30 126.9 452.50 134.2 452.70 129.1 452.90 134.4 453.10 127.1 453.30 135.5 453.50 128.4 453.70 136.4 453.90 129.7 454.10 133.9 454.30 126.9 454.50 134.5 454.70 127.1 454.90 139.4 455.10 128.4 455.30 133.9 455.50 126.6 455.70 135.6 455.90 129.7 456.10 134.2 456.30 128.9 456.50 134.0 456.70 125.9 456.90 136.0 457.10 127.1 457.30 134.6 457.50 125.5 457.70 134.0 457.90 127.9 458.10 134.3 458.30 130.3 458.50 134.0 458.70 129.9 458.90 136.4 459.10 129.4 459.30 134.9 459.50 128.5 459.70 134.3 459.90 128.4 460.10 135.8 460.30 125.6 460.50 135.0 460.70 126.8 460.90 139.2 461.10 127.6 461.30 134.7 461.50 129.7 461.70 133.9 461.90 127.1 462.10 133.9 462.30 128.8 462.50 134.8 462.70 130.2 462.90 134.1 463.10 127.2 463.30 135.1 463.50 125.7 463.70 138.0 463.90 130.1 464.10 135.7 464.30 130.3 464.50 134.7 464.70 129.3 464.90 139.1 465.10 128.7 465.30 134.0 465.50 129.1 465.70 135.0 465.90 129.9 466.10 134.5 466.30 126.6 466.50 139.0 466.70 127.7 466.90 133.8 467.10 126.2 467.30 134.7 467.50 127.2 467.70 134.0 467.90 130.1 468.10 137.8 468.30 129.8 468.50 133.7 468.70 129.1 468.90 138.9 469.10 127.2 469.30 134.5 469.50 125.1 469.70 136.4 469.90 127.1 470.10 135.4 470.30 129.5 470.50 137.8 470.70 129.3 470.90 138.4 471.10 129.0 471.30 137.8 471.50 129.2 471.70 134.6 471.90 128.8 472.10 134.3 472.30 130.1 472.50 135.2 472.70 127.1 472.90 134.2 473.10 126.9 473.30 136.3 473.50 127.8 473.70 134.5 473.90 125.2 474.10 136.3 474.30 128.9 474.50 133.8 474.70 128.9 474.90 133.6 475.10 126.4 475.30 134.3 475.50 129.6 475.70 135.0 475.90 128.6 476.10 135.1 476.30 129.2 476.50 135.3 476.70 127.1 476.90 134.6 477.10 129.2 477.30 136.5 477.50 130.4 477.70 133.9 477.90 129.7 478.10 134.0 478.30 126.5 478.50 133.9 478.70 130.2 478.90 134.3 479.10 129.2 479.30 136.6 479.50 125.2 479.70 136.9 479.90 128.8 480.10 133.7 480.30 130.3 480.50 135.3 480.70 127.5 480.90 134.1 481.10 125.3 481.30 135.0 481.50 128.9 481.70 135.2 481.90 130.3 482.10 133.9 482.30 125.7 482.50 134.1 482.70 130.3 482.90 134.2 483.10 128.2 483.30 134.1 483.50 130.0 483.70 134.1 483.90 129.3 484.10 135.9 484.30 129.8 484.50 137.1 484.70 125.3 484.90 136.5 485.10 130.3 485.30 134.2 485.50 126.0 485.70 136.9 485.90 130.2 486.10 134.6 486.30 129.7 486.50 135.9 486.70 130.4 486.90 134.2 487.10 128.1 487.30 137.3 487.50 130.4 487.70 135.1 487.90 128.6 488.10 137.1 488.30 129.5 488.50 138.6 488.70 130.1 488.90 133.8 489.10 130.2 489.30 135.1 489.50 130.2 489.70 134.1 489.90 130.1 490.10 133.7 490.30 125.4 490.50 134.3 490.70 125.4 490.90 135.7 491.10 130.0 491.30 138.1 491.50 130.4 491.70 138.6 491.90 130.4 492.10 134.1 492.30 129.1 492.50 133.6 492.70 128.0 492.90 133.7 493.10 127.6 493.30 133.6 493.50 129.2 493.70 134.0 493.90 129.9 494.10 134.7 494.30 129.7 494.50 134.4 494.70 128.7 494.90 133.9 495.10 130.1 495.30 135.5 495.50 129.9 495.70 138.1 495.90 129.5 496.10 134.6 496.30 130.4 496.50 133.6 496.70 130.3 496.90 135.2 497.10 128.6 497.30 138.5 497.50 129.5 497.70 135.6 497.90 129.8 498.10 133.7 498.30 129.6 498.50 135.6 498.70 127.7 498.90 138.5 499.10 127.5 499.30 134.9 499.50 129.1 499.70 134.7 499.90 129.4 500.10 135.4 500.30 129.0 500.50 136.8 500.70 129.5 500.90 134.6 501.10 127.5 501.30 135.4 501.50 129.2 501.70 134.9 501.90 127.8 502.10 135.1 502.30 130.0 502.50 134.1 502.70 128.9 502.90 133.6 503.10 129.5 503.30 137.2 503.50 130.0 503.70 134.5 503.90 128.5 504.10 137.8 504.30 128.5 504.50 135.1 504.70 129.7 504.90 134.5 505.10 128.8 505.30 134.2 505.50 128.0 505.70 133.5 505.90 128.2 506.10 135.7 506.30 129.9 506.50 133.5 506.70 129.8 506.90 135.0 507.10 128.0 507.30 136.9 507.50 130.1 507.70 133.7 507.90 130.3 508.10 138.4 508.30 128.8 508.50 133.7 508.70 128.6 508.90 138.4 509.10 129.0 509.30 133.9 509.50 125.6 509.70 135.5 509.90 130.2 510.10 135.9 510.30 129.4 510.50 134.9 510.70 129.8 510.90 134.1 511.10 129.6 511.30 134.7 511.50 129.5 511.70 136.8 511.90 130.4 512.10 133.9 512.30 126.0 512.50 135.0 512.70 128.9 512.90 135.1 513.10 130.0 513.30 134.3 513.50 130.1 513.70 133.8 513.90 125.7 514.10 135.7 514.30 127.1 514.50 133.5 514.70 128.5 514.90 134.1 515.10 129.4 515.30 135.2 515.50 130.5 515.70 134.1 515.90 129.4 516.10 136.5 516.30 129.6 516.50 133.9 516.70 129.3 516.90 134.6 517.10 130.2 517.30 134.4 517.50 130.3 517.70 133.3 517.90 130.3 518.10 133.3 518.30 129.9 518.50 134.0 518.70 128.3 518.90 134.8 519.10 129.2 519.30 136.6 519.50 130.6 519.70 133.6 519.90 130.7 520.10 133.1 520.30 130.2 520.50 133.7 520.70 130.9 520.90 135.6 521.10 128.1 521.30 133.0 521.50 131.1 521.70 132.9 521.90 129.9 522.10 134.6 522.30 131.1 522.50 132.9 522.70 130.5 522.90 133.2 523.10 131.1 523.30 132.9 523.50 130.9 523.70 133.0 523.90 130.8 524.10 133.6 524.30 130.9 524.50 133.1 524.70 130.9 524.90 134.8 525.10 130.9 525.30 133.6 525.50 130.6 525.70 133.2 525.90 130.7 526.10 132.9 526.30 131.0 526.50 133.8 526.70 129.9 526.90 133.1 527.10 131.0 527.30 135.0 527.50 131.1 527.70 134.3 527.90 129.3 528.10 133.0 528.30 129.5 528.50 133.0 528.70 131.1 528.90 133.1 529.10 130.8 529.30 133.6 529.50 130.6 529.70 134.3 529.90 130.2 530.10 133.0 530.30 131.0 530.50 134.1 530.70 131.1 530.90 135.5 531.10 129.7 531.30 133.1 531.50 130.9 531.70 133.1 531.90 130.7 532.10 133.1 532.30 131.1 532.50 133.1 532.70 131.0 532.90 133.2 533.10 130.6 533.30 134.7 533.50 130.2 533.70 133.7 533.90 129.4 534.10 133.3 534.30 130.7 534.50 133.1 534.70 129.6 534.90 134.7 535.10 129.0 535.30 133.7 535.50 131.1 535.70 132.9 535.90 129.7 536.10 134.8 536.30 130.5 536.50 135.1 536.70 128.8 536.90 134.1 537.10 130.8 537.30 133.4 537.50 130.8 537.70 133.3 537.90 130.6 538.10 132.8 538.30 131.0 538.50 133.0 538.70 130.4 538.90 134.7 539.10 130.1 539.30 133.0 539.50 130.6 539.70 133.7 539.90 131.0 540.10 132.9 540.30 130.3 540.50 133.1 540.70 130.3 540.90 133.0 541.10 129.4 541.30 133.2 541.50 130.7 541.70 133.5 541.90 129.2 542.10 135.0 542.30 129.5 542.50 133.9 542.70 131.1 542.90 133.0 543.10 130.5 543.30 135.5 543.50 130.0 543.70 133.0 543.90 130.8 544.10 135.5 544.30 130.5 544.50 134.6 544.70 129.4 544.90 134.2 545.10 130.3 545.30 133.8 545.50 130.8 545.70 132.9 545.90 128.6 546.10 132.9 546.30 130.9 546.50 133.7 546.70 128.5 546.90 133.0 547.10 130.9 547.30 134.5 547.50 130.8 547.70 133.3 547.90 130.8 548.10 132.9 548.30 128.7 548.50 133.9 548.70 131.2 548.90 132.9 549.10 131.1 549.30 133.2 549.50 129.2 549.70 133.0 549.90 131.0 550.10 133.1 550.30 130.6 550.50 134.9 550.70 130.5 550.90 134.9 551.10 130.5 551.30 133.3 551.50 129.4 551.70 133.6 551.90 130.6 552.10 133.4 552.30 130.8 552.50 133.3 552.70 131.1 552.90 133.0 553.10 129.9 553.30 132.9 553.50 131.0 553.70 133.0 553.90 130.8 554.10 132.9 554.30 130.8 554.50 133.6 554.70 130.2 554.90 134.6 555.10 131.1 555.30 133.7 555.50 131.0 555.70 133.2 555.90 130.4 556.10 134.4 556.30 130.2 556.50 135.4 556.70 131.2 556.90 133.1 557.10 130.6 557.30 132.8 557.50 131.1 557.70 133.2 557.90 130.5 558.10 132.9 558.30 131.1 558.50 133.1 558.70 130.0 558.90 133.5 559.10 128.6 559.30 133.6 559.50 129.3 559.70 133.6 559.90 130.6 560.10 133.3 560.30 131.1 560.50 132.9 560.70 130.3 560.90 134.5 561.10 131.2 561.30 133.0 561.50 130.8 561.70 133.1 561.90 129.6 562.10 133.1 562.30 130.9 562.50 133.4 562.70 128.6 562.90 133.1 563.10 130.3 563.30 132.8 563.50 130.7 563.70 135.1 563.90 131.0 564.10 133.2 564.30 130.3 564.50 133.5 564.70 130.5 564.90 133.6 565.10 130.2 565.30 133.1 565.50 130.8 565.70 133.2 565.90 130.6 566.10 133.5 566.30 129.4 566.50 133.2 566.70 130.7 566.90 134.3 567.10 128.6 567.30 133.0 567.50 130.1 567.70 133.0 567.90 130.0 568.10 132.8 568.30 130.6 568.50 133.5 568.70 130.2 568.90 134.9 569.10 129.8 569.30 133.5 569.50 130.6 569.70 132.8 569.90 130.5 570.10 133.5 570.30 130.0 570.50 133.0 570.70 130.4 570.90 132.8 571.10 130.1 571.30 134.3 571.50 130.7 571.70 133.8 571.90 130.3 572.10 133.1 572.30 131.1 572.50 134.0 572.70 130.8 572.90 132.9 573.10 130.7 573.30 134.3 573.50 128.6 573.70 133.5 573.90 128.6 574.10 133.0 574.30 130.6 574.50 132.8 574.70 131.0 574.90 134.6 575.10 131.2 575.30 133.7 575.50 130.6 575.70 135.4 575.90 128.6 576.10 132.9 576.30 130.9 576.50 135.4 576.70 130.9 576.90 133.0 577.10 129.1 577.30 133.6 577.50 130.9 577.70 133.5 577.90 130.7 578.10 133.3 578.30 130.5 578.50 132.9 578.70 130.4 578.90 135.3 579.10 130.4 579.30 134.1 579.50 130.9 579.70 132.9 579.90 131.2 580.10 135.3 580.30 131.1 580.50 133.2 580.70 130.3 580.90 133.9 581.10 130.4 581.30 133.3 581.50 129.8 581.70 133.3 581.90 129.7 582.10 132.8 582.30 130.1 582.50 132.9 582.70 130.8 582.90 133.3 583.10 131.0 583.30 133.3 583.50 129.6 583.70 132.8 583.90 131.0 584.10 135.3 584.30 130.7 584.50 133.2 584.70 129.2 584.90 134.0 585.10 131.1 585.30 133.6 585.50 131.0 585.70 134.0 585.90 130.5 586.10 134.1 586.30 131.2 586.50 135.0 586.70 131.0 586.90 134.4 587.10 130.7 587.30 134.6 587.50 131.1 587.70 132.8 587.90 130.7 588.10 135.0 588.30 130.7 588.50 133.4 588.70 131.1 588.90 133.4 589.10 130.8 589.30 134.6 589.50 130.1 589.70 133.3 589.90 131.1 590.10 133.0 590.30 128.3 590.50 133.9 590.70 130.7 590.90 135.1 591.10 130.5 591.30 134.0 591.50 127.8 591.70 133.5 591.90 130.4 592.10 133.6 592.30 130.1 592.50 134.5 592.70 129.6 592.90 134.4 593.10 130.2 593.30 135.1 593.50 129.0 593.70 136.5 593.90 129.5 594.10 135.5 594.30 129.4 594.50 136.6 594.70 129.8 594.90 135.1 595.10 129.0 595.30 135.0 595.50 128.7 595.70 135.3 595.90 129.4 596.10 137.2 596.30 124.3 596.50 135.4 596.70 128.2 596.90 136.3 597.10 129.4 597.30 135.6 597.50 129.0 597.70 135.1 597.90 129.2 598.10 135.3 598.30 129.7 598.50 134.4 598.70 129.7 598.90 135.6 599.10 129.6 599.30 136.8 599.50 125.6 599.70 136.6 599.90 129.4 600.10 139.4 600.30 129.4 600.50 134.7 600.70 128.4 600.90 135.9 601.10 129.1 601.30 136.8 601.50 126.4 601.70 134.5 601.90 129.7 602.10 134.8 602.30 127.8 602.50 136.0 602.70 129.8 602.90 134.8 603.10 125.6 603.30 139.7 603.50 128.4 603.70 136.8 603.90 126.6 604.10 134.3 604.30 130.0 604.50 135.7 604.70 129.2 604.90 136.3 605.10 129.5 605.30 134.9 605.50 126.9 605.70 134.0 605.90 129.2 606.10 134.1 606.30 128.7 606.50 136.4 606.70 124.3 606.90 136.6 607.10 129.9 607.30 134.9 607.50 128.6 607.70 135.8 607.90 127.8 608.10 139.7 608.30 124.6 608.50 134.3 608.70 129.8 608.90 139.7 609.10 129.8 609.30 139.7 609.50 129.9 609.70 135.5 609.90 129.9 610.10 134.1 610.30 129.4 610.50 136.9 610.70 127.8 610.90 134.6 611.10 129.9 611.30 134.7 611.50 129.8 611.70 134.3 611.90 128.8 612.10 135.1 612.30 125.2 612.50 134.0 612.70 128.7 612.90 135.5 613.10 129.9 613.30 134.7 613.50 129.9 613.70 138.2 613.90 129.3 614.10 134.0 614.30 128.9 614.50 135.3 614.70 125.9 614.90 136.3 615.10 129.7 615.30 138.5 615.50 130.2 615.70 136.2 615.90 130.1 616.10 137.2 616.30 129.8 616.50 136.9 616.70 126.9 616.90 136.7 617.10 130.0 617.30 134.8 617.50 130.0 617.70 136.3 617.90 124.3 618.10 135.2 618.30 128.3 618.50 135.7 618.70 130.1 618.90 134.4 619.10 129.8 619.30 135.6 619.50 129.8 619.70 134.0 619.90 129.6 620.10 133.5 620.30 130.7 620.50 133.5 620.70 130.9 620.90 134.2 621.10 130.4 621.30 133.8 621.50 130.4 621.70 132.8 621.90 129.9 622.10 134.0 622.30 131.3 622.50 133.1 622.70 130.1 622.90 133.1 623.10 129.8 623.30 133.6 623.50 130.5 623.70 134.5 623.90 130.1 624.10 133.4 624.30 131.3 624.50 133.2 624.70 130.4 624.90 133.3 625.10 130.6 625.30 133.0 625.50 129.9 625.70 132.9 625.90 130.5 626.10 133.1 626.30 131.2 626.50 132.7 626.70 131.2 626.90 133.0 627.10 130.8 627.30 132.7 627.50 131.2 627.70 133.9 627.90 129.0 628.10 133.1 628.30 130.8 628.50 133.4 628.70 131.2 628.90 133.3 629.10 130.5 629.30 134.9 629.50 130.5 629.70 133.3 629.90 130.9 630.10 134.5 630.30 130.7 630.50 133.2 630.70 130.3 630.90 133.1 631.10 131.2 631.30 133.4 631.50 129.8 631.70 133.0 631.90 131.2 632.10 132.8 632.30 129.5 632.50 132.8 632.70 130.5 632.90 132.8 633.10 130.8 633.30 134.5 633.50 131.1 633.70 133.0 633.90 130.6 634.10 133.3 634.30 130.7 634.50 133.1 634.70 131.3 634.90 133.4 635.10 131.1 635.30 133.4 635.50 130.9 635.70 132.9 635.90 129.1 636.10 133.0 636.30 129.1 636.50 133.2 636.70 130.7 636.90 132.9 637.10 131.2 637.30 133.6 637.50 130.9 637.70 133.3 637.90 131.2 638.10 133.2 638.30 130.5 638.50 133.7 638.70 130.5 638.90 133.1 639.10 130.5 639.30 133.4 639.50 130.8 639.70 133.4 639.90 131.0 640.10 132.7 640.30 131.2 640.50 134.9 640.70 129.7 640.90 134.0 641.10 131.1 641.30 134.0 641.50 130.2 641.70 133.2 641.90 131.1 642.10 132.8 642.30 129.1 642.50 134.9 642.70 129.9 642.90 133.1 643.10 130.4 643.30 134.4 643.50 130.8 643.70 132.8 643.90 129.1 644.10 133.2 644.30 130.3 644.50 133.4 644.70 131.3 644.90 133.1 645.10 131.3 645.30 132.9 645.50 129.2 645.70 133.5 645.90 130.7 646.10 132.8 646.30 130.5 646.50 133.3 646.70 130.6 646.90 133.5 647.10 129.4 647.30 133.1 647.50 130.7 647.70 133.2 647.90 130.7 648.10 133.5 648.30 131.2 648.50 132.7 648.70 131.2 648.90 132.7 649.10 130.8 649.30 132.9 649.50 130.2 649.70 132.8 649.90 131.2 650.10 134.1 650.30 131.3 650.50 133.0 650.70 130.5 650.90 133.3 651.10 131.1 651.30 132.8 651.50 130.7 651.70 132.9 651.90 130.0 652.10 132.9 652.30 129.4 652.50 132.7 652.70 130.7 652.90 132.9 653.10 130.9 653.30 133.1 653.50 130.2 653.70 132.8 653.90 130.3 654.10 132.7 654.30 130.6 654.50 133.9 654.70 130.9 654.90 134.0 655.10 131.0 655.30 133.0 655.50 129.6 655.70 134.8 655.90 130.3 656.10 132.8 656.30 129.3 656.50 133.0 656.70 129.9 656.90 132.9 657.10 131.2 657.30 132.9" fill="none" stroke="#0000ff" stroke-width="0.5" stroke-linejoin="bevel"/>
<path d="M210.4 130.0V151.6M243.6 118.2V144.0M226.7 122.4V141.5M406.2 107.2V135.0M370.6 128.0V153.7M494.5 112.3V135.0M495.8 128.0V161.3M506.4 116.9V142.0M585.5 130.0V147.7M549.5 125.0V140.0M593.5 123.0V141.0" stroke="#0000ff" stroke-opacity="0.38" stroke-width="1"/>
<path d="M184.50 368.7 184.70 366.7 184.90 368.8 185.10 367.3 185.30 369.0 185.50 367.0 185.70 369.0 185.90 367.0 186.10 368.8 186.30 367.2 186.50 369.3 186.70 367.2 186.90 369.3 187.10 366.4 187.30 369.9 187.50 365.6 187.70 368.8 187.90 367.2 188.10 369.4 188.30 366.9 188.50 368.7 188.70 366.7 188.90 369.9 189.10 366.3 189.30 368.7 189.50 367.2 189.70 368.6 189.90 365.5 190.10 368.7 190.30 366.6 190.50 369.1 190.70 366.8 190.90 369.1 191.10 366.3 191.30 369.2 191.50 367.2 191.70 368.7 191.90 367.0 192.10 370.2 192.30 367.3 192.50 369.3 192.70 366.8 192.90 368.7 193.10 367.3 193.30 369.3 193.50 367.1 193.70 368.9 193.90 367.0 194.10 368.7 194.30 366.6 194.50 369.1 194.70 366.9 194.90 368.8 195.10 366.4 195.30 369.7 195.50 366.9 195.70 368.6 195.90 367.3 196.10 368.7 196.30 367.4 196.50 369.2 196.70 366.9 196.90 368.7 197.10 365.9 197.30 369.2 197.50 366.4 197.70 369.7 197.90 366.7 198.10 369.1 198.30 365.5 198.50 368.7 198.70 366.7 198.90 369.9 199.10 367.0 199.30 369.7 199.50 367.3 199.70 368.9 199.90 367.2 200.10 368.9 200.30 366.7 200.50 368.7 200.70 367.2 200.90 369.8 201.10 367.2 201.30 368.7 201.50 365.5 201.70 369.1 201.90 367.4 202.10 369.1 202.30 367.3 202.50 368.7 202.70 366.6 202.90 369.3 203.10 367.1 203.30 369.0 203.50 366.9 203.70 369.0 203.90 367.3 204.10 369.5 204.30 366.5 204.50 368.9 204.70 367.1 204.90 369.2 205.10 367.0 205.30 368.9 205.50 366.1 205.70 370.1 205.90 367.3 206.10 368.7 206.30 366.4 206.50 370.5 206.70 366.6 206.90 368.8 207.10 367.4 207.30 369.7 207.50 365.7 207.70 369.5 207.90 366.6 208.10 370.5 208.30 366.9 208.50 370.3 208.70 367.2 208.90 368.6 209.10 366.3 209.30 369.3 209.50 366.4 209.70 368.7 209.90 367.2 210.10 369.1 210.30 367.4 210.50 368.8 210.70 366.8 210.90 370.3 211.10 366.6 211.30 368.9 211.50 367.1 211.70 369.0 211.90 366.6 212.10 370.5 212.30 367.4 212.50 370.2 212.70 366.4 212.90 368.6 213.10 367.2 213.30 368.8 213.50 367.3 213.70 368.7 213.90 367.3 214.10 369.3 214.30 367.1 214.50 368.7 214.70 366.2 214.90 369.7 215.10 367.2 215.30 369.7 215.50 366.5 215.70 369.1 215.90 367.4 216.10 369.4 216.30 366.1 216.50 370.0 216.70 365.5 216.90 368.7 217.10 365.5 217.30 368.6 217.50 367.1 217.70 369.1 217.90 366.8 218.10 369.1 218.30 365.9 218.50 369.5 218.70 366.2 218.90 369.3 219.10 367.0 219.30 368.6 219.50 366.8 219.70 370.3 219.90 367.3 220.10 370.5 220.30 367.4 220.50 368.9 220.70 366.5 220.90 369.4 221.10 366.9 221.30 368.8 221.50 367.2 221.70 368.7 221.90 366.8 222.10 368.6 222.30 367.3 222.50 369.6 222.70 366.8 222.90 368.8 223.10 366.7 223.30 371.2 223.50 366.4 223.70 369.2 223.90 366.9 224.10 369.7 224.30 366.7 224.50 369.4 224.70 366.8 224.90 370.3 225.10 364.8 225.30 370.1 225.50 365.6 225.70 369.6 225.90 363.1 226.10 369.6 226.30 363.7 226.50 369.2 226.70 365.5 226.90 371.7 227.10 365.8 227.30 369.5 227.50 366.6 227.70 372.9 227.90 363.1 228.10 369.5 228.30 366.2 228.50 371.4 228.70 364.3 228.90 369.2 229.10 365.8 229.30 369.5 229.50 366.7 229.70 370.7 229.90 366.0 230.10 369.5 230.30 365.0 230.50 369.7 230.70 366.4 230.90 369.6 231.10 366.6 231.30 371.5 231.50 366.3 231.70 372.6 231.90 365.4 232.10 370.1 232.30 364.0 232.50 369.8 232.70 366.8 232.90 370.5 233.10 366.7 233.30 372.5 233.50 363.1 233.70 369.8 233.90 366.7 234.10 372.9 234.30 366.5 234.50 372.9 234.70 366.0 234.90 371.9 235.10 364.2 235.30 369.4 235.50 366.3 235.70 369.9 235.90 366.5 236.10 372.5 236.30 366.5 236.50 369.5 236.70 366.6 236.90 369.4 237.10 364.7 237.30 369.5 237.50 365.7 237.70 369.3 237.90 364.7 238.10 371.1 238.30 363.2 238.50 369.2 238.70 365.4 238.90 370.8 239.10 366.3 239.30 370.6 239.50 366.3 239.70 370.3 239.90 364.4 240.10 371.4 240.30 366.3 240.50 369.5 240.70 363.1 240.90 369.5 241.10 366.0 241.30 369.9 241.50 366.3 241.70 370.1 241.90 366.7 242.10 370.0 242.30 365.4 242.50 371.5 242.70 366.0 242.90 369.5 243.10 366.4 243.30 369.4 243.50 366.6 243.70 369.6 243.90 366.2 244.10 372.8 244.30 365.1 244.50 372.4 244.70 366.0 244.90 369.4 245.10 365.8 245.30 370.7 245.50 363.1 245.70 369.5 245.90 365.0 246.10 372.9 246.30 366.2 246.50 370.1 246.70 366.7 246.90 370.6 247.10 366.8 247.30 371.1 247.50 365.1 247.70 371.4 247.90 364.5 248.10 369.3 248.30 364.2 248.50 370.7 248.70 363.1 248.90 372.1 249.10 366.0 249.30 371.6 249.50 366.5 249.70 372.9 249.90 365.4 250.10 371.3 250.30 365.8 250.50 370.2 250.70 366.5 250.90 371.2 251.10 365.9 251.30 369.5 251.50 365.1 251.70 370.3 251.90 366.1 252.10 371.2 252.30 366.2 252.50 370.5 252.70 366.0 252.90 369.6 253.10 366.5 253.30 370.0 253.50 366.8 253.70 369.1 253.90 366.7 254.10 370.1 254.30 366.9 254.50 370.2 254.70 366.8 254.90 371.3 255.10 367.1 255.30 370.3 255.50 365.9 255.70 370.0 255.90 366.6 256.10 368.9 256.30 365.2 256.50 368.8 256.70 366.5 256.90 369.0 257.10 367.3 257.30 369.0 257.50 367.1 257.70 369.7 257.90 367.2 258.10 369.9 258.30 367.3 258.50 368.7 258.70 366.7 258.90 370.5 259.10 366.7 259.30 368.8 259.50 365.6 259.70 369.4 259.90 367.3 260.10 368.8 260.30 367.0 260.50 369.2 260.70 366.8 260.90 369.9 261.10 366.7 261.30 370.8 261.50 367.0 261.70 368.9 261.90 366.6 262.10 370.3 262.30 366.9 262.50 368.7 262.70 367.0 262.90 368.8 263.10 365.7 263.30 368.9 263.50 366.9 263.70 369.3 263.90 367.3 264.10 368.7 264.30 366.8 264.50 368.9 264.70 367.3 264.90 369.6 265.10 366.4 265.30 369.3 265.50 367.2 265.70 369.9 265.90 365.2 266.10 368.7 266.30 366.5 266.50 368.7 266.70 367.3 266.90 368.9 267.10 365.2 267.30 369.1 267.50 366.8 267.70 370.2 267.90 367.0 268.10 368.9 268.30 367.3 268.50 368.9 268.70 366.7 268.90 370.2 269.10 365.2 269.30 368.9 269.50 366.6 269.70 368.9 269.90 366.8 270.10 368.7 270.30 365.4 270.50 369.7 270.70 366.3 270.90 369.4 271.10 367.0 271.30 370.0 271.50 366.8 271.70 369.4 271.90 367.1 272.10 368.8 272.30 366.4 272.50 368.9 272.70 367.3 272.90 368.9 273.10 366.9 273.30 368.8 273.50 367.2 273.70 369.6 273.90 366.9 274.10 369.2 274.30 366.4 274.50 368.7 274.70 366.8 274.90 370.8 275.10 367.1 275.30 369.5 275.50 367.2 275.70 369.0 275.90 366.9 276.10 368.8 276.30 367.1 276.50 369.0 276.70 366.9 276.90 369.0 277.10 366.8 277.30 368.9 277.50 366.8 277.70 369.7 277.90 366.9 278.10 369.0 278.30 366.1 278.50 369.4 278.70 366.8 278.90 368.9 279.10 365.2 279.30 368.8 279.50 365.5 279.70 368.9 279.90 365.5 280.10 368.7 280.30 366.5 280.50 369.1 280.70 366.6 280.90 368.7 281.10 367.0 281.30 369.0 281.50 366.7 281.70 369.6 281.90 365.2 282.10 368.9 282.30 367.3 282.50 368.8 282.70 365.5 282.90 369.3 283.10 366.5 283.30 370.9 283.50 366.2 283.70 369.3 283.90 366.2 284.10 368.8 284.30 366.1 284.50 368.8 284.70 365.8 284.90 370.1 285.10 366.7 285.30 368.9 285.50 367.2 285.70 369.2 285.90 367.2 286.10 369.0 286.30 367.2 286.50 368.7 286.70 366.2 286.90 369.8 287.10 366.7 287.30 369.4 287.50 366.1 287.70 369.3 287.90 366.6 288.10 368.7 288.30 367.3 288.50 369.5 288.70 366.8 288.90 368.9 289.10 366.1 289.30 369.1 289.50 366.7 289.70 370.9 289.90 366.9 290.10 370.3 290.30 366.8 290.50 369.5 290.70 366.3 290.90 369.2 291.10 366.8 291.30 370.1 291.50 366.3 291.70 369.4 291.90 366.4 292.10 368.9 292.30 366.7 292.50 370.0 292.70 366.4 292.90 370.6 293.10 367.3 293.30 368.8 293.50 367.1 293.70 370.9 293.90 365.6 294.10 368.9 294.30 367.3 294.50 369.0 294.70 366.0 294.90 370.0 295.10 366.6 295.30 370.7 295.50 366.2 295.70 368.7 295.90 367.2 296.10 370.0 296.30 366.2 296.50 370.2 296.70 366.7 296.90 370.5 297.10 367.3 297.30 369.0 297.50 367.3 297.70 370.9 297.90 365.8 298.10 369.5 298.30 366.7 298.50 369.2 298.70 366.7 298.90 368.9 299.10 367.2 299.30 370.1 299.50 366.0 299.70 368.9 299.90 366.9 300.10 369.1 300.30 366.3 300.50 369.0 300.70 366.5 300.90 368.8 301.10 365.4 301.30 369.5 301.50 367.0 301.70 369.2 301.90 366.4 302.10 369.3 302.30 367.2 302.50 368.8 302.70 367.2 302.90 369.4 303.10 365.1 303.30 368.8 303.50 365.8 303.70 369.8 303.90 367.1 304.10 369.2 304.30 367.2 304.50 369.9 304.70 366.8 304.90 370.0 305.10 366.9 305.30 369.1 305.50 366.7 305.70 369.9 305.90 366.7 306.10 369.5 306.30 366.9 306.50 368.9 306.70 367.1 306.90 370.0 307.10 367.3 307.30 369.9 307.50 366.7 307.70 369.0 307.90 366.8 308.10 369.1 308.30 366.3 308.50 369.7 308.70 365.4 308.90 369.2 309.10 366.5 309.30 368.9 309.50 366.4 309.70 368.7 309.90 365.9 310.10 370.6 310.30 366.9 310.50 368.8 310.70 367.2 310.90 369.4 311.10 367.3 311.30 369.0 311.50 367.3 311.70 368.8 311.90 367.2 312.10 370.7 312.30 366.2 312.50 369.2 312.70 366.4 312.90 368.8 313.10 366.3 313.30 368.9 313.50 366.4 313.70 369.1 313.90 365.8 314.10 368.8 314.30 367.2 314.50 370.3 314.70 366.0 314.90 369.0 315.10 367.2 315.30 369.3 315.50 366.8 315.70 369.1 315.90 365.9 316.10 368.8 316.30 366.9 316.50 369.5 316.70 366.8 316.90 369.1 317.10 366.6 317.30 368.8 317.50 366.8 317.70 368.7 317.90 367.1 318.10 368.7 318.30 367.0 318.50 368.7 318.70 365.0 318.90 370.9 319.10 367.3 319.30 368.8 319.50 365.3 319.70 371.0 319.90 365.3 320.10 371.0 320.30 366.7 320.50 371.0 320.70 365.0 320.90 369.0 321.10 366.8 321.30 369.2 321.50 365.0 321.70 369.5 321.90 367.0 322.10 369.9 322.30 367.0 322.50 369.4 322.70 367.0 322.90 369.1 323.10 366.7 323.30 368.8 323.50 366.4 323.70 370.1 323.90 367.2 324.10 368.9 324.30 366.5 324.50 369.0 324.70 367.3 324.90 369.0 325.10 367.1 325.30 371.0 325.50 366.2 325.70 368.8 325.90 366.8 326.10 370.3 326.30 366.9 326.50 368.9 326.70 367.1 326.90 369.1 327.10 366.0 327.30 371.0 327.50 365.0 327.70 370.3 327.90 367.3 328.10 369.5 328.30 366.5 328.50 368.8 328.70 367.3 328.90 369.2 329.10 367.0 329.30 370.3 329.50 366.4 329.70 369.1 329.90 366.1 330.10 368.7 330.30 366.7 330.50 369.0 330.70 367.0 330.90 369.4 331.10 366.4 331.30 371.1 331.50 366.7 331.70 368.9 331.90 365.3 332.10 370.2 332.30 365.7 332.50 369.3 332.70 367.3 332.90 369.9 333.10 367.2 333.30 369.2 333.50 367.1 333.70 369.8 333.90 366.8 334.10 370.9 334.30 365.3 334.50 369.0 334.70 367.0 334.90 369.8 335.10 365.4 335.30 371.0 335.50 366.7 335.70 369.0 335.90 367.0 336.10 370.0 336.30 366.9 336.50 370.2 336.70 364.7 336.90 369.7 337.10 366.6 337.30 371.3 337.50 366.1 337.70 369.6 337.90 366.4 338.10 369.4 338.30 366.9 338.50 368.8 338.70 366.4 338.90 368.8 339.10 366.7 339.30 369.2 339.50 365.9 339.70 369.8 339.90 365.4 340.10 369.6 340.30 366.6 340.50 369.0 340.70 366.9 340.90 369.3 341.10 366.5 341.30 369.4 341.50 367.0 341.70 369.1 341.90 365.6 342.10 369.6 342.30 367.0 342.50 369.1 342.70 366.8 342.90 368.9 343.10 366.2 343.30 369.5 343.50 366.7 343.70 370.2 343.90 366.2 344.10 369.8 344.30 365.4 344.50 369.8 344.70 367.1 344.90 370.6 345.10 364.5 345.30 370.4 345.50 367.1 345.70 370.6 345.90 366.1 346.10 369.4 346.30 366.1 346.50 369.5 346.70 365.4 346.90 369.9 347.10 365.9 347.30 370.1 347.50 366.6 347.70 368.9 347.90 366.4 348.10 369.5 348.30 366.2 348.50 370.2 348.70 366.1 348.90 369.0 349.10 366.8 349.30 369.0 349.50 365.0 349.70 369.0 349.90 367.0 350.10 371.7 350.30 366.2 350.50 370.1 350.70 364.3 350.90 368.9 351.10 366.3 351.30 369.3 351.50 365.5 351.70 369.0 351.90 367.0 352.10 370.1 352.30 364.4 352.50 370.3 352.70 366.8 352.90 369.4 353.10 366.7 353.30 369.5 353.50 366.6 353.70 370.2 353.90 365.3 354.10 369.4 354.30 366.2 354.50 371.1 354.70 366.7 354.90 371.2 355.10 366.9 355.30 369.3 355.50 365.5 355.70 369.5 355.90 366.5 356.10 369.7 356.30 366.9 356.50 369.6 356.70 366.7 356.90 369.0 357.10 366.2 357.30 370.1 357.50 367.0 357.70 369.0 357.90 366.9 358.10 369.1 358.30 366.8 358.50 369.9 358.70 366.5 358.90 369.2 359.10 366.2 359.30 370.4 359.50 365.7 359.70 370.8 359.90 366.0 360.10 369.6 360.30 366.0 360.50 369.3 360.70 365.1 360.90 369.0 361.10 365.6 361.30 369.2 361.50 365.3 361.70 370.7 361.90 363.9 362.10 370.2 362.30 366.4 362.50 369.5 362.70 366.7 362.90 371.6 363.10 366.5 363.30 369.7 363.50 366.4 363.70 369.3 363.90 365.9 364.10 371.8 364.30 366.0 364.50 369.6 364.70 367.0 364.90 370.4 365.10 366.2 365.30 369.5 365.50 366.7 365.70 370.1 365.90 363.7 366.10 369.1 366.30 364.6 366.50 369.3 366.70 366.8 366.90 369.8 367.10 366.9 367.30 369.1 367.50 365.1 367.70 371.1 367.90 366.7 368.10 369.6 368.30 366.2 368.50 369.4 368.70 366.8 368.90 369.2 369.10 365.5 369.30 369.2 369.50 366.9 369.70 369.7 369.90 365.6 370.10 370.4 370.30 366.4 370.50 369.8 370.70 366.5 370.90 370.8 371.10 365.5 371.30 369.3 371.50 366.6 371.70 369.5 371.90 365.5 372.10 369.7 372.30 366.0 372.50 370.3 372.70 366.2 372.90 369.3 373.10 366.0 373.30 369.9 373.50 365.6 373.70 369.6 373.90 365.5 374.10 369.6 374.30 366.0 374.50 370.1 374.70 365.7 374.90 371.1 375.10 362.5 375.30 371.0 375.50 365.2 375.70 371.6 375.90 366.1 376.10 370.9 376.30 364.0 376.50 370.8 376.70 365.6 376.90 371.3 377.10 365.6 377.30 372.4 377.50 365.4 377.70 370.8 377.90 360.3 378.10 371.0 378.30 365.0 378.50 371.3 378.70 366.0 378.90 370.4 379.10 364.6 379.30 370.1 379.50 363.5 379.70 376.4 379.90 364.2 380.10 374.5 380.30 362.9 380.50 371.8 380.70 365.9 380.90 371.5 381.10 362.1 381.30 371.3 381.50 359.8 381.70 372.5 381.90 365.1 382.10 371.2 382.30 364.9 382.50 373.9 382.70 364.0 382.90 370.3 383.10 363.6 383.30 376.1 383.50 365.0 383.70 371.0 383.90 364.8 384.10 374.5 384.30 362.4 384.50 371.1 384.70 363.9 384.90 372.0 385.10 363.0 385.30 370.9 385.50 361.9 385.70 371.4 385.90 364.3 386.10 370.8 386.30 364.6 386.50 374.2 386.70 363.3 386.90 370.7 387.10 360.0 387.30 373.7 387.50 363.4 387.70 372.8 387.90 361.5 388.10 371.7 388.30 359.0 388.50 370.9 388.70 364.6 388.90 372.1 389.10 364.4 389.30 371.5 389.50 363.7 389.70 373.3 389.90 364.0 390.10 374.3 390.30 363.7 390.50 371.5 390.70 356.6 390.90 374.5 391.10 364.2 391.30 371.9 391.50 360.8 391.70 374.4 391.90 364.2 392.10 371.4 392.30 356.7 392.50 379.6 392.70 361.8 392.90 374.2 393.10 362.3 393.30 375.6 393.50 356.4 393.70 372.7 393.90 359.5 394.10 371.5 394.30 362.3 394.50 373.9 394.70 365.1 394.90 371.2 395.10 357.0 395.30 374.3 395.50 359.8 395.70 372.8 395.90 364.8 396.10 372.8 396.30 358.6 396.50 372.7 396.70 364.4 396.90 370.8 397.10 360.5 397.30 372.9 397.50 364.2 397.70 373.2 397.90 362.5 398.10 372.7 398.30 361.3 398.50 373.3 398.70 356.5 398.90 372.8 399.10 364.0 399.30 372.0 399.50 356.6 399.70 378.6 399.90 359.5 400.10 373.5 400.30 356.4 400.50 372.1 400.70 362.7 400.90 372.2 401.10 365.0 401.30 378.5 401.50 362.2 401.70 371.8 401.90 364.8 402.10 372.3 402.30 361.6 402.50 373.0 402.70 364.2 402.90 372.9 403.10 364.1 403.30 376.2 403.50 362.2 403.70 372.2 403.90 361.9 404.10 371.0 404.30 362.5 404.50 371.2 404.70 364.3 404.90 372.6 405.10 361.3 405.30 371.9 405.50 364.7 405.70 372.8 405.90 361.4 406.10 376.0 406.30 359.3 406.50 370.7 406.70 363.2 406.90 370.9 407.10 362.5 407.30 372.2 407.50 356.4 407.70 371.1 407.90 365.2 408.10 372.1 408.30 365.0 408.50 371.7 408.70 356.6 408.90 371.2 409.10 360.6 409.30 375.9 409.50 364.7 409.70 371.7 409.90 364.3 410.10 373.1 410.30 362.6 410.50 370.8 410.70 363.0 410.90 370.6 411.10 363.5 411.30 371.6 411.50 361.1 411.70 374.1 411.90 361.8 412.10 371.7 412.30 357.4 412.50 372.5 412.70 363.5 412.90 378.5 413.10 364.2 413.30 370.8 413.50 361.0 413.70 373.0 413.90 360.7 414.10 372.5 414.30 363.7 414.50 373.6 414.70 362.5 414.90 372.2 415.10 365.4 415.30 371.8 415.50 363.9 415.70 374.3 415.90 365.6 416.10 377.8 416.30 362.2 416.50 371.9 416.70 365.4 416.90 372.4 417.10 365.2 417.30 371.2 417.50 365.0 417.70 372.1 417.90 364.0 418.10 371.3 418.30 364.8 418.50 370.3 418.70 365.3 418.90 370.7 419.10 364.1 419.30 376.0 419.50 365.6 419.70 371.0 419.90 364.9 420.10 371.0 420.30 365.8 420.50 371.9 420.70 363.3 420.90 370.3 421.10 364.2 421.30 370.1 421.50 364.9 421.70 371.0 421.90 365.5 422.10 370.9 422.30 365.7 422.50 373.6 422.70 364.1 422.90 371.4 423.10 363.9 423.30 370.4 423.50 365.1 423.70 369.7 423.90 365.5 424.10 375.0 424.30 365.6 424.50 371.8 424.70 366.0 424.90 373.3 425.10 364.3 425.30 370.7 425.50 365.5 425.70 371.2 425.90 363.5 426.10 372.2 426.30 365.6 426.50 370.3 426.70 365.0 426.90 370.3 427.10 365.9 427.30 370.4 427.50 365.3 427.70 369.7 427.90 364.9 428.10 371.1 428.30 366.2 428.50 369.6 428.70 364.4 428.90 373.4 429.10 364.9 429.30 369.4 429.50 364.9 429.70 372.5 429.90 366.4 430.10 373.3 430.30 366.7 430.50 373.3 430.70 366.7 430.90 370.1 431.10 365.8 431.30 373.2 431.50 365.3 431.70 372.7 431.90 366.7 432.10 370.4 432.30 365.7 432.50 369.4 432.70 366.0 432.90 369.7 433.10 366.1 433.30 371.1 433.50 365.2 433.70 370.7 433.90 366.6 434.10 369.8 434.30 364.5 434.50 369.2 434.70 366.5 434.90 369.2 435.10 365.3 435.30 370.0 435.50 366.5 435.70 369.5 435.90 366.7 436.10 369.4 436.30 366.4 436.50 369.9 436.70 364.0 436.90 370.1 437.10 366.4 437.30 371.8 437.50 366.4 437.70 369.4 437.90 366.8 438.10 369.4 438.30 366.4 438.50 369.3 438.70 366.9 438.90 369.2 439.10 365.7 439.30 372.2 439.50 366.5 439.70 370.2 439.90 365.9 440.10 369.5 440.30 363.9 440.50 369.3 440.70 366.9 440.90 369.6 441.10 365.7 441.30 370.8 441.50 365.5 441.70 369.7 441.90 366.2 442.10 369.8 442.30 364.1 442.50 370.7 442.70 366.1 442.90 371.9 443.10 365.9 443.30 370.2 443.50 366.4 443.70 369.4 443.90 366.3 444.10 371.4 444.30 364.1 444.50 369.2 444.70 366.1 444.90 369.2 445.10 363.4 445.30 369.2 445.50 366.0 445.70 372.3 445.90 365.8 446.10 372.6 446.30 366.8 446.50 372.6 446.70 363.4 446.90 369.3 447.10 365.6 447.30 372.6 447.50 363.9 447.70 369.6 447.90 363.4 448.10 370.2 448.30 366.4 448.50 369.4 448.70 364.4 448.90 370.9 449.10 366.2 449.30 370.2 449.50 364.7 449.70 369.5 449.90 365.0 450.10 370.3 450.30 363.6 450.50 370.0 450.70 366.3 450.90 369.4 451.10 366.3 451.30 370.7 451.50 363.2 451.70 372.8 451.90 366.6 452.10 372.8 452.30 366.8 452.50 371.3 452.70 366.6 452.90 370.1 453.10 365.1 453.30 372.1 453.50 365.7 453.70 369.4 453.90 366.8 454.10 369.9 454.30 365.4 454.50 371.8 454.70 364.5 454.90 369.2 455.10 366.6 455.30 370.4 455.50 365.3 455.70 369.4 455.90 365.7 456.10 369.3 456.30 366.5 456.50 370.0 456.70 366.0 456.90 369.6 457.10 366.4 457.30 372.9 457.50 365.4 457.70 370.0 457.90 365.9 458.10 370.3 458.30 366.4 458.50 369.5 458.70 364.6 458.90 373.0 459.10 363.0 459.30 370.9 459.50 366.6 459.70 369.2 459.90 365.7 460.10 372.1 460.30 366.0 460.50 369.3 460.70 366.7 460.90 370.7 461.10 365.3 461.30 371.1 461.50 366.1 461.70 369.6 461.90 363.5 462.10 370.1 462.30 366.5 462.50 369.6 462.70 366.5 462.90 370.1 463.10 365.8 463.30 369.3 463.50 364.6 463.70 369.7 463.90 366.2 464.10 369.4 464.30 362.8 464.50 369.3 464.70 365.1 464.90 370.3 465.10 366.5 465.30 370.3 465.50 366.0 465.70 372.7 465.90 364.3 466.10 369.6 466.30 366.3 466.50 370.0 466.70 365.5 466.90 372.6 467.10 366.6 467.30 372.9 467.50 365.7 467.70 370.1 467.90 366.7 468.10 370.1 468.30 364.0 468.50 370.7 468.70 364.4 468.90 369.9 469.10 365.0 469.30 369.9 469.50 363.1 469.70 369.4 469.90 365.9 470.10 370.5 470.30 366.4 470.50 369.8 470.70 364.6 470.90 370.6 471.10 365.9 471.30 372.7 471.50 366.1 471.70 371.1 471.90 365.5 472.10 370.0 472.30 366.2 472.50 372.1 472.70 366.6 472.90 369.7 473.10 366.7 473.30 373.4 473.50 366.7 473.70 369.7 473.90 366.5 474.10 369.6 474.30 365.2 474.50 369.5 474.70 366.1 474.90 369.5 475.10 365.2 475.30 369.8 475.50 365.2 475.70 369.8 475.90 364.8 476.10 371.8 476.30 365.8 476.50 370.8 476.70 365.8 476.90 372.5 477.10 366.1 477.30 370.4 477.50 364.2 477.70 369.5 477.90 366.3 478.10 372.3 478.30 366.2 478.50 371.3 478.70 363.9 478.90 371.3 479.10 363.6 479.30 371.2 479.50 366.4 479.70 370.2 479.90 361.0 480.10 372.2 480.30 365.7 480.50 371.3 480.70 365.4 480.90 371.5 481.10 364.8 481.30 371.5 481.50 364.4 481.70 371.9 481.90 363.7 482.10 372.6 482.30 360.3 482.50 372.9 482.70 365.2 482.90 375.7 483.10 365.9 483.30 373.7 483.50 362.4 483.70 370.0 483.90 365.6 484.10 371.8 484.30 365.3 484.50 371.0 484.70 361.6 484.90 370.5 485.10 363.2 485.30 370.1 485.50 365.1 485.70 369.9 485.90 360.3 486.10 370.6 486.30 366.2 486.50 370.9 486.70 360.3 486.90 370.1 487.10 365.1 487.30 371.1 487.50 365.5 487.70 370.3 487.90 365.5 488.10 372.5 488.30 365.5 488.50 370.1 488.70 364.4 488.90 370.7 489.10 360.9 489.30 370.3 489.50 362.6 489.70 369.9 489.90 365.7 490.10 371.1 490.30 365.5 490.50 371.8 490.70 366.2 490.90 372.3 491.10 365.3 491.30 370.7 491.50 360.3 491.70 371.2 491.90 365.8 492.10 373.6 492.30 364.2 492.50 370.1 492.70 365.5 492.90 370.4 493.10 362.8 493.30 370.3 493.50 364.4 493.70 374.8 493.90 366.0 494.10 370.5 494.30 364.1 494.50 370.9 494.70 364.6 494.90 371.1 495.10 365.8 495.30 370.7 495.50 365.8 495.70 371.3 495.90 364.4 496.10 370.4 496.30 366.1 496.50 371.2 496.70 365.0 496.90 372.9 497.10 363.2 497.30 370.6 497.50 364.7 497.70 370.9 497.90 364.4 498.10 371.1 498.30 365.5 498.50 372.5 498.70 363.6 498.90 371.6 499.10 363.6 499.30 370.7 499.50 366.0 499.70 370.2 499.90 364.0 500.10 371.5 500.30 362.6 500.50 372.5 500.70 362.3 500.90 373.6 501.10 365.9 501.30 374.7 501.50 366.1 501.70 373.8 501.90 365.9 502.10 370.2 502.30 360.3 502.50 372.4 502.70 364.8 502.90 372.4 503.10 360.3 503.30 372.5 503.50 364.7 503.70 371.8 503.90 363.0 504.10 370.0 504.30 364.9 504.50 372.0 504.70 365.5 504.90 370.0 505.10 365.2 505.30 372.1 505.50 363.1 505.70 371.3 505.90 365.1 506.10 374.4 506.30 366.1 506.50 371.6 506.70 365.1 506.90 371.0 507.10 364.8 507.30 371.7 507.50 363.0 507.70 371.1 507.90 363.7 508.10 370.1 508.30 364.8 508.50 371.4 508.70 361.4 508.90 373.3 509.10 364.3 509.30 370.5 509.50 360.3 509.70 370.2 509.90 365.7 510.10 371.4 510.30 365.5 510.50 370.9 510.70 365.0 510.90 370.1 511.10 366.0 511.30 370.5 511.50 365.7 511.70 370.7 511.90 363.5 512.10 372.8 512.30 364.0 512.50 370.3 512.70 366.2 512.90 370.8 513.10 364.3 513.30 371.9 513.50 365.4 513.70 371.5 513.90 365.9 514.10 370.4 514.30 366.1 514.50 369.8 514.70 365.8 514.90 370.2 515.10 366.4 515.30 369.3 515.50 367.0 515.70 368.8 515.90 366.9 516.10 369.3 516.30 367.2 516.50 368.9 516.70 366.6 516.90 369.4 517.10 366.8 517.30 369.7 517.50 366.0 517.70 369.3 517.90 365.9 518.10 368.9 518.30 366.2 518.50 369.1 518.70 367.0 518.90 369.1 519.10 367.0 519.30 369.6 519.50 367.2 519.70 368.8 519.90 367.2 520.10 369.5 520.30 367.1 520.50 369.2 520.70 366.6 520.90 368.8 521.10 366.7 521.30 368.9 521.50 365.7 521.70 369.3 521.90 366.7 522.10 369.5 522.30 365.6 522.50 369.5 522.70 366.3 522.90 369.3 523.10 366.6 523.30 369.6 523.50 367.1 523.70 369.2 523.90 365.4 524.10 369.8 524.30 366.8 524.50 369.1 524.70 366.4 524.90 369.2 525.10 365.9 525.30 369.0 525.50 367.2 525.70 369.2 525.90 365.0 526.10 369.5 526.30 366.8 526.50 368.9 526.70 367.2 526.90 369.0 527.10 365.5 527.30 368.8 527.50 366.5 527.70 368.8 527.90 365.4 528.10 369.0 528.30 367.1 528.50 369.0 528.70 367.1 528.90 369.7 529.10 367.1 529.30 369.2 529.50 367.3 529.70 368.9 529.90 367.2 530.10 369.6 530.30 367.2 530.50 368.9 530.70 367.1 530.90 369.7 531.10 365.0 531.30 369.7 531.50 365.5 531.70 368.7 531.90 366.8 532.10 369.2 532.30 366.7 532.50 370.9 532.70 367.1 532.90 369.0 533.10 366.1 533.30 368.9 533.50 365.0 533.70 370.2 533.90 367.1 534.10 368.9 534.30 366.4 534.50 369.6 534.70 366.7 534.90 369.5 535.10 367.1 535.30 370.6 535.50 367.0 535.70 369.7 535.90 366.8 536.10 368.9 536.30 366.9 536.50 369.6 536.70 366.7 536.90 370.8 537.10 366.1 537.30 369.1 537.50 367.0 537.70 369.2 537.90 367.2 538.10 369.0 538.30 367.0 538.50 368.8 538.70 366.6 538.90 368.7 539.10 367.0 539.30 370.5 539.50 365.0 539.70 369.0 539.90 365.2 540.10 368.7 540.30 366.0 540.50 368.8 540.70 365.0 540.90 370.6 541.10 367.0 541.30 370.2 541.50 365.0 541.70 369.5 541.90 367.2 542.10 369.7 542.30 366.5 542.50 368.9 542.70 366.8 542.90 368.8 543.10 365.1 543.30 369.2 543.50 366.9 543.70 368.9 543.90 366.1 544.10 368.8 544.30 367.1 544.50 369.3 544.70 366.9 544.90 371.0 545.10 366.6 545.30 369.3 545.50 366.0 545.70 369.3 545.90 367.3 546.10 368.8 546.30 366.7 546.50 369.2 546.70 366.5 546.90 369.2 547.10 365.8 547.30 370.1 547.50 365.7 547.70 370.4 547.90 367.0 548.10 369.6 548.30 366.8 548.50 371.0 548.70 367.1 548.90 368.8 549.10 366.2 549.30 369.5 549.50 366.9 549.70 369.2 549.90 365.9 550.10 369.6 550.30 365.7 550.50 368.7 550.70 366.6 550.90 370.3 551.10 367.2 551.30 370.4 551.50 365.4 551.70 369.6 551.90 366.2 552.10 369.9 552.30 366.4 552.50 369.9 552.70 366.8 552.90 369.0 553.10 366.8 553.30 368.8 553.50 366.9 553.70 370.4 553.90 366.4 554.10 369.2 554.30 365.4 554.50 370.1 554.70 366.6 554.90 368.9 555.10 366.6 555.30 368.8 555.50 366.5 555.70 369.8 555.90 367.2 556.10 369.6 556.30 367.0 556.50 369.1 556.70 367.2 556.90 369.6 557.10 366.4 557.30 369.4 557.50 366.9 557.70 371.0 557.90 367.3 558.10 369.0 558.30 366.4 558.50 369.1 558.70 367.2 558.90 368.8 559.10 367.0 559.30 368.8 559.50 367.0 559.70 369.7 559.90 367.0 560.10 369.8 560.30 365.7 560.50 369.5 560.70 367.2 560.90 368.9 561.10 366.9 561.30 369.2 561.50 366.0 561.70 368.7 561.90 366.9 562.10 369.6 562.30 366.6 562.50 368.9 562.70 366.5 562.90 369.4 563.10 367.0 563.30 369.8 563.50 366.4 563.70 368.7 563.90 366.0 564.10 369.1 564.30 365.0 564.50 369.1 564.70 365.5 564.90 369.7 565.10 367.0 565.30 369.9 565.50 365.5 565.70 368.7 565.90 367.0 566.10 369.1 566.30 367.0 566.50 368.9 566.70 366.7 566.90 368.8 567.10 366.3 567.30 368.9 567.50 367.3 567.70 368.8 567.90 367.2 568.10 369.8 568.30 365.7 568.50 368.8 568.70 367.2 568.90 369.1 569.10 365.0 569.30 369.5 569.50 366.7 569.70 368.7 569.90 367.3 570.10 371.0 570.30 366.1 570.50 369.5 570.70 367.3 570.90 369.1 571.10 367.2 571.30 369.3 571.50 366.8 571.70 368.8 571.90 365.9 572.10 369.9 572.30 366.8 572.50 369.1 572.70 365.0 572.90 369.7 573.10 367.0 573.30 369.5 573.50 367.2 573.70 369.0 573.90 366.7 574.10 371.0 574.30 367.0 574.50 368.9 574.70 367.0 574.90 369.1 575.10 366.9 575.30 369.5 575.50 366.7 575.70 369.0 575.90 366.9 576.10 368.8 576.30 366.3 576.50 369.0 576.70 366.8 576.90 369.0 577.10 367.1 577.30 370.6 577.50 366.5 577.70 368.9 577.90 367.1 578.10 370.1 578.30 366.4 578.50 369.2 578.70 367.2 578.90 369.5 579.10 367.1 579.30 369.6 579.50 365.6 579.70 370.9 579.90 365.3 580.10 368.8 580.30 366.8 580.50 369.0 580.70 366.6 580.90 369.2 581.10 367.1 581.30 368.7 581.50 367.3 581.70 369.8 581.90 365.0 582.10 370.6 582.30 365.8 582.50 370.1 582.70 366.7 582.90 368.8 583.10 367.0 583.30 368.9 583.50 365.0 583.70 370.1 583.90 365.7 584.10 369.6 584.30 367.1 584.50 368.8 584.70 366.7 584.90 369.3 585.10 365.0 585.30 371.0 585.50 365.9 585.70 369.0 585.90 365.7 586.10 368.9 586.30 367.1 586.50 368.9 586.70 366.0 586.90 368.7 587.10 367.1 587.30 370.0 587.50 367.0 587.70 369.3 587.90 367.1 588.10 369.2 588.30 367.1 588.50 369.5 588.70 366.3 588.90 368.8 589.10 367.2 589.30 369.2 589.50 367.0 589.70 369.1 589.90 366.5 590.10 370.4 590.30 366.4 590.50 369.3 590.70 366.9 590.90 369.9 591.10 367.0 591.30 369.0 591.50 364.8 591.70 369.0 591.90 366.3 592.10 369.8 592.30 366.6 592.50 372.4 592.70 365.4 592.90 369.8 593.10 363.3 593.30 369.3 593.50 363.3 593.70 370.7 593.90 366.5 594.10 369.3 594.30 366.3 594.50 370.2 594.70 365.0 594.90 369.5 595.10 366.5 595.30 372.5 595.50 365.4 595.70 369.6 595.90 366.9 596.10 369.6 596.30 366.7 596.50 371.4 596.70 366.9 596.90 372.6 597.10 363.6 597.30 370.0 597.50 366.8 597.70 372.1 597.90 366.6 598.10 371.0 598.30 366.7 598.50 371.6 598.70 366.5 598.90 369.1 599.10 366.7 599.30 371.1 599.50 366.4 599.70 369.6 599.90 366.7 600.10 372.4 600.30 366.6 600.50 370.1 600.70 365.9 600.90 369.5 601.10 366.5 601.30 369.6 601.50 366.3 601.70 369.2 601.90 366.6 602.10 371.0 602.30 364.3 602.50 369.1 602.70 366.7 602.90 369.5 603.10 366.7 603.30 369.3 603.50 366.8 603.70 369.3 603.90 366.1 604.10 369.6 604.30 363.8 604.50 370.9 604.70 363.3 604.90 369.9 605.10 363.3 605.30 372.0 605.50 366.5 605.70 370.1 605.90 366.8 606.10 372.7 606.30 366.2 606.50 369.7 606.70 363.7 606.90 369.5 607.10 365.9 607.30 369.4 607.50 366.4 607.70 370.7 607.90 366.7 608.10 372.7 608.30 366.5 608.50 369.8 608.70 365.9 608.90 369.1 609.10 364.6 609.30 370.1 609.50 365.3 609.70 372.7 609.90 365.2 610.10 369.2 610.30 366.9 610.50 369.6 610.70 366.5 610.90 371.6 611.10 366.2 611.30 369.9 611.50 366.6 611.70 369.3 611.90 366.6 612.10 369.0 612.30 366.8 612.50 369.1 612.70 366.4 612.90 369.4 613.10 366.8 613.30 371.1 613.50 366.3 613.70 369.1 613.90 367.0 614.10 369.2 614.30 367.3 614.50 368.8 614.70 366.3 614.90 369.4 615.10 366.9 615.30 369.0 615.50 367.2 615.70 369.3 615.90 366.3 616.10 369.3 616.30 367.2 616.50 368.7 616.70 366.1 616.90 369.2 617.10 366.4 617.30 368.6 617.50 367.0 617.70 370.3 617.90 367.3 618.10 369.6 618.30 367.0 618.50 368.8 618.70 365.7 618.90 368.6 619.10 366.3 619.30 368.8 619.50 365.7 619.70 370.1 619.90 367.2 620.10 369.5 620.30 367.3 620.50 369.1 620.70 366.1 620.90 368.6 621.10 366.9 621.30 368.6 621.50 367.0 621.70 369.1 621.90 367.1 622.10 368.8 622.30 367.3 622.50 368.7 622.70 367.0 622.90 369.4 623.10 367.2 623.30 368.6 623.50 367.2 623.70 369.3 623.90 366.8 624.10 369.3 624.30 366.9 624.50 369.0 624.70 367.2 624.90 368.6 625.10 366.6 625.30 369.6 625.50 367.4 625.70 368.6 625.90 366.9 626.10 368.6 626.30 367.2 626.50 369.4 626.70 367.2 626.90 368.9 627.10 367.1 627.30 369.0 627.50 366.8 627.70 369.0 627.90 367.0 628.10 368.9 628.30 365.5 628.50 368.9 628.70 367.0 628.90 368.7 629.10 367.0 629.30 369.5 629.50 367.2 629.70 369.2 629.90 366.5 630.10 368.7 630.30 367.3 630.50 368.7 630.70 367.2 630.90 368.6 631.10 367.3 631.30 369.1 631.50 367.3 631.70 368.9 631.90 366.2 632.10 369.8 632.30 366.9 632.50 368.6 632.70 367.0 632.90 370.1 633.10 367.3 633.30 369.4 633.50 367.2 633.70 370.2 633.90 367.2 634.10 368.7 634.30 367.3 634.50 370.5 634.70 366.6 634.90 368.6 635.10 365.9 635.30 369.4 635.50 367.3 635.70 369.2 635.90 366.5 636.10 368.7 636.30 366.8 636.50 370.1 636.70 367.3 636.90 368.9 637.10 365.8 637.30 370.5 637.50 366.9 637.70 368.9 637.90 367.4 638.10 368.6 638.30 366.9 638.50 368.9 638.70 366.6 638.90 368.6 639.10 367.3 639.30 369.7 639.50 367.0 639.70 369.8 639.90 367.0 640.10 370.2 640.30 367.0 640.50 368.9 640.70 366.0 640.90 369.9 641.10 367.1 641.30 369.6 641.50 367.2 641.70 369.5 641.90 367.2 642.10 370.5 642.30 366.9 642.50 368.9 642.70 366.4 642.90 369.3 643.10 366.0 643.30 368.8 643.50 367.0 643.70 368.8 643.90 366.6 644.10 368.7 644.30 367.1 644.50 369.0 644.70 366.8 644.90 368.8 645.10 367.2 645.30 369.3 645.50 367.1 645.70 370.2 645.90 367.1 646.10 368.7 646.30 366.5 646.50 368.8 646.70 365.6 646.90 368.8 647.10 365.6 647.30 368.7 647.50 367.0 647.70 368.6 647.90 366.4 648.10 368.6 648.30 366.7 648.50 368.9 648.70 366.6 648.90 370.1 649.10 367.1 649.30 368.7 649.50 367.3 649.70 369.8 649.90 366.2 650.10 369.3 650.30 366.6 650.50 368.8 650.70 367.2 650.90 368.7 651.10 367.4 651.30 368.8 651.50 367.3 651.70 368.8 651.90 365.6 652.10 369.2 652.30 367.4 652.50 368.8 652.70 367.2 652.90 369.0 653.10 367.0 653.30 369.4 653.50 367.4 653.70 368.6 653.90 366.8 654.10 369.6 654.30 365.7 654.50 369.1 654.70 366.5 654.90 369.1 655.10 367.2 655.30 368.8 655.50 367.3 655.70 369.7 655.90 366.3 656.10 369.6 656.30 366.7 656.50 369.0 656.70 367.2 656.90 368.8 657.10 367.3 657.30 369.5" fill="none" stroke="#0000ff" stroke-width="0.5" stroke-linejoin="bevel"/>
<path d="M210.2 366.0V394.0M243.2 353.4V383.8M383.4 341.5V370.0M370.7 354.5V380.9M366.0 356.0V380.0M494.5 336.1V368.0M495.7 366.0V389.4M526.3 366.0V399.6M549.7 360.0V375.0M585.4 366.0V385.7" stroke="#0000ff" stroke-opacity="0.38" stroke-width="1"/>
<path d="M184.50 605.7 184.70 601.7 184.90 606.3 185.10 601.1 185.30 605.2 185.50 600.1 185.70 605.7 185.90 601.7 186.10 606.3 186.30 600.5 186.50 605.2 186.70 602.6 186.90 606.2 187.10 602.2 187.30 606.3 187.50 602.6 187.70 607.9 187.90 603.1 188.10 606.2 188.30 602.6 188.50 604.9 188.70 602.0 188.90 605.0 189.10 602.8 189.30 605.3 189.50 602.9 189.70 605.1 189.90 603.0 190.10 606.8 190.30 603.0 190.50 605.1 190.70 603.0 190.90 607.3 191.10 602.3 191.30 606.6 191.50 600.1 191.70 605.6 191.90 602.6 192.10 605.4 192.30 602.8 192.50 605.8 192.70 600.1 192.90 605.6 193.10 601.7 193.30 607.1 193.50 601.3 193.70 606.0 193.90 602.3 194.10 605.0 194.30 602.6 194.50 606.8 194.70 602.5 194.90 606.1 195.10 602.8 195.30 605.8 195.50 602.8 195.70 606.5 195.90 601.4 196.10 604.9 196.30 602.0 196.50 605.0 196.70 600.1 196.90 605.1 197.10 602.9 197.30 607.1 197.50 602.1 197.70 604.9 197.90 602.4 198.10 606.7 198.30 602.9 198.50 606.3 198.70 602.7 198.90 605.5 199.10 602.6 199.30 605.0 199.50 602.6 199.70 605.7 199.90 602.1 200.10 605.7 200.30 602.9 200.50 605.9 200.70 602.7 200.90 607.2 201.10 603.0 201.30 606.4 201.50 603.0 201.70 605.8 201.90 602.6 202.10 605.5 202.30 601.9 202.50 606.5 202.70 603.1 202.90 607.1 203.10 602.0 203.30 605.0 203.50 601.9 203.70 606.6 203.90 602.6 204.10 607.0 204.30 602.9 204.50 605.5 204.70 602.8 204.90 606.7 205.10 602.7 205.30 605.2 205.50 600.0 205.70 605.5 205.90 602.4 206.10 606.2 206.30 602.9 206.50 606.6 206.70 601.9 206.90 605.6 207.10 601.4 207.30 607.0 207.50 603.0 207.70 608.0 207.90 602.3 208.10 606.5 208.30 601.9 208.50 608.0 208.70 601.6 208.90 605.2 209.10 602.9 209.30 605.5 209.50 602.8 209.70 605.2 209.90 602.3 210.10 605.6 210.30 602.5 210.50 606.4 210.70 602.9 210.90 605.5 211.10 602.5 211.30 605.9 211.50 601.0 211.70 605.8 211.90 603.1 212.10 605.9 212.30 602.6 212.50 605.5 212.70 602.2 212.90 605.2 213.10 601.4 213.30 605.4 213.50 602.6 213.70 605.7 213.90 603.0 214.10 605.3 214.30 600.0 214.50 605.1 214.70 602.6 214.90 606.4 215.10 602.4 215.30 605.9 215.50 601.1 215.70 606.8 215.90 602.5 216.10 605.4 216.30 603.0 216.50 606.3 216.70 602.9 216.90 605.6 217.10 602.9 217.30 606.4 217.50 602.4 217.70 605.1 217.90 602.2 218.10 605.0 218.30 602.6 218.50 605.3 218.70 601.6 218.90 605.9 219.10 602.8 219.30 605.4 219.50 602.4 219.70 606.8 219.90 602.6 220.10 606.4 220.30 603.0 220.50 605.1 220.70 601.5 220.90 605.4 221.10 603.0 221.30 605.2 221.50 602.5 221.70 605.0 221.90 602.6 222.10 608.0 222.30 603.0 222.50 605.4 222.70 602.7 222.90 605.1 223.10 600.0 223.30 605.3 223.50 602.8 223.70 605.6 223.90 603.0 224.10 605.6 224.30 602.8 224.50 605.7 224.70 602.9 224.90 607.0 225.10 602.3 225.30 606.0 225.50 602.8 225.70 605.0 225.90 602.8 226.10 605.7 226.30 603.0 226.50 605.2 226.70 600.3 226.90 605.3 227.10 602.8 227.30 606.7 227.50 602.7 227.70 605.8 227.90 602.3 228.10 605.7 228.30 603.0 228.50 606.2 228.70 602.6 228.90 607.0 229.10 599.9 229.30 605.4 229.50 601.0 229.70 608.1 229.90 602.8 230.10 605.3 230.30 600.6 230.50 607.1 230.70 602.8 230.90 605.2 231.10 601.0 231.30 605.1 231.50 602.8 231.70 605.2 231.90 602.7 232.10 605.6 232.30 602.9 232.50 605.2 232.70 599.9 232.90 605.6 233.10 602.4 233.30 605.3 233.50 599.9 233.70 606.0 233.90 602.3 234.10 605.1 234.30 601.7 234.50 605.4 234.70 600.5 234.90 605.1 235.10 602.1 235.30 606.5 235.50 602.0 235.70 608.1 235.90 599.9 236.10 606.2 236.30 603.0 236.50 607.8 236.70 602.3 236.90 605.4 237.10 602.6 237.30 605.0 237.50 602.8 237.70 605.2 237.90 602.7 238.10 606.6 238.30 602.9 238.50 605.3 238.70 602.1 238.90 605.1 239.10 601.4 239.30 605.0 239.50 602.4 239.70 605.2 239.90 603.0 240.10 606.1 240.30 602.2 240.50 605.7 240.70 602.6 240.90 605.5 241.10 602.9 241.30 605.0 241.50 602.3 241.70 606.2 241.90 602.7 242.10 605.7 242.30 602.3 242.50 605.5 242.70 602.8 242.90 605.8 243.10 602.6 243.30 605.6 243.50 601.4 243.70 605.9 243.90 601.4 244.10 606.5 244.30 602.1 244.50 605.2 244.70 600.9 244.90 605.7 245.10 601.2 245.30 605.1 245.50 601.9 245.70 605.9 245.90 601.1 246.10 606.4 246.30 601.3 246.50 605.8 246.70 600.2 246.90 606.3 247.10 602.8 247.30 608.2 247.50 602.7 247.70 605.2 247.90 602.6 248.10 606.7 248.30 602.0 248.50 605.8 248.70 602.7 248.90 605.8 249.10 601.1 249.30 606.1 249.50 602.3 249.70 606.5 249.90 602.7 250.10 605.1 250.30 601.5 250.50 605.1 250.70 603.0 250.90 606.8 251.10 602.3 251.30 605.0 251.50 602.6 251.70 605.2 251.90 602.2 252.10 605.6 252.30 600.9 252.50 605.0 252.70 602.1 252.90 606.2 253.10 602.8 253.30 606.8 253.50 600.2 253.70 606.0 253.90 601.6 254.10 607.1 254.30 599.8 254.50 605.5 254.70 602.7 254.90 605.2 255.10 602.5 255.30 606.4 255.50 599.8 255.70 605.9 255.90 602.0 256.10 606.1 256.30 603.0 256.50 605.1 256.70 603.0 256.90 606.8 257.10 601.1 257.30 605.2 257.50 600.9 257.70 605.2 257.90 602.4 258.10 605.7 258.30 599.8 258.50 605.8 258.70 603.0 258.90 608.2 259.10 600.8 259.30 607.9 259.50 599.8 259.70 605.0 259.90 602.9 260.10 605.2 260.30 602.2 260.50 605.3 260.70 602.9 260.90 606.0 261.10 600.2 261.30 605.6 261.50 602.7 261.70 607.1 261.90 601.7 262.10 605.9 262.30 602.9 262.50 606.2 262.70 603.0 262.90 606.1 263.10 601.1 263.30 606.8 263.50 601.6 263.70 605.0 263.90 601.5 264.10 605.4 264.30 602.9 264.50 606.1 264.70 602.1 264.90 606.5 265.10 601.5 265.30 605.0 265.50 602.1 265.70 605.2 265.90 602.5 266.10 605.1 266.30 602.7 266.50 605.7 266.70 602.1 266.90 608.2 267.10 602.8 267.30 605.7 267.50 602.8 267.70 606.4 267.90 602.0 268.10 606.2 268.30 601.7 268.50 605.9 268.70 601.8 268.90 605.8 269.10 602.6 269.30 605.6 269.50 602.2 269.70 605.7 269.90 602.8 270.10 605.6 270.30 602.8 270.50 605.5 270.70 601.5 270.90 605.1 271.10 602.3 271.30 607.7 271.50 603.0 271.70 606.4 271.90 601.5 272.10 605.1 272.30 602.8 272.50 608.3 272.70 601.5 272.90 605.7 273.10 602.0 273.30 605.1 273.50 600.6 273.70 605.9 273.90 602.2 274.10 607.7 274.30 602.5 274.50 607.1 274.70 602.9 274.90 607.4 275.10 602.5 275.30 605.0 275.50 601.3 275.70 605.7 275.90 602.1 276.10 605.8 276.30 602.8 276.50 608.3 276.70 602.1 276.90 608.0 277.10 603.0 277.30 606.6 277.50 601.9 277.70 606.0 277.90 602.8 278.10 606.3 278.30 602.2 278.50 605.3 278.70 602.7 278.90 605.1 279.10 602.2 279.30 608.3 279.50 600.3 279.70 606.3 279.90 602.6 280.10 605.4 280.30 601.6 280.50 605.3 280.70 601.4 280.90 605.2 281.10 602.6 281.30 605.6 281.50 602.9 281.70 605.4 281.90 602.2 282.10 605.7 282.30 602.6 282.50 605.3 282.70 603.0 282.90 605.5 283.10 599.7 283.30 605.5 283.50 600.4 283.70 605.6 283.90 602.5 284.10 605.2 284.30 602.9 284.50 605.2 284.70 602.2 284.90 608.3 285.10 600.0 285.30 605.2 285.50 601.0 285.70 605.9 285.90 600.6 286.10 605.8 286.30 601.6 286.50 605.5 286.70 602.2 286.90 605.5 287.10 601.0 287.30 605.2 287.50 601.4 287.70 606.0 287.90 599.7 288.10 606.1 288.30 602.8 288.50 606.9 288.70 600.9 288.90 605.1 289.10 602.8 289.30 607.3 289.50 602.5 289.70 606.0 289.90 603.0 290.10 607.7 290.30 602.1 290.50 605.8 290.70 601.0 290.90 605.1 291.10 599.6 291.30 605.1 291.50 602.3 291.70 608.4 291.90 602.7 292.10 605.8 292.30 602.3 292.50 605.6 292.70 602.3 292.90 605.9 293.10 600.1 293.30 605.1 293.50 602.6 293.70 605.4 293.90 600.7 294.10 605.1 294.30 602.7 294.50 608.4 294.70 601.3 294.90 606.7 295.10 600.3 295.30 605.6 295.50 602.8 295.70 605.6 295.90 601.9 296.10 605.1 296.30 602.2 296.50 606.3 296.70 602.2 296.90 605.2 297.10 599.6 297.30 605.3 297.50 602.3 297.70 605.0 297.90 601.5 298.10 607.8 298.30 601.6 298.50 605.4 298.70 600.8 298.90 605.5 299.10 602.1 299.30 606.1 299.50 599.9 299.70 608.2 299.90 602.2 300.10 606.1 300.30 601.8 300.50 605.8 300.70 602.1 300.90 606.4 301.10 602.2 301.30 606.1 301.50 599.6 301.70 606.7 301.90 602.6 302.10 606.9 302.30 602.1 302.50 606.8 302.70 602.1 302.90 605.5 303.10 601.2 303.30 608.4 303.50 602.7 303.70 607.1 303.90 602.5 304.10 605.6 304.30 600.7 304.50 605.2 304.70 600.4 304.90 607.7 305.10 601.3 305.30 605.1 305.50 602.6 305.70 605.2 305.90 602.7 306.10 605.6 306.30 602.6 306.50 606.0 306.70 602.4 306.90 606.8 307.10 601.6 307.30 605.9 307.50 602.5 307.70 605.3 307.90 600.2 308.10 608.5 308.30 602.5 308.50 605.9 308.70 602.7 308.90 605.3 309.10 602.6 309.30 606.3 309.50 601.6 309.70 605.9 309.90 602.7 310.10 608.5 310.30 602.0 310.50 605.3 310.70 602.8 310.90 605.6 311.10 602.9 311.30 605.4 311.50 599.4 311.70 605.7 311.90 602.9 312.10 605.5 312.30 602.1 312.50 605.3 312.70 599.4 312.90 607.6 313.10 602.2 313.30 606.1 313.50 602.7 313.70 606.4 313.90 602.7 314.10 608.0 314.30 599.4 314.50 605.3 314.70 602.2 314.90 605.3 315.10 602.7 315.30 605.1 315.50 602.4 315.70 606.8 315.90 602.7 316.10 606.6 316.30 601.7 316.50 605.9 316.70 600.6 316.90 608.1 317.10 601.6 317.30 605.9 317.50 600.3 317.70 607.1 317.90 602.7 318.10 606.2 318.30 602.2 318.50 605.3 318.70 602.8 318.90 606.0 319.10 602.7 319.30 606.0 319.50 602.8 319.70 605.3 319.90 602.6 320.10 605.3 320.30 602.1 320.50 607.3 320.70 602.8 320.90 605.2 321.10 601.9 321.30 608.2 321.50 602.6 321.70 607.9 321.90 599.3 322.10 605.1 322.30 602.8 322.50 605.9 322.70 602.0 322.90 607.5 323.10 602.5 323.30 605.2 323.50 602.8 323.70 607.4 323.90 602.3 324.10 607.1 324.30 602.1 324.50 606.9 324.70 600.7 324.90 607.4 325.10 599.3 325.30 605.9 325.50 599.2 325.70 605.8 325.90 602.4 326.10 606.8 326.30 602.1 326.50 605.5 326.70 601.3 326.90 605.6 327.10 602.1 327.30 605.6 327.50 601.2 327.70 605.7 327.90 602.5 328.10 606.8 328.30 601.5 328.50 605.4 328.70 602.8 328.90 605.7 329.10 602.8 329.30 605.2 329.50 602.7 329.70 608.3 329.90 602.1 330.10 606.4 330.30 602.7 330.50 606.5 330.70 601.9 330.90 608.6 331.10 601.3 331.30 605.6 331.50 601.6 331.70 606.0 331.90 602.8 332.10 607.1 332.30 602.5 332.50 607.4 332.70 602.5 332.90 608.9 333.10 602.7 333.30 605.4 333.50 601.5 333.70 607.9 333.90 599.1 334.10 605.2 334.30 602.7 334.50 605.2 334.70 602.4 334.90 607.0 335.10 602.7 335.30 605.6 335.50 602.5 335.70 606.7 335.90 602.3 336.10 608.0 336.30 602.6 336.50 606.7 336.70 601.2 336.90 605.7 337.10 602.8 337.30 605.9 337.50 601.2 337.70 605.2 337.90 602.3 338.10 605.3 338.30 602.4 338.50 605.3 338.70 602.2 338.90 608.6 339.10 602.2 339.30 605.6 339.50 602.8 339.70 605.6 339.90 602.6 340.10 605.2 340.30 602.0 340.50 605.8 340.70 601.4 340.90 607.1 341.10 602.1 341.30 605.4 341.50 602.7 341.70 605.3 341.90 602.3 342.10 605.5 342.30 602.0 342.50 607.0 342.70 602.5 342.90 606.2 343.10 602.5 343.30 605.9 343.50 602.0 343.70 607.2 343.90 600.8 344.10 605.9 344.30 602.7 344.50 605.9 344.70 601.5 344.90 607.1 345.10 602.6 345.30 605.7 345.50 602.2 345.70 605.2 345.90 601.4 346.10 605.3 346.30 599.0 346.50 608.3 346.70 599.7 346.90 605.7 347.10 601.4 347.30 606.3 347.50 601.6 347.70 609.0 347.90 602.6 348.10 606.3 348.30 602.5 348.50 606.0 348.70 602.3 348.90 605.9 349.10 602.7 349.30 605.3 349.50 601.3 349.70 606.1 349.90 601.6 350.10 607.4 350.30 602.2 350.50 609.0 350.70 602.0 350.90 609.0 351.10 602.6 351.30 605.7 351.50 602.0 351.70 605.7 351.90 600.4 352.10 606.9 352.30 600.8 352.50 605.3 352.70 602.5 352.90 609.0 353.10 601.8 353.30 608.3 353.50 602.4 353.70 607.3 353.90 598.9 354.10 606.5 354.30 601.2 354.50 606.3 354.70 602.6 354.90 605.3 355.10 599.1 355.30 605.5 355.50 602.7 355.70 605.9 355.90 602.0 356.10 605.3 356.30 602.1 356.50 607.7 356.70 602.0 356.90 607.3 357.10 600.8 357.30 605.5 357.50 601.5 357.70 609.1 357.90 602.7 358.10 607.8 358.30 602.7 358.50 605.2 358.70 602.1 358.90 605.5 359.10 601.8 359.30 605.5 359.50 602.4 359.70 605.8 359.90 602.4 360.10 606.8 360.30 601.6 360.50 607.1 360.70 599.6 360.90 605.4 361.10 601.7 361.30 605.9 361.50 601.9 361.70 605.8 361.90 602.7 362.10 605.4 362.30 602.6 362.50 609.2 362.70 602.2 362.90 605.8 363.10 601.6 363.30 606.2 363.50 601.2 363.70 605.9 363.90 601.9 364.10 606.4 364.30 600.1 364.50 605.7 364.70 602.2 364.90 605.8 365.10 600.2 365.30 606.4 365.50 602.5 365.70 605.4 365.90 599.0 366.10 605.9 366.30 602.7 366.50 606.1 366.70 602.7 366.90 605.6 367.10 598.8 367.30 606.6 367.50 602.7 367.70 606.6 367.90 600.0 368.10 605.2 368.30 600.7 368.50 605.4 368.70 602.7 368.90 607.0 369.10 598.8 369.30 605.8 369.50 598.8 369.70 605.6 369.90 601.6 370.10 606.8 370.30 600.6 370.50 605.4 370.70 602.8 370.90 605.2 371.10 601.5 371.30 606.5 371.50 602.3 371.70 607.1 371.90 600.1 372.10 606.0 372.30 602.2 372.50 605.4 372.70 601.8 372.90 607.3 373.10 602.5 373.30 607.9 373.50 601.9 373.70 605.3 373.90 601.9 374.10 606.0 374.30 601.5 374.50 605.9 374.70 600.3 374.90 605.6 375.10 602.4 375.30 609.3 375.50 602.7 375.70 609.0 375.90 601.1 376.10 605.7 376.30 602.3 376.50 606.0 376.70 598.7 376.90 606.9 377.10 602.6 377.30 609.3 377.50 601.3 377.70 607.3 377.90 602.0 378.10 605.6 378.30 601.6 378.50 609.3 378.70 602.6 378.90 605.8 379.10 600.4 379.30 605.6 379.50 601.2 379.70 609.3 379.90 600.9 380.10 605.9 380.30 602.7 380.50 606.2 380.70 600.1 380.90 607.0 381.10 602.1 381.30 607.2 381.50 601.8 381.70 606.6 381.90 602.4 382.10 606.2 382.30 602.6 382.50 605.8 382.70 598.7 382.90 605.3 383.10 600.9 383.30 605.6 383.50 601.7 383.70 606.3 383.90 602.0 384.10 605.7 384.30 599.3 384.50 606.8 384.70 599.1 384.90 608.8 385.10 602.4 385.30 605.4 385.50 601.3 385.70 609.0 385.90 601.1 386.10 606.2 386.30 602.1 386.50 608.8 386.70 598.9 386.90 606.1 387.10 602.5 387.30 608.3 387.50 602.6 387.70 606.9 387.90 601.9 388.10 605.4 388.30 602.1 388.50 605.5 388.70 601.1 388.90 606.5 389.10 600.6 389.30 607.8 389.50 602.6 389.70 605.4 389.90 602.7 390.10 606.3 390.30 601.2 390.50 608.8 390.70 602.5 390.90 607.8 391.10 602.4 391.30 609.1 391.50 602.7 391.70 606.8 391.90 602.0 392.10 606.0 392.30 601.3 392.50 606.0 392.70 602.5 392.90 606.2 393.10 602.6 393.30 609.4 393.50 601.7 393.70 605.8 393.90 602.1 394.10 609.4 394.30 601.8 394.50 608.6 394.70 600.8 394.90 605.6 395.10 602.3 395.30 606.7 395.50 601.8 395.70 606.7 395.90 599.7 396.10 605.7 396.30 601.8 396.50 607.7 396.70 602.1 396.90 605.9 397.10 601.2 397.30 606.2 397.50 598.5 397.70 605.3 397.90 598.5 398.10 609.3 398.30 601.6 398.50 605.3 398.70 601.5 398.90 606.5 399.10 601.0 399.30 606.8 399.50 601.1 399.70 606.4 399.90 602.4 400.10 605.6 400.30 601.9 400.50 606.8 400.70 598.9 400.90 605.4 401.10 601.1 401.30 605.5 401.50 602.2 401.70 607.1 401.90 599.8 402.10 605.5 402.30 601.7 402.50 606.6 402.70 602.0 402.90 605.9 403.10 602.0 403.30 606.4 403.50 600.2 403.70 605.4 403.90 600.8 404.10 605.7 404.30 601.8 404.50 609.2 404.70 600.9 404.90 606.2 405.10 601.3 405.30 605.3 405.50 602.5 405.70 606.3 405.90 602.7 406.10 605.3 406.30 602.2 406.50 607.4 406.70 599.9 406.90 607.1 407.10 602.6 407.30 606.9 407.50 601.1 407.70 606.2 407.90 602.6 408.10 606.9 408.30 601.5 408.50 605.7 408.70 600.6 408.90 607.3 409.10 600.4 409.30 609.4 409.50 602.5 409.70 606.3 409.90 602.2 410.10 605.5 410.30 602.3 410.50 607.1 410.70 602.0 410.90 606.6 411.10 601.5 411.30 607.0 411.50 602.3 411.70 606.7 411.90 602.1 412.10 606.9 412.30 601.0 412.50 606.5 412.70 600.9 412.90 605.7 413.10 602.1 413.30 607.3 413.50 599.8 413.70 607.1 413.90 600.3 414.10 606.1 414.30 600.6 414.50 607.1 414.70 602.1 414.90 605.9 415.10 602.3 415.30 606.0 415.50 601.9 415.70 606.8 415.90 600.6 416.10 607.2 416.30 599.9 416.50 609.3 416.70 602.3 416.90 607.7 417.10 602.7 417.30 607.2 417.50 600.3 417.70 605.6 417.90 601.3 418.10 605.4 418.30 601.9 418.50 606.1 418.70 598.9 418.90 605.3 419.10 602.4 419.30 605.3 419.50 601.5 419.70 607.3 419.90 601.4 420.10 606.0 420.30 601.5 420.50 605.8 420.70 601.8 420.90 605.9 421.10 601.6 421.30 607.0 421.50 598.8 421.70 605.5 421.90 602.5 422.10 605.7 422.30 601.0 422.50 605.2 422.70 602.5 422.90 607.2 423.10 602.2 423.30 605.4 423.50 601.7 423.70 605.9 423.90 598.8 424.10 607.6 424.30 602.6 424.50 605.4 424.70 601.0 424.90 605.3 425.10 602.2 425.30 607.5 425.50 599.6 425.70 606.2 425.90 601.7 426.10 606.6 426.30 601.5 426.50 605.5 426.70 601.1 426.90 607.8 427.10 601.6 427.30 607.6 427.50 601.9 427.70 605.9 427.90 602.4 428.10 606.8 428.30 599.1 428.50 607.4 428.70 601.7 428.90 607.3 429.10 602.4 429.30 607.4 429.50 602.4 429.70 608.4 429.90 601.7 430.10 607.5 430.30 602.7 430.50 605.7 430.70 600.3 430.90 606.4 431.10 601.9 431.30 606.7 431.50 602.7 431.70 605.5 431.90 600.8 432.10 605.3 432.30 600.8 432.50 605.9 432.70 602.0 432.90 605.5 433.10 602.2 433.30 606.4 433.50 602.6 433.70 605.5 433.90 598.8 434.10 606.6 434.30 602.5 434.50 605.5 434.70 602.5 434.90 607.0 435.10 602.2 435.30 605.3 435.50 601.6 435.70 605.5 435.90 602.0 436.10 606.0 436.30 601.3 436.50 605.8 436.70 601.9 436.90 605.8 437.10 601.6 437.30 606.1 437.50 600.7 437.70 608.4 437.90 600.7 438.10 606.3 438.30 602.2 438.50 606.7 438.70 601.4 438.90 605.5 439.10 601.6 439.30 605.8 439.50 602.2 439.70 607.9 439.90 601.6 440.10 605.6 440.30 602.2 440.50 607.3 440.70 600.9 440.90 606.5 441.10 602.5 441.30 606.2 441.50 600.4 441.70 606.8 441.90 601.9 442.10 605.3 442.30 602.6 442.50 606.4 442.70 601.4 442.90 605.8 443.10 601.4 443.30 605.9 443.50 602.2 443.70 606.0 443.90 600.7 444.10 605.9 444.30 598.8 444.50 606.2 444.70 602.7 444.90 605.3 445.10 600.4 445.30 605.4 445.50 602.0 445.70 606.5 445.90 601.0 446.10 608.5 446.30 601.2 446.50 605.9 446.70 601.9 446.90 605.4 447.10 600.3 447.30 606.6 447.50 600.9 447.70 605.6 447.90 602.6 448.10 605.5 448.30 600.0 448.50 605.5 448.70 602.3 448.90 606.2 449.10 602.6 449.30 608.1 449.50 598.8 449.70 605.6 449.90 602.3 450.10 606.1 450.30 602.6 450.50 606.1 450.70 602.2 450.90 609.2 451.10 600.6 451.30 608.7 451.50 602.3 451.70 608.6 451.90 602.7 452.10 605.3 452.30 602.7 452.50 605.8 452.70 602.0 452.90 605.5 453.10 602.7 453.30 608.0 453.50 600.6 453.70 607.4 453.90 601.7 454.10 607.6 454.30 602.5 454.50 605.8 454.70 601.7 454.90 605.9 455.10 598.8 455.30 606.3 455.50 601.8 455.70 605.7 455.90 602.6 456.10 606.2 456.30 602.6 456.50 605.8 456.70 602.4 456.90 607.2 457.10 602.4 457.30 606.9 457.50 601.5 457.70 605.8 457.90 602.0 458.10 606.2 458.30 602.7 458.50 606.3 458.70 601.3 458.90 605.7 459.10 600.6 459.30 605.4 459.50 602.7 459.70 605.7 459.90 602.4 460.10 606.3 460.30 602.3 460.50 605.9 460.70 599.6 460.90 605.4 461.10 600.8 461.30 606.5 461.50 602.3 461.70 605.5 461.90 602.5 462.10 605.7 462.30 600.0 462.50 606.3 462.70 600.9 462.90 607.1 463.10 601.8 463.30 605.9 463.50 602.3 463.70 605.5 463.90 602.3 464.10 606.7 464.30 602.5 464.50 606.3 464.70 600.8 464.90 606.2 465.10 599.7 465.30 605.3 465.50 599.9 465.70 605.3 465.90 601.1 466.10 606.3 466.30 600.7 466.50 605.8 466.70 602.8 466.90 606.6 467.10 598.8 467.30 606.8 467.50 601.4 467.70 606.2 467.90 600.7 468.10 605.8 468.30 601.6 468.50 605.8 468.70 602.4 468.90 605.4 469.10 602.5 469.30 607.1 469.50 599.7 469.70 607.0 469.90 600.2 470.10 606.9 470.30 602.4 470.50 605.6 470.70 600.9 470.90 607.2 471.10 602.6 471.30 606.7 471.50 602.4 471.70 605.3 471.90 602.5 472.10 605.9 472.30 601.5 472.50 605.6 472.70 600.4 472.90 606.2 473.10 602.4 473.30 609.2 473.50 601.3 473.70 605.2 473.90 601.7 474.10 605.6 474.30 602.6 474.50 606.2 474.70 602.3 474.90 605.8 475.10 602.6 475.30 607.8 475.50 601.0 475.70 605.3 475.90 602.2 476.10 605.6 476.30 599.8 476.50 607.9 476.70 602.2 476.90 606.0 477.10 602.2 477.30 607.3 477.50 602.2 477.70 608.2 477.90 601.3 478.10 607.2 478.30 601.0 478.50 605.5 478.70 601.2 478.90 606.2 479.10 602.6 479.30 605.3 479.50 602.3 479.70 606.2 479.90 601.0 480.10 608.8 480.30 602.7 480.50 605.3 480.70 602.5 480.90 609.3 481.10 601.2 481.30 607.4 481.50 601.3 481.70 606.2 481.90 601.1 482.10 606.5 482.30 602.5 482.50 608.6 482.70 602.5 482.90 606.4 483.10 599.9 483.30 606.1 483.50 602.5 483.70 608.6 483.90 599.0 484.10 606.1 484.30 601.5 484.50 606.5 484.70 602.6 484.90 606.1 485.10 600.7 485.30 609.4 485.50 602.5 485.70 605.7 485.90 602.5 486.10 609.5 486.30 602.1 486.50 605.7 486.70 600.7 486.90 606.4 487.10 600.5 487.30 608.6 487.50 602.4 487.70 607.7 487.90 601.2 488.10 606.6 488.30 602.6 488.50 605.9 488.70 600.2 488.90 608.3 489.10 600.8 489.30 605.5 489.50 600.9 489.70 608.0 489.90 602.1 490.10 607.9 490.30 600.2 490.50 606.0 490.70 599.8 490.90 605.7 491.10 602.4 491.30 609.7 491.50 601.4 491.70 606.1 491.90 602.1 492.10 609.3 492.30 602.3 492.50 607.1 492.70 600.2 492.90 606.9 493.10 602.3 493.30 606.2 493.50 602.2 493.70 608.8 493.90 601.9 494.10 609.5 494.30 602.0 494.50 606.4 494.70 602.6 494.90 605.9 495.10 602.6 495.30 607.5 495.50 602.2 495.70 605.8 495.90 601.8 496.10 607.3 496.30 602.2 496.50 605.9 496.70 602.2 496.90 606.4 497.10 600.5 497.30 606.1 497.50 601.9 497.70 606.5 497.90 602.2 498.10 607.4 498.30 602.3 498.50 606.1 498.70 601.7 498.90 606.8 499.10 601.2 499.30 606.9 499.50 602.4 499.70 606.0 499.90 602.6 500.10 606.7 500.30 601.5 500.50 610.0 500.70 600.8 500.90 605.6 501.10 599.9 501.30 607.0 501.50 601.7 501.70 608.0 501.90 600.8 502.10 607.3 502.30 601.1 502.50 606.4 502.70 602.6 502.90 606.4 503.10 598.2 503.30 609.8 503.50 601.2 503.70 606.6 503.90 599.9 504.10 606.0 504.30 600.8 504.50 605.5 504.70 602.0 504.90 605.5 505.10 599.2 505.30 606.4 505.50 601.8 505.70 606.4 505.90 602.5 506.10 608.3 506.30 601.9 506.50 605.6 506.70 600.6 506.90 605.5 507.10 599.1 507.30 605.8 507.50 602.2 507.70 606.7 507.90 602.0 508.10 606.9 508.30 602.4 508.50 607.0 508.70 598.7 508.90 605.5 509.10 602.0 509.30 606.6 509.50 602.6 509.70 605.7 509.90 600.6 510.10 605.6 510.30 601.9 510.50 607.8 510.70 602.4 510.90 606.1 511.10 602.4 511.30 606.4 511.50 602.0 511.70 607.7 511.90 602.0 512.10 605.4 512.30 602.7 512.50 606.0 512.70 601.6 512.90 605.4 513.10 602.1 513.30 606.8 513.50 602.0 513.70 609.1 513.90 601.4 514.10 609.1 514.30 601.6 514.50 608.7 514.70 602.1 514.90 605.4 515.10 602.7 515.30 607.6 515.50 602.5 515.70 605.7 515.90 600.7 516.10 608.8 516.30 601.6 516.50 606.0 516.70 601.2 516.90 606.4 517.10 602.7 517.30 605.8 517.50 601.5 517.70 606.0 517.90 602.8 518.10 605.4 518.30 602.8 518.50 606.9 518.70 599.9 518.90 605.6 519.10 600.4 519.30 605.2 519.50 602.5 519.70 605.1 519.90 601.6 520.10 605.6 520.30 602.7 520.50 606.5 520.70 600.3 520.90 605.2 521.10 600.3 521.30 606.9 521.50 602.8 521.70 605.3 521.90 602.7 522.10 608.7 522.30 602.6 522.50 606.1 522.70 602.5 522.90 606.6 523.10 600.6 523.30 606.0 523.50 602.9 523.70 605.9 523.90 602.9 524.10 607.3 524.30 599.3 524.50 605.2 524.70 602.4 524.90 607.2 525.10 602.4 525.30 605.4 525.50 602.5 525.70 608.2 525.90 601.9 526.10 607.0 526.30 601.8 526.50 608.0 526.70 602.8 526.90 607.2 527.10 602.8 527.30 605.7 527.50 601.7 527.70 605.7 527.90 602.6 528.10 605.2 528.30 600.1 528.50 606.0 528.70 602.7 528.90 605.4 529.10 602.5 529.30 605.9 529.50 599.6 529.70 607.0 529.90 601.1 530.10 605.1 530.30 601.5 530.50 606.2 530.70 602.8 530.90 605.9 531.10 602.7 531.30 608.6 531.50 601.8 531.70 605.4 531.90 602.7 532.10 606.6 532.30 600.2 532.50 605.9 532.70 601.9 532.90 607.4 533.10 602.5 533.30 606.0 533.50 599.3 533.70 607.5 533.90 602.2 534.10 606.8 534.30 599.4 534.50 605.9 534.70 602.9 534.90 606.1 535.10 602.8 535.30 605.7 535.50 602.5 535.70 605.5 535.90 601.9 536.10 606.4 536.30 601.7 536.50 605.2 536.70 601.4 536.90 607.1 537.10 602.1 537.30 607.7 537.50 602.6 537.70 607.5 537.90 602.6 538.10 606.0 538.30 602.4 538.50 605.7 538.70 602.8 538.90 605.7 539.10 600.5 539.30 606.2 539.50 601.9 539.70 605.7 539.90 599.3 540.10 607.3 540.30 602.7 540.50 606.8 540.70 602.1 540.90 607.6 541.10 601.9 541.30 605.3 541.50 601.9 541.70 605.5 541.90 602.6 542.10 606.6 542.30 601.9 542.50 605.2 542.70 602.5 542.90 606.9 543.10 599.3 543.30 605.7 543.50 602.9 543.70 605.6 543.90 601.8 544.10 606.5 544.30 600.2 544.50 606.0 544.70 601.6 544.90 606.7 545.10 602.2 545.30 605.3 545.50 601.4 545.70 607.2 545.90 602.7 546.10 606.4 546.30 602.1 546.50 606.5 546.70 602.6 546.90 606.7 547.10 602.7 547.30 605.6 547.50 601.5 547.70 605.6 547.90 602.8 548.10 608.4 548.30 602.7 548.50 606.7 548.70 602.3 548.90 605.6 549.10 600.7 549.30 605.6 549.50 602.8 549.70 605.2 549.90 602.2 550.10 607.9 550.30 602.5 550.50 606.7 550.70 600.2 550.90 605.2 551.10 600.7 551.30 607.5 551.50 602.7 551.70 607.0 551.90 600.4 552.10 608.8 552.30 600.6 552.50 606.2 552.70 602.1 552.90 606.7 553.10 602.7 553.30 605.6 553.50 599.9 553.70 606.5 553.90 600.4 554.10 605.6 554.30 602.8 554.50 608.8 554.70 602.3 554.90 607.6 555.10 601.6 555.30 605.3 555.50 602.5 555.70 605.6 555.90 602.9 556.10 607.3 556.30 602.3 556.50 606.3 556.70 602.1 556.90 606.0 557.10 602.7 557.30 606.2 557.50 601.8 557.70 606.0 557.90 602.8 558.10 605.3 558.30 602.3 558.50 606.2 558.70 602.5 558.90 607.5 559.10 600.2 559.30 606.6 559.50 602.5 559.70 606.6 559.90 601.2 560.10 605.5 560.30 601.2 560.50 605.3 560.70 602.5 560.90 606.1 561.10 600.2 561.30 605.8 561.50 602.6 561.70 606.1 561.90 601.9 562.10 605.7 562.30 601.7 562.50 605.9 562.70 602.0 562.90 605.8 563.10 602.1 563.30 605.3 563.50 602.7 563.70 605.2 563.90 602.5 564.10 605.9 564.30 602.3 564.50 607.3 564.70 600.4 564.90 605.8 565.10 602.7 565.30 605.6 565.50 602.7 565.70 606.5 565.90 602.7 566.10 605.3 566.30 601.9 566.50 605.7 566.70 600.7 566.90 605.2 567.10 602.3 567.30 606.3 567.50 602.6 567.70 608.8 567.90 600.7 568.10 606.1 568.30 602.2 568.50 605.4 568.70 602.3 568.90 606.7 569.10 599.8 569.30 606.0 569.50 601.5 569.70 606.2 569.90 601.0 570.10 605.5 570.30 602.7 570.50 606.0 570.70 602.4 570.90 605.8 571.10 600.5 571.30 605.6 571.50 600.8 571.70 606.2 571.90 602.7 572.10 606.4 572.30 601.1 572.50 607.7 572.70 601.1 572.90 605.7 573.10 602.5 573.30 605.4 573.50 602.6 573.70 607.9 573.90 602.5 574.10 605.5 574.30 601.7 574.50 607.6 574.70 600.1 574.90 605.5 575.10 601.0 575.30 607.4 575.50 600.6 575.70 608.3 575.90 602.1 576.10 607.7 576.30 601.9 576.50 606.5 576.70 602.6 576.90 607.1 577.10 602.8 577.30 606.6 577.50 599.1 577.70 605.6 577.90 600.8 578.10 608.1 578.30 601.4 578.50 605.8 578.70 601.3 578.90 605.6 579.10 602.4 579.30 608.9 579.50 601.3 579.70 606.2 579.90 602.6 580.10 605.6 580.30 601.1 580.50 605.3 580.70 601.3 580.90 605.3 581.10 601.4 581.30 605.3 581.50 602.3 581.70 605.6 581.90 600.4 582.10 606.7 582.30 601.7 582.50 605.9 582.70 601.6 582.90 605.6 583.10 601.3 583.30 606.2 583.50 601.7 583.70 605.5 583.90 602.6 584.10 605.9 584.30 601.7 584.50 607.6 584.70 602.7 584.90 605.2 585.10 601.9 585.30 605.3 585.50 602.4 585.70 606.1 585.90 602.5 586.10 606.0 586.30 602.2 586.50 605.8 586.70 602.5 586.90 605.3 587.10 601.7 587.30 605.8 587.50 602.5 587.70 606.2 587.90 602.5 588.10 606.5 588.30 602.7 588.50 606.1 588.70 602.7 588.90 605.8 589.10 602.0 589.30 605.2 589.50 602.8 589.70 608.9 589.90 601.9 590.10 608.9 590.30 599.1 590.50 605.6 590.70 599.1 590.90 605.3 591.10 600.3 591.30 605.9 591.50 602.5 591.70 605.3 591.90 601.0 592.10 607.5 592.30 601.0 592.50 605.9 592.70 601.7 592.90 605.8 593.10 602.5 593.30 605.2 593.50 601.8 593.70 606.6 593.90 602.1 594.10 607.4 594.30 602.4 594.50 606.9 594.70 602.4 594.90 606.8 595.10 601.6 595.30 606.0 595.50 601.3 595.70 608.7 595.90 602.8 596.10 608.4 596.30 602.5 596.50 605.4 596.70 602.8 596.90 608.1 597.10 602.1 597.30 606.9 597.50 602.4 597.70 606.5 597.90 600.6 598.10 608.6 598.30 601.7 598.50 608.5 598.70 600.3 598.90 605.5 599.10 601.1 599.30 605.3 599.50 602.5 599.70 605.3 599.90 602.5 600.10 606.4 600.30 602.6 600.50 606.5 600.70 602.1 600.90 607.9 601.10 600.1 601.30 605.3 601.50 602.8 601.70 605.9 601.90 600.5 602.10 605.3 602.30 601.4 602.50 605.3 602.70 602.2 602.90 605.9 603.10 602.7 603.30 608.2 603.50 602.6 603.70 605.6 603.90 602.8 604.10 605.2 604.30 601.9 604.50 605.4 604.70 602.2 604.90 606.2 605.10 602.8 605.30 606.1 605.50 602.4 605.70 605.4 605.90 602.4 606.10 607.3 606.30 601.6 606.50 607.0 606.70 602.7 606.90 606.6 607.10 599.2 607.30 605.8 607.50 602.7 607.70 605.7 607.90 601.7 608.10 605.8 608.30 602.2 608.50 605.3 608.70 602.1 608.90 605.4 609.10 602.4 609.30 605.2 609.50 602.8 609.70 605.2 609.90 602.7 610.10 605.7 610.30 601.9 610.50 607.9 610.70 602.5 610.90 607.5 611.10 600.7 611.30 608.6 611.50 601.6 611.70 606.1 611.90 602.7 612.10 606.7 612.30 602.5 612.50 605.8 612.70 602.2 612.90 605.6 613.10 602.8 613.30 605.4 613.50 602.2 613.70 607.2 613.90 599.9 614.10 606.0 614.30 601.0 614.50 606.1 614.70 602.3 614.90 605.2 615.10 602.1 615.30 608.7 615.50 602.8 615.70 608.7 615.90 601.9 616.10 606.1 616.30 600.8 616.50 607.1 616.70 602.0 616.90 605.2 617.10 602.5 617.30 605.9 617.50 602.4 617.70 607.0 617.90 602.6 618.10 605.9 618.30 602.8 618.50 605.3 618.70 602.8 618.90 607.2 619.10 602.9 619.30 605.3 619.50 602.6 619.70 605.8 619.90 601.9 620.10 605.1 620.30 601.2 620.50 605.8 620.70 602.7 620.90 605.4 621.10 602.4 621.30 605.5 621.50 599.4 621.70 605.2 621.90 602.5 622.10 607.0 622.30 601.8 622.50 606.4 622.70 601.2 622.90 607.5 623.10 602.8 623.30 605.6 623.50 599.4 623.70 605.4 623.90 599.4 624.10 605.5 624.30 602.6 624.50 606.6 624.70 602.9 624.90 605.3 625.10 599.7 625.30 605.6 625.50 602.2 625.70 605.1 625.90 602.6 626.10 605.7 626.30 601.5 626.50 605.1 626.70 602.6 626.90 605.7 627.10 601.6 627.30 605.5 627.50 602.7 627.70 608.6 627.90 602.7 628.10 605.8 628.30 602.7 628.50 606.9 628.70 602.9 628.90 607.6 629.10 602.4 629.30 605.4 629.50 602.6 629.70 605.9 629.90 599.5 630.10 606.4 630.30 602.4 630.50 607.1 630.70 602.4 630.90 605.5 631.10 601.9 631.30 605.9 631.50 602.5 631.70 607.3 631.90 601.8 632.10 605.9 632.30 602.9 632.50 606.3 632.70 602.4 632.90 605.6 633.10 600.5 633.30 606.2 633.50 602.7 633.70 605.9 633.90 602.8 634.10 606.5 634.30 600.7 634.50 607.0 634.70 602.6 634.90 608.3 635.10 601.1 635.30 605.1 635.50 602.7 635.70 605.2 635.90 601.7 636.10 606.2 636.30 602.0 636.50 606.6 636.70 601.3 636.90 606.7 637.10 602.6 637.30 607.8 637.50 602.9 637.70 608.2 637.90 602.6 638.10 605.1 638.30 602.3 638.50 607.0 638.70 602.4 638.90 605.6 639.10 601.9 639.30 605.4 639.50 599.6 639.70 605.9 639.90 602.0 640.10 608.3 640.30 599.6 640.50 606.2 640.70 602.9 640.90 608.0 641.10 602.8 641.30 606.8 641.50 602.6 641.70 605.3 641.90 602.3 642.10 605.5 642.30 601.6 642.50 605.5 642.70 601.6 642.90 605.8 643.10 602.3 643.30 605.2 643.50 603.0 643.70 605.3 643.90 601.4 644.10 605.8 644.30 602.3 644.50 608.0 644.70 601.6 644.90 605.2 645.10 602.9 645.30 605.7 645.50 602.8 645.70 605.9 645.90 603.0 646.10 606.9 646.30 601.8 646.50 605.9 646.70 601.5 646.90 605.0 647.10 601.4 647.30 606.3 647.50 599.8 647.70 605.3 647.90 601.2 648.10 606.4 648.30 602.6 648.50 605.7 648.70 601.6 648.90 605.9 649.10 602.3 649.30 605.5 649.50 600.5 649.70 607.3 649.90 602.1 650.10 605.3 650.30 602.6 650.50 605.2 650.70 601.6 650.90 606.5 651.10 601.0 651.30 606.7 651.50 602.5 651.70 605.2 651.90 601.9 652.10 605.1 652.30 601.0 652.50 605.9 652.70 602.2 652.90 606.8 653.10 599.8 653.30 605.0 653.50 602.0 653.70 607.1 653.90 601.5 654.10 605.7 654.30 602.2 654.50 605.0 654.70 601.8 654.90 605.7 655.10 603.0 655.30 605.4 655.50 602.1 655.70 605.2 655.90 602.9 656.10 605.9 656.30 602.0 656.50 605.1 656.70 602.4 656.90 605.5 657.10 602.4 657.30 605.6" fill="none" stroke="#0000ff" stroke-width="0.5" stroke-linejoin="bevel"/>
<path d="M210.2 602.0V661.4M198.4 602.0V615.7M250.0 602.0V623.8M358.0 600.0V619.6M370.7 600.0V621.0M384.6 600.0V628.4M375.3 592.0V617.0M403.5 596.0V618.0M495.0 585.6V632.3M494.0 590.0V630.0M486.9 600.0V627.0M499.6 600.0V621.5M453.0 600.0V616.6M585.4 602.0V660.2M548.6 591.0V606.0M511.7 592.5V606.0M506.7 594.0V606.0" stroke="#0000ff" stroke-opacity="0.38" stroke-width="1"/>
</svg></body></html>
